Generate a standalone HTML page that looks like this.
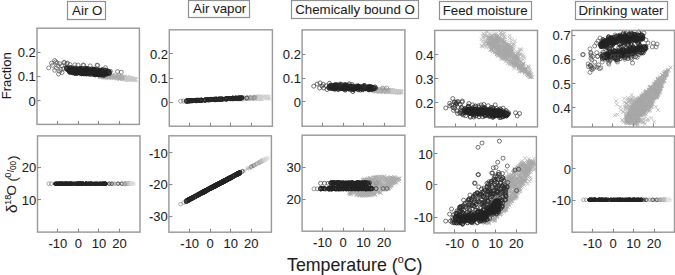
<!DOCTYPE html>
<html><head><meta charset="utf-8"><style>
html,body{margin:0;padding:0;background:#fff;width:675px;height:275px;overflow:hidden}
svg{display:block;font-family:"Liberation Sans",sans-serif} text{stroke:#222;stroke-width:0.08px}
</style></head><body>
<svg width="675" height="275" viewBox="0 0 675 275">
<defs><clipPath id="p1t"><rect x="37.5" y="28.7" width="101.4" height="95.2"/></clipPath><clipPath id="p2t"><rect x="169.8" y="30.3" width="102.09999999999997" height="95.4"/></clipPath><clipPath id="p3t"><rect x="302.6" y="30.4" width="101.79999999999995" height="95.30000000000001"/></clipPath><clipPath id="p4t"><rect x="435.2" y="30.9" width="101.80000000000001" height="95.5"/></clipPath><clipPath id="p5t"><rect x="572.4" y="30.9" width="101.60000000000002" height="95.6"/></clipPath><clipPath id="p1b"><rect x="38.0" y="136.4" width="101.5" height="95.19999999999999"/></clipPath><clipPath id="p2b"><rect x="169.4" y="136.3" width="101.49999999999997" height="95.39999999999998"/></clipPath><clipPath id="p3b"><rect x="302.6" y="135.7" width="101.79999999999995" height="95.0"/></clipPath><clipPath id="p4b"><rect x="434.4" y="137.1" width="101.5" height="95.30000000000001"/></clipPath><clipPath id="p5b"><rect x="572.6" y="136.5" width="101.39999999999998" height="95.19999999999999"/></clipPath></defs>
<path d="M109.9 73.6l3.6 3.6m0 -3.6l-3.6 3.6M117.5 74.8l3.6 3.6m0 -3.6l-3.6 3.6M100.3 75.6l3.6 3.6m0 -3.6l-3.6 3.6M99.5 75.2l3.6 3.6m0 -3.6l-3.6 3.6M100.7 73.2l3.6 3.6m0 -3.6l-3.6 3.6M102.7 74l3.6 3.6m0 -3.6l-3.6 3.6M119 75l3.6 3.6m0 -3.6l-3.6 3.6M103.4 73.4l3.6 3.6m0 -3.6l-3.6 3.6M104.7 76l3.6 3.6m0 -3.6l-3.6 3.6M121.2 74.8l3.6 3.6m0 -3.6l-3.6 3.6M100.3 73.9l3.6 3.6m0 -3.6l-3.6 3.6M122.7 75.1l3.6 3.6m0 -3.6l-3.6 3.6M109.5 76l3.6 3.6m0 -3.6l-3.6 3.6M114.5 74.4l3.6 3.6m0 -3.6l-3.6 3.6M126.8 76.7l3.6 3.6m0 -3.6l-3.6 3.6M107 76l3.6 3.6m0 -3.6l-3.6 3.6M103.7 75.5l3.6 3.6m0 -3.6l-3.6 3.6M125.7 76l3.6 3.6m0 -3.6l-3.6 3.6M123.2 76.1l3.6 3.6m0 -3.6l-3.6 3.6M119.1 75.3l3.6 3.6m0 -3.6l-3.6 3.6M115.3 76.5l3.6 3.6m0 -3.6l-3.6 3.6M112.1 76.5l3.6 3.6m0 -3.6l-3.6 3.6M99 75.3l3.6 3.6m0 -3.6l-3.6 3.6M104.2 73.4l3.6 3.6m0 -3.6l-3.6 3.6M102.9 74.1l3.6 3.6m0 -3.6l-3.6 3.6M101.1 75.3l3.6 3.6m0 -3.6l-3.6 3.6M127.7 77.6l3.6 3.6m0 -3.6l-3.6 3.6M108.2 75.1l3.6 3.6m0 -3.6l-3.6 3.6M104.5 74l3.6 3.6m0 -3.6l-3.6 3.6M106.6 75.5l3.6 3.6m0 -3.6l-3.6 3.6M119.4 74.2l3.6 3.6m0 -3.6l-3.6 3.6M98.3 75.1l3.6 3.6m0 -3.6l-3.6 3.6M111.5 75.9l3.6 3.6m0 -3.6l-3.6 3.6M116.8 76.2l3.6 3.6m0 -3.6l-3.6 3.6M130.6 77.1l3.6 3.6m0 -3.6l-3.6 3.6M129.7 77.2l3.6 3.6m0 -3.6l-3.6 3.6M112.3 75l3.6 3.6m0 -3.6l-3.6 3.6M100.4 73.1l3.6 3.6m0 -3.6l-3.6 3.6M105.7 73.6l3.6 3.6m0 -3.6l-3.6 3.6M110.4 73l3.6 3.6m0 -3.6l-3.6 3.6M98.2 73.6l3.6 3.6m0 -3.6l-3.6 3.6M101.9 74.8l3.6 3.6m0 -3.6l-3.6 3.6M107.3 74.7l3.6 3.6m0 -3.6l-3.6 3.6M111.3 73.4l3.6 3.6m0 -3.6l-3.6 3.6M115 75.5l3.6 3.6m0 -3.6l-3.6 3.6M101.3 73.3l3.6 3.6m0 -3.6l-3.6 3.6M110.5 74.2l3.6 3.6m0 -3.6l-3.6 3.6M129.3 76.7l3.6 3.6m0 -3.6l-3.6 3.6M107.6 74.8l3.6 3.6m0 -3.6l-3.6 3.6M117.4 77.1l3.6 3.6m0 -3.6l-3.6 3.6M110.1 74l3.6 3.6m0 -3.6l-3.6 3.6M128.9 77.3l3.6 3.6m0 -3.6l-3.6 3.6M127.7 76.9l3.6 3.6m0 -3.6l-3.6 3.6M106.4 75.7l3.6 3.6m0 -3.6l-3.6 3.6M111 72.9l3.6 3.6m0 -3.6l-3.6 3.6M99.2 74.3l3.6 3.6m0 -3.6l-3.6 3.6M106.1 74l3.6 3.6m0 -3.6l-3.6 3.6M105.3 73.9l3.6 3.6m0 -3.6l-3.6 3.6M121.7 77.3l3.6 3.6m0 -3.6l-3.6 3.6M131 77.2l3.6 3.6m0 -3.6l-3.6 3.6M125.2 75.4l3.6 3.6m0 -3.6l-3.6 3.6M102.8 73.6l3.6 3.6m0 -3.6l-3.6 3.6M130.8 77.3l3.6 3.6m0 -3.6l-3.6 3.6M110.8 75.8l3.6 3.6m0 -3.6l-3.6 3.6M102.9 72.8l3.6 3.6m0 -3.6l-3.6 3.6M107.3 74.4l3.6 3.6m0 -3.6l-3.6 3.6M106.9 76l3.6 3.6m0 -3.6l-3.6 3.6M107.5 75.1l3.6 3.6m0 -3.6l-3.6 3.6M110.9 75.3l3.6 3.6m0 -3.6l-3.6 3.6M116.3 75.7l3.6 3.6m0 -3.6l-3.6 3.6M114 73.7l3.6 3.6m0 -3.6l-3.6 3.6M104.4 75.4l3.6 3.6m0 -3.6l-3.6 3.6M124.3 75.9l3.6 3.6m0 -3.6l-3.6 3.6M109.9 75.7l3.6 3.6m0 -3.6l-3.6 3.6M118.2 77.2l3.6 3.6m0 -3.6l-3.6 3.6M102 75.9l3.6 3.6m0 -3.6l-3.6 3.6M107.1 74.3l3.6 3.6m0 -3.6l-3.6 3.6M126 75.6l3.6 3.6m0 -3.6l-3.6 3.6M118.4 77l3.6 3.6m0 -3.6l-3.6 3.6M120.3 75.6l3.6 3.6m0 -3.6l-3.6 3.6M116.6 76.6l3.6 3.6m0 -3.6l-3.6 3.6M114.5 75.7l3.6 3.6m0 -3.6l-3.6 3.6M123.4 77.7l3.6 3.6m0 -3.6l-3.6 3.6M102.6 75.2l3.6 3.6m0 -3.6l-3.6 3.6M100.8 74.1l3.6 3.6m0 -3.6l-3.6 3.6M126.4 77.8l3.6 3.6m0 -3.6l-3.6 3.6M112.5 75.5l3.6 3.6m0 -3.6l-3.6 3.6M133.8 77.4l3.6 3.6m0 -3.6l-3.6 3.6M104 75.2l3.6 3.6m0 -3.6l-3.6 3.6M116.8 74.6l3.6 3.6m0 -3.6l-3.6 3.6M105.2 74.5l3.6 3.6m0 -3.6l-3.6 3.6M118.1 75.2l3.6 3.6m0 -3.6l-3.6 3.6M98.9 74.6l3.6 3.6m0 -3.6l-3.6 3.6M120.7 75.6l3.6 3.6m0 -3.6l-3.6 3.6M102 74.2l3.6 3.6m0 -3.6l-3.6 3.6M107.9 73.4l3.6 3.6m0 -3.6l-3.6 3.6M118.7 76.7l3.6 3.6m0 -3.6l-3.6 3.6M101.4 73l3.6 3.6m0 -3.6l-3.6 3.6M123 75.1l3.6 3.6m0 -3.6l-3.6 3.6M121 77.3l3.6 3.6m0 -3.6l-3.6 3.6M114.5 74.6l3.6 3.6m0 -3.6l-3.6 3.6M107.8 73.4l3.6 3.6m0 -3.6l-3.6 3.6M117.2 74.1l3.6 3.6m0 -3.6l-3.6 3.6M102.1 73.6l3.6 3.6m0 -3.6l-3.6 3.6M100 73.9l3.6 3.6m0 -3.6l-3.6 3.6M109.4 74.4l3.6 3.6m0 -3.6l-3.6 3.6M116.2 73.7l3.6 3.6m0 -3.6l-3.6 3.6M110.7 72.8l3.6 3.6m0 -3.6l-3.6 3.6M107.2 72.8l3.6 3.6m0 -3.6l-3.6 3.6M124.6 75.8l3.6 3.6m0 -3.6l-3.6 3.6M105 75.4l3.6 3.6m0 -3.6l-3.6 3.6M112.4 75.6l3.6 3.6m0 -3.6l-3.6 3.6M123.6 76.3l3.6 3.6m0 -3.6l-3.6 3.6M112.8 74.7l3.6 3.6m0 -3.6l-3.6 3.6M100.2 73.4l3.6 3.6m0 -3.6l-3.6 3.6M107.4 73.6l3.6 3.6m0 -3.6l-3.6 3.6M129.5 76.5l3.6 3.6m0 -3.6l-3.6 3.6M108.3 74.1l3.6 3.6m0 -3.6l-3.6 3.6M108.8 75.3l3.6 3.6m0 -3.6l-3.6 3.6M103.9 75.2l3.6 3.6m0 -3.6l-3.6 3.6M109.3 74.7l3.6 3.6m0 -3.6l-3.6 3.6M98.2 74.9l3.6 3.6m0 -3.6l-3.6 3.6M115.3 75.6l3.6 3.6m0 -3.6l-3.6 3.6M105.4 75.6l3.6 3.6m0 -3.6l-3.6 3.6M98.4 74.2l3.6 3.6m0 -3.6l-3.6 3.6M101.4 75l3.6 3.6m0 -3.6l-3.6 3.6M99.7 72.8l3.6 3.6m0 -3.6l-3.6 3.6M109.2 74l3.6 3.6m0 -3.6l-3.6 3.6M119.3 75.7l3.6 3.6m0 -3.6l-3.6 3.6M125.2 76.4l3.6 3.6m0 -3.6l-3.6 3.6M124 77.7l3.6 3.6m0 -3.6l-3.6 3.6M112.2 74.6l3.6 3.6m0 -3.6l-3.6 3.6M124.3 76.4l3.6 3.6m0 -3.6l-3.6 3.6M124.6 77.3l3.6 3.6m0 -3.6l-3.6 3.6M103.2 75.7l3.6 3.6m0 -3.6l-3.6 3.6M127.2 77.4l3.6 3.6m0 -3.6l-3.6 3.6M122.8 76.7l3.6 3.6m0 -3.6l-3.6 3.6M106.5 72.9l3.6 3.6m0 -3.6l-3.6 3.6M103 74.8l3.6 3.6m0 -3.6l-3.6 3.6M118.3 76.3l3.6 3.6m0 -3.6l-3.6 3.6M120.7 76.6l3.6 3.6m0 -3.6l-3.6 3.6M126.9 77l3.6 3.6m0 -3.6l-3.6 3.6M116.3 75.8l3.6 3.6m0 -3.6l-3.6 3.6M100.9 74.2l3.6 3.6m0 -3.6l-3.6 3.6M116 74.9l3.6 3.6m0 -3.6l-3.6 3.6M115.4 76.6l3.6 3.6m0 -3.6l-3.6 3.6M125.8 76.2l3.6 3.6m0 -3.6l-3.6 3.6M103.5 74.1l3.6 3.6m0 -3.6l-3.6 3.6M100.4 74.2l3.6 3.6m0 -3.6l-3.6 3.6M122.4 76.6l3.6 3.6m0 -3.6l-3.6 3.6" fill="none" stroke="#acacac" stroke-width="0.75" clip-path="url(#p1t)"/>
<path d="M129.4 76.7l3.6 3.6m0 -3.6l-3.6 3.6M134 78.3l3.6 3.6m0 -3.6l-3.6 3.6M124.4 76.7l3.6 3.6m0 -3.6l-3.6 3.6M132.4 78.4l3.6 3.6m0 -3.6l-3.6 3.6M126.3 77.1l3.6 3.6m0 -3.6l-3.6 3.6M125.6 76.9l3.6 3.6m0 -3.6l-3.6 3.6M132.4 76.9l3.6 3.6m0 -3.6l-3.6 3.6M133.1 77.5l3.6 3.6m0 -3.6l-3.6 3.6M124.2 76.8l3.6 3.6m0 -3.6l-3.6 3.6M128.7 76.2l3.6 3.6m0 -3.6l-3.6 3.6M125.6 76.3l3.6 3.6m0 -3.6l-3.6 3.6M127.4 78l3.6 3.6m0 -3.6l-3.6 3.6M124.2 77.7l3.6 3.6m0 -3.6l-3.6 3.6M133.5 77.6l3.6 3.6m0 -3.6l-3.6 3.6M127.9 76.5l3.6 3.6m0 -3.6l-3.6 3.6M127.8 76.6l3.6 3.6m0 -3.6l-3.6 3.6M125.2 78l3.6 3.6m0 -3.6l-3.6 3.6M126.7 76.1l3.6 3.6m0 -3.6l-3.6 3.6M133 77.9l3.6 3.6m0 -3.6l-3.6 3.6M130.5 78.2l3.6 3.6m0 -3.6l-3.6 3.6M131.5 76.7l3.6 3.6m0 -3.6l-3.6 3.6M131.7 77.3l3.6 3.6m0 -3.6l-3.6 3.6M128.9 76.3l3.6 3.6m0 -3.6l-3.6 3.6M127.2 77.6l3.6 3.6m0 -3.6l-3.6 3.6M129.8 76.5l3.6 3.6m0 -3.6l-3.6 3.6M125.9 75.7l3.6 3.6m0 -3.6l-3.6 3.6M126.6 76.1l3.6 3.6m0 -3.6l-3.6 3.6M129.9 78.1l3.6 3.6m0 -3.6l-3.6 3.6M128.3 76.9l3.6 3.6m0 -3.6l-3.6 3.6M128 76.3l3.6 3.6m0 -3.6l-3.6 3.6M124.8 76.1l3.6 3.6m0 -3.6l-3.6 3.6M129.2 77.3l3.6 3.6m0 -3.6l-3.6 3.6M126.9 76l3.6 3.6m0 -3.6l-3.6 3.6M128.2 76.7l3.6 3.6m0 -3.6l-3.6 3.6M133.7 78l3.6 3.6m0 -3.6l-3.6 3.6M124.5 77.5l3.6 3.6m0 -3.6l-3.6 3.6M132.5 78l3.6 3.6m0 -3.6l-3.6 3.6M125.3 75.7l3.6 3.6m0 -3.6l-3.6 3.6M129.4 77.5l3.6 3.6m0 -3.6l-3.6 3.6M133.6 77.6l3.6 3.6m0 -3.6l-3.6 3.6" fill="none" stroke="#c8c8c8" stroke-width="0.75" clip-path="url(#p1t)"/>
<path d="M92.1 73.4a2 2 0 1 0 4 0a2 2 0 1 0 -4 0M83.6 71.7a2 2 0 1 0 4 0a2 2 0 1 0 -4 0M92 69.7a2 2 0 1 0 4 0a2 2 0 1 0 -4 0M68.8 69.2a2 2 0 1 0 4 0a2 2 0 1 0 -4 0M91.6 72.9a2 2 0 1 0 4 0a2 2 0 1 0 -4 0M68 67.8a2 2 0 1 0 4 0a2 2 0 1 0 -4 0M86.6 71.9a2 2 0 1 0 4 0a2 2 0 1 0 -4 0M80.5 69a2 2 0 1 0 4 0a2 2 0 1 0 -4 0M76.6 70.9a2 2 0 1 0 4 0a2 2 0 1 0 -4 0M106.2 72.4a2 2 0 1 0 4 0a2 2 0 1 0 -4 0M102.8 71a2 2 0 1 0 4 0a2 2 0 1 0 -4 0M73.6 69.2a2 2 0 1 0 4 0a2 2 0 1 0 -4 0M106.2 72.9a2 2 0 1 0 4 0a2 2 0 1 0 -4 0M85.4 72.7a2 2 0 1 0 4 0a2 2 0 1 0 -4 0M81.9 69.3a2 2 0 1 0 4 0a2 2 0 1 0 -4 0M93 74.7a2 2 0 1 0 4 0a2 2 0 1 0 -4 0M78.2 70.6a2 2 0 1 0 4 0a2 2 0 1 0 -4 0M98.9 73.2a2 2 0 1 0 4 0a2 2 0 1 0 -4 0M85.7 68.9a2 2 0 1 0 4 0a2 2 0 1 0 -4 0M73 73.4a2 2 0 1 0 4 0a2 2 0 1 0 -4 0M85.3 68.7a2 2 0 1 0 4 0a2 2 0 1 0 -4 0M73 70.6a2 2 0 1 0 4 0a2 2 0 1 0 -4 0M69.6 70.4a2 2 0 1 0 4 0a2 2 0 1 0 -4 0M69.4 67.6a2 2 0 1 0 4 0a2 2 0 1 0 -4 0M103.4 74.4a2 2 0 1 0 4 0a2 2 0 1 0 -4 0M92.9 70.3a2 2 0 1 0 4 0a2 2 0 1 0 -4 0M79.8 69.9a2 2 0 1 0 4 0a2 2 0 1 0 -4 0M75.6 70a2 2 0 1 0 4 0a2 2 0 1 0 -4 0M100 70.7a2 2 0 1 0 4 0a2 2 0 1 0 -4 0M71.7 70.2a2 2 0 1 0 4 0a2 2 0 1 0 -4 0M81.5 73.8a2 2 0 1 0 4 0a2 2 0 1 0 -4 0M64.6 67.7a2 2 0 1 0 4 0a2 2 0 1 0 -4 0M96.6 74.5a2 2 0 1 0 4 0a2 2 0 1 0 -4 0M78.3 69.4a2 2 0 1 0 4 0a2 2 0 1 0 -4 0M106.1 72.2a2 2 0 1 0 4 0a2 2 0 1 0 -4 0M74.8 73a2 2 0 1 0 4 0a2 2 0 1 0 -4 0M77.2 69.4a2 2 0 1 0 4 0a2 2 0 1 0 -4 0M104.2 72.3a2 2 0 1 0 4 0a2 2 0 1 0 -4 0M73.5 71a2 2 0 1 0 4 0a2 2 0 1 0 -4 0M80.4 69.2a2 2 0 1 0 4 0a2 2 0 1 0 -4 0M82.3 71.2a2 2 0 1 0 4 0a2 2 0 1 0 -4 0M99.1 73.2a2 2 0 1 0 4 0a2 2 0 1 0 -4 0M100 73.5a2 2 0 1 0 4 0a2 2 0 1 0 -4 0M90.3 69.9a2 2 0 1 0 4 0a2 2 0 1 0 -4 0M77.4 70.1a2 2 0 1 0 4 0a2 2 0 1 0 -4 0M67.3 71.2a2 2 0 1 0 4 0a2 2 0 1 0 -4 0M94.9 70.8a2 2 0 1 0 4 0a2 2 0 1 0 -4 0M73.5 70.6a2 2 0 1 0 4 0a2 2 0 1 0 -4 0M90.9 72.7a2 2 0 1 0 4 0a2 2 0 1 0 -4 0M96.7 74.1a2 2 0 1 0 4 0a2 2 0 1 0 -4 0M88.5 70.2a2 2 0 1 0 4 0a2 2 0 1 0 -4 0M74.1 69.2a2 2 0 1 0 4 0a2 2 0 1 0 -4 0M89 69.8a2 2 0 1 0 4 0a2 2 0 1 0 -4 0M85.8 69.1a2 2 0 1 0 4 0a2 2 0 1 0 -4 0M99.4 72.5a2 2 0 1 0 4 0a2 2 0 1 0 -4 0M84.4 73.8a2 2 0 1 0 4 0a2 2 0 1 0 -4 0M100.8 74.6a2 2 0 1 0 4 0a2 2 0 1 0 -4 0M68.4 68.7a2 2 0 1 0 4 0a2 2 0 1 0 -4 0M106.8 71.9a2 2 0 1 0 4 0a2 2 0 1 0 -4 0M102 70.8a2 2 0 1 0 4 0a2 2 0 1 0 -4 0M74.7 73.5a2 2 0 1 0 4 0a2 2 0 1 0 -4 0M89.8 72.2a2 2 0 1 0 4 0a2 2 0 1 0 -4 0M72.8 70.2a2 2 0 1 0 4 0a2 2 0 1 0 -4 0M69.4 68.9a2 2 0 1 0 4 0a2 2 0 1 0 -4 0M74.5 72.1a2 2 0 1 0 4 0a2 2 0 1 0 -4 0M77 68.8a2 2 0 1 0 4 0a2 2 0 1 0 -4 0M98.8 71.6a2 2 0 1 0 4 0a2 2 0 1 0 -4 0M65.8 68a2 2 0 1 0 4 0a2 2 0 1 0 -4 0M80.8 71.7a2 2 0 1 0 4 0a2 2 0 1 0 -4 0M70.4 72.8a2 2 0 1 0 4 0a2 2 0 1 0 -4 0M81.4 69.5a2 2 0 1 0 4 0a2 2 0 1 0 -4 0M77.1 71.8a2 2 0 1 0 4 0a2 2 0 1 0 -4 0M79.1 70.6a2 2 0 1 0 4 0a2 2 0 1 0 -4 0M101.9 75.3a2 2 0 1 0 4 0a2 2 0 1 0 -4 0M79.4 68.8a2 2 0 1 0 4 0a2 2 0 1 0 -4 0M82.1 73.8a2 2 0 1 0 4 0a2 2 0 1 0 -4 0M83.7 68.5a2 2 0 1 0 4 0a2 2 0 1 0 -4 0M91.8 74.6a2 2 0 1 0 4 0a2 2 0 1 0 -4 0M79.7 71.3a2 2 0 1 0 4 0a2 2 0 1 0 -4 0M69.6 69.5a2 2 0 1 0 4 0a2 2 0 1 0 -4 0M67.9 71.2a2 2 0 1 0 4 0a2 2 0 1 0 -4 0M99.2 75a2 2 0 1 0 4 0a2 2 0 1 0 -4 0M71.9 68.2a2 2 0 1 0 4 0a2 2 0 1 0 -4 0M104.7 70.3a2 2 0 1 0 4 0a2 2 0 1 0 -4 0M103.7 72.2a2 2 0 1 0 4 0a2 2 0 1 0 -4 0M72.8 70.4a2 2 0 1 0 4 0a2 2 0 1 0 -4 0M86.3 70.3a2 2 0 1 0 4 0a2 2 0 1 0 -4 0M68.5 69.2a2 2 0 1 0 4 0a2 2 0 1 0 -4 0M95.6 74.5a2 2 0 1 0 4 0a2 2 0 1 0 -4 0M90 71.7a2 2 0 1 0 4 0a2 2 0 1 0 -4 0M91.2 69.7a2 2 0 1 0 4 0a2 2 0 1 0 -4 0M81.9 71.9a2 2 0 1 0 4 0a2 2 0 1 0 -4 0M82.2 72.5a2 2 0 1 0 4 0a2 2 0 1 0 -4 0M83.1 70.8a2 2 0 1 0 4 0a2 2 0 1 0 -4 0M85 69.1a2 2 0 1 0 4 0a2 2 0 1 0 -4 0M97.4 73.5a2 2 0 1 0 4 0a2 2 0 1 0 -4 0M83.6 68.7a2 2 0 1 0 4 0a2 2 0 1 0 -4 0M68.8 70.7a2 2 0 1 0 4 0a2 2 0 1 0 -4 0M67.1 70.8a2 2 0 1 0 4 0a2 2 0 1 0 -4 0M96 73.5a2 2 0 1 0 4 0a2 2 0 1 0 -4 0M85.7 70.3a2 2 0 1 0 4 0a2 2 0 1 0 -4 0M101.6 75.3a2 2 0 1 0 4 0a2 2 0 1 0 -4 0M95.9 73.8a2 2 0 1 0 4 0a2 2 0 1 0 -4 0M98.5 74.7a2 2 0 1 0 4 0a2 2 0 1 0 -4 0M65.9 70a2 2 0 1 0 4 0a2 2 0 1 0 -4 0M72.4 69.3a2 2 0 1 0 4 0a2 2 0 1 0 -4 0M85.8 69.8a2 2 0 1 0 4 0a2 2 0 1 0 -4 0M64.7 68.7a2 2 0 1 0 4 0a2 2 0 1 0 -4 0M93.6 74.5a2 2 0 1 0 4 0a2 2 0 1 0 -4 0M68.2 71.5a2 2 0 1 0 4 0a2 2 0 1 0 -4 0M91.6 70.1a2 2 0 1 0 4 0a2 2 0 1 0 -4 0M102.3 71.7a2 2 0 1 0 4 0a2 2 0 1 0 -4 0M89.1 74.3a2 2 0 1 0 4 0a2 2 0 1 0 -4 0M91.3 70.4a2 2 0 1 0 4 0a2 2 0 1 0 -4 0M107.6 71.9a2 2 0 1 0 4 0a2 2 0 1 0 -4 0M79.2 73.4a2 2 0 1 0 4 0a2 2 0 1 0 -4 0M82.9 68.6a2 2 0 1 0 4 0a2 2 0 1 0 -4 0M89.4 72.6a2 2 0 1 0 4 0a2 2 0 1 0 -4 0M64.5 68.4a2 2 0 1 0 4 0a2 2 0 1 0 -4 0M90.7 70.7a2 2 0 1 0 4 0a2 2 0 1 0 -4 0M68.9 69a2 2 0 1 0 4 0a2 2 0 1 0 -4 0M67.8 70.1a2 2 0 1 0 4 0a2 2 0 1 0 -4 0M73.1 71.9a2 2 0 1 0 4 0a2 2 0 1 0 -4 0M89.5 68.9a2 2 0 1 0 4 0a2 2 0 1 0 -4 0M91.1 71a2 2 0 1 0 4 0a2 2 0 1 0 -4 0M74 68.4a2 2 0 1 0 4 0a2 2 0 1 0 -4 0M102.2 73.5a2 2 0 1 0 4 0a2 2 0 1 0 -4 0M81.1 69.3a2 2 0 1 0 4 0a2 2 0 1 0 -4 0M88.3 70a2 2 0 1 0 4 0a2 2 0 1 0 -4 0M92.1 70.8a2 2 0 1 0 4 0a2 2 0 1 0 -4 0M105.2 73.1a2 2 0 1 0 4 0a2 2 0 1 0 -4 0M81.3 69.1a2 2 0 1 0 4 0a2 2 0 1 0 -4 0M72 72.1a2 2 0 1 0 4 0a2 2 0 1 0 -4 0M85.8 72.4a2 2 0 1 0 4 0a2 2 0 1 0 -4 0M76.9 69.6a2 2 0 1 0 4 0a2 2 0 1 0 -4 0M98.2 73a2 2 0 1 0 4 0a2 2 0 1 0 -4 0M96.5 71a2 2 0 1 0 4 0a2 2 0 1 0 -4 0M96.4 70.9a2 2 0 1 0 4 0a2 2 0 1 0 -4 0M73.2 68.1a2 2 0 1 0 4 0a2 2 0 1 0 -4 0M78.1 73.3a2 2 0 1 0 4 0a2 2 0 1 0 -4 0M94.3 74a2 2 0 1 0 4 0a2 2 0 1 0 -4 0M95 69.4a2 2 0 1 0 4 0a2 2 0 1 0 -4 0M87.9 70.7a2 2 0 1 0 4 0a2 2 0 1 0 -4 0M98.5 71.4a2 2 0 1 0 4 0a2 2 0 1 0 -4 0M74.9 72.4a2 2 0 1 0 4 0a2 2 0 1 0 -4 0M74.7 69.1a2 2 0 1 0 4 0a2 2 0 1 0 -4 0M96.5 74.9a2 2 0 1 0 4 0a2 2 0 1 0 -4 0M96.6 69.8a2 2 0 1 0 4 0a2 2 0 1 0 -4 0M102.6 69.9a2 2 0 1 0 4 0a2 2 0 1 0 -4 0M91.4 72.8a2 2 0 1 0 4 0a2 2 0 1 0 -4 0M84.1 74a2 2 0 1 0 4 0a2 2 0 1 0 -4 0M94.4 74.1a2 2 0 1 0 4 0a2 2 0 1 0 -4 0M82.7 73.1a2 2 0 1 0 4 0a2 2 0 1 0 -4 0M88.7 69.7a2 2 0 1 0 4 0a2 2 0 1 0 -4 0M72.5 72.2a2 2 0 1 0 4 0a2 2 0 1 0 -4 0M78.5 68.3a2 2 0 1 0 4 0a2 2 0 1 0 -4 0M64.3 67.5a2 2 0 1 0 4 0a2 2 0 1 0 -4 0M94.2 72.3a2 2 0 1 0 4 0a2 2 0 1 0 -4 0M94.4 73.2a2 2 0 1 0 4 0a2 2 0 1 0 -4 0M79.4 73.8a2 2 0 1 0 4 0a2 2 0 1 0 -4 0M99.9 74.4a2 2 0 1 0 4 0a2 2 0 1 0 -4 0M67.8 68.9a2 2 0 1 0 4 0a2 2 0 1 0 -4 0M101.1 73.8a2 2 0 1 0 4 0a2 2 0 1 0 -4 0M91.5 73.9a2 2 0 1 0 4 0a2 2 0 1 0 -4 0M91.4 69.5a2 2 0 1 0 4 0a2 2 0 1 0 -4 0M67.5 68a2 2 0 1 0 4 0a2 2 0 1 0 -4 0M77.4 70.6a2 2 0 1 0 4 0a2 2 0 1 0 -4 0M75.7 73a2 2 0 1 0 4 0a2 2 0 1 0 -4 0M79.6 69.8a2 2 0 1 0 4 0a2 2 0 1 0 -4 0M106.4 71.3a2 2 0 1 0 4 0a2 2 0 1 0 -4 0M101.3 72.2a2 2 0 1 0 4 0a2 2 0 1 0 -4 0M82.6 73.5a2 2 0 1 0 4 0a2 2 0 1 0 -4 0M78.6 72.9a2 2 0 1 0 4 0a2 2 0 1 0 -4 0M87.2 69a2 2 0 1 0 4 0a2 2 0 1 0 -4 0M85.1 73.7a2 2 0 1 0 4 0a2 2 0 1 0 -4 0M71.3 71.2a2 2 0 1 0 4 0a2 2 0 1 0 -4 0M75.8 68.9a2 2 0 1 0 4 0a2 2 0 1 0 -4 0M94.5 71.2a2 2 0 1 0 4 0a2 2 0 1 0 -4 0M67.9 72.4a2 2 0 1 0 4 0a2 2 0 1 0 -4 0M94.4 73.6a2 2 0 1 0 4 0a2 2 0 1 0 -4 0M91.3 70.1a2 2 0 1 0 4 0a2 2 0 1 0 -4 0M81.1 70.4a2 2 0 1 0 4 0a2 2 0 1 0 -4 0M72.3 69.3a2 2 0 1 0 4 0a2 2 0 1 0 -4 0M103.6 71.3a2 2 0 1 0 4 0a2 2 0 1 0 -4 0M73.5 70.9a2 2 0 1 0 4 0a2 2 0 1 0 -4 0M86.9 73.3a2 2 0 1 0 4 0a2 2 0 1 0 -4 0M96.9 72.4a2 2 0 1 0 4 0a2 2 0 1 0 -4 0M78.7 69.8a2 2 0 1 0 4 0a2 2 0 1 0 -4 0M92.8 73.2a2 2 0 1 0 4 0a2 2 0 1 0 -4 0M70.6 70.8a2 2 0 1 0 4 0a2 2 0 1 0 -4 0M97.8 71.9a2 2 0 1 0 4 0a2 2 0 1 0 -4 0M68.7 70.9a2 2 0 1 0 4 0a2 2 0 1 0 -4 0M71.6 69.6a2 2 0 1 0 4 0a2 2 0 1 0 -4 0M94.6 74a2 2 0 1 0 4 0a2 2 0 1 0 -4 0M70 68.5a2 2 0 1 0 4 0a2 2 0 1 0 -4 0M74.1 69.8a2 2 0 1 0 4 0a2 2 0 1 0 -4 0M77.8 68.7a2 2 0 1 0 4 0a2 2 0 1 0 -4 0M106.9 73.1a2 2 0 1 0 4 0a2 2 0 1 0 -4 0M67.6 70.3a2 2 0 1 0 4 0a2 2 0 1 0 -4 0M107.3 73.6a2 2 0 1 0 4 0a2 2 0 1 0 -4 0M96 70.7a2 2 0 1 0 4 0a2 2 0 1 0 -4 0M71.8 72.4a2 2 0 1 0 4 0a2 2 0 1 0 -4 0M67.8 68.9a2 2 0 1 0 4 0a2 2 0 1 0 -4 0M81 73.6a2 2 0 1 0 4 0a2 2 0 1 0 -4 0M94.2 71.3a2 2 0 1 0 4 0a2 2 0 1 0 -4 0M91.5 71a2 2 0 1 0 4 0a2 2 0 1 0 -4 0M69.4 72.1a2 2 0 1 0 4 0a2 2 0 1 0 -4 0M81.2 73.2a2 2 0 1 0 4 0a2 2 0 1 0 -4 0M103.9 70.7a2 2 0 1 0 4 0a2 2 0 1 0 -4 0M88.8 73.3a2 2 0 1 0 4 0a2 2 0 1 0 -4 0M82 69.1a2 2 0 1 0 4 0a2 2 0 1 0 -4 0M95.5 74.3a2 2 0 1 0 4 0a2 2 0 1 0 -4 0M97.8 72.9a2 2 0 1 0 4 0a2 2 0 1 0 -4 0M101.4 72.7a2 2 0 1 0 4 0a2 2 0 1 0 -4 0M91.9 70.9a2 2 0 1 0 4 0a2 2 0 1 0 -4 0M77.1 72.3a2 2 0 1 0 4 0a2 2 0 1 0 -4 0M67.4 70.6a2 2 0 1 0 4 0a2 2 0 1 0 -4 0M98.2 73a2 2 0 1 0 4 0a2 2 0 1 0 -4 0M91.3 69.2a2 2 0 1 0 4 0a2 2 0 1 0 -4 0M82.1 70.9a2 2 0 1 0 4 0a2 2 0 1 0 -4 0M91 70.5a2 2 0 1 0 4 0a2 2 0 1 0 -4 0M93.4 74.7a2 2 0 1 0 4 0a2 2 0 1 0 -4 0M71.2 72.5a2 2 0 1 0 4 0a2 2 0 1 0 -4 0M98 70.3a2 2 0 1 0 4 0a2 2 0 1 0 -4 0M105.3 71.4a2 2 0 1 0 4 0a2 2 0 1 0 -4 0M67.5 71.9a2 2 0 1 0 4 0a2 2 0 1 0 -4 0M87.3 73a2 2 0 1 0 4 0a2 2 0 1 0 -4 0M86 72.4a2 2 0 1 0 4 0a2 2 0 1 0 -4 0M100.3 71.4a2 2 0 1 0 4 0a2 2 0 1 0 -4 0M72.5 72.7a2 2 0 1 0 4 0a2 2 0 1 0 -4 0M80.7 73.4a2 2 0 1 0 4 0a2 2 0 1 0 -4 0M75.3 70.4a2 2 0 1 0 4 0a2 2 0 1 0 -4 0M81.9 72.9a2 2 0 1 0 4 0a2 2 0 1 0 -4 0M78.8 69.3a2 2 0 1 0 4 0a2 2 0 1 0 -4 0M73.1 73.2a2 2 0 1 0 4 0a2 2 0 1 0 -4 0M105.3 71.5a2 2 0 1 0 4 0a2 2 0 1 0 -4 0M80.6 68.9a2 2 0 1 0 4 0a2 2 0 1 0 -4 0M99.4 72.3a2 2 0 1 0 4 0a2 2 0 1 0 -4 0M84.1 71.8a2 2 0 1 0 4 0a2 2 0 1 0 -4 0M78.9 72.4a2 2 0 1 0 4 0a2 2 0 1 0 -4 0M99.8 73.8a2 2 0 1 0 4 0a2 2 0 1 0 -4 0M84.1 69.6a2 2 0 1 0 4 0a2 2 0 1 0 -4 0M100.5 70.1a2 2 0 1 0 4 0a2 2 0 1 0 -4 0M79.9 69.3a2 2 0 1 0 4 0a2 2 0 1 0 -4 0M82.2 68.7a2 2 0 1 0 4 0a2 2 0 1 0 -4 0M75.7 69.2a2 2 0 1 0 4 0a2 2 0 1 0 -4 0M76.6 71.1a2 2 0 1 0 4 0a2 2 0 1 0 -4 0M82.3 72.4a2 2 0 1 0 4 0a2 2 0 1 0 -4 0M92.7 70.1a2 2 0 1 0 4 0a2 2 0 1 0 -4 0M104.8 74.1a2 2 0 1 0 4 0a2 2 0 1 0 -4 0M103.8 73.6a2 2 0 1 0 4 0a2 2 0 1 0 -4 0M92.5 69.2a2 2 0 1 0 4 0a2 2 0 1 0 -4 0M67.6 68.4a2 2 0 1 0 4 0a2 2 0 1 0 -4 0M78.6 68.4a2 2 0 1 0 4 0a2 2 0 1 0 -4 0M103.7 73.6a2 2 0 1 0 4 0a2 2 0 1 0 -4 0M90.4 73.5a2 2 0 1 0 4 0a2 2 0 1 0 -4 0M93.1 74.4a2 2 0 1 0 4 0a2 2 0 1 0 -4 0M98.5 74a2 2 0 1 0 4 0a2 2 0 1 0 -4 0M71.9 72.8a2 2 0 1 0 4 0a2 2 0 1 0 -4 0M86.9 73.2a2 2 0 1 0 4 0a2 2 0 1 0 -4 0M88 69.3a2 2 0 1 0 4 0a2 2 0 1 0 -4 0M73.5 68.3a2 2 0 1 0 4 0a2 2 0 1 0 -4 0M85.1 71.2a2 2 0 1 0 4 0a2 2 0 1 0 -4 0M87.3 74.2a2 2 0 1 0 4 0a2 2 0 1 0 -4 0M84.1 71.8a2 2 0 1 0 4 0a2 2 0 1 0 -4 0M92.9 74a2 2 0 1 0 4 0a2 2 0 1 0 -4 0M79.9 70.6a2 2 0 1 0 4 0a2 2 0 1 0 -4 0M91.7 72.4a2 2 0 1 0 4 0a2 2 0 1 0 -4 0M93.7 74.7a2 2 0 1 0 4 0a2 2 0 1 0 -4 0M86 71.1a2 2 0 1 0 4 0a2 2 0 1 0 -4 0M95.3 72.3a2 2 0 1 0 4 0a2 2 0 1 0 -4 0M79.5 71a2 2 0 1 0 4 0a2 2 0 1 0 -4 0M86.6 73.4a2 2 0 1 0 4 0a2 2 0 1 0 -4 0M72.5 70.7a2 2 0 1 0 4 0a2 2 0 1 0 -4 0M82 71.7a2 2 0 1 0 4 0a2 2 0 1 0 -4 0M100.2 69.6a2 2 0 1 0 4 0a2 2 0 1 0 -4 0M100.2 70.5a2 2 0 1 0 4 0a2 2 0 1 0 -4 0M85.7 69.4a2 2 0 1 0 4 0a2 2 0 1 0 -4 0M92.5 73.6a2 2 0 1 0 4 0a2 2 0 1 0 -4 0M77.9 69.8a2 2 0 1 0 4 0a2 2 0 1 0 -4 0M76.5 72a2 2 0 1 0 4 0a2 2 0 1 0 -4 0M91.6 73.6a2 2 0 1 0 4 0a2 2 0 1 0 -4 0M102.9 71.6a2 2 0 1 0 4 0a2 2 0 1 0 -4 0M65.2 69.6a2 2 0 1 0 4 0a2 2 0 1 0 -4 0M104.5 72.1a2 2 0 1 0 4 0a2 2 0 1 0 -4 0M92.6 73.6a2 2 0 1 0 4 0a2 2 0 1 0 -4 0M103.9 72.2a2 2 0 1 0 4 0a2 2 0 1 0 -4 0M90.8 72.3a2 2 0 1 0 4 0a2 2 0 1 0 -4 0M94.3 72a2 2 0 1 0 4 0a2 2 0 1 0 -4 0M93 70.9a2 2 0 1 0 4 0a2 2 0 1 0 -4 0" fill="none" stroke="#222" stroke-width="0.8"/>
<path d="M46.7 67.9a2 2 0 1 0 4 0a2 2 0 1 0 -4 0M49.5 63.2a2 2 0 1 0 4 0a2 2 0 1 0 -4 0M52.7 60.5a2 2 0 1 0 4 0a2 2 0 1 0 -4 0M53.8 61.8a2 2 0 1 0 4 0a2 2 0 1 0 -4 0M50.6 65.4a2 2 0 1 0 4 0a2 2 0 1 0 -4 0M52.7 70.3a2 2 0 1 0 4 0a2 2 0 1 0 -4 0M54.4 68.1a2 2 0 1 0 4 0a2 2 0 1 0 -4 0M56 65.9a2 2 0 1 0 4 0a2 2 0 1 0 -4 0M57.7 63.7a2 2 0 1 0 4 0a2 2 0 1 0 -4 0M59.8 65.9a2 2 0 1 0 4 0a2 2 0 1 0 -4 0M62.6 62.6a2 2 0 1 0 4 0a2 2 0 1 0 -4 0M64.7 63.7a2 2 0 1 0 4 0a2 2 0 1 0 -4 0M61.5 68.6a2 2 0 1 0 4 0a2 2 0 1 0 -4 0M57.7 71.4a2 2 0 1 0 4 0a2 2 0 1 0 -4 0M72.9 64.8a2 2 0 1 0 4 0a2 2 0 1 0 -4 0M81.7 65.4a2 2 0 1 0 4 0a2 2 0 1 0 -4 0M88.2 65.9a2 2 0 1 0 4 0a2 2 0 1 0 -4 0M95.1 65.2a2 2 0 1 0 4 0a2 2 0 1 0 -4 0M103.4 67.7a2 2 0 1 0 4 0a2 2 0 1 0 -4 0M108.5 71.3a2 2 0 1 0 4 0a2 2 0 1 0 -4 0M115.5 71.6a2 2 0 1 0 4 0a2 2 0 1 0 -4 0M119.3 72.2a2 2 0 1 0 4 0a2 2 0 1 0 -4 0M61.9 62.4a2 2 0 1 0 4 0a2 2 0 1 0 -4 0M65.4 63.2a2 2 0 1 0 4 0a2 2 0 1 0 -4 0M81.1 65a2 2 0 1 0 4 0a2 2 0 1 0 -4 0M95.6 65.4a2 2 0 1 0 4 0a2 2 0 1 0 -4 0M55 63a2 2 0 1 0 4 0a2 2 0 1 0 -4 0M59 69.5a2 2 0 1 0 4 0a2 2 0 1 0 -4 0M60 72.5a2 2 0 1 0 4 0a2 2 0 1 0 -4 0M56.5 74a2 2 0 1 0 4 0a2 2 0 1 0 -4 0M68 64.5a2 2 0 1 0 4 0a2 2 0 1 0 -4 0M76 65a2 2 0 1 0 4 0a2 2 0 1 0 -4 0" fill="none" stroke="#4a4a4a" stroke-width="0.65"/>
<path d="M254.5 94.8l3.6 3.6m0 -3.6l-3.6 3.6M251.9 95.7l3.6 3.6m0 -3.6l-3.6 3.6M255.9 97.1l3.6 3.6m0 -3.6l-3.6 3.6M249.7 95.4l3.6 3.6m0 -3.6l-3.6 3.6M243.4 95.9l3.6 3.6m0 -3.6l-3.6 3.6M243.8 95.9l3.6 3.6m0 -3.6l-3.6 3.6M237.5 96.4l3.6 3.6m0 -3.6l-3.6 3.6M255.6 96.4l3.6 3.6m0 -3.6l-3.6 3.6M258.2 96l3.6 3.6m0 -3.6l-3.6 3.6M236.5 95.8l3.6 3.6m0 -3.6l-3.6 3.6M259.7 96.1l3.6 3.6m0 -3.6l-3.6 3.6M246.1 94.8l3.6 3.6m0 -3.6l-3.6 3.6M251.7 95.2l3.6 3.6m0 -3.6l-3.6 3.6M236.3 96.8l3.6 3.6m0 -3.6l-3.6 3.6M239.1 97.7l3.6 3.6m0 -3.6l-3.6 3.6M238.3 97.4l3.6 3.6m0 -3.6l-3.6 3.6M253.5 95.3l3.6 3.6m0 -3.6l-3.6 3.6M253.8 95.1l3.6 3.6m0 -3.6l-3.6 3.6M237.4 97.1l3.6 3.6m0 -3.6l-3.6 3.6M253.3 97.3l3.6 3.6m0 -3.6l-3.6 3.6M253.7 94.8l3.6 3.6m0 -3.6l-3.6 3.6M251.3 96.8l3.6 3.6m0 -3.6l-3.6 3.6M236.6 96.6l3.6 3.6m0 -3.6l-3.6 3.6M255.8 94.8l3.6 3.6m0 -3.6l-3.6 3.6M243.7 96.9l3.6 3.6m0 -3.6l-3.6 3.6M240.2 97.3l3.6 3.6m0 -3.6l-3.6 3.6M245 96.4l3.6 3.6m0 -3.6l-3.6 3.6M246.7 96.7l3.6 3.6m0 -3.6l-3.6 3.6M239.7 97.1l3.6 3.6m0 -3.6l-3.6 3.6M244.9 96.6l3.6 3.6m0 -3.6l-3.6 3.6M251.3 95.9l3.6 3.6m0 -3.6l-3.6 3.6M245.5 97.1l3.6 3.6m0 -3.6l-3.6 3.6M258.9 97.1l3.6 3.6m0 -3.6l-3.6 3.6M249.8 95.5l3.6 3.6m0 -3.6l-3.6 3.6M237.7 97.7l3.6 3.6m0 -3.6l-3.6 3.6M253.1 97.2l3.6 3.6m0 -3.6l-3.6 3.6M244.2 96.5l3.6 3.6m0 -3.6l-3.6 3.6M250.6 95.5l3.6 3.6m0 -3.6l-3.6 3.6M246.5 97.4l3.6 3.6m0 -3.6l-3.6 3.6M245.2 96.8l3.6 3.6m0 -3.6l-3.6 3.6M255.6 95.4l3.6 3.6m0 -3.6l-3.6 3.6M236.2 95.4l3.6 3.6m0 -3.6l-3.6 3.6M246.3 96.4l3.6 3.6m0 -3.6l-3.6 3.6M237.2 97.2l3.6 3.6m0 -3.6l-3.6 3.6M249.9 95.4l3.6 3.6m0 -3.6l-3.6 3.6M256.6 97.2l3.6 3.6m0 -3.6l-3.6 3.6M249.5 97.1l3.6 3.6m0 -3.6l-3.6 3.6M241 97l3.6 3.6m0 -3.6l-3.6 3.6M258.6 95.3l3.6 3.6m0 -3.6l-3.6 3.6M250.8 96.7l3.6 3.6m0 -3.6l-3.6 3.6M247.4 95.2l3.6 3.6m0 -3.6l-3.6 3.6M242.3 97l3.6 3.6m0 -3.6l-3.6 3.6M255.2 96l3.6 3.6m0 -3.6l-3.6 3.6M238.3 97.2l3.6 3.6m0 -3.6l-3.6 3.6M254.7 95.3l3.6 3.6m0 -3.6l-3.6 3.6M257.4 96.2l3.6 3.6m0 -3.6l-3.6 3.6M247.6 96.4l3.6 3.6m0 -3.6l-3.6 3.6M240.7 95.1l3.6 3.6m0 -3.6l-3.6 3.6M240.5 96.8l3.6 3.6m0 -3.6l-3.6 3.6M244.9 96.4l3.6 3.6m0 -3.6l-3.6 3.6M245.9 96.2l3.6 3.6m0 -3.6l-3.6 3.6M260.1 95.7l3.6 3.6m0 -3.6l-3.6 3.6M238.7 96.6l3.6 3.6m0 -3.6l-3.6 3.6M255.1 95l3.6 3.6m0 -3.6l-3.6 3.6M250.5 95.6l3.6 3.6m0 -3.6l-3.6 3.6M237 97.8l3.6 3.6m0 -3.6l-3.6 3.6M257 96.1l3.6 3.6m0 -3.6l-3.6 3.6M249.8 95.4l3.6 3.6m0 -3.6l-3.6 3.6M254.9 95.9l3.6 3.6m0 -3.6l-3.6 3.6M258.9 97l3.6 3.6m0 -3.6l-3.6 3.6M241 95.1l3.6 3.6m0 -3.6l-3.6 3.6M249.6 97.4l3.6 3.6m0 -3.6l-3.6 3.6M258 94.7l3.6 3.6m0 -3.6l-3.6 3.6M250.6 95.8l3.6 3.6m0 -3.6l-3.6 3.6M239.1 97.7l3.6 3.6m0 -3.6l-3.6 3.6M242.4 96.4l3.6 3.6m0 -3.6l-3.6 3.6M252.3 95.8l3.6 3.6m0 -3.6l-3.6 3.6M247 95l3.6 3.6m0 -3.6l-3.6 3.6M242.3 95.7l3.6 3.6m0 -3.6l-3.6 3.6M256.3 94.7l3.6 3.6m0 -3.6l-3.6 3.6" fill="none" stroke="#b0b0b0" stroke-width="0.75" clip-path="url(#p2t)"/>
<path d="M265.6 96.3l3.6 3.6m0 -3.6l-3.6 3.6M256.9 94.6l3.6 3.6m0 -3.6l-3.6 3.6M265.3 97l3.6 3.6m0 -3.6l-3.6 3.6M264.3 95.1l3.6 3.6m0 -3.6l-3.6 3.6M263.3 96.5l3.6 3.6m0 -3.6l-3.6 3.6M257.5 95.2l3.6 3.6m0 -3.6l-3.6 3.6M259.3 94.6l3.6 3.6m0 -3.6l-3.6 3.6M262 94.7l3.6 3.6m0 -3.6l-3.6 3.6M259.1 94.6l3.6 3.6m0 -3.6l-3.6 3.6M264.8 94.8l3.6 3.6m0 -3.6l-3.6 3.6M256.6 97l3.6 3.6m0 -3.6l-3.6 3.6M258.8 97l3.6 3.6m0 -3.6l-3.6 3.6M266.6 96.9l3.6 3.6m0 -3.6l-3.6 3.6M257.9 95.5l3.6 3.6m0 -3.6l-3.6 3.6M257.4 97l3.6 3.6m0 -3.6l-3.6 3.6M266.3 96.1l3.6 3.6m0 -3.6l-3.6 3.6M261.6 95.2l3.6 3.6m0 -3.6l-3.6 3.6M266.1 95.6l3.6 3.6m0 -3.6l-3.6 3.6M263.7 94.6l3.6 3.6m0 -3.6l-3.6 3.6M264.8 95.9l3.6 3.6m0 -3.6l-3.6 3.6M257.9 96.8l3.6 3.6m0 -3.6l-3.6 3.6M259.4 95.4l3.6 3.6m0 -3.6l-3.6 3.6M258.1 95l3.6 3.6m0 -3.6l-3.6 3.6M266.3 95.2l3.6 3.6m0 -3.6l-3.6 3.6M258.2 95.7l3.6 3.6m0 -3.6l-3.6 3.6M260 96.9l3.6 3.6m0 -3.6l-3.6 3.6M257.6 97.1l3.6 3.6m0 -3.6l-3.6 3.6M256.9 96.9l3.6 3.6m0 -3.6l-3.6 3.6M264.2 94.8l3.6 3.6m0 -3.6l-3.6 3.6M261.9 95.1l3.6 3.6m0 -3.6l-3.6 3.6M259.3 94.8l3.6 3.6m0 -3.6l-3.6 3.6M268.2 97l3.6 3.6m0 -3.6l-3.6 3.6M257.4 95.1l3.6 3.6m0 -3.6l-3.6 3.6M267 94.4l3.6 3.6m0 -3.6l-3.6 3.6M264.9 95.1l3.6 3.6m0 -3.6l-3.6 3.6" fill="none" stroke="#d0d0d0" stroke-width="0.75" clip-path="url(#p2t)"/>
<path d="M239.8 97.9a2 2 0 1 0 4 0a2 2 0 1 0 -4 0M184.9 100.9a2 2 0 1 0 4 0a2 2 0 1 0 -4 0M230 98.7a2 2 0 1 0 4 0a2 2 0 1 0 -4 0M203.4 99.8a2 2 0 1 0 4 0a2 2 0 1 0 -4 0M192 100.4a2 2 0 1 0 4 0a2 2 0 1 0 -4 0M184.1 101.1a2 2 0 1 0 4 0a2 2 0 1 0 -4 0M231.4 98.2a2 2 0 1 0 4 0a2 2 0 1 0 -4 0M214 99.4a2 2 0 1 0 4 0a2 2 0 1 0 -4 0M194.6 100.7a2 2 0 1 0 4 0a2 2 0 1 0 -4 0M208.8 99.6a2 2 0 1 0 4 0a2 2 0 1 0 -4 0M236 98a2 2 0 1 0 4 0a2 2 0 1 0 -4 0M196.4 100.3a2 2 0 1 0 4 0a2 2 0 1 0 -4 0M216.6 99.2a2 2 0 1 0 4 0a2 2 0 1 0 -4 0M191.9 100.4a2 2 0 1 0 4 0a2 2 0 1 0 -4 0M194.3 100.2a2 2 0 1 0 4 0a2 2 0 1 0 -4 0M227.9 98.4a2 2 0 1 0 4 0a2 2 0 1 0 -4 0M224.6 98.6a2 2 0 1 0 4 0a2 2 0 1 0 -4 0M195.2 100.3a2 2 0 1 0 4 0a2 2 0 1 0 -4 0M188.5 100.6a2 2 0 1 0 4 0a2 2 0 1 0 -4 0M189 100.6a2 2 0 1 0 4 0a2 2 0 1 0 -4 0M218.7 98.8a2 2 0 1 0 4 0a2 2 0 1 0 -4 0M212.2 99.5a2 2 0 1 0 4 0a2 2 0 1 0 -4 0M199.6 100.3a2 2 0 1 0 4 0a2 2 0 1 0 -4 0M195.7 100.4a2 2 0 1 0 4 0a2 2 0 1 0 -4 0M218.9 99.1a2 2 0 1 0 4 0a2 2 0 1 0 -4 0M224.3 98.9a2 2 0 1 0 4 0a2 2 0 1 0 -4 0M230.3 98.3a2 2 0 1 0 4 0a2 2 0 1 0 -4 0M217.2 99.3a2 2 0 1 0 4 0a2 2 0 1 0 -4 0M195.5 100.3a2 2 0 1 0 4 0a2 2 0 1 0 -4 0M187.7 100.8a2 2 0 1 0 4 0a2 2 0 1 0 -4 0M225.8 98.8a2 2 0 1 0 4 0a2 2 0 1 0 -4 0M207.3 99.7a2 2 0 1 0 4 0a2 2 0 1 0 -4 0M225.1 98.6a2 2 0 1 0 4 0a2 2 0 1 0 -4 0M187.2 100.7a2 2 0 1 0 4 0a2 2 0 1 0 -4 0M230.2 98.3a2 2 0 1 0 4 0a2 2 0 1 0 -4 0M203.1 100a2 2 0 1 0 4 0a2 2 0 1 0 -4 0M232 98.3a2 2 0 1 0 4 0a2 2 0 1 0 -4 0M233.3 98.3a2 2 0 1 0 4 0a2 2 0 1 0 -4 0M212.1 99.2a2 2 0 1 0 4 0a2 2 0 1 0 -4 0M184.9 100.9a2 2 0 1 0 4 0a2 2 0 1 0 -4 0M235.9 98.4a2 2 0 1 0 4 0a2 2 0 1 0 -4 0M211.2 99.3a2 2 0 1 0 4 0a2 2 0 1 0 -4 0M233.7 98.3a2 2 0 1 0 4 0a2 2 0 1 0 -4 0M199.2 100.2a2 2 0 1 0 4 0a2 2 0 1 0 -4 0M194.6 100.3a2 2 0 1 0 4 0a2 2 0 1 0 -4 0M231.4 98.7a2 2 0 1 0 4 0a2 2 0 1 0 -4 0M204.9 99.7a2 2 0 1 0 4 0a2 2 0 1 0 -4 0M193.3 100.7a2 2 0 1 0 4 0a2 2 0 1 0 -4 0M205.2 99.6a2 2 0 1 0 4 0a2 2 0 1 0 -4 0M217.9 98.9a2 2 0 1 0 4 0a2 2 0 1 0 -4 0M184.3 101.2a2 2 0 1 0 4 0a2 2 0 1 0 -4 0M213.6 99.3a2 2 0 1 0 4 0a2 2 0 1 0 -4 0M209.4 99.3a2 2 0 1 0 4 0a2 2 0 1 0 -4 0M213.4 99.3a2 2 0 1 0 4 0a2 2 0 1 0 -4 0M190.9 100.6a2 2 0 1 0 4 0a2 2 0 1 0 -4 0M224.7 98.9a2 2 0 1 0 4 0a2 2 0 1 0 -4 0M230.5 98.2a2 2 0 1 0 4 0a2 2 0 1 0 -4 0M233.3 98.1a2 2 0 1 0 4 0a2 2 0 1 0 -4 0M202.3 100.3a2 2 0 1 0 4 0a2 2 0 1 0 -4 0M224.5 98.9a2 2 0 1 0 4 0a2 2 0 1 0 -4 0M205.7 99.6a2 2 0 1 0 4 0a2 2 0 1 0 -4 0M226.8 98.5a2 2 0 1 0 4 0a2 2 0 1 0 -4 0M187.5 100.7a2 2 0 1 0 4 0a2 2 0 1 0 -4 0M233.7 98.4a2 2 0 1 0 4 0a2 2 0 1 0 -4 0M238.4 98.1a2 2 0 1 0 4 0a2 2 0 1 0 -4 0M212.2 99.7a2 2 0 1 0 4 0a2 2 0 1 0 -4 0M213.3 99.6a2 2 0 1 0 4 0a2 2 0 1 0 -4 0M214.2 99.3a2 2 0 1 0 4 0a2 2 0 1 0 -4 0M214.6 99.5a2 2 0 1 0 4 0a2 2 0 1 0 -4 0M185.2 101.1a2 2 0 1 0 4 0a2 2 0 1 0 -4 0M239.1 98.1a2 2 0 1 0 4 0a2 2 0 1 0 -4 0M196.8 100.3a2 2 0 1 0 4 0a2 2 0 1 0 -4 0M194.4 100.6a2 2 0 1 0 4 0a2 2 0 1 0 -4 0M189.9 100.8a2 2 0 1 0 4 0a2 2 0 1 0 -4 0M198.3 100.5a2 2 0 1 0 4 0a2 2 0 1 0 -4 0M230.6 98.2a2 2 0 1 0 4 0a2 2 0 1 0 -4 0M185.7 101.1a2 2 0 1 0 4 0a2 2 0 1 0 -4 0M189.5 100.4a2 2 0 1 0 4 0a2 2 0 1 0 -4 0M223.8 99a2 2 0 1 0 4 0a2 2 0 1 0 -4 0M195.1 100.4a2 2 0 1 0 4 0a2 2 0 1 0 -4 0M185 100.9a2 2 0 1 0 4 0a2 2 0 1 0 -4 0M218.2 99.4a2 2 0 1 0 4 0a2 2 0 1 0 -4 0M216.9 99.2a2 2 0 1 0 4 0a2 2 0 1 0 -4 0M213.8 99.3a2 2 0 1 0 4 0a2 2 0 1 0 -4 0M224.1 99a2 2 0 1 0 4 0a2 2 0 1 0 -4 0M189.9 100.9a2 2 0 1 0 4 0a2 2 0 1 0 -4 0M233.6 98.3a2 2 0 1 0 4 0a2 2 0 1 0 -4 0M224.9 98.7a2 2 0 1 0 4 0a2 2 0 1 0 -4 0M186.6 100.8a2 2 0 1 0 4 0a2 2 0 1 0 -4 0M191 100.6a2 2 0 1 0 4 0a2 2 0 1 0 -4 0M212.1 99.6a2 2 0 1 0 4 0a2 2 0 1 0 -4 0M212.5 99.3a2 2 0 1 0 4 0a2 2 0 1 0 -4 0M199.9 100.1a2 2 0 1 0 4 0a2 2 0 1 0 -4 0M191 100.7a2 2 0 1 0 4 0a2 2 0 1 0 -4 0M207.1 99.7a2 2 0 1 0 4 0a2 2 0 1 0 -4 0M191.8 100.5a2 2 0 1 0 4 0a2 2 0 1 0 -4 0M217.7 99.3a2 2 0 1 0 4 0a2 2 0 1 0 -4 0M233.1 98.5a2 2 0 1 0 4 0a2 2 0 1 0 -4 0M192.4 100.5a2 2 0 1 0 4 0a2 2 0 1 0 -4 0M216.7 99.2a2 2 0 1 0 4 0a2 2 0 1 0 -4 0M226.6 98.5a2 2 0 1 0 4 0a2 2 0 1 0 -4 0M193.4 100.4a2 2 0 1 0 4 0a2 2 0 1 0 -4 0M231.1 98.2a2 2 0 1 0 4 0a2 2 0 1 0 -4 0M237.4 98.1a2 2 0 1 0 4 0a2 2 0 1 0 -4 0M206.2 99.8a2 2 0 1 0 4 0a2 2 0 1 0 -4 0M208 99.4a2 2 0 1 0 4 0a2 2 0 1 0 -4 0M231.9 98.6a2 2 0 1 0 4 0a2 2 0 1 0 -4 0M214 99.2a2 2 0 1 0 4 0a2 2 0 1 0 -4 0M206.6 100a2 2 0 1 0 4 0a2 2 0 1 0 -4 0M237.7 98.3a2 2 0 1 0 4 0a2 2 0 1 0 -4 0M228.3 98.8a2 2 0 1 0 4 0a2 2 0 1 0 -4 0M203.3 99.8a2 2 0 1 0 4 0a2 2 0 1 0 -4 0M197.7 100.2a2 2 0 1 0 4 0a2 2 0 1 0 -4 0M203.1 100.2a2 2 0 1 0 4 0a2 2 0 1 0 -4 0M208.8 99.3a2 2 0 1 0 4 0a2 2 0 1 0 -4 0M239.9 97.7a2 2 0 1 0 4 0a2 2 0 1 0 -4 0M229.8 98.5a2 2 0 1 0 4 0a2 2 0 1 0 -4 0M236 98.1a2 2 0 1 0 4 0a2 2 0 1 0 -4 0M230.5 98.7a2 2 0 1 0 4 0a2 2 0 1 0 -4 0M232.3 98.5a2 2 0 1 0 4 0a2 2 0 1 0 -4 0M187.1 100.9a2 2 0 1 0 4 0a2 2 0 1 0 -4 0M213.5 99.7a2 2 0 1 0 4 0a2 2 0 1 0 -4 0M238.6 98a2 2 0 1 0 4 0a2 2 0 1 0 -4 0M237.3 98.1a2 2 0 1 0 4 0a2 2 0 1 0 -4 0M198.2 100.3a2 2 0 1 0 4 0a2 2 0 1 0 -4 0M208.1 99.6a2 2 0 1 0 4 0a2 2 0 1 0 -4 0M220.1 98.9a2 2 0 1 0 4 0a2 2 0 1 0 -4 0M204.8 99.9a2 2 0 1 0 4 0a2 2 0 1 0 -4 0M214.3 99.2a2 2 0 1 0 4 0a2 2 0 1 0 -4 0M187.9 101.1a2 2 0 1 0 4 0a2 2 0 1 0 -4 0M208.7 99.7a2 2 0 1 0 4 0a2 2 0 1 0 -4 0M212.8 99.4a2 2 0 1 0 4 0a2 2 0 1 0 -4 0M185.2 100.7a2 2 0 1 0 4 0a2 2 0 1 0 -4 0M191.9 100.5a2 2 0 1 0 4 0a2 2 0 1 0 -4 0M239.3 97.9a2 2 0 1 0 4 0a2 2 0 1 0 -4 0M228.3 98.6a2 2 0 1 0 4 0a2 2 0 1 0 -4 0M237.4 98.1a2 2 0 1 0 4 0a2 2 0 1 0 -4 0M220.1 99.2a2 2 0 1 0 4 0a2 2 0 1 0 -4 0M230.1 98.7a2 2 0 1 0 4 0a2 2 0 1 0 -4 0M234.4 98.2a2 2 0 1 0 4 0a2 2 0 1 0 -4 0M234.4 98.2a2 2 0 1 0 4 0a2 2 0 1 0 -4 0M186 101a2 2 0 1 0 4 0a2 2 0 1 0 -4 0M220.6 99.3a2 2 0 1 0 4 0a2 2 0 1 0 -4 0M199.1 100.1a2 2 0 1 0 4 0a2 2 0 1 0 -4 0M222.7 98.9a2 2 0 1 0 4 0a2 2 0 1 0 -4 0M199.6 100.3a2 2 0 1 0 4 0a2 2 0 1 0 -4 0M214.9 99.1a2 2 0 1 0 4 0a2 2 0 1 0 -4 0M236.7 98a2 2 0 1 0 4 0a2 2 0 1 0 -4 0M219.4 99.3a2 2 0 1 0 4 0a2 2 0 1 0 -4 0M198.3 100.4a2 2 0 1 0 4 0a2 2 0 1 0 -4 0" fill="none" stroke="#262626" stroke-width="0.8"/>
<path d="M178.6 101.2a2 2 0 1 0 4 0a2 2 0 1 0 -4 0M181.5 101.1a2 2 0 1 0 4 0a2 2 0 1 0 -4 0" fill="none" stroke="#777" stroke-width="0.7"/>
<path d="M244.8 98.1a2 2 0 1 0 4 0a2 2 0 1 0 -4 0" fill="none" stroke="#333" stroke-width="0.8"/>
<path d="M249.2 97.9a2 2 0 1 0 4 0a2 2 0 1 0 -4 0M252.2 97.9a2 2 0 1 0 4 0a2 2 0 1 0 -4 0" fill="none" stroke="#888" stroke-width="0.8"/>
<path d="M396.8 89.9l3.6 3.6m0 -3.6l-3.6 3.6M373.2 88.2l3.6 3.6m0 -3.6l-3.6 3.6M384.6 89.1l3.6 3.6m0 -3.6l-3.6 3.6M374.2 87.8l3.6 3.6m0 -3.6l-3.6 3.6M388.4 89.5l3.6 3.6m0 -3.6l-3.6 3.6M381.4 90.3l3.6 3.6m0 -3.6l-3.6 3.6M378 89.9l3.6 3.6m0 -3.6l-3.6 3.6M368.3 88.3l3.6 3.6m0 -3.6l-3.6 3.6M395.1 89.5l3.6 3.6m0 -3.6l-3.6 3.6M384.1 89.3l3.6 3.6m0 -3.6l-3.6 3.6M376.7 89.7l3.6 3.6m0 -3.6l-3.6 3.6M386.6 88.7l3.6 3.6m0 -3.6l-3.6 3.6M372.1 87.7l3.6 3.6m0 -3.6l-3.6 3.6M371.4 87.7l3.6 3.6m0 -3.6l-3.6 3.6M384.9 90.5l3.6 3.6m0 -3.6l-3.6 3.6M387.8 90.4l3.6 3.6m0 -3.6l-3.6 3.6M391.1 88.5l3.6 3.6m0 -3.6l-3.6 3.6M373.6 88.1l3.6 3.6m0 -3.6l-3.6 3.6M386.8 88.5l3.6 3.6m0 -3.6l-3.6 3.6M382.6 88.6l3.6 3.6m0 -3.6l-3.6 3.6M382.3 89.6l3.6 3.6m0 -3.6l-3.6 3.6M398 90.6l3.6 3.6m0 -3.6l-3.6 3.6M376 88.6l3.6 3.6m0 -3.6l-3.6 3.6M383.7 90.3l3.6 3.6m0 -3.6l-3.6 3.6M376 87.7l3.6 3.6m0 -3.6l-3.6 3.6M379.7 87.8l3.6 3.6m0 -3.6l-3.6 3.6M385.3 88.6l3.6 3.6m0 -3.6l-3.6 3.6M379.4 88l3.6 3.6m0 -3.6l-3.6 3.6M374.3 88.2l3.6 3.6m0 -3.6l-3.6 3.6M389.5 88.4l3.6 3.6m0 -3.6l-3.6 3.6M371.2 88.1l3.6 3.6m0 -3.6l-3.6 3.6M379.5 90l3.6 3.6m0 -3.6l-3.6 3.6M384.4 88l3.6 3.6m0 -3.6l-3.6 3.6M382.7 87.5l3.6 3.6m0 -3.6l-3.6 3.6M397 89.5l3.6 3.6m0 -3.6l-3.6 3.6M380 88l3.6 3.6m0 -3.6l-3.6 3.6M387.7 87.9l3.6 3.6m0 -3.6l-3.6 3.6M384.6 89.3l3.6 3.6m0 -3.6l-3.6 3.6M380.5 89.8l3.6 3.6m0 -3.6l-3.6 3.6M386.4 88.3l3.6 3.6m0 -3.6l-3.6 3.6M380.7 87.4l3.6 3.6m0 -3.6l-3.6 3.6M378.5 89.8l3.6 3.6m0 -3.6l-3.6 3.6M371.7 89.4l3.6 3.6m0 -3.6l-3.6 3.6M379.8 89.1l3.6 3.6m0 -3.6l-3.6 3.6M377.7 87.3l3.6 3.6m0 -3.6l-3.6 3.6M378.2 88l3.6 3.6m0 -3.6l-3.6 3.6M377.2 88.7l3.6 3.6m0 -3.6l-3.6 3.6M397.3 90.3l3.6 3.6m0 -3.6l-3.6 3.6M396.4 90.6l3.6 3.6m0 -3.6l-3.6 3.6M372.4 88.2l3.6 3.6m0 -3.6l-3.6 3.6M389.4 88.5l3.6 3.6m0 -3.6l-3.6 3.6M381.4 89.8l3.6 3.6m0 -3.6l-3.6 3.6M391.7 90l3.6 3.6m0 -3.6l-3.6 3.6M369.5 87.2l3.6 3.6m0 -3.6l-3.6 3.6M373.4 87.8l3.6 3.6m0 -3.6l-3.6 3.6M377.9 88.6l3.6 3.6m0 -3.6l-3.6 3.6M369.5 88.3l3.6 3.6m0 -3.6l-3.6 3.6M395.1 89.4l3.6 3.6m0 -3.6l-3.6 3.6M382.1 89.9l3.6 3.6m0 -3.6l-3.6 3.6M394.9 90.3l3.6 3.6m0 -3.6l-3.6 3.6M395.5 89.6l3.6 3.6m0 -3.6l-3.6 3.6M369.7 88l3.6 3.6m0 -3.6l-3.6 3.6M390.4 88.7l3.6 3.6m0 -3.6l-3.6 3.6M392.1 90.5l3.6 3.6m0 -3.6l-3.6 3.6M377.2 87.4l3.6 3.6m0 -3.6l-3.6 3.6M398 89.9l3.6 3.6m0 -3.6l-3.6 3.6M391.8 90.5l3.6 3.6m0 -3.6l-3.6 3.6M388.3 88.9l3.6 3.6m0 -3.6l-3.6 3.6M381.9 89.1l3.6 3.6m0 -3.6l-3.6 3.6M390.7 90.4l3.6 3.6m0 -3.6l-3.6 3.6M376.6 89.3l3.6 3.6m0 -3.6l-3.6 3.6M385.6 88l3.6 3.6m0 -3.6l-3.6 3.6M370.1 88.5l3.6 3.6m0 -3.6l-3.6 3.6M381.4 87.8l3.6 3.6m0 -3.6l-3.6 3.6M378.1 87.6l3.6 3.6m0 -3.6l-3.6 3.6M390.8 89.8l3.6 3.6m0 -3.6l-3.6 3.6M375.8 88l3.6 3.6m0 -3.6l-3.6 3.6M384.7 88.9l3.6 3.6m0 -3.6l-3.6 3.6M372.7 89.4l3.6 3.6m0 -3.6l-3.6 3.6M385.7 90.2l3.6 3.6m0 -3.6l-3.6 3.6M373.6 89.8l3.6 3.6m0 -3.6l-3.6 3.6M387.4 88.9l3.6 3.6m0 -3.6l-3.6 3.6M392.7 90.5l3.6 3.6m0 -3.6l-3.6 3.6M371.9 88.2l3.6 3.6m0 -3.6l-3.6 3.6M379.7 87.9l3.6 3.6m0 -3.6l-3.6 3.6M370.1 88.2l3.6 3.6m0 -3.6l-3.6 3.6M374.5 89.9l3.6 3.6m0 -3.6l-3.6 3.6M382.5 87.5l3.6 3.6m0 -3.6l-3.6 3.6M378.6 89l3.6 3.6m0 -3.6l-3.6 3.6M379.8 87.7l3.6 3.6m0 -3.6l-3.6 3.6M399.9 90.2l3.6 3.6m0 -3.6l-3.6 3.6M371.7 89.1l3.6 3.6m0 -3.6l-3.6 3.6M382.1 87.8l3.6 3.6m0 -3.6l-3.6 3.6M397.6 89.7l3.6 3.6m0 -3.6l-3.6 3.6M389.1 88.1l3.6 3.6m0 -3.6l-3.6 3.6M376.1 87.6l3.6 3.6m0 -3.6l-3.6 3.6M374.1 89.7l3.6 3.6m0 -3.6l-3.6 3.6M395.3 90.9l3.6 3.6m0 -3.6l-3.6 3.6M394.8 90.1l3.6 3.6m0 -3.6l-3.6 3.6M378.7 87.8l3.6 3.6m0 -3.6l-3.6 3.6M380 89.3l3.6 3.6m0 -3.6l-3.6 3.6M386.3 89.6l3.6 3.6m0 -3.6l-3.6 3.6M394.4 90l3.6 3.6m0 -3.6l-3.6 3.6M397.2 91l3.6 3.6m0 -3.6l-3.6 3.6M384 89.1l3.6 3.6m0 -3.6l-3.6 3.6M373.2 88.3l3.6 3.6m0 -3.6l-3.6 3.6M371.1 87.2l3.6 3.6m0 -3.6l-3.6 3.6M382.3 87.8l3.6 3.6m0 -3.6l-3.6 3.6M395.1 90.6l3.6 3.6m0 -3.6l-3.6 3.6M393.4 88.8l3.6 3.6m0 -3.6l-3.6 3.6M377.3 89.8l3.6 3.6m0 -3.6l-3.6 3.6M384.7 88.8l3.6 3.6m0 -3.6l-3.6 3.6M379 88.8l3.6 3.6m0 -3.6l-3.6 3.6M389.5 90.5l3.6 3.6m0 -3.6l-3.6 3.6M377.7 88.9l3.6 3.6m0 -3.6l-3.6 3.6M386.2 88.5l3.6 3.6m0 -3.6l-3.6 3.6M374.5 87.4l3.6 3.6m0 -3.6l-3.6 3.6M378.6 88.9l3.6 3.6m0 -3.6l-3.6 3.6M399.3 90.8l3.6 3.6m0 -3.6l-3.6 3.6M389.8 89.6l3.6 3.6m0 -3.6l-3.6 3.6" fill="none" stroke="#b0b0b0" stroke-width="0.75" clip-path="url(#p3t)"/>
<path d="M392.9 89.6l3.6 3.6m0 -3.6l-3.6 3.6M398.8 89.3l3.6 3.6m0 -3.6l-3.6 3.6M393.3 90.5l3.6 3.6m0 -3.6l-3.6 3.6M390.5 88.5l3.6 3.6m0 -3.6l-3.6 3.6M396.3 89.3l3.6 3.6m0 -3.6l-3.6 3.6M391 89.8l3.6 3.6m0 -3.6l-3.6 3.6M393.5 89.6l3.6 3.6m0 -3.6l-3.6 3.6M393.9 89.5l3.6 3.6m0 -3.6l-3.6 3.6M395.3 89.1l3.6 3.6m0 -3.6l-3.6 3.6M391.2 88.5l3.6 3.6m0 -3.6l-3.6 3.6M398.2 89.5l3.6 3.6m0 -3.6l-3.6 3.6M391.2 90.4l3.6 3.6m0 -3.6l-3.6 3.6M394.6 89.6l3.6 3.6m0 -3.6l-3.6 3.6M392.2 89.6l3.6 3.6m0 -3.6l-3.6 3.6M391.2 89.4l3.6 3.6m0 -3.6l-3.6 3.6M394.2 90.4l3.6 3.6m0 -3.6l-3.6 3.6M395.2 90l3.6 3.6m0 -3.6l-3.6 3.6M399.1 90l3.6 3.6m0 -3.6l-3.6 3.6M391.1 90.3l3.6 3.6m0 -3.6l-3.6 3.6M398.8 89.6l3.6 3.6m0 -3.6l-3.6 3.6M392.3 89l3.6 3.6m0 -3.6l-3.6 3.6M390.3 89.7l3.6 3.6m0 -3.6l-3.6 3.6M392.1 88.8l3.6 3.6m0 -3.6l-3.6 3.6M396.6 89.2l3.6 3.6m0 -3.6l-3.6 3.6M398.2 89.7l3.6 3.6m0 -3.6l-3.6 3.6M398 89.6l3.6 3.6m0 -3.6l-3.6 3.6M398.5 90.4l3.6 3.6m0 -3.6l-3.6 3.6M391.7 90.1l3.6 3.6m0 -3.6l-3.6 3.6M393.3 90.1l3.6 3.6m0 -3.6l-3.6 3.6M396.3 90.3l3.6 3.6m0 -3.6l-3.6 3.6" fill="none" stroke="#c8c8c8" stroke-width="0.75" clip-path="url(#p3t)"/>
<path d="M331.8 85.8a2 2 0 1 0 4 0a2 2 0 1 0 -4 0M370.6 89.1a2 2 0 1 0 4 0a2 2 0 1 0 -4 0M328 87.8a2 2 0 1 0 4 0a2 2 0 1 0 -4 0M363.7 88.8a2 2 0 1 0 4 0a2 2 0 1 0 -4 0M331.3 88.4a2 2 0 1 0 4 0a2 2 0 1 0 -4 0M338 86.4a2 2 0 1 0 4 0a2 2 0 1 0 -4 0M335.1 85a2 2 0 1 0 4 0a2 2 0 1 0 -4 0M353.3 88.5a2 2 0 1 0 4 0a2 2 0 1 0 -4 0M331.3 87.5a2 2 0 1 0 4 0a2 2 0 1 0 -4 0M363.6 88a2 2 0 1 0 4 0a2 2 0 1 0 -4 0M334.7 86.2a2 2 0 1 0 4 0a2 2 0 1 0 -4 0M358.3 87.4a2 2 0 1 0 4 0a2 2 0 1 0 -4 0M343.9 89a2 2 0 1 0 4 0a2 2 0 1 0 -4 0M351.3 89.7a2 2 0 1 0 4 0a2 2 0 1 0 -4 0M358.4 88.9a2 2 0 1 0 4 0a2 2 0 1 0 -4 0M333.1 84.5a2 2 0 1 0 4 0a2 2 0 1 0 -4 0M349.6 89.2a2 2 0 1 0 4 0a2 2 0 1 0 -4 0M327.7 85.9a2 2 0 1 0 4 0a2 2 0 1 0 -4 0M364.5 87.5a2 2 0 1 0 4 0a2 2 0 1 0 -4 0M348.4 86.3a2 2 0 1 0 4 0a2 2 0 1 0 -4 0M333.4 87.7a2 2 0 1 0 4 0a2 2 0 1 0 -4 0M367 87.1a2 2 0 1 0 4 0a2 2 0 1 0 -4 0M354.7 88.7a2 2 0 1 0 4 0a2 2 0 1 0 -4 0M336.2 87.6a2 2 0 1 0 4 0a2 2 0 1 0 -4 0M368 87.8a2 2 0 1 0 4 0a2 2 0 1 0 -4 0M334 86.9a2 2 0 1 0 4 0a2 2 0 1 0 -4 0M343 85.7a2 2 0 1 0 4 0a2 2 0 1 0 -4 0M344.2 87.7a2 2 0 1 0 4 0a2 2 0 1 0 -4 0M342.6 89a2 2 0 1 0 4 0a2 2 0 1 0 -4 0M341.7 87.4a2 2 0 1 0 4 0a2 2 0 1 0 -4 0M372.4 88.7a2 2 0 1 0 4 0a2 2 0 1 0 -4 0M338.8 88.7a2 2 0 1 0 4 0a2 2 0 1 0 -4 0M338.8 86.3a2 2 0 1 0 4 0a2 2 0 1 0 -4 0M352.7 87.6a2 2 0 1 0 4 0a2 2 0 1 0 -4 0M350.8 91.5a2 2 0 1 0 4 0a2 2 0 1 0 -4 0M362.2 86.9a2 2 0 1 0 4 0a2 2 0 1 0 -4 0M367 88.2a2 2 0 1 0 4 0a2 2 0 1 0 -4 0M355.8 85.9a2 2 0 1 0 4 0a2 2 0 1 0 -4 0M343.1 86.9a2 2 0 1 0 4 0a2 2 0 1 0 -4 0M367 89.9a2 2 0 1 0 4 0a2 2 0 1 0 -4 0M370.1 87.6a2 2 0 1 0 4 0a2 2 0 1 0 -4 0M360.8 89.8a2 2 0 1 0 4 0a2 2 0 1 0 -4 0M349.9 86.8a2 2 0 1 0 4 0a2 2 0 1 0 -4 0M351.9 86.7a2 2 0 1 0 4 0a2 2 0 1 0 -4 0M345.1 88.5a2 2 0 1 0 4 0a2 2 0 1 0 -4 0M341.2 87.7a2 2 0 1 0 4 0a2 2 0 1 0 -4 0M343.3 87.4a2 2 0 1 0 4 0a2 2 0 1 0 -4 0M342.4 88.3a2 2 0 1 0 4 0a2 2 0 1 0 -4 0M332.4 89.2a2 2 0 1 0 4 0a2 2 0 1 0 -4 0M347.3 87.6a2 2 0 1 0 4 0a2 2 0 1 0 -4 0M346.9 86.5a2 2 0 1 0 4 0a2 2 0 1 0 -4 0M333.9 86.7a2 2 0 1 0 4 0a2 2 0 1 0 -4 0M329.1 86.7a2 2 0 1 0 4 0a2 2 0 1 0 -4 0M360.2 88.8a2 2 0 1 0 4 0a2 2 0 1 0 -4 0M351.9 88.7a2 2 0 1 0 4 0a2 2 0 1 0 -4 0M369.3 87.7a2 2 0 1 0 4 0a2 2 0 1 0 -4 0M353.4 88.4a2 2 0 1 0 4 0a2 2 0 1 0 -4 0M353.3 88a2 2 0 1 0 4 0a2 2 0 1 0 -4 0M362.4 85.7a2 2 0 1 0 4 0a2 2 0 1 0 -4 0M329.2 87.7a2 2 0 1 0 4 0a2 2 0 1 0 -4 0M348.8 88.4a2 2 0 1 0 4 0a2 2 0 1 0 -4 0M338.1 86.6a2 2 0 1 0 4 0a2 2 0 1 0 -4 0M327.1 86.8a2 2 0 1 0 4 0a2 2 0 1 0 -4 0M336.3 89a2 2 0 1 0 4 0a2 2 0 1 0 -4 0M344.8 87.9a2 2 0 1 0 4 0a2 2 0 1 0 -4 0M366.6 89.4a2 2 0 1 0 4 0a2 2 0 1 0 -4 0M356.5 88.4a2 2 0 1 0 4 0a2 2 0 1 0 -4 0M329.7 88.4a2 2 0 1 0 4 0a2 2 0 1 0 -4 0M364 88.7a2 2 0 1 0 4 0a2 2 0 1 0 -4 0M332.4 86.3a2 2 0 1 0 4 0a2 2 0 1 0 -4 0M334.8 84.8a2 2 0 1 0 4 0a2 2 0 1 0 -4 0M356.1 87.1a2 2 0 1 0 4 0a2 2 0 1 0 -4 0M369.4 88.3a2 2 0 1 0 4 0a2 2 0 1 0 -4 0M361.2 88.9a2 2 0 1 0 4 0a2 2 0 1 0 -4 0M356.5 86.1a2 2 0 1 0 4 0a2 2 0 1 0 -4 0M341.9 88.4a2 2 0 1 0 4 0a2 2 0 1 0 -4 0M328.7 88.1a2 2 0 1 0 4 0a2 2 0 1 0 -4 0M341.7 87.8a2 2 0 1 0 4 0a2 2 0 1 0 -4 0M349.2 86.7a2 2 0 1 0 4 0a2 2 0 1 0 -4 0M347.8 86.9a2 2 0 1 0 4 0a2 2 0 1 0 -4 0M352.5 88.1a2 2 0 1 0 4 0a2 2 0 1 0 -4 0M354.9 87.7a2 2 0 1 0 4 0a2 2 0 1 0 -4 0M360 87.6a2 2 0 1 0 4 0a2 2 0 1 0 -4 0M333.3 87.5a2 2 0 1 0 4 0a2 2 0 1 0 -4 0M332.7 87.1a2 2 0 1 0 4 0a2 2 0 1 0 -4 0M364.3 87.4a2 2 0 1 0 4 0a2 2 0 1 0 -4 0M345.9 85.8a2 2 0 1 0 4 0a2 2 0 1 0 -4 0M352.1 87.2a2 2 0 1 0 4 0a2 2 0 1 0 -4 0M356.9 86.8a2 2 0 1 0 4 0a2 2 0 1 0 -4 0M360.8 87.2a2 2 0 1 0 4 0a2 2 0 1 0 -4 0M338.1 86.7a2 2 0 1 0 4 0a2 2 0 1 0 -4 0M362.5 85.9a2 2 0 1 0 4 0a2 2 0 1 0 -4 0M340.5 87.8a2 2 0 1 0 4 0a2 2 0 1 0 -4 0M347.3 83.9a2 2 0 1 0 4 0a2 2 0 1 0 -4 0M339.1 84.3a2 2 0 1 0 4 0a2 2 0 1 0 -4 0M332.2 86.6a2 2 0 1 0 4 0a2 2 0 1 0 -4 0M356.8 87.9a2 2 0 1 0 4 0a2 2 0 1 0 -4 0M361.6 86.7a2 2 0 1 0 4 0a2 2 0 1 0 -4 0M330.2 87.5a2 2 0 1 0 4 0a2 2 0 1 0 -4 0M328.8 87a2 2 0 1 0 4 0a2 2 0 1 0 -4 0M352.1 88.9a2 2 0 1 0 4 0a2 2 0 1 0 -4 0M343.2 90.1a2 2 0 1 0 4 0a2 2 0 1 0 -4 0M333 87.8a2 2 0 1 0 4 0a2 2 0 1 0 -4 0M369.3 89.5a2 2 0 1 0 4 0a2 2 0 1 0 -4 0M333.6 88.9a2 2 0 1 0 4 0a2 2 0 1 0 -4 0M337.4 87.5a2 2 0 1 0 4 0a2 2 0 1 0 -4 0M355.9 86.4a2 2 0 1 0 4 0a2 2 0 1 0 -4 0M347.6 89.4a2 2 0 1 0 4 0a2 2 0 1 0 -4 0M341.2 87.8a2 2 0 1 0 4 0a2 2 0 1 0 -4 0M360.5 87.5a2 2 0 1 0 4 0a2 2 0 1 0 -4 0M329.1 86.3a2 2 0 1 0 4 0a2 2 0 1 0 -4 0M366.6 87.1a2 2 0 1 0 4 0a2 2 0 1 0 -4 0M328.8 85.2a2 2 0 1 0 4 0a2 2 0 1 0 -4 0M370.4 89.2a2 2 0 1 0 4 0a2 2 0 1 0 -4 0M336.5 87.1a2 2 0 1 0 4 0a2 2 0 1 0 -4 0M346.4 88.5a2 2 0 1 0 4 0a2 2 0 1 0 -4 0M336.9 87.7a2 2 0 1 0 4 0a2 2 0 1 0 -4 0M356.2 89.8a2 2 0 1 0 4 0a2 2 0 1 0 -4 0M340 88.1a2 2 0 1 0 4 0a2 2 0 1 0 -4 0M352.8 87.6a2 2 0 1 0 4 0a2 2 0 1 0 -4 0M333.4 88.5a2 2 0 1 0 4 0a2 2 0 1 0 -4 0M338.6 85.3a2 2 0 1 0 4 0a2 2 0 1 0 -4 0M361.3 88.3a2 2 0 1 0 4 0a2 2 0 1 0 -4 0M341.6 86.4a2 2 0 1 0 4 0a2 2 0 1 0 -4 0M348.8 88.1a2 2 0 1 0 4 0a2 2 0 1 0 -4 0M358.1 87.3a2 2 0 1 0 4 0a2 2 0 1 0 -4 0M354.1 86a2 2 0 1 0 4 0a2 2 0 1 0 -4 0M367.5 88.4a2 2 0 1 0 4 0a2 2 0 1 0 -4 0M335.9 87.9a2 2 0 1 0 4 0a2 2 0 1 0 -4 0M362.7 87.2a2 2 0 1 0 4 0a2 2 0 1 0 -4 0M366.6 88.9a2 2 0 1 0 4 0a2 2 0 1 0 -4 0M327.1 88.2a2 2 0 1 0 4 0a2 2 0 1 0 -4 0M371.8 88.4a2 2 0 1 0 4 0a2 2 0 1 0 -4 0M360.6 87.5a2 2 0 1 0 4 0a2 2 0 1 0 -4 0M330.6 87.7a2 2 0 1 0 4 0a2 2 0 1 0 -4 0M330.2 88.2a2 2 0 1 0 4 0a2 2 0 1 0 -4 0M342 89.1a2 2 0 1 0 4 0a2 2 0 1 0 -4 0M367.5 87.2a2 2 0 1 0 4 0a2 2 0 1 0 -4 0M372 88.2a2 2 0 1 0 4 0a2 2 0 1 0 -4 0M358.4 90a2 2 0 1 0 4 0a2 2 0 1 0 -4 0M327.8 87a2 2 0 1 0 4 0a2 2 0 1 0 -4 0M330.9 88a2 2 0 1 0 4 0a2 2 0 1 0 -4 0M340.9 87.7a2 2 0 1 0 4 0a2 2 0 1 0 -4 0M348.9 87.1a2 2 0 1 0 4 0a2 2 0 1 0 -4 0M332.4 86.4a2 2 0 1 0 4 0a2 2 0 1 0 -4 0M358.2 88.1a2 2 0 1 0 4 0a2 2 0 1 0 -4 0M333 86.9a2 2 0 1 0 4 0a2 2 0 1 0 -4 0M331.3 85.8a2 2 0 1 0 4 0a2 2 0 1 0 -4 0M342.6 84.5a2 2 0 1 0 4 0a2 2 0 1 0 -4 0M342.4 87.4a2 2 0 1 0 4 0a2 2 0 1 0 -4 0M336.1 89.5a2 2 0 1 0 4 0a2 2 0 1 0 -4 0M360.4 87.3a2 2 0 1 0 4 0a2 2 0 1 0 -4 0M338.8 87.6a2 2 0 1 0 4 0a2 2 0 1 0 -4 0M329.2 87.6a2 2 0 1 0 4 0a2 2 0 1 0 -4 0M328 86a2 2 0 1 0 4 0a2 2 0 1 0 -4 0M343 88.2a2 2 0 1 0 4 0a2 2 0 1 0 -4 0M356.7 86.2a2 2 0 1 0 4 0a2 2 0 1 0 -4 0M358.4 87.4a2 2 0 1 0 4 0a2 2 0 1 0 -4 0M359.7 87a2 2 0 1 0 4 0a2 2 0 1 0 -4 0M345.7 88.1a2 2 0 1 0 4 0a2 2 0 1 0 -4 0M371.7 87.6a2 2 0 1 0 4 0a2 2 0 1 0 -4 0M332.7 87.8a2 2 0 1 0 4 0a2 2 0 1 0 -4 0M372.9 86.9a2 2 0 1 0 4 0a2 2 0 1 0 -4 0M338 85.4a2 2 0 1 0 4 0a2 2 0 1 0 -4 0M354.7 87a2 2 0 1 0 4 0a2 2 0 1 0 -4 0M335.3 87.7a2 2 0 1 0 4 0a2 2 0 1 0 -4 0M331.5 88a2 2 0 1 0 4 0a2 2 0 1 0 -4 0M368.7 86.6a2 2 0 1 0 4 0a2 2 0 1 0 -4 0M328.3 86.3a2 2 0 1 0 4 0a2 2 0 1 0 -4 0M351.8 89.3a2 2 0 1 0 4 0a2 2 0 1 0 -4 0M340.8 87.3a2 2 0 1 0 4 0a2 2 0 1 0 -4 0M361.1 87.8a2 2 0 1 0 4 0a2 2 0 1 0 -4 0M366.1 86.5a2 2 0 1 0 4 0a2 2 0 1 0 -4 0M355.6 87.6a2 2 0 1 0 4 0a2 2 0 1 0 -4 0M360.9 86.5a2 2 0 1 0 4 0a2 2 0 1 0 -4 0M344.5 88.8a2 2 0 1 0 4 0a2 2 0 1 0 -4 0M350.7 86.1a2 2 0 1 0 4 0a2 2 0 1 0 -4 0M341.1 86.1a2 2 0 1 0 4 0a2 2 0 1 0 -4 0M355.6 86.8a2 2 0 1 0 4 0a2 2 0 1 0 -4 0M354.8 87.4a2 2 0 1 0 4 0a2 2 0 1 0 -4 0M338.5 88.4a2 2 0 1 0 4 0a2 2 0 1 0 -4 0M359.9 87.1a2 2 0 1 0 4 0a2 2 0 1 0 -4 0M350.5 86.7a2 2 0 1 0 4 0a2 2 0 1 0 -4 0M332.7 87.1a2 2 0 1 0 4 0a2 2 0 1 0 -4 0M369.6 87a2 2 0 1 0 4 0a2 2 0 1 0 -4 0M350.8 87.3a2 2 0 1 0 4 0a2 2 0 1 0 -4 0M364.2 88a2 2 0 1 0 4 0a2 2 0 1 0 -4 0M364.6 88.7a2 2 0 1 0 4 0a2 2 0 1 0 -4 0M347.6 85.9a2 2 0 1 0 4 0a2 2 0 1 0 -4 0M368 86.6a2 2 0 1 0 4 0a2 2 0 1 0 -4 0M366.8 89a2 2 0 1 0 4 0a2 2 0 1 0 -4 0M365.1 88.3a2 2 0 1 0 4 0a2 2 0 1 0 -4 0M364.4 88.4a2 2 0 1 0 4 0a2 2 0 1 0 -4 0M337.8 87.7a2 2 0 1 0 4 0a2 2 0 1 0 -4 0M330.8 85.8a2 2 0 1 0 4 0a2 2 0 1 0 -4 0M350.5 89.4a2 2 0 1 0 4 0a2 2 0 1 0 -4 0M347.3 88.6a2 2 0 1 0 4 0a2 2 0 1 0 -4 0M347.1 88.2a2 2 0 1 0 4 0a2 2 0 1 0 -4 0M348.5 88.2a2 2 0 1 0 4 0a2 2 0 1 0 -4 0M333 85.3a2 2 0 1 0 4 0a2 2 0 1 0 -4 0M358 86.8a2 2 0 1 0 4 0a2 2 0 1 0 -4 0M337.2 88.2a2 2 0 1 0 4 0a2 2 0 1 0 -4 0M343.4 86.7a2 2 0 1 0 4 0a2 2 0 1 0 -4 0M326.8 87.5a2 2 0 1 0 4 0a2 2 0 1 0 -4 0M352.8 88.4a2 2 0 1 0 4 0a2 2 0 1 0 -4 0M359.8 88.1a2 2 0 1 0 4 0a2 2 0 1 0 -4 0M338.9 86.8a2 2 0 1 0 4 0a2 2 0 1 0 -4 0M365.2 88.7a2 2 0 1 0 4 0a2 2 0 1 0 -4 0M330.3 85.7a2 2 0 1 0 4 0a2 2 0 1 0 -4 0M335.5 85.4a2 2 0 1 0 4 0a2 2 0 1 0 -4 0M345.9 87.9a2 2 0 1 0 4 0a2 2 0 1 0 -4 0M343.5 85.6a2 2 0 1 0 4 0a2 2 0 1 0 -4 0M328.1 86a2 2 0 1 0 4 0a2 2 0 1 0 -4 0M339.9 88.7a2 2 0 1 0 4 0a2 2 0 1 0 -4 0M345.2 86a2 2 0 1 0 4 0a2 2 0 1 0 -4 0M342.6 85.5a2 2 0 1 0 4 0a2 2 0 1 0 -4 0M344.1 84.8a2 2 0 1 0 4 0a2 2 0 1 0 -4 0M335 85.8a2 2 0 1 0 4 0a2 2 0 1 0 -4 0M343.5 86.8a2 2 0 1 0 4 0a2 2 0 1 0 -4 0M329.3 86.2a2 2 0 1 0 4 0a2 2 0 1 0 -4 0" fill="none" stroke="#222" stroke-width="0.8"/>
<path d="M311.7 86.2a2 2 0 1 0 4 0a2 2 0 1 0 -4 0M315.1 84a2 2 0 1 0 4 0a2 2 0 1 0 -4 0M318 82.9a2 2 0 1 0 4 0a2 2 0 1 0 -4 0M317.6 88a2 2 0 1 0 4 0a2 2 0 1 0 -4 0M321.3 84.4a2 2 0 1 0 4 0a2 2 0 1 0 -4 0M321.6 88a2 2 0 1 0 4 0a2 2 0 1 0 -4 0M324.2 85.8a2 2 0 1 0 4 0a2 2 0 1 0 -4 0M327.5 83.3a2 2 0 1 0 4 0a2 2 0 1 0 -4 0M320 86a2 2 0 1 0 4 0a2 2 0 1 0 -4 0M325 89.5a2 2 0 1 0 4 0a2 2 0 1 0 -4 0M338 84a2 2 0 1 0 4 0a2 2 0 1 0 -4 0M350 84.5a2 2 0 1 0 4 0a2 2 0 1 0 -4 0M362 85.5a2 2 0 1 0 4 0a2 2 0 1 0 -4 0" fill="none" stroke="#3a3a3a" stroke-width="0.7"/>
<path d="M373.7 88.1a2 2 0 1 0 4 0a2 2 0 1 0 -4 0" fill="none" stroke="#333" stroke-width="0.8"/>
<path d="M380.6 88.1a2 2 0 1 0 4 0a2 2 0 1 0 -4 0M384.7 88.1a2 2 0 1 0 4 0a2 2 0 1 0 -4 0" fill="none" stroke="#888" stroke-width="0.8"/>
<path d="M518.8 47.4l3.6 3.6m0 -3.6l-3.6 3.6M506.1 53l3.6 3.6m0 -3.6l-3.6 3.6M526.8 65.5l3.6 3.6m0 -3.6l-3.6 3.6M502.6 51.4l3.6 3.6m0 -3.6l-3.6 3.6M501.4 52.8l3.6 3.6m0 -3.6l-3.6 3.6M514.1 64.7l3.6 3.6m0 -3.6l-3.6 3.6M499.3 31.1l3.6 3.6m0 -3.6l-3.6 3.6M514.6 55.8l3.6 3.6m0 -3.6l-3.6 3.6M519.5 66.2l3.6 3.6m0 -3.6l-3.6 3.6M483.7 39.8l3.6 3.6m0 -3.6l-3.6 3.6M482.8 33.4l3.6 3.6m0 -3.6l-3.6 3.6M518.6 56.3l3.6 3.6m0 -3.6l-3.6 3.6M516.3 52.4l3.6 3.6m0 -3.6l-3.6 3.6M500.2 57.2l3.6 3.6m0 -3.6l-3.6 3.6M495.6 54.1l3.6 3.6m0 -3.6l-3.6 3.6M492.3 41.8l3.6 3.6m0 -3.6l-3.6 3.6M494.4 41.4l3.6 3.6m0 -3.6l-3.6 3.6M505.3 49.4l3.6 3.6m0 -3.6l-3.6 3.6M480 43.8l3.6 3.6m0 -3.6l-3.6 3.6M524.9 67.7l3.6 3.6m0 -3.6l-3.6 3.6M488.3 31.7l3.6 3.6m0 -3.6l-3.6 3.6M506.7 47.1l3.6 3.6m0 -3.6l-3.6 3.6M502.7 52.7l3.6 3.6m0 -3.6l-3.6 3.6M509.3 46.8l3.6 3.6m0 -3.6l-3.6 3.6M480 44.3l3.6 3.6m0 -3.6l-3.6 3.6M506.5 48.8l3.6 3.6m0 -3.6l-3.6 3.6M508.3 44.7l3.6 3.6m0 -3.6l-3.6 3.6M521.3 57.6l3.6 3.6m0 -3.6l-3.6 3.6M510 37.8l3.6 3.6m0 -3.6l-3.6 3.6M521.2 53.1l3.6 3.6m0 -3.6l-3.6 3.6M514.3 61.6l3.6 3.6m0 -3.6l-3.6 3.6M493.4 39.3l3.6 3.6m0 -3.6l-3.6 3.6M482.7 33.8l3.6 3.6m0 -3.6l-3.6 3.6M493.3 40.4l3.6 3.6m0 -3.6l-3.6 3.6M509.2 44.5l3.6 3.6m0 -3.6l-3.6 3.6M508 36.6l3.6 3.6m0 -3.6l-3.6 3.6M498.7 30.8l3.6 3.6m0 -3.6l-3.6 3.6M517.3 49.8l3.6 3.6m0 -3.6l-3.6 3.6M493.2 45.9l3.6 3.6m0 -3.6l-3.6 3.6M518.5 53l3.6 3.6m0 -3.6l-3.6 3.6M510.1 55.2l3.6 3.6m0 -3.6l-3.6 3.6M482.1 35.9l3.6 3.6m0 -3.6l-3.6 3.6M495.5 50.8l3.6 3.6m0 -3.6l-3.6 3.6M493.6 32.5l3.6 3.6m0 -3.6l-3.6 3.6M508 33.8l3.6 3.6m0 -3.6l-3.6 3.6M510 51.3l3.6 3.6m0 -3.6l-3.6 3.6M496.6 47.2l3.6 3.6m0 -3.6l-3.6 3.6M485.4 33.7l3.6 3.6m0 -3.6l-3.6 3.6M504.5 54.9l3.6 3.6m0 -3.6l-3.6 3.6M505.1 46.8l3.6 3.6m0 -3.6l-3.6 3.6M488.1 48.6l3.6 3.6m0 -3.6l-3.6 3.6M488.4 35.3l3.6 3.6m0 -3.6l-3.6 3.6M508.6 62.3l3.6 3.6m0 -3.6l-3.6 3.6M485.7 41.9l3.6 3.6m0 -3.6l-3.6 3.6M505.7 43.2l3.6 3.6m0 -3.6l-3.6 3.6M509 40.4l3.6 3.6m0 -3.6l-3.6 3.6M511.2 62.4l3.6 3.6m0 -3.6l-3.6 3.6M499.6 33.4l3.6 3.6m0 -3.6l-3.6 3.6M496.1 35.9l3.6 3.6m0 -3.6l-3.6 3.6M488.1 39.7l3.6 3.6m0 -3.6l-3.6 3.6M503.6 53.1l3.6 3.6m0 -3.6l-3.6 3.6M518.5 59.7l3.6 3.6m0 -3.6l-3.6 3.6M523.7 67l3.6 3.6m0 -3.6l-3.6 3.6M496.4 37l3.6 3.6m0 -3.6l-3.6 3.6M527 65l3.6 3.6m0 -3.6l-3.6 3.6M523 67.7l3.6 3.6m0 -3.6l-3.6 3.6M509.7 50.1l3.6 3.6m0 -3.6l-3.6 3.6M522.6 66.9l3.6 3.6m0 -3.6l-3.6 3.6M490 38.7l3.6 3.6m0 -3.6l-3.6 3.6M502.4 40.6l3.6 3.6m0 -3.6l-3.6 3.6M514.9 63.3l3.6 3.6m0 -3.6l-3.6 3.6M520.9 62l3.6 3.6m0 -3.6l-3.6 3.6M529 68.8l3.6 3.6m0 -3.6l-3.6 3.6M499.5 33.4l3.6 3.6m0 -3.6l-3.6 3.6M523.2 67.3l3.6 3.6m0 -3.6l-3.6 3.6M510.5 51.2l3.6 3.6m0 -3.6l-3.6 3.6M495.6 39.5l3.6 3.6m0 -3.6l-3.6 3.6M511.3 43.2l3.6 3.6m0 -3.6l-3.6 3.6M482 42.2l3.6 3.6m0 -3.6l-3.6 3.6M515.8 50.4l3.6 3.6m0 -3.6l-3.6 3.6M487.3 42.2l3.6 3.6m0 -3.6l-3.6 3.6M498.9 53.2l3.6 3.6m0 -3.6l-3.6 3.6M491 46.1l3.6 3.6m0 -3.6l-3.6 3.6M512 47.2l3.6 3.6m0 -3.6l-3.6 3.6M505.9 61.7l3.6 3.6m0 -3.6l-3.6 3.6M514.8 56l3.6 3.6m0 -3.6l-3.6 3.6M526.2 64.2l3.6 3.6m0 -3.6l-3.6 3.6M495.1 35.8l3.6 3.6m0 -3.6l-3.6 3.6M529.6 72l3.6 3.6m0 -3.6l-3.6 3.6M512.5 42.7l3.6 3.6m0 -3.6l-3.6 3.6M507.1 49.4l3.6 3.6m0 -3.6l-3.6 3.6M521.5 61.7l3.6 3.6m0 -3.6l-3.6 3.6M516.2 62.4l3.6 3.6m0 -3.6l-3.6 3.6M492.5 37l3.6 3.6m0 -3.6l-3.6 3.6M494.4 31.8l3.6 3.6m0 -3.6l-3.6 3.6M493.6 47.6l3.6 3.6m0 -3.6l-3.6 3.6M530.4 75.4l3.6 3.6m0 -3.6l-3.6 3.6M487.5 44.1l3.6 3.6m0 -3.6l-3.6 3.6M494.8 50.2l3.6 3.6m0 -3.6l-3.6 3.6M483.2 41.7l3.6 3.6m0 -3.6l-3.6 3.6M498.9 47.7l3.6 3.6m0 -3.6l-3.6 3.6M512.2 66.6l3.6 3.6m0 -3.6l-3.6 3.6M494.5 36.5l3.6 3.6m0 -3.6l-3.6 3.6M518.8 51.8l3.6 3.6m0 -3.6l-3.6 3.6M507.9 61.4l3.6 3.6m0 -3.6l-3.6 3.6M506.3 43l3.6 3.6m0 -3.6l-3.6 3.6M511.9 41.7l3.6 3.6m0 -3.6l-3.6 3.6M522.7 56.4l3.6 3.6m0 -3.6l-3.6 3.6M491.8 40.9l3.6 3.6m0 -3.6l-3.6 3.6M518.7 61.7l3.6 3.6m0 -3.6l-3.6 3.6M483.3 43.9l3.6 3.6m0 -3.6l-3.6 3.6M512.1 62.4l3.6 3.6m0 -3.6l-3.6 3.6M519.8 48.1l3.6 3.6m0 -3.6l-3.6 3.6M496 48l3.6 3.6m0 -3.6l-3.6 3.6M506.4 54.2l3.6 3.6m0 -3.6l-3.6 3.6M484.5 45.5l3.6 3.6m0 -3.6l-3.6 3.6M513.9 56.9l3.6 3.6m0 -3.6l-3.6 3.6M499.4 56.7l3.6 3.6m0 -3.6l-3.6 3.6M520.6 69.4l3.6 3.6m0 -3.6l-3.6 3.6M518.7 53.2l3.6 3.6m0 -3.6l-3.6 3.6M526.6 72.3l3.6 3.6m0 -3.6l-3.6 3.6M518.1 68.6l3.6 3.6m0 -3.6l-3.6 3.6M515.9 58.6l3.6 3.6m0 -3.6l-3.6 3.6M492.3 32.4l3.6 3.6m0 -3.6l-3.6 3.6M492.2 39.4l3.6 3.6m0 -3.6l-3.6 3.6M489.5 33.7l3.6 3.6m0 -3.6l-3.6 3.6M484.8 42.4l3.6 3.6m0 -3.6l-3.6 3.6M483.3 40l3.6 3.6m0 -3.6l-3.6 3.6M511.8 45.5l3.6 3.6m0 -3.6l-3.6 3.6M521.7 55l3.6 3.6m0 -3.6l-3.6 3.6M500.5 32.2l3.6 3.6m0 -3.6l-3.6 3.6M511.9 64l3.6 3.6m0 -3.6l-3.6 3.6M509.4 48.4l3.6 3.6m0 -3.6l-3.6 3.6M505.4 57.5l3.6 3.6m0 -3.6l-3.6 3.6M503.5 35.6l3.6 3.6m0 -3.6l-3.6 3.6M516.2 51l3.6 3.6m0 -3.6l-3.6 3.6M496 38.3l3.6 3.6m0 -3.6l-3.6 3.6M499.4 42.8l3.6 3.6m0 -3.6l-3.6 3.6M505.6 50.3l3.6 3.6m0 -3.6l-3.6 3.6M488 41.9l3.6 3.6m0 -3.6l-3.6 3.6M508 62.9l3.6 3.6m0 -3.6l-3.6 3.6M529.4 73.4l3.6 3.6m0 -3.6l-3.6 3.6M516.9 63.7l3.6 3.6m0 -3.6l-3.6 3.6M480.7 39.1l3.6 3.6m0 -3.6l-3.6 3.6M516.9 59.4l3.6 3.6m0 -3.6l-3.6 3.6M491.7 46.3l3.6 3.6m0 -3.6l-3.6 3.6M479.6 37.6l3.6 3.6m0 -3.6l-3.6 3.6M482.8 34.3l3.6 3.6m0 -3.6l-3.6 3.6M527.3 67.3l3.6 3.6m0 -3.6l-3.6 3.6M484.3 34.4l3.6 3.6m0 -3.6l-3.6 3.6M508.2 53.6l3.6 3.6m0 -3.6l-3.6 3.6M488.7 41.3l3.6 3.6m0 -3.6l-3.6 3.6M517.5 47.6l3.6 3.6m0 -3.6l-3.6 3.6M521.9 69.6l3.6 3.6m0 -3.6l-3.6 3.6M484.6 29.8l3.6 3.6m0 -3.6l-3.6 3.6M522.9 66.9l3.6 3.6m0 -3.6l-3.6 3.6M502.7 31.3l3.6 3.6m0 -3.6l-3.6 3.6M481.1 44.7l3.6 3.6m0 -3.6l-3.6 3.6M503.8 59.9l3.6 3.6m0 -3.6l-3.6 3.6M488.5 40.9l3.6 3.6m0 -3.6l-3.6 3.6M484.1 38.8l3.6 3.6m0 -3.6l-3.6 3.6M502.3 57.3l3.6 3.6m0 -3.6l-3.6 3.6M512.2 63.1l3.6 3.6m0 -3.6l-3.6 3.6M501.4 32.4l3.6 3.6m0 -3.6l-3.6 3.6M503.1 48.4l3.6 3.6m0 -3.6l-3.6 3.6M514.2 63.5l3.6 3.6m0 -3.6l-3.6 3.6M515.3 51.8l3.6 3.6m0 -3.6l-3.6 3.6M489.8 48l3.6 3.6m0 -3.6l-3.6 3.6M520.5 68.7l3.6 3.6m0 -3.6l-3.6 3.6M512.1 64.8l3.6 3.6m0 -3.6l-3.6 3.6M485.6 30.1l3.6 3.6m0 -3.6l-3.6 3.6M526.1 73.2l3.6 3.6m0 -3.6l-3.6 3.6M504.8 59l3.6 3.6m0 -3.6l-3.6 3.6M481.5 31.8l3.6 3.6m0 -3.6l-3.6 3.6M507.2 43.2l3.6 3.6m0 -3.6l-3.6 3.6M522.8 68.2l3.6 3.6m0 -3.6l-3.6 3.6M502.4 35.1l3.6 3.6m0 -3.6l-3.6 3.6M513 39.1l3.6 3.6m0 -3.6l-3.6 3.6M500.8 34.5l3.6 3.6m0 -3.6l-3.6 3.6M496.6 33.7l3.6 3.6m0 -3.6l-3.6 3.6M517.4 70l3.6 3.6m0 -3.6l-3.6 3.6M497.4 43.7l3.6 3.6m0 -3.6l-3.6 3.6M481.3 34.7l3.6 3.6m0 -3.6l-3.6 3.6M515.3 57.9l3.6 3.6m0 -3.6l-3.6 3.6M505.8 51.1l3.6 3.6m0 -3.6l-3.6 3.6M517.5 67.4l3.6 3.6m0 -3.6l-3.6 3.6M527.4 69.4l3.6 3.6m0 -3.6l-3.6 3.6M491.1 43.6l3.6 3.6m0 -3.6l-3.6 3.6M496.4 44.8l3.6 3.6m0 -3.6l-3.6 3.6M490.9 49l3.6 3.6m0 -3.6l-3.6 3.6" fill="none" stroke="#b8b8b8" stroke-width="0.75" clip-path="url(#p4t)"/>
<path d="M525.1 72.3l3.6 3.6m0 -3.6l-3.6 3.6M501.7 56l3.6 3.6m0 -3.6l-3.6 3.6M509.1 60.8l3.6 3.6m0 -3.6l-3.6 3.6M489.2 42.2l3.6 3.6m0 -3.6l-3.6 3.6M516.1 62.6l3.6 3.6m0 -3.6l-3.6 3.6M518.8 65.2l3.6 3.6m0 -3.6l-3.6 3.6M496.4 44.1l3.6 3.6m0 -3.6l-3.6 3.6M494.6 44.2l3.6 3.6m0 -3.6l-3.6 3.6M511.8 61.1l3.6 3.6m0 -3.6l-3.6 3.6M512.1 62.7l3.6 3.6m0 -3.6l-3.6 3.6M501.5 39.2l3.6 3.6m0 -3.6l-3.6 3.6M493.2 37.5l3.6 3.6m0 -3.6l-3.6 3.6M498.8 50.6l3.6 3.6m0 -3.6l-3.6 3.6M523.7 67.3l3.6 3.6m0 -3.6l-3.6 3.6M514.9 58.1l3.6 3.6m0 -3.6l-3.6 3.6M491.7 37.3l3.6 3.6m0 -3.6l-3.6 3.6M514.6 57.4l3.6 3.6m0 -3.6l-3.6 3.6M495.2 36l3.6 3.6m0 -3.6l-3.6 3.6M496.5 48.8l3.6 3.6m0 -3.6l-3.6 3.6M498 49.4l3.6 3.6m0 -3.6l-3.6 3.6M493.9 42.5l3.6 3.6m0 -3.6l-3.6 3.6M502.5 48.7l3.6 3.6m0 -3.6l-3.6 3.6M514.1 53.3l3.6 3.6m0 -3.6l-3.6 3.6M495.8 34.4l3.6 3.6m0 -3.6l-3.6 3.6M489.4 38.2l3.6 3.6m0 -3.6l-3.6 3.6M495.6 51.9l3.6 3.6m0 -3.6l-3.6 3.6M490.5 36.1l3.6 3.6m0 -3.6l-3.6 3.6M501.5 53.1l3.6 3.6m0 -3.6l-3.6 3.6M488.4 42.7l3.6 3.6m0 -3.6l-3.6 3.6M496 40.5l3.6 3.6m0 -3.6l-3.6 3.6M488.9 44.5l3.6 3.6m0 -3.6l-3.6 3.6M505.6 46.7l3.6 3.6m0 -3.6l-3.6 3.6M501.5 38.3l3.6 3.6m0 -3.6l-3.6 3.6M493.3 33.7l3.6 3.6m0 -3.6l-3.6 3.6M514.6 55.1l3.6 3.6m0 -3.6l-3.6 3.6M512.4 60.9l3.6 3.6m0 -3.6l-3.6 3.6M495 34.7l3.6 3.6m0 -3.6l-3.6 3.6M499.7 50.5l3.6 3.6m0 -3.6l-3.6 3.6M496.8 52.5l3.6 3.6m0 -3.6l-3.6 3.6M491.4 43.4l3.6 3.6m0 -3.6l-3.6 3.6M491.9 39l3.6 3.6m0 -3.6l-3.6 3.6M508.7 57.9l3.6 3.6m0 -3.6l-3.6 3.6M495.7 40.3l3.6 3.6m0 -3.6l-3.6 3.6M511.6 52.4l3.6 3.6m0 -3.6l-3.6 3.6M489.9 33.9l3.6 3.6m0 -3.6l-3.6 3.6M498.2 45.5l3.6 3.6m0 -3.6l-3.6 3.6M504.1 55.7l3.6 3.6m0 -3.6l-3.6 3.6M523.4 67.5l3.6 3.6m0 -3.6l-3.6 3.6M514.6 55l3.6 3.6m0 -3.6l-3.6 3.6M490.4 43.6l3.6 3.6m0 -3.6l-3.6 3.6M514.8 58.1l3.6 3.6m0 -3.6l-3.6 3.6M495.8 48.8l3.6 3.6m0 -3.6l-3.6 3.6M513.3 53.2l3.6 3.6m0 -3.6l-3.6 3.6M515.7 63.3l3.6 3.6m0 -3.6l-3.6 3.6M495.7 51.5l3.6 3.6m0 -3.6l-3.6 3.6M490.9 42.7l3.6 3.6m0 -3.6l-3.6 3.6M494.9 44.5l3.6 3.6m0 -3.6l-3.6 3.6M486.8 39l3.6 3.6m0 -3.6l-3.6 3.6M503.5 51.1l3.6 3.6m0 -3.6l-3.6 3.6M519.7 68.7l3.6 3.6m0 -3.6l-3.6 3.6M514.1 60.2l3.6 3.6m0 -3.6l-3.6 3.6M498.7 44.1l3.6 3.6m0 -3.6l-3.6 3.6M523.4 70.4l3.6 3.6m0 -3.6l-3.6 3.6M500.3 55.4l3.6 3.6m0 -3.6l-3.6 3.6M499.6 50.9l3.6 3.6m0 -3.6l-3.6 3.6M506.7 44.2l3.6 3.6m0 -3.6l-3.6 3.6M487.7 36.8l3.6 3.6m0 -3.6l-3.6 3.6M492.5 37.1l3.6 3.6m0 -3.6l-3.6 3.6M513.3 62.8l3.6 3.6m0 -3.6l-3.6 3.6M487.5 39.7l3.6 3.6m0 -3.6l-3.6 3.6M521.1 67.3l3.6 3.6m0 -3.6l-3.6 3.6M521.4 66.8l3.6 3.6m0 -3.6l-3.6 3.6M495.6 37.2l3.6 3.6m0 -3.6l-3.6 3.6M515.1 57.2l3.6 3.6m0 -3.6l-3.6 3.6M491.4 41.4l3.6 3.6m0 -3.6l-3.6 3.6M496.8 51.2l3.6 3.6m0 -3.6l-3.6 3.6M495.1 45.6l3.6 3.6m0 -3.6l-3.6 3.6M514 62.6l3.6 3.6m0 -3.6l-3.6 3.6M494.4 46.4l3.6 3.6m0 -3.6l-3.6 3.6M492.3 42.8l3.6 3.6m0 -3.6l-3.6 3.6M519.9 68.3l3.6 3.6m0 -3.6l-3.6 3.6M489.2 35.3l3.6 3.6m0 -3.6l-3.6 3.6M527.1 70.5l3.6 3.6m0 -3.6l-3.6 3.6M508.7 48.6l3.6 3.6m0 -3.6l-3.6 3.6M507 43.9l3.6 3.6m0 -3.6l-3.6 3.6M499.5 53.5l3.6 3.6m0 -3.6l-3.6 3.6M517.3 65.9l3.6 3.6m0 -3.6l-3.6 3.6M501.9 52.2l3.6 3.6m0 -3.6l-3.6 3.6M526.9 72.9l3.6 3.6m0 -3.6l-3.6 3.6M490 36.2l3.6 3.6m0 -3.6l-3.6 3.6M504.4 47.6l3.6 3.6m0 -3.6l-3.6 3.6M490.7 43.5l3.6 3.6m0 -3.6l-3.6 3.6M525.3 71.6l3.6 3.6m0 -3.6l-3.6 3.6M500.4 43.7l3.6 3.6m0 -3.6l-3.6 3.6M496.7 53.1l3.6 3.6m0 -3.6l-3.6 3.6M500.6 41.2l3.6 3.6m0 -3.6l-3.6 3.6M523.4 68l3.6 3.6m0 -3.6l-3.6 3.6M497.2 48.7l3.6 3.6m0 -3.6l-3.6 3.6M502.1 48.2l3.6 3.6m0 -3.6l-3.6 3.6M518 65.3l3.6 3.6m0 -3.6l-3.6 3.6M509.5 47.5l3.6 3.6m0 -3.6l-3.6 3.6M523.2 69.2l3.6 3.6m0 -3.6l-3.6 3.6M515.7 60.9l3.6 3.6m0 -3.6l-3.6 3.6M509.8 52.6l3.6 3.6m0 -3.6l-3.6 3.6M494.8 47.7l3.6 3.6m0 -3.6l-3.6 3.6M496.4 37.5l3.6 3.6m0 -3.6l-3.6 3.6M488.4 36.1l3.6 3.6m0 -3.6l-3.6 3.6M506 50.3l3.6 3.6m0 -3.6l-3.6 3.6M508.5 53.8l3.6 3.6m0 -3.6l-3.6 3.6M501.5 48.6l3.6 3.6m0 -3.6l-3.6 3.6M504.7 49.4l3.6 3.6m0 -3.6l-3.6 3.6M494.3 46l3.6 3.6m0 -3.6l-3.6 3.6M494.5 34.2l3.6 3.6m0 -3.6l-3.6 3.6M496.9 44.9l3.6 3.6m0 -3.6l-3.6 3.6M504.1 55l3.6 3.6m0 -3.6l-3.6 3.6M517.5 65l3.6 3.6m0 -3.6l-3.6 3.6M495.9 44.1l3.6 3.6m0 -3.6l-3.6 3.6M517.6 65l3.6 3.6m0 -3.6l-3.6 3.6M517.2 63.4l3.6 3.6m0 -3.6l-3.6 3.6M489.1 36.2l3.6 3.6m0 -3.6l-3.6 3.6M521.1 62l3.6 3.6m0 -3.6l-3.6 3.6M496.2 41.7l3.6 3.6m0 -3.6l-3.6 3.6M492.5 50.6l3.6 3.6m0 -3.6l-3.6 3.6M492.5 42.5l3.6 3.6m0 -3.6l-3.6 3.6M489 41.4l3.6 3.6m0 -3.6l-3.6 3.6M499.4 54.6l3.6 3.6m0 -3.6l-3.6 3.6M492.8 36.3l3.6 3.6m0 -3.6l-3.6 3.6M503.4 48.2l3.6 3.6m0 -3.6l-3.6 3.6M504.3 48.2l3.6 3.6m0 -3.6l-3.6 3.6M504.7 45.9l3.6 3.6m0 -3.6l-3.6 3.6M510.1 61.4l3.6 3.6m0 -3.6l-3.6 3.6M491.7 48.7l3.6 3.6m0 -3.6l-3.6 3.6M523.5 66.8l3.6 3.6m0 -3.6l-3.6 3.6M511.8 62l3.6 3.6m0 -3.6l-3.6 3.6M509.9 50.3l3.6 3.6m0 -3.6l-3.6 3.6M493.4 38.1l3.6 3.6m0 -3.6l-3.6 3.6M506.8 54.3l3.6 3.6m0 -3.6l-3.6 3.6M500.9 55.8l3.6 3.6m0 -3.6l-3.6 3.6M506.7 47.3l3.6 3.6m0 -3.6l-3.6 3.6M501.9 49.7l3.6 3.6m0 -3.6l-3.6 3.6M486.2 41.4l3.6 3.6m0 -3.6l-3.6 3.6M491.8 42.9l3.6 3.6m0 -3.6l-3.6 3.6M487.8 44.4l3.6 3.6m0 -3.6l-3.6 3.6M518.2 63.8l3.6 3.6m0 -3.6l-3.6 3.6M526.2 73.4l3.6 3.6m0 -3.6l-3.6 3.6M504.7 41.4l3.6 3.6m0 -3.6l-3.6 3.6M486.9 35.6l3.6 3.6m0 -3.6l-3.6 3.6M490.8 34.1l3.6 3.6m0 -3.6l-3.6 3.6M517.1 60l3.6 3.6m0 -3.6l-3.6 3.6M490.3 40.1l3.6 3.6m0 -3.6l-3.6 3.6M504.8 49.8l3.6 3.6m0 -3.6l-3.6 3.6M496.6 43.1l3.6 3.6m0 -3.6l-3.6 3.6M529.1 75.5l3.6 3.6m0 -3.6l-3.6 3.6M493.3 39.7l3.6 3.6m0 -3.6l-3.6 3.6M511.1 52.4l3.6 3.6m0 -3.6l-3.6 3.6M500.4 50l3.6 3.6m0 -3.6l-3.6 3.6M491.6 40.6l3.6 3.6m0 -3.6l-3.6 3.6M528.2 72.7l3.6 3.6m0 -3.6l-3.6 3.6M502.1 44.6l3.6 3.6m0 -3.6l-3.6 3.6M520.7 68.1l3.6 3.6m0 -3.6l-3.6 3.6M507.2 44.9l3.6 3.6m0 -3.6l-3.6 3.6M511.6 51.4l3.6 3.6m0 -3.6l-3.6 3.6M497.6 38l3.6 3.6m0 -3.6l-3.6 3.6M518.1 60.8l3.6 3.6m0 -3.6l-3.6 3.6M504.4 57.5l3.6 3.6m0 -3.6l-3.6 3.6M521.6 65.4l3.6 3.6m0 -3.6l-3.6 3.6M506.1 53.1l3.6 3.6m0 -3.6l-3.6 3.6M517.5 64.2l3.6 3.6m0 -3.6l-3.6 3.6M493.5 39l3.6 3.6m0 -3.6l-3.6 3.6M500.3 40.2l3.6 3.6m0 -3.6l-3.6 3.6M513.6 55.9l3.6 3.6m0 -3.6l-3.6 3.6M521.5 62.2l3.6 3.6m0 -3.6l-3.6 3.6M528.5 72.4l3.6 3.6m0 -3.6l-3.6 3.6M510.1 50.4l3.6 3.6m0 -3.6l-3.6 3.6M492.7 39l3.6 3.6m0 -3.6l-3.6 3.6M506.4 54.2l3.6 3.6m0 -3.6l-3.6 3.6M497.3 48.8l3.6 3.6m0 -3.6l-3.6 3.6M528.4 74.9l3.6 3.6m0 -3.6l-3.6 3.6M509.8 46.5l3.6 3.6m0 -3.6l-3.6 3.6M486.5 41.9l3.6 3.6m0 -3.6l-3.6 3.6M490.8 45.3l3.6 3.6m0 -3.6l-3.6 3.6M513.5 57.1l3.6 3.6m0 -3.6l-3.6 3.6M513.7 56.3l3.6 3.6m0 -3.6l-3.6 3.6M508.4 46.9l3.6 3.6m0 -3.6l-3.6 3.6M497.4 39.5l3.6 3.6m0 -3.6l-3.6 3.6M528.1 75.4l3.6 3.6m0 -3.6l-3.6 3.6M496.7 39.2l3.6 3.6m0 -3.6l-3.6 3.6M492.3 39.5l3.6 3.6m0 -3.6l-3.6 3.6M511 57l3.6 3.6m0 -3.6l-3.6 3.6M503.8 56.3l3.6 3.6m0 -3.6l-3.6 3.6M485.9 35.7l3.6 3.6m0 -3.6l-3.6 3.6M504.2 43.3l3.6 3.6m0 -3.6l-3.6 3.6M502.6 47.5l3.6 3.6m0 -3.6l-3.6 3.6M505.6 54.6l3.6 3.6m0 -3.6l-3.6 3.6M493.3 36.2l3.6 3.6m0 -3.6l-3.6 3.6M504.3 46.3l3.6 3.6m0 -3.6l-3.6 3.6M496.2 39.8l3.6 3.6m0 -3.6l-3.6 3.6M498.9 47l3.6 3.6m0 -3.6l-3.6 3.6M487.2 38.4l3.6 3.6m0 -3.6l-3.6 3.6M500.3 37.6l3.6 3.6m0 -3.6l-3.6 3.6M518.6 63.7l3.6 3.6m0 -3.6l-3.6 3.6M495.2 50.1l3.6 3.6m0 -3.6l-3.6 3.6M494.1 36.9l3.6 3.6m0 -3.6l-3.6 3.6M500.3 44.5l3.6 3.6m0 -3.6l-3.6 3.6M515.3 54.3l3.6 3.6m0 -3.6l-3.6 3.6M516.1 62.8l3.6 3.6m0 -3.6l-3.6 3.6M506.9 47.5l3.6 3.6m0 -3.6l-3.6 3.6M502 54.9l3.6 3.6m0 -3.6l-3.6 3.6M507.9 51l3.6 3.6m0 -3.6l-3.6 3.6M519.9 63.1l3.6 3.6m0 -3.6l-3.6 3.6M508.2 49.1l3.6 3.6m0 -3.6l-3.6 3.6M498.3 50.3l3.6 3.6m0 -3.6l-3.6 3.6M494.8 52.4l3.6 3.6m0 -3.6l-3.6 3.6M501.3 46.2l3.6 3.6m0 -3.6l-3.6 3.6M514.7 61.9l3.6 3.6m0 -3.6l-3.6 3.6M513.8 62.7l3.6 3.6m0 -3.6l-3.6 3.6M497.5 35.8l3.6 3.6m0 -3.6l-3.6 3.6M500.4 37.8l3.6 3.6m0 -3.6l-3.6 3.6M521 64.5l3.6 3.6m0 -3.6l-3.6 3.6M507.1 48.9l3.6 3.6m0 -3.6l-3.6 3.6M497.3 53.9l3.6 3.6m0 -3.6l-3.6 3.6M523.4 70.1l3.6 3.6m0 -3.6l-3.6 3.6M505 51.1l3.6 3.6m0 -3.6l-3.6 3.6M493.5 39.9l3.6 3.6m0 -3.6l-3.6 3.6M523.5 71.1l3.6 3.6m0 -3.6l-3.6 3.6M504.4 41.4l3.6 3.6m0 -3.6l-3.6 3.6M505 50.1l3.6 3.6m0 -3.6l-3.6 3.6M511.6 57.6l3.6 3.6m0 -3.6l-3.6 3.6M512.3 54.9l3.6 3.6m0 -3.6l-3.6 3.6M490.7 42.2l3.6 3.6m0 -3.6l-3.6 3.6M499.2 50.9l3.6 3.6m0 -3.6l-3.6 3.6M521 67.6l3.6 3.6m0 -3.6l-3.6 3.6M520.2 69l3.6 3.6m0 -3.6l-3.6 3.6M509.9 49.7l3.6 3.6m0 -3.6l-3.6 3.6M489.4 37.1l3.6 3.6m0 -3.6l-3.6 3.6M501.8 51.6l3.6 3.6m0 -3.6l-3.6 3.6M508.1 45.5l3.6 3.6m0 -3.6l-3.6 3.6M508.2 54.2l3.6 3.6m0 -3.6l-3.6 3.6M501.3 47.5l3.6 3.6m0 -3.6l-3.6 3.6M512.9 57.1l3.6 3.6m0 -3.6l-3.6 3.6M498 36.8l3.6 3.6m0 -3.6l-3.6 3.6M509.1 47.1l3.6 3.6m0 -3.6l-3.6 3.6M500.4 50.9l3.6 3.6m0 -3.6l-3.6 3.6M503.3 40.1l3.6 3.6m0 -3.6l-3.6 3.6M515 61.5l3.6 3.6m0 -3.6l-3.6 3.6M505.3 50.5l3.6 3.6m0 -3.6l-3.6 3.6M486.5 42.5l3.6 3.6m0 -3.6l-3.6 3.6M515.6 54.3l3.6 3.6m0 -3.6l-3.6 3.6M508.1 46.5l3.6 3.6m0 -3.6l-3.6 3.6M507 59.4l3.6 3.6m0 -3.6l-3.6 3.6M491.3 46.3l3.6 3.6m0 -3.6l-3.6 3.6M515.7 56.4l3.6 3.6m0 -3.6l-3.6 3.6M501.6 52.3l3.6 3.6m0 -3.6l-3.6 3.6M527.2 74.5l3.6 3.6m0 -3.6l-3.6 3.6M516.2 55.8l3.6 3.6m0 -3.6l-3.6 3.6M488.2 36.3l3.6 3.6m0 -3.6l-3.6 3.6M492.4 45.6l3.6 3.6m0 -3.6l-3.6 3.6M525.9 70.2l3.6 3.6m0 -3.6l-3.6 3.6M510 59.2l3.6 3.6m0 -3.6l-3.6 3.6M495.3 42.4l3.6 3.6m0 -3.6l-3.6 3.6M508.1 54.5l3.6 3.6m0 -3.6l-3.6 3.6M501.3 42.1l3.6 3.6m0 -3.6l-3.6 3.6M489.4 44.9l3.6 3.6m0 -3.6l-3.6 3.6M513.8 53.7l3.6 3.6m0 -3.6l-3.6 3.6M495 51.8l3.6 3.6m0 -3.6l-3.6 3.6M510 58.8l3.6 3.6m0 -3.6l-3.6 3.6M524 66.6l3.6 3.6m0 -3.6l-3.6 3.6M502.7 39.5l3.6 3.6m0 -3.6l-3.6 3.6M509.4 51.9l3.6 3.6m0 -3.6l-3.6 3.6M494.2 34.8l3.6 3.6m0 -3.6l-3.6 3.6M511 60.7l3.6 3.6m0 -3.6l-3.6 3.6M501.9 53.6l3.6 3.6m0 -3.6l-3.6 3.6M496.4 36.8l3.6 3.6m0 -3.6l-3.6 3.6M496.6 36.9l3.6 3.6m0 -3.6l-3.6 3.6M507.2 43.8l3.6 3.6m0 -3.6l-3.6 3.6M498.7 52.8l3.6 3.6m0 -3.6l-3.6 3.6M500 37.8l3.6 3.6m0 -3.6l-3.6 3.6M516.6 66.4l3.6 3.6m0 -3.6l-3.6 3.6M502.9 46.5l3.6 3.6m0 -3.6l-3.6 3.6M508.2 51.9l3.6 3.6m0 -3.6l-3.6 3.6M493.2 50.5l3.6 3.6m0 -3.6l-3.6 3.6M514.9 57l3.6 3.6m0 -3.6l-3.6 3.6M506 57.6l3.6 3.6m0 -3.6l-3.6 3.6M513.4 60.1l3.6 3.6m0 -3.6l-3.6 3.6M491.1 46l3.6 3.6m0 -3.6l-3.6 3.6M517.3 64.2l3.6 3.6m0 -3.6l-3.6 3.6M514.8 61.2l3.6 3.6m0 -3.6l-3.6 3.6M500.4 38.6l3.6 3.6m0 -3.6l-3.6 3.6M501.8 40.8l3.6 3.6m0 -3.6l-3.6 3.6M503 54.5l3.6 3.6m0 -3.6l-3.6 3.6M508.7 46l3.6 3.6m0 -3.6l-3.6 3.6M504.8 42.9l3.6 3.6m0 -3.6l-3.6 3.6M497.7 37.9l3.6 3.6m0 -3.6l-3.6 3.6M497.6 39.7l3.6 3.6m0 -3.6l-3.6 3.6M508.6 51.3l3.6 3.6m0 -3.6l-3.6 3.6M527.4 71.3l3.6 3.6m0 -3.6l-3.6 3.6M485.9 39.6l3.6 3.6m0 -3.6l-3.6 3.6M495.2 36.7l3.6 3.6m0 -3.6l-3.6 3.6M489.3 41.5l3.6 3.6m0 -3.6l-3.6 3.6M496.5 43.4l3.6 3.6m0 -3.6l-3.6 3.6M489.7 35.9l3.6 3.6m0 -3.6l-3.6 3.6M516.4 58.2l3.6 3.6m0 -3.6l-3.6 3.6M504.9 45.2l3.6 3.6m0 -3.6l-3.6 3.6M502 50.7l3.6 3.6m0 -3.6l-3.6 3.6M493.1 44.2l3.6 3.6m0 -3.6l-3.6 3.6M514.4 62.4l3.6 3.6m0 -3.6l-3.6 3.6M487.1 41.3l3.6 3.6m0 -3.6l-3.6 3.6M504.3 49.1l3.6 3.6m0 -3.6l-3.6 3.6M516.5 64.7l3.6 3.6m0 -3.6l-3.6 3.6M510.8 55.1l3.6 3.6m0 -3.6l-3.6 3.6M518.6 63.6l3.6 3.6m0 -3.6l-3.6 3.6M499.3 48.9l3.6 3.6m0 -3.6l-3.6 3.6M521.1 69l3.6 3.6m0 -3.6l-3.6 3.6M492.9 39.8l3.6 3.6m0 -3.6l-3.6 3.6M500.3 37.6l3.6 3.6m0 -3.6l-3.6 3.6M498.8 44.6l3.6 3.6m0 -3.6l-3.6 3.6M504.8 49.3l3.6 3.6m0 -3.6l-3.6 3.6M511.4 54.6l3.6 3.6m0 -3.6l-3.6 3.6M496.3 45.4l3.6 3.6m0 -3.6l-3.6 3.6M521.6 62.8l3.6 3.6m0 -3.6l-3.6 3.6M497.2 50.2l3.6 3.6m0 -3.6l-3.6 3.6M513.5 58.7l3.6 3.6m0 -3.6l-3.6 3.6M489.8 47.4l3.6 3.6m0 -3.6l-3.6 3.6M514.3 61.4l3.6 3.6m0 -3.6l-3.6 3.6M505.2 52.8l3.6 3.6m0 -3.6l-3.6 3.6M490.9 39l3.6 3.6m0 -3.6l-3.6 3.6M507.4 47.4l3.6 3.6m0 -3.6l-3.6 3.6M495.9 46.2l3.6 3.6m0 -3.6l-3.6 3.6M507.3 50l3.6 3.6m0 -3.6l-3.6 3.6M514.3 54.7l3.6 3.6m0 -3.6l-3.6 3.6M489.4 35.6l3.6 3.6m0 -3.6l-3.6 3.6M502.5 44.3l3.6 3.6m0 -3.6l-3.6 3.6M509.6 49.2l3.6 3.6m0 -3.6l-3.6 3.6M507.3 50.4l3.6 3.6m0 -3.6l-3.6 3.6M502.2 45.8l3.6 3.6m0 -3.6l-3.6 3.6M519.5 59.4l3.6 3.6m0 -3.6l-3.6 3.6M505.9 56.7l3.6 3.6m0 -3.6l-3.6 3.6M513.2 53.5l3.6 3.6m0 -3.6l-3.6 3.6M513.7 55.9l3.6 3.6m0 -3.6l-3.6 3.6M495.9 49.4l3.6 3.6m0 -3.6l-3.6 3.6M509 58.9l3.6 3.6m0 -3.6l-3.6 3.6M508.4 49.6l3.6 3.6m0 -3.6l-3.6 3.6M503.1 56.5l3.6 3.6m0 -3.6l-3.6 3.6M500 39.8l3.6 3.6m0 -3.6l-3.6 3.6M491.2 46.1l3.6 3.6m0 -3.6l-3.6 3.6M516.7 57.9l3.6 3.6m0 -3.6l-3.6 3.6M522.1 68.1l3.6 3.6m0 -3.6l-3.6 3.6M519.7 66.1l3.6 3.6m0 -3.6l-3.6 3.6M516.6 61.8l3.6 3.6m0 -3.6l-3.6 3.6M489.6 45.2l3.6 3.6m0 -3.6l-3.6 3.6M490 48l3.6 3.6m0 -3.6l-3.6 3.6M489 43.7l3.6 3.6m0 -3.6l-3.6 3.6M503.6 52.3l3.6 3.6m0 -3.6l-3.6 3.6M517.3 66.5l3.6 3.6m0 -3.6l-3.6 3.6M490.9 49.6l3.6 3.6m0 -3.6l-3.6 3.6M498.4 45.2l3.6 3.6m0 -3.6l-3.6 3.6M499.8 45.2l3.6 3.6m0 -3.6l-3.6 3.6M506.8 49.3l3.6 3.6m0 -3.6l-3.6 3.6M526.7 73.1l3.6 3.6m0 -3.6l-3.6 3.6M505.4 57.3l3.6 3.6m0 -3.6l-3.6 3.6M496.8 37.6l3.6 3.6m0 -3.6l-3.6 3.6M508.4 45.4l3.6 3.6m0 -3.6l-3.6 3.6M505.3 53.1l3.6 3.6m0 -3.6l-3.6 3.6M526.2 71.7l3.6 3.6m0 -3.6l-3.6 3.6M523.4 68l3.6 3.6m0 -3.6l-3.6 3.6M506.3 50.7l3.6 3.6m0 -3.6l-3.6 3.6M502.1 50.8l3.6 3.6m0 -3.6l-3.6 3.6M511.4 52.2l3.6 3.6m0 -3.6l-3.6 3.6M501 51l3.6 3.6m0 -3.6l-3.6 3.6M511.8 56.3l3.6 3.6m0 -3.6l-3.6 3.6M504.4 43.8l3.6 3.6m0 -3.6l-3.6 3.6M499.4 54.2l3.6 3.6m0 -3.6l-3.6 3.6M487.6 40l3.6 3.6m0 -3.6l-3.6 3.6M509.4 55.8l3.6 3.6m0 -3.6l-3.6 3.6M487.1 36l3.6 3.6m0 -3.6l-3.6 3.6M515.2 62.5l3.6 3.6m0 -3.6l-3.6 3.6M505.3 43.1l3.6 3.6m0 -3.6l-3.6 3.6M493.6 40.9l3.6 3.6m0 -3.6l-3.6 3.6M509.2 60.3l3.6 3.6m0 -3.6l-3.6 3.6M489.7 47.4l3.6 3.6m0 -3.6l-3.6 3.6" fill="none" stroke="#a8a8a8" stroke-width="0.75" clip-path="url(#p4t)"/>
<path d="M461.3 115a2 2 0 1 0 4 0a2 2 0 1 0 -4 0M500.9 113.9a2 2 0 1 0 4 0a2 2 0 1 0 -4 0M461.4 112.5a2 2 0 1 0 4 0a2 2 0 1 0 -4 0M465.5 112.9a2 2 0 1 0 4 0a2 2 0 1 0 -4 0M468.7 113.5a2 2 0 1 0 4 0a2 2 0 1 0 -4 0M482.5 114.5a2 2 0 1 0 4 0a2 2 0 1 0 -4 0M480.8 106.9a2 2 0 1 0 4 0a2 2 0 1 0 -4 0M459.9 114a2 2 0 1 0 4 0a2 2 0 1 0 -4 0M481.1 113.5a2 2 0 1 0 4 0a2 2 0 1 0 -4 0M463.1 111.8a2 2 0 1 0 4 0a2 2 0 1 0 -4 0M494.4 111.3a2 2 0 1 0 4 0a2 2 0 1 0 -4 0M474.5 113a2 2 0 1 0 4 0a2 2 0 1 0 -4 0M480.2 110.6a2 2 0 1 0 4 0a2 2 0 1 0 -4 0M466.3 106.1a2 2 0 1 0 4 0a2 2 0 1 0 -4 0M452.9 106.2a2 2 0 1 0 4 0a2 2 0 1 0 -4 0M492.2 110.3a2 2 0 1 0 4 0a2 2 0 1 0 -4 0M457.7 113a2 2 0 1 0 4 0a2 2 0 1 0 -4 0M456.2 101.7a2 2 0 1 0 4 0a2 2 0 1 0 -4 0M462.6 109.2a2 2 0 1 0 4 0a2 2 0 1 0 -4 0M463.7 115.7a2 2 0 1 0 4 0a2 2 0 1 0 -4 0M493.5 112.4a2 2 0 1 0 4 0a2 2 0 1 0 -4 0M481.8 104.5a2 2 0 1 0 4 0a2 2 0 1 0 -4 0M447.8 105.9a2 2 0 1 0 4 0a2 2 0 1 0 -4 0M466.9 103.5a2 2 0 1 0 4 0a2 2 0 1 0 -4 0M473.7 116a2 2 0 1 0 4 0a2 2 0 1 0 -4 0M460.2 102.1a2 2 0 1 0 4 0a2 2 0 1 0 -4 0M458.1 104.5a2 2 0 1 0 4 0a2 2 0 1 0 -4 0M482.9 107.9a2 2 0 1 0 4 0a2 2 0 1 0 -4 0M465.9 109.4a2 2 0 1 0 4 0a2 2 0 1 0 -4 0M495 112.9a2 2 0 1 0 4 0a2 2 0 1 0 -4 0M468.3 116.3a2 2 0 1 0 4 0a2 2 0 1 0 -4 0M496.1 110a2 2 0 1 0 4 0a2 2 0 1 0 -4 0M476.5 105.9a2 2 0 1 0 4 0a2 2 0 1 0 -4 0M504.4 115.8a2 2 0 1 0 4 0a2 2 0 1 0 -4 0M461.8 109.5a2 2 0 1 0 4 0a2 2 0 1 0 -4 0M477.9 111.8a2 2 0 1 0 4 0a2 2 0 1 0 -4 0M458.9 111.2a2 2 0 1 0 4 0a2 2 0 1 0 -4 0M458.6 112.7a2 2 0 1 0 4 0a2 2 0 1 0 -4 0M449.6 104.9a2 2 0 1 0 4 0a2 2 0 1 0 -4 0M454.3 102.7a2 2 0 1 0 4 0a2 2 0 1 0 -4 0M485.6 115.3a2 2 0 1 0 4 0a2 2 0 1 0 -4 0M454.8 103.9a2 2 0 1 0 4 0a2 2 0 1 0 -4 0M494.4 108.4a2 2 0 1 0 4 0a2 2 0 1 0 -4 0M471.7 117a2 2 0 1 0 4 0a2 2 0 1 0 -4 0M468.3 117.2a2 2 0 1 0 4 0a2 2 0 1 0 -4 0M480.8 116.8a2 2 0 1 0 4 0a2 2 0 1 0 -4 0M495 113.3a2 2 0 1 0 4 0a2 2 0 1 0 -4 0M495.6 112.9a2 2 0 1 0 4 0a2 2 0 1 0 -4 0M466.7 112.2a2 2 0 1 0 4 0a2 2 0 1 0 -4 0M472.5 113.4a2 2 0 1 0 4 0a2 2 0 1 0 -4 0M470.8 114.3a2 2 0 1 0 4 0a2 2 0 1 0 -4 0M476.2 114.5a2 2 0 1 0 4 0a2 2 0 1 0 -4 0M465.7 109.7a2 2 0 1 0 4 0a2 2 0 1 0 -4 0M489 107.6a2 2 0 1 0 4 0a2 2 0 1 0 -4 0M490.7 113a2 2 0 1 0 4 0a2 2 0 1 0 -4 0" fill="none" stroke="#333" stroke-width="0.75"/>
<path d="M461.7 112.2a2 2 0 1 0 4 0a2 2 0 1 0 -4 0M452.8 102.2a2 2 0 1 0 4 0a2 2 0 1 0 -4 0M467.3 111a2 2 0 1 0 4 0a2 2 0 1 0 -4 0M459.3 107.4a2 2 0 1 0 4 0a2 2 0 1 0 -4 0M451.3 107.7a2 2 0 1 0 4 0a2 2 0 1 0 -4 0M454.1 103.6a2 2 0 1 0 4 0a2 2 0 1 0 -4 0M458.6 109.7a2 2 0 1 0 4 0a2 2 0 1 0 -4 0M461.1 113.4a2 2 0 1 0 4 0a2 2 0 1 0 -4 0M459.8 107.7a2 2 0 1 0 4 0a2 2 0 1 0 -4 0M455.2 101.9a2 2 0 1 0 4 0a2 2 0 1 0 -4 0M468.2 110.5a2 2 0 1 0 4 0a2 2 0 1 0 -4 0M464.8 111.4a2 2 0 1 0 4 0a2 2 0 1 0 -4 0M454.9 110.9a2 2 0 1 0 4 0a2 2 0 1 0 -4 0M452.7 108.3a2 2 0 1 0 4 0a2 2 0 1 0 -4 0" fill="none" stroke="#333" stroke-width="0.75"/>
<path d="M488.4 112.7a2 2 0 1 0 4 0a2 2 0 1 0 -4 0M476.8 110.5a2 2 0 1 0 4 0a2 2 0 1 0 -4 0M498.9 115.2a2 2 0 1 0 4 0a2 2 0 1 0 -4 0M466.4 107a2 2 0 1 0 4 0a2 2 0 1 0 -4 0M470.7 113.5a2 2 0 1 0 4 0a2 2 0 1 0 -4 0M495.3 115.1a2 2 0 1 0 4 0a2 2 0 1 0 -4 0M490.8 113.2a2 2 0 1 0 4 0a2 2 0 1 0 -4 0M486.9 109.9a2 2 0 1 0 4 0a2 2 0 1 0 -4 0M503.4 113a2 2 0 1 0 4 0a2 2 0 1 0 -4 0M483.7 109.9a2 2 0 1 0 4 0a2 2 0 1 0 -4 0M495.8 112.4a2 2 0 1 0 4 0a2 2 0 1 0 -4 0M480.6 111.5a2 2 0 1 0 4 0a2 2 0 1 0 -4 0M480.4 109.5a2 2 0 1 0 4 0a2 2 0 1 0 -4 0M477.6 112.8a2 2 0 1 0 4 0a2 2 0 1 0 -4 0M479 110.1a2 2 0 1 0 4 0a2 2 0 1 0 -4 0M505.7 114.3a2 2 0 1 0 4 0a2 2 0 1 0 -4 0M479.2 109.2a2 2 0 1 0 4 0a2 2 0 1 0 -4 0M477.9 112.6a2 2 0 1 0 4 0a2 2 0 1 0 -4 0M472 115.1a2 2 0 1 0 4 0a2 2 0 1 0 -4 0M504.2 114.2a2 2 0 1 0 4 0a2 2 0 1 0 -4 0M482.4 111.8a2 2 0 1 0 4 0a2 2 0 1 0 -4 0M502.1 114.4a2 2 0 1 0 4 0a2 2 0 1 0 -4 0M499.5 113.7a2 2 0 1 0 4 0a2 2 0 1 0 -4 0M493.1 114.5a2 2 0 1 0 4 0a2 2 0 1 0 -4 0M497.6 111.7a2 2 0 1 0 4 0a2 2 0 1 0 -4 0M471.7 111.6a2 2 0 1 0 4 0a2 2 0 1 0 -4 0M497.7 115.8a2 2 0 1 0 4 0a2 2 0 1 0 -4 0M466.3 108.7a2 2 0 1 0 4 0a2 2 0 1 0 -4 0M488.3 115.8a2 2 0 1 0 4 0a2 2 0 1 0 -4 0M482.1 111.8a2 2 0 1 0 4 0a2 2 0 1 0 -4 0M467.7 113.4a2 2 0 1 0 4 0a2 2 0 1 0 -4 0M491.6 114.1a2 2 0 1 0 4 0a2 2 0 1 0 -4 0M482.8 115.9a2 2 0 1 0 4 0a2 2 0 1 0 -4 0M489.4 109.6a2 2 0 1 0 4 0a2 2 0 1 0 -4 0M465.6 109.6a2 2 0 1 0 4 0a2 2 0 1 0 -4 0M472.5 110.3a2 2 0 1 0 4 0a2 2 0 1 0 -4 0M503.7 114.6a2 2 0 1 0 4 0a2 2 0 1 0 -4 0M476.8 112.7a2 2 0 1 0 4 0a2 2 0 1 0 -4 0M487.4 111.4a2 2 0 1 0 4 0a2 2 0 1 0 -4 0M498.4 115.2a2 2 0 1 0 4 0a2 2 0 1 0 -4 0M469.4 110.8a2 2 0 1 0 4 0a2 2 0 1 0 -4 0M476.1 109.9a2 2 0 1 0 4 0a2 2 0 1 0 -4 0M488.9 114.2a2 2 0 1 0 4 0a2 2 0 1 0 -4 0M489.7 114a2 2 0 1 0 4 0a2 2 0 1 0 -4 0M490.4 112.4a2 2 0 1 0 4 0a2 2 0 1 0 -4 0M466.7 111.3a2 2 0 1 0 4 0a2 2 0 1 0 -4 0M486.8 113.3a2 2 0 1 0 4 0a2 2 0 1 0 -4 0M489.4 114.2a2 2 0 1 0 4 0a2 2 0 1 0 -4 0M502.4 112.9a2 2 0 1 0 4 0a2 2 0 1 0 -4 0M488 112.3a2 2 0 1 0 4 0a2 2 0 1 0 -4 0M473.7 111.7a2 2 0 1 0 4 0a2 2 0 1 0 -4 0M473.1 110.3a2 2 0 1 0 4 0a2 2 0 1 0 -4 0M481.2 113a2 2 0 1 0 4 0a2 2 0 1 0 -4 0M469.8 110.6a2 2 0 1 0 4 0a2 2 0 1 0 -4 0M467.1 111.3a2 2 0 1 0 4 0a2 2 0 1 0 -4 0M479.2 113.7a2 2 0 1 0 4 0a2 2 0 1 0 -4 0M495.9 111.5a2 2 0 1 0 4 0a2 2 0 1 0 -4 0M479.2 113.2a2 2 0 1 0 4 0a2 2 0 1 0 -4 0M496.6 115a2 2 0 1 0 4 0a2 2 0 1 0 -4 0M503.4 113.2a2 2 0 1 0 4 0a2 2 0 1 0 -4 0M492.4 111.8a2 2 0 1 0 4 0a2 2 0 1 0 -4 0M467.2 111.8a2 2 0 1 0 4 0a2 2 0 1 0 -4 0M501.7 112.4a2 2 0 1 0 4 0a2 2 0 1 0 -4 0M482.2 114.6a2 2 0 1 0 4 0a2 2 0 1 0 -4 0M485.2 112.6a2 2 0 1 0 4 0a2 2 0 1 0 -4 0M476.5 112.9a2 2 0 1 0 4 0a2 2 0 1 0 -4 0M492.3 112.8a2 2 0 1 0 4 0a2 2 0 1 0 -4 0M493.7 113a2 2 0 1 0 4 0a2 2 0 1 0 -4 0M480.9 113.4a2 2 0 1 0 4 0a2 2 0 1 0 -4 0M470.7 111.8a2 2 0 1 0 4 0a2 2 0 1 0 -4 0M498.9 112.1a2 2 0 1 0 4 0a2 2 0 1 0 -4 0M472.4 110.8a2 2 0 1 0 4 0a2 2 0 1 0 -4 0M474.4 111.2a2 2 0 1 0 4 0a2 2 0 1 0 -4 0M497.4 115.1a2 2 0 1 0 4 0a2 2 0 1 0 -4 0M497.3 112.2a2 2 0 1 0 4 0a2 2 0 1 0 -4 0M491.1 108.8a2 2 0 1 0 4 0a2 2 0 1 0 -4 0M466.2 111.7a2 2 0 1 0 4 0a2 2 0 1 0 -4 0M472.9 111.7a2 2 0 1 0 4 0a2 2 0 1 0 -4 0M485.3 113.5a2 2 0 1 0 4 0a2 2 0 1 0 -4 0M480.8 109.5a2 2 0 1 0 4 0a2 2 0 1 0 -4 0M472.1 114.4a2 2 0 1 0 4 0a2 2 0 1 0 -4 0M476.7 111.3a2 2 0 1 0 4 0a2 2 0 1 0 -4 0M472.8 111.9a2 2 0 1 0 4 0a2 2 0 1 0 -4 0M491 112a2 2 0 1 0 4 0a2 2 0 1 0 -4 0M477.4 113a2 2 0 1 0 4 0a2 2 0 1 0 -4 0M465.6 110.1a2 2 0 1 0 4 0a2 2 0 1 0 -4 0M470.1 112.9a2 2 0 1 0 4 0a2 2 0 1 0 -4 0M490.6 107.5a2 2 0 1 0 4 0a2 2 0 1 0 -4 0M492.4 112.6a2 2 0 1 0 4 0a2 2 0 1 0 -4 0M465 111.9a2 2 0 1 0 4 0a2 2 0 1 0 -4 0M477.1 112.5a2 2 0 1 0 4 0a2 2 0 1 0 -4 0M503.8 115.2a2 2 0 1 0 4 0a2 2 0 1 0 -4 0M468.6 109.4a2 2 0 1 0 4 0a2 2 0 1 0 -4 0M484.5 110a2 2 0 1 0 4 0a2 2 0 1 0 -4 0M469.3 111.7a2 2 0 1 0 4 0a2 2 0 1 0 -4 0M469 110.5a2 2 0 1 0 4 0a2 2 0 1 0 -4 0M472.1 109.2a2 2 0 1 0 4 0a2 2 0 1 0 -4 0M486.5 112.2a2 2 0 1 0 4 0a2 2 0 1 0 -4 0M494.4 114.8a2 2 0 1 0 4 0a2 2 0 1 0 -4 0M467.6 109.9a2 2 0 1 0 4 0a2 2 0 1 0 -4 0M488.7 112.8a2 2 0 1 0 4 0a2 2 0 1 0 -4 0M474.5 110.5a2 2 0 1 0 4 0a2 2 0 1 0 -4 0M500.1 113.4a2 2 0 1 0 4 0a2 2 0 1 0 -4 0M492.6 112.1a2 2 0 1 0 4 0a2 2 0 1 0 -4 0M497.5 112.6a2 2 0 1 0 4 0a2 2 0 1 0 -4 0M491.3 113.5a2 2 0 1 0 4 0a2 2 0 1 0 -4 0M475.7 112.4a2 2 0 1 0 4 0a2 2 0 1 0 -4 0M479.5 112.8a2 2 0 1 0 4 0a2 2 0 1 0 -4 0M466.8 109.5a2 2 0 1 0 4 0a2 2 0 1 0 -4 0M486.4 114.1a2 2 0 1 0 4 0a2 2 0 1 0 -4 0M479.6 112.2a2 2 0 1 0 4 0a2 2 0 1 0 -4 0M476.2 110.8a2 2 0 1 0 4 0a2 2 0 1 0 -4 0M503.4 111.8a2 2 0 1 0 4 0a2 2 0 1 0 -4 0M487.3 111.6a2 2 0 1 0 4 0a2 2 0 1 0 -4 0M466.4 110.9a2 2 0 1 0 4 0a2 2 0 1 0 -4 0M501.3 114.5a2 2 0 1 0 4 0a2 2 0 1 0 -4 0M475.8 109.5a2 2 0 1 0 4 0a2 2 0 1 0 -4 0M465.6 111.8a2 2 0 1 0 4 0a2 2 0 1 0 -4 0M493.5 114a2 2 0 1 0 4 0a2 2 0 1 0 -4 0M501.5 111.3a2 2 0 1 0 4 0a2 2 0 1 0 -4 0M475.6 113.6a2 2 0 1 0 4 0a2 2 0 1 0 -4 0M492.9 115.6a2 2 0 1 0 4 0a2 2 0 1 0 -4 0M478.1 111.1a2 2 0 1 0 4 0a2 2 0 1 0 -4 0M499.3 114.4a2 2 0 1 0 4 0a2 2 0 1 0 -4 0M482.2 112.8a2 2 0 1 0 4 0a2 2 0 1 0 -4 0M475.8 109.9a2 2 0 1 0 4 0a2 2 0 1 0 -4 0M484.6 112.1a2 2 0 1 0 4 0a2 2 0 1 0 -4 0M477.2 107.5a2 2 0 1 0 4 0a2 2 0 1 0 -4 0M492.9 109.8a2 2 0 1 0 4 0a2 2 0 1 0 -4 0M496 115.4a2 2 0 1 0 4 0a2 2 0 1 0 -4 0M486.5 111.3a2 2 0 1 0 4 0a2 2 0 1 0 -4 0M501.7 114.8a2 2 0 1 0 4 0a2 2 0 1 0 -4 0M497.8 113.2a2 2 0 1 0 4 0a2 2 0 1 0 -4 0M470 111.9a2 2 0 1 0 4 0a2 2 0 1 0 -4 0M505.4 114.4a2 2 0 1 0 4 0a2 2 0 1 0 -4 0M486.5 110a2 2 0 1 0 4 0a2 2 0 1 0 -4 0M485.8 110.1a2 2 0 1 0 4 0a2 2 0 1 0 -4 0M465.1 111.7a2 2 0 1 0 4 0a2 2 0 1 0 -4 0M503.3 115.3a2 2 0 1 0 4 0a2 2 0 1 0 -4 0M490.5 115.1a2 2 0 1 0 4 0a2 2 0 1 0 -4 0M498.1 112.1a2 2 0 1 0 4 0a2 2 0 1 0 -4 0M463.4 108.5a2 2 0 1 0 4 0a2 2 0 1 0 -4 0M471.9 111.5a2 2 0 1 0 4 0a2 2 0 1 0 -4 0M485.4 111.1a2 2 0 1 0 4 0a2 2 0 1 0 -4 0M496.4 114.6a2 2 0 1 0 4 0a2 2 0 1 0 -4 0M502.4 115.4a2 2 0 1 0 4 0a2 2 0 1 0 -4 0M495.4 111.5a2 2 0 1 0 4 0a2 2 0 1 0 -4 0M473.8 112.8a2 2 0 1 0 4 0a2 2 0 1 0 -4 0M492.3 111.8a2 2 0 1 0 4 0a2 2 0 1 0 -4 0M483.4 115.4a2 2 0 1 0 4 0a2 2 0 1 0 -4 0M497.7 111.1a2 2 0 1 0 4 0a2 2 0 1 0 -4 0M492.5 116.1a2 2 0 1 0 4 0a2 2 0 1 0 -4 0M481.7 108.5a2 2 0 1 0 4 0a2 2 0 1 0 -4 0M485.3 110.8a2 2 0 1 0 4 0a2 2 0 1 0 -4 0M505.2 115a2 2 0 1 0 4 0a2 2 0 1 0 -4 0M483.5 110.2a2 2 0 1 0 4 0a2 2 0 1 0 -4 0M500.1 114.6a2 2 0 1 0 4 0a2 2 0 1 0 -4 0M493.8 114.5a2 2 0 1 0 4 0a2 2 0 1 0 -4 0M498.9 109.7a2 2 0 1 0 4 0a2 2 0 1 0 -4 0M490.8 117.4a2 2 0 1 0 4 0a2 2 0 1 0 -4 0M463.1 111.9a2 2 0 1 0 4 0a2 2 0 1 0 -4 0M475.8 112.8a2 2 0 1 0 4 0a2 2 0 1 0 -4 0M473 110.7a2 2 0 1 0 4 0a2 2 0 1 0 -4 0M502.8 114.2a2 2 0 1 0 4 0a2 2 0 1 0 -4 0M499.6 112a2 2 0 1 0 4 0a2 2 0 1 0 -4 0M475.2 110.8a2 2 0 1 0 4 0a2 2 0 1 0 -4 0M488.7 109.4a2 2 0 1 0 4 0a2 2 0 1 0 -4 0M499 117.4a2 2 0 1 0 4 0a2 2 0 1 0 -4 0M464.5 110.4a2 2 0 1 0 4 0a2 2 0 1 0 -4 0M480.4 112.8a2 2 0 1 0 4 0a2 2 0 1 0 -4 0M505.1 114a2 2 0 1 0 4 0a2 2 0 1 0 -4 0M473.6 111.8a2 2 0 1 0 4 0a2 2 0 1 0 -4 0M463.6 110.3a2 2 0 1 0 4 0a2 2 0 1 0 -4 0M486.8 115.4a2 2 0 1 0 4 0a2 2 0 1 0 -4 0M488.5 111.5a2 2 0 1 0 4 0a2 2 0 1 0 -4 0M492.7 116a2 2 0 1 0 4 0a2 2 0 1 0 -4 0M493.9 110.9a2 2 0 1 0 4 0a2 2 0 1 0 -4 0M474.2 111.9a2 2 0 1 0 4 0a2 2 0 1 0 -4 0M489.3 114.2a2 2 0 1 0 4 0a2 2 0 1 0 -4 0M501.4 116.6a2 2 0 1 0 4 0a2 2 0 1 0 -4 0M500.3 114.5a2 2 0 1 0 4 0a2 2 0 1 0 -4 0M469.1 109.3a2 2 0 1 0 4 0a2 2 0 1 0 -4 0M473.5 111a2 2 0 1 0 4 0a2 2 0 1 0 -4 0M466.1 106.6a2 2 0 1 0 4 0a2 2 0 1 0 -4 0M477.1 110.9a2 2 0 1 0 4 0a2 2 0 1 0 -4 0M499.8 113.2a2 2 0 1 0 4 0a2 2 0 1 0 -4 0M476.6 113.2a2 2 0 1 0 4 0a2 2 0 1 0 -4 0M475 110.6a2 2 0 1 0 4 0a2 2 0 1 0 -4 0M469.1 113.3a2 2 0 1 0 4 0a2 2 0 1 0 -4 0M499 113.1a2 2 0 1 0 4 0a2 2 0 1 0 -4 0M463.9 110.4a2 2 0 1 0 4 0a2 2 0 1 0 -4 0M504.1 110.6a2 2 0 1 0 4 0a2 2 0 1 0 -4 0M478.2 114.3a2 2 0 1 0 4 0a2 2 0 1 0 -4 0M505 114a2 2 0 1 0 4 0a2 2 0 1 0 -4 0M473.1 109.7a2 2 0 1 0 4 0a2 2 0 1 0 -4 0M487.6 111.7a2 2 0 1 0 4 0a2 2 0 1 0 -4 0M501.3 113.7a2 2 0 1 0 4 0a2 2 0 1 0 -4 0M504.4 116a2 2 0 1 0 4 0a2 2 0 1 0 -4 0M477.9 110.4a2 2 0 1 0 4 0a2 2 0 1 0 -4 0M493.6 112.4a2 2 0 1 0 4 0a2 2 0 1 0 -4 0M491 116.6a2 2 0 1 0 4 0a2 2 0 1 0 -4 0M464.3 112.4a2 2 0 1 0 4 0a2 2 0 1 0 -4 0M477 112.2a2 2 0 1 0 4 0a2 2 0 1 0 -4 0M482.1 112.7a2 2 0 1 0 4 0a2 2 0 1 0 -4 0M497.6 117.5a2 2 0 1 0 4 0a2 2 0 1 0 -4 0M485.5 111.4a2 2 0 1 0 4 0a2 2 0 1 0 -4 0M473.6 106a2 2 0 1 0 4 0a2 2 0 1 0 -4 0M494.6 112.5a2 2 0 1 0 4 0a2 2 0 1 0 -4 0M491.8 114a2 2 0 1 0 4 0a2 2 0 1 0 -4 0M486.7 110.6a2 2 0 1 0 4 0a2 2 0 1 0 -4 0M500 114.7a2 2 0 1 0 4 0a2 2 0 1 0 -4 0M487.4 116.4a2 2 0 1 0 4 0a2 2 0 1 0 -4 0M467.7 112.5a2 2 0 1 0 4 0a2 2 0 1 0 -4 0M469.5 110.3a2 2 0 1 0 4 0a2 2 0 1 0 -4 0M479.9 110.1a2 2 0 1 0 4 0a2 2 0 1 0 -4 0M493.8 112a2 2 0 1 0 4 0a2 2 0 1 0 -4 0M467.1 110.9a2 2 0 1 0 4 0a2 2 0 1 0 -4 0M500.6 116.7a2 2 0 1 0 4 0a2 2 0 1 0 -4 0M501.6 113.9a2 2 0 1 0 4 0a2 2 0 1 0 -4 0M495.7 113.4a2 2 0 1 0 4 0a2 2 0 1 0 -4 0M488.5 112.3a2 2 0 1 0 4 0a2 2 0 1 0 -4 0M480.8 112.3a2 2 0 1 0 4 0a2 2 0 1 0 -4 0M471.9 106.9a2 2 0 1 0 4 0a2 2 0 1 0 -4 0M470.6 108.6a2 2 0 1 0 4 0a2 2 0 1 0 -4 0M464.5 111.5a2 2 0 1 0 4 0a2 2 0 1 0 -4 0M481.2 112.9a2 2 0 1 0 4 0a2 2 0 1 0 -4 0M475.5 110.4a2 2 0 1 0 4 0a2 2 0 1 0 -4 0M479.5 112.1a2 2 0 1 0 4 0a2 2 0 1 0 -4 0M493.2 111.4a2 2 0 1 0 4 0a2 2 0 1 0 -4 0M469.5 113.9a2 2 0 1 0 4 0a2 2 0 1 0 -4 0M465.7 109.8a2 2 0 1 0 4 0a2 2 0 1 0 -4 0M503.2 113a2 2 0 1 0 4 0a2 2 0 1 0 -4 0M495.3 112.4a2 2 0 1 0 4 0a2 2 0 1 0 -4 0M466.9 109.6a2 2 0 1 0 4 0a2 2 0 1 0 -4 0M489.1 112.7a2 2 0 1 0 4 0a2 2 0 1 0 -4 0M482.7 109.7a2 2 0 1 0 4 0a2 2 0 1 0 -4 0M492.5 111.3a2 2 0 1 0 4 0a2 2 0 1 0 -4 0M469.6 110a2 2 0 1 0 4 0a2 2 0 1 0 -4 0M482.3 107.8a2 2 0 1 0 4 0a2 2 0 1 0 -4 0M476.1 110.3a2 2 0 1 0 4 0a2 2 0 1 0 -4 0M471.2 109.2a2 2 0 1 0 4 0a2 2 0 1 0 -4 0M472.4 109.1a2 2 0 1 0 4 0a2 2 0 1 0 -4 0M492.8 115a2 2 0 1 0 4 0a2 2 0 1 0 -4 0M504.2 114a2 2 0 1 0 4 0a2 2 0 1 0 -4 0M491 113.7a2 2 0 1 0 4 0a2 2 0 1 0 -4 0M476.9 110.7a2 2 0 1 0 4 0a2 2 0 1 0 -4 0M506.3 113.7a2 2 0 1 0 4 0a2 2 0 1 0 -4 0M495.3 115.3a2 2 0 1 0 4 0a2 2 0 1 0 -4 0M490 115.5a2 2 0 1 0 4 0a2 2 0 1 0 -4 0M490.1 111.4a2 2 0 1 0 4 0a2 2 0 1 0 -4 0M470.3 112.3a2 2 0 1 0 4 0a2 2 0 1 0 -4 0M505.2 113.4a2 2 0 1 0 4 0a2 2 0 1 0 -4 0M489.5 111.1a2 2 0 1 0 4 0a2 2 0 1 0 -4 0M496.9 113a2 2 0 1 0 4 0a2 2 0 1 0 -4 0M475.8 113.3a2 2 0 1 0 4 0a2 2 0 1 0 -4 0M462.7 110.2a2 2 0 1 0 4 0a2 2 0 1 0 -4 0M489 113a2 2 0 1 0 4 0a2 2 0 1 0 -4 0M496.8 112.6a2 2 0 1 0 4 0a2 2 0 1 0 -4 0M479 109.7a2 2 0 1 0 4 0a2 2 0 1 0 -4 0M481.2 111.7a2 2 0 1 0 4 0a2 2 0 1 0 -4 0M503.2 113.8a2 2 0 1 0 4 0a2 2 0 1 0 -4 0M492 111.8a2 2 0 1 0 4 0a2 2 0 1 0 -4 0M490 112.1a2 2 0 1 0 4 0a2 2 0 1 0 -4 0M503.4 114.9a2 2 0 1 0 4 0a2 2 0 1 0 -4 0M477 116.8a2 2 0 1 0 4 0a2 2 0 1 0 -4 0M502.5 115.6a2 2 0 1 0 4 0a2 2 0 1 0 -4 0M498.5 115.4a2 2 0 1 0 4 0a2 2 0 1 0 -4 0M466.1 110.9a2 2 0 1 0 4 0a2 2 0 1 0 -4 0M494.4 114.4a2 2 0 1 0 4 0a2 2 0 1 0 -4 0M497.4 110.5a2 2 0 1 0 4 0a2 2 0 1 0 -4 0M466.6 111.6a2 2 0 1 0 4 0a2 2 0 1 0 -4 0M499.7 113.7a2 2 0 1 0 4 0a2 2 0 1 0 -4 0M499.1 112.4a2 2 0 1 0 4 0a2 2 0 1 0 -4 0M500.4 113.6a2 2 0 1 0 4 0a2 2 0 1 0 -4 0M466.5 110.9a2 2 0 1 0 4 0a2 2 0 1 0 -4 0M496.5 113.4a2 2 0 1 0 4 0a2 2 0 1 0 -4 0M497.9 108.9a2 2 0 1 0 4 0a2 2 0 1 0 -4 0M496.6 110.7a2 2 0 1 0 4 0a2 2 0 1 0 -4 0M464.8 111a2 2 0 1 0 4 0a2 2 0 1 0 -4 0M476.7 113.4a2 2 0 1 0 4 0a2 2 0 1 0 -4 0" fill="none" stroke="#222" stroke-width="0.8"/>
<path d="M443.8 108a2 2 0 1 0 4 0a2 2 0 1 0 -4 0M447.7 103.3a2 2 0 1 0 4 0a2 2 0 1 0 -4 0M450.8 98.6a2 2 0 1 0 4 0a2 2 0 1 0 -4 0M452.4 101.8a2 2 0 1 0 4 0a2 2 0 1 0 -4 0M460.3 101a2 2 0 1 0 4 0a2 2 0 1 0 -4 0M451.6 110.4a2 2 0 1 0 4 0a2 2 0 1 0 -4 0M479.1 104.9a2 2 0 1 0 4 0a2 2 0 1 0 -4 0M486.2 105.7a2 2 0 1 0 4 0a2 2 0 1 0 -4 0M493.2 104.9a2 2 0 1 0 4 0a2 2 0 1 0 -4 0M501.1 108.1a2 2 0 1 0 4 0a2 2 0 1 0 -4 0M506.6 112.8a2 2 0 1 0 4 0a2 2 0 1 0 -4 0M513.6 112.8a2 2 0 1 0 4 0a2 2 0 1 0 -4 0M517.6 113.5a2 2 0 1 0 4 0a2 2 0 1 0 -4 0M515.2 115.9a2 2 0 1 0 4 0a2 2 0 1 0 -4 0M470.5 104.9a2 2 0 1 0 4 0a2 2 0 1 0 -4 0M455.5 113.5a2 2 0 1 0 4 0a2 2 0 1 0 -4 0" fill="none" stroke="#3a3a3a" stroke-width="0.7"/>
<path d="M634.3 98.7l3.6 3.6m0 -3.6l-3.6 3.6M644.7 108.9l3.6 3.6m0 -3.6l-3.6 3.6M641.2 109.3l3.6 3.6m0 -3.6l-3.6 3.6M640.4 118.2l3.6 3.6m0 -3.6l-3.6 3.6M646.1 117.2l3.6 3.6m0 -3.6l-3.6 3.6M629.8 117.9l3.6 3.6m0 -3.6l-3.6 3.6M635.4 108.5l3.6 3.6m0 -3.6l-3.6 3.6M633.7 107.5l3.6 3.6m0 -3.6l-3.6 3.6M627.1 99l3.6 3.6m0 -3.6l-3.6 3.6M629 97.7l3.6 3.6m0 -3.6l-3.6 3.6M644.5 113l3.6 3.6m0 -3.6l-3.6 3.6M629.5 111.7l3.6 3.6m0 -3.6l-3.6 3.6M634.9 117l3.6 3.6m0 -3.6l-3.6 3.6M624.6 109.5l3.6 3.6m0 -3.6l-3.6 3.6M622.5 100.5l3.6 3.6m0 -3.6l-3.6 3.6M622.1 120.5l3.6 3.6m0 -3.6l-3.6 3.6M624.3 116.9l3.6 3.6m0 -3.6l-3.6 3.6M624.4 101.1l3.6 3.6m0 -3.6l-3.6 3.6M631.2 95.7l3.6 3.6m0 -3.6l-3.6 3.6M621.5 110.4l3.6 3.6m0 -3.6l-3.6 3.6M641.2 120.1l3.6 3.6m0 -3.6l-3.6 3.6M634.3 115.5l3.6 3.6m0 -3.6l-3.6 3.6M640.1 113.9l3.6 3.6m0 -3.6l-3.6 3.6M622.4 96.7l3.6 3.6m0 -3.6l-3.6 3.6M627.7 116l3.6 3.6m0 -3.6l-3.6 3.6M625.1 105.2l3.6 3.6m0 -3.6l-3.6 3.6M629.6 98.9l3.6 3.6m0 -3.6l-3.6 3.6M628 107.9l3.6 3.6m0 -3.6l-3.6 3.6M637.7 99.3l3.6 3.6m0 -3.6l-3.6 3.6M645.2 107.8l3.6 3.6m0 -3.6l-3.6 3.6M629.3 103l3.6 3.6m0 -3.6l-3.6 3.6M656.3 108.3l3.6 3.6m0 -3.6l-3.6 3.6M625.4 115.3l3.6 3.6m0 -3.6l-3.6 3.6M627.4 111.7l3.6 3.6m0 -3.6l-3.6 3.6M628.1 105.8l3.6 3.6m0 -3.6l-3.6 3.6M640.2 109.7l3.6 3.6m0 -3.6l-3.6 3.6M636.3 111.4l3.6 3.6m0 -3.6l-3.6 3.6M632.9 98.9l3.6 3.6m0 -3.6l-3.6 3.6M652.4 120.3l3.6 3.6m0 -3.6l-3.6 3.6M613 113.5l3.6 3.6m0 -3.6l-3.6 3.6M615.1 102.7l3.6 3.6m0 -3.6l-3.6 3.6M620.9 119l3.6 3.6m0 -3.6l-3.6 3.6M642.3 120.4l3.6 3.6m0 -3.6l-3.6 3.6M638 119.4l3.6 3.6m0 -3.6l-3.6 3.6M634.1 110.7l3.6 3.6m0 -3.6l-3.6 3.6M642.2 104.8l3.6 3.6m0 -3.6l-3.6 3.6M625.9 97.7l3.6 3.6m0 -3.6l-3.6 3.6M651.3 98.3l3.6 3.6m0 -3.6l-3.6 3.6M626.9 103l3.6 3.6m0 -3.6l-3.6 3.6M636.6 109.2l3.6 3.6m0 -3.6l-3.6 3.6M632.1 115.8l3.6 3.6m0 -3.6l-3.6 3.6M647.6 101.5l3.6 3.6m0 -3.6l-3.6 3.6M639.9 96.9l3.6 3.6m0 -3.6l-3.6 3.6M631.2 99.5l3.6 3.6m0 -3.6l-3.6 3.6M629.9 102.9l3.6 3.6m0 -3.6l-3.6 3.6M649.7 116.3l3.6 3.6m0 -3.6l-3.6 3.6M634.3 98.8l3.6 3.6m0 -3.6l-3.6 3.6M631.5 105.9l3.6 3.6m0 -3.6l-3.6 3.6M628.1 99.2l3.6 3.6m0 -3.6l-3.6 3.6M638.8 109.3l3.6 3.6m0 -3.6l-3.6 3.6M631.1 120l3.6 3.6m0 -3.6l-3.6 3.6M628.3 110.8l3.6 3.6m0 -3.6l-3.6 3.6M642.4 105.6l3.6 3.6m0 -3.6l-3.6 3.6M654.1 104.9l3.6 3.6m0 -3.6l-3.6 3.6M635 109l3.6 3.6m0 -3.6l-3.6 3.6M640.9 121.1l3.6 3.6m0 -3.6l-3.6 3.6M640.7 111l3.6 3.6m0 -3.6l-3.6 3.6M639.2 112.6l3.6 3.6m0 -3.6l-3.6 3.6M637.6 98l3.6 3.6m0 -3.6l-3.6 3.6M644.7 104.7l3.6 3.6m0 -3.6l-3.6 3.6M638.1 118.6l3.6 3.6m0 -3.6l-3.6 3.6M615.5 112.8l3.6 3.6m0 -3.6l-3.6 3.6M632.7 106.8l3.6 3.6m0 -3.6l-3.6 3.6M639.6 113.3l3.6 3.6m0 -3.6l-3.6 3.6M649.8 102l3.6 3.6m0 -3.6l-3.6 3.6M644.8 106.9l3.6 3.6m0 -3.6l-3.6 3.6M642.9 110.5l3.6 3.6m0 -3.6l-3.6 3.6M630 93.2l3.6 3.6m0 -3.6l-3.6 3.6M633.5 112.2l3.6 3.6m0 -3.6l-3.6 3.6M629.3 96.3l3.6 3.6m0 -3.6l-3.6 3.6M638.2 99.5l3.6 3.6m0 -3.6l-3.6 3.6M625.5 106.4l3.6 3.6m0 -3.6l-3.6 3.6M629.3 115.3l3.6 3.6m0 -3.6l-3.6 3.6M635 110l3.6 3.6m0 -3.6l-3.6 3.6M635.9 122.4l3.6 3.6m0 -3.6l-3.6 3.6M618.5 105.1l3.6 3.6m0 -3.6l-3.6 3.6M630.8 114.5l3.6 3.6m0 -3.6l-3.6 3.6M632.8 113.4l3.6 3.6m0 -3.6l-3.6 3.6M614.3 99.2l3.6 3.6m0 -3.6l-3.6 3.6M624.1 104.9l3.6 3.6m0 -3.6l-3.6 3.6M631.6 104.4l3.6 3.6m0 -3.6l-3.6 3.6M643.4 111.6l3.6 3.6m0 -3.6l-3.6 3.6M631.2 120l3.6 3.6m0 -3.6l-3.6 3.6M637.3 108.4l3.6 3.6m0 -3.6l-3.6 3.6M638.5 106.3l3.6 3.6m0 -3.6l-3.6 3.6M641.2 111.2l3.6 3.6m0 -3.6l-3.6 3.6M641.6 117.3l3.6 3.6m0 -3.6l-3.6 3.6M638.6 110.6l3.6 3.6m0 -3.6l-3.6 3.6M635.5 124.1l3.6 3.6m0 -3.6l-3.6 3.6M629.7 107.1l3.6 3.6m0 -3.6l-3.6 3.6M641.1 98.4l3.6 3.6m0 -3.6l-3.6 3.6M629 106.4l3.6 3.6m0 -3.6l-3.6 3.6M631.1 114l3.6 3.6m0 -3.6l-3.6 3.6M624.6 101.6l3.6 3.6m0 -3.6l-3.6 3.6M642.4 117l3.6 3.6m0 -3.6l-3.6 3.6M643.9 105.6l3.6 3.6m0 -3.6l-3.6 3.6M649.3 105.3l3.6 3.6m0 -3.6l-3.6 3.6M638.5 108.3l3.6 3.6m0 -3.6l-3.6 3.6M630.4 98.6l3.6 3.6m0 -3.6l-3.6 3.6M629.9 99.5l3.6 3.6m0 -3.6l-3.6 3.6M620.2 118.2l3.6 3.6m0 -3.6l-3.6 3.6M636.9 120.3l3.6 3.6m0 -3.6l-3.6 3.6M623.7 106.2l3.6 3.6m0 -3.6l-3.6 3.6M645.3 96l3.6 3.6m0 -3.6l-3.6 3.6M633.4 119.7l3.6 3.6m0 -3.6l-3.6 3.6M638.4 108.8l3.6 3.6m0 -3.6l-3.6 3.6M636.7 119.2l3.6 3.6m0 -3.6l-3.6 3.6M633.2 111.2l3.6 3.6m0 -3.6l-3.6 3.6M626.9 99.3l3.6 3.6m0 -3.6l-3.6 3.6M623.7 114.7l3.6 3.6m0 -3.6l-3.6 3.6M647.4 109.2l3.6 3.6m0 -3.6l-3.6 3.6M635.7 98.3l3.6 3.6m0 -3.6l-3.6 3.6M648.4 108.6l3.6 3.6m0 -3.6l-3.6 3.6M625.8 119.4l3.6 3.6m0 -3.6l-3.6 3.6M627.1 105.4l3.6 3.6m0 -3.6l-3.6 3.6M636.8 111.4l3.6 3.6m0 -3.6l-3.6 3.6M635 121.6l3.6 3.6m0 -3.6l-3.6 3.6M646.7 103.8l3.6 3.6m0 -3.6l-3.6 3.6M623.7 106.7l3.6 3.6m0 -3.6l-3.6 3.6M646.1 118.9l3.6 3.6m0 -3.6l-3.6 3.6M623 104.9l3.6 3.6m0 -3.6l-3.6 3.6M641.7 97.5l3.6 3.6m0 -3.6l-3.6 3.6M640.4 106l3.6 3.6m0 -3.6l-3.6 3.6M637.9 99.7l3.6 3.6m0 -3.6l-3.6 3.6M650.1 104.9l3.6 3.6m0 -3.6l-3.6 3.6M633.5 96.6l3.6 3.6m0 -3.6l-3.6 3.6M627.5 99.8l3.6 3.6m0 -3.6l-3.6 3.6M646 101.7l3.6 3.6m0 -3.6l-3.6 3.6M640.1 105.7l3.6 3.6m0 -3.6l-3.6 3.6M619.1 108.2l3.6 3.6m0 -3.6l-3.6 3.6M636 106.1l3.6 3.6m0 -3.6l-3.6 3.6M638.8 118.3l3.6 3.6m0 -3.6l-3.6 3.6M626.2 96l3.6 3.6m0 -3.6l-3.6 3.6M625.5 102.3l3.6 3.6m0 -3.6l-3.6 3.6M643.3 122.2l3.6 3.6m0 -3.6l-3.6 3.6M637.3 119.4l3.6 3.6m0 -3.6l-3.6 3.6M638.6 109.9l3.6 3.6m0 -3.6l-3.6 3.6M629.4 98.6l3.6 3.6m0 -3.6l-3.6 3.6M621.5 109.7l3.6 3.6m0 -3.6l-3.6 3.6M625.1 119.9l3.6 3.6m0 -3.6l-3.6 3.6" fill="none" stroke="#b4b4b4" stroke-width="0.75" clip-path="url(#p5t)"/>
<path d="M625.9 118.5l3.6 3.6m0 -3.6l-3.6 3.6M629.5 115.6l3.6 3.6m0 -3.6l-3.6 3.6M642.6 108.3l3.6 3.6m0 -3.6l-3.6 3.6M641.7 94.9l3.6 3.6m0 -3.6l-3.6 3.6M636.1 119.5l3.6 3.6m0 -3.6l-3.6 3.6M648.4 85.2l3.6 3.6m0 -3.6l-3.6 3.6M654.3 86l3.6 3.6m0 -3.6l-3.6 3.6M654 88.7l3.6 3.6m0 -3.6l-3.6 3.6M655.8 81.8l3.6 3.6m0 -3.6l-3.6 3.6M644.2 97l3.6 3.6m0 -3.6l-3.6 3.6M653.7 84.6l3.6 3.6m0 -3.6l-3.6 3.6M642.9 99.8l3.6 3.6m0 -3.6l-3.6 3.6M653.4 90.3l3.6 3.6m0 -3.6l-3.6 3.6M654.8 94.2l3.6 3.6m0 -3.6l-3.6 3.6M629.2 120.8l3.6 3.6m0 -3.6l-3.6 3.6M651.7 90.1l3.6 3.6m0 -3.6l-3.6 3.6M628.8 114.8l3.6 3.6m0 -3.6l-3.6 3.6M636.7 98.1l3.6 3.6m0 -3.6l-3.6 3.6M635.9 112.6l3.6 3.6m0 -3.6l-3.6 3.6M632.8 102.1l3.6 3.6m0 -3.6l-3.6 3.6M637.3 110.9l3.6 3.6m0 -3.6l-3.6 3.6M633.9 101.3l3.6 3.6m0 -3.6l-3.6 3.6M655.8 93.5l3.6 3.6m0 -3.6l-3.6 3.6M648.8 89.2l3.6 3.6m0 -3.6l-3.6 3.6M631.8 118.4l3.6 3.6m0 -3.6l-3.6 3.6M650.9 96.7l3.6 3.6m0 -3.6l-3.6 3.6M633.3 105.2l3.6 3.6m0 -3.6l-3.6 3.6M631.2 104.5l3.6 3.6m0 -3.6l-3.6 3.6M654.6 87.8l3.6 3.6m0 -3.6l-3.6 3.6M635.2 116.9l3.6 3.6m0 -3.6l-3.6 3.6M638.8 112.1l3.6 3.6m0 -3.6l-3.6 3.6M641.4 110.5l3.6 3.6m0 -3.6l-3.6 3.6M653.3 96l3.6 3.6m0 -3.6l-3.6 3.6M627.7 113.2l3.6 3.6m0 -3.6l-3.6 3.6M627.3 115.5l3.6 3.6m0 -3.6l-3.6 3.6M642.1 99.2l3.6 3.6m0 -3.6l-3.6 3.6M646.5 96l3.6 3.6m0 -3.6l-3.6 3.6M631.6 107.9l3.6 3.6m0 -3.6l-3.6 3.6M662.7 75.8l3.6 3.6m0 -3.6l-3.6 3.6M656.6 90.8l3.6 3.6m0 -3.6l-3.6 3.6M637.1 114.6l3.6 3.6m0 -3.6l-3.6 3.6M655.7 85.8l3.6 3.6m0 -3.6l-3.6 3.6M653.7 93.3l3.6 3.6m0 -3.6l-3.6 3.6M630.2 113.7l3.6 3.6m0 -3.6l-3.6 3.6M636 100.5l3.6 3.6m0 -3.6l-3.6 3.6M647.6 103.2l3.6 3.6m0 -3.6l-3.6 3.6M630.9 113l3.6 3.6m0 -3.6l-3.6 3.6M624.9 119.7l3.6 3.6m0 -3.6l-3.6 3.6M639.1 107.3l3.6 3.6m0 -3.6l-3.6 3.6M662 75l3.6 3.6m0 -3.6l-3.6 3.6M649.2 95.2l3.6 3.6m0 -3.6l-3.6 3.6M651.4 83.7l3.6 3.6m0 -3.6l-3.6 3.6M655.2 88.3l3.6 3.6m0 -3.6l-3.6 3.6M652.3 96.3l3.6 3.6m0 -3.6l-3.6 3.6M656.1 84l3.6 3.6m0 -3.6l-3.6 3.6M645.1 92.4l3.6 3.6m0 -3.6l-3.6 3.6M647.1 93.4l3.6 3.6m0 -3.6l-3.6 3.6M654.1 81.7l3.6 3.6m0 -3.6l-3.6 3.6M626.5 111.9l3.6 3.6m0 -3.6l-3.6 3.6M661.7 79.4l3.6 3.6m0 -3.6l-3.6 3.6M641.6 93.6l3.6 3.6m0 -3.6l-3.6 3.6M635.2 113.3l3.6 3.6m0 -3.6l-3.6 3.6M654.9 94.3l3.6 3.6m0 -3.6l-3.6 3.6M649.6 103.2l3.6 3.6m0 -3.6l-3.6 3.6M634.9 112.2l3.6 3.6m0 -3.6l-3.6 3.6M635 118.3l3.6 3.6m0 -3.6l-3.6 3.6M628.1 112.2l3.6 3.6m0 -3.6l-3.6 3.6M634.7 119.8l3.6 3.6m0 -3.6l-3.6 3.6M655.9 83.3l3.6 3.6m0 -3.6l-3.6 3.6M638.2 107.4l3.6 3.6m0 -3.6l-3.6 3.6M664.1 72.5l3.6 3.6m0 -3.6l-3.6 3.6M637.7 96.1l3.6 3.6m0 -3.6l-3.6 3.6M635.1 119.7l3.6 3.6m0 -3.6l-3.6 3.6M637.7 102.4l3.6 3.6m0 -3.6l-3.6 3.6M631.6 121.6l3.6 3.6m0 -3.6l-3.6 3.6M662.3 71.3l3.6 3.6m0 -3.6l-3.6 3.6M635.6 99.9l3.6 3.6m0 -3.6l-3.6 3.6M647.9 98.7l3.6 3.6m0 -3.6l-3.6 3.6M628.4 113.6l3.6 3.6m0 -3.6l-3.6 3.6M665.5 72.4l3.6 3.6m0 -3.6l-3.6 3.6M627.9 110.8l3.6 3.6m0 -3.6l-3.6 3.6M653.1 82.3l3.6 3.6m0 -3.6l-3.6 3.6M625.3 119.6l3.6 3.6m0 -3.6l-3.6 3.6M633.4 117.4l3.6 3.6m0 -3.6l-3.6 3.6M626 115.7l3.6 3.6m0 -3.6l-3.6 3.6M650.4 93.3l3.6 3.6m0 -3.6l-3.6 3.6M656.3 77.1l3.6 3.6m0 -3.6l-3.6 3.6M646.6 98.5l3.6 3.6m0 -3.6l-3.6 3.6M649.9 91.4l3.6 3.6m0 -3.6l-3.6 3.6M646.6 104.4l3.6 3.6m0 -3.6l-3.6 3.6M640.3 105.1l3.6 3.6m0 -3.6l-3.6 3.6M660.2 83.4l3.6 3.6m0 -3.6l-3.6 3.6M629.8 111.2l3.6 3.6m0 -3.6l-3.6 3.6M644.5 106.7l3.6 3.6m0 -3.6l-3.6 3.6M658.5 75.2l3.6 3.6m0 -3.6l-3.6 3.6M654.8 83.9l3.6 3.6m0 -3.6l-3.6 3.6M631.2 117.6l3.6 3.6m0 -3.6l-3.6 3.6M659.5 81.5l3.6 3.6m0 -3.6l-3.6 3.6M659.9 84.4l3.6 3.6m0 -3.6l-3.6 3.6M658.3 76.5l3.6 3.6m0 -3.6l-3.6 3.6M630.3 106.6l3.6 3.6m0 -3.6l-3.6 3.6M635 108.8l3.6 3.6m0 -3.6l-3.6 3.6M647.1 102.3l3.6 3.6m0 -3.6l-3.6 3.6M648.4 88.8l3.6 3.6m0 -3.6l-3.6 3.6M653.2 84.9l3.6 3.6m0 -3.6l-3.6 3.6M629.4 122l3.6 3.6m0 -3.6l-3.6 3.6M649.9 99.3l3.6 3.6m0 -3.6l-3.6 3.6M653.9 79.7l3.6 3.6m0 -3.6l-3.6 3.6M627.3 109.4l3.6 3.6m0 -3.6l-3.6 3.6M642.5 103.3l3.6 3.6m0 -3.6l-3.6 3.6M628.6 116.1l3.6 3.6m0 -3.6l-3.6 3.6M642.8 102.7l3.6 3.6m0 -3.6l-3.6 3.6M648 85.6l3.6 3.6m0 -3.6l-3.6 3.6M643.3 95.2l3.6 3.6m0 -3.6l-3.6 3.6M640.6 97.4l3.6 3.6m0 -3.6l-3.6 3.6M640.7 105.8l3.6 3.6m0 -3.6l-3.6 3.6M663.5 70.4l3.6 3.6m0 -3.6l-3.6 3.6M654.1 90.3l3.6 3.6m0 -3.6l-3.6 3.6M642.4 91.9l3.6 3.6m0 -3.6l-3.6 3.6M655.9 90.8l3.6 3.6m0 -3.6l-3.6 3.6M637.5 112.4l3.6 3.6m0 -3.6l-3.6 3.6M647.4 97.3l3.6 3.6m0 -3.6l-3.6 3.6M632.3 110.2l3.6 3.6m0 -3.6l-3.6 3.6M645.5 108.6l3.6 3.6m0 -3.6l-3.6 3.6M650 93l3.6 3.6m0 -3.6l-3.6 3.6M639.4 95l3.6 3.6m0 -3.6l-3.6 3.6M638.8 113.4l3.6 3.6m0 -3.6l-3.6 3.6M645.8 93.7l3.6 3.6m0 -3.6l-3.6 3.6M662 71.9l3.6 3.6m0 -3.6l-3.6 3.6M645.8 91l3.6 3.6m0 -3.6l-3.6 3.6M641.9 93.5l3.6 3.6m0 -3.6l-3.6 3.6M628 108.1l3.6 3.6m0 -3.6l-3.6 3.6M635.5 110.3l3.6 3.6m0 -3.6l-3.6 3.6M637.5 113.5l3.6 3.6m0 -3.6l-3.6 3.6M626.2 118l3.6 3.6m0 -3.6l-3.6 3.6M650.6 94.7l3.6 3.6m0 -3.6l-3.6 3.6M637.7 103.3l3.6 3.6m0 -3.6l-3.6 3.6M666.9 68l3.6 3.6m0 -3.6l-3.6 3.6M657.6 89.8l3.6 3.6m0 -3.6l-3.6 3.6M660.1 84.5l3.6 3.6m0 -3.6l-3.6 3.6M628 117.7l3.6 3.6m0 -3.6l-3.6 3.6M626.1 117.8l3.6 3.6m0 -3.6l-3.6 3.6M657.4 90.9l3.6 3.6m0 -3.6l-3.6 3.6M643.3 90.9l3.6 3.6m0 -3.6l-3.6 3.6M636.9 105.7l3.6 3.6m0 -3.6l-3.6 3.6M656.3 83.5l3.6 3.6m0 -3.6l-3.6 3.6M629.7 117.2l3.6 3.6m0 -3.6l-3.6 3.6M640.6 95.3l3.6 3.6m0 -3.6l-3.6 3.6M624.9 120.1l3.6 3.6m0 -3.6l-3.6 3.6M653.4 94.2l3.6 3.6m0 -3.6l-3.6 3.6M628.6 112.1l3.6 3.6m0 -3.6l-3.6 3.6M657.9 87.5l3.6 3.6m0 -3.6l-3.6 3.6M638.9 99.8l3.6 3.6m0 -3.6l-3.6 3.6M657.1 87l3.6 3.6m0 -3.6l-3.6 3.6M640.2 95.2l3.6 3.6m0 -3.6l-3.6 3.6M641.3 102.4l3.6 3.6m0 -3.6l-3.6 3.6M630.3 121l3.6 3.6m0 -3.6l-3.6 3.6M646.3 106.8l3.6 3.6m0 -3.6l-3.6 3.6M640.9 97.8l3.6 3.6m0 -3.6l-3.6 3.6M627.4 121.1l3.6 3.6m0 -3.6l-3.6 3.6M650.2 91.4l3.6 3.6m0 -3.6l-3.6 3.6M638.7 102.2l3.6 3.6m0 -3.6l-3.6 3.6M654.9 94.7l3.6 3.6m0 -3.6l-3.6 3.6M645.5 108.5l3.6 3.6m0 -3.6l-3.6 3.6M662.3 78.3l3.6 3.6m0 -3.6l-3.6 3.6M644.1 93.6l3.6 3.6m0 -3.6l-3.6 3.6M636.7 98.2l3.6 3.6m0 -3.6l-3.6 3.6M639.9 106.7l3.6 3.6m0 -3.6l-3.6 3.6M642.5 101.9l3.6 3.6m0 -3.6l-3.6 3.6M651.7 86.1l3.6 3.6m0 -3.6l-3.6 3.6M638.3 111.5l3.6 3.6m0 -3.6l-3.6 3.6M633.4 122l3.6 3.6m0 -3.6l-3.6 3.6M637.5 106.5l3.6 3.6m0 -3.6l-3.6 3.6M642.6 110.9l3.6 3.6m0 -3.6l-3.6 3.6M647.7 87.3l3.6 3.6m0 -3.6l-3.6 3.6M639.8 109.9l3.6 3.6m0 -3.6l-3.6 3.6M645.2 97.2l3.6 3.6m0 -3.6l-3.6 3.6M645.1 92.8l3.6 3.6m0 -3.6l-3.6 3.6M638.6 109.5l3.6 3.6m0 -3.6l-3.6 3.6M640.5 103.6l3.6 3.6m0 -3.6l-3.6 3.6M643.1 99.7l3.6 3.6m0 -3.6l-3.6 3.6M665.9 68.9l3.6 3.6m0 -3.6l-3.6 3.6M656.4 77.6l3.6 3.6m0 -3.6l-3.6 3.6M646.2 94.5l3.6 3.6m0 -3.6l-3.6 3.6M658.7 86.9l3.6 3.6m0 -3.6l-3.6 3.6M650.7 97.3l3.6 3.6m0 -3.6l-3.6 3.6M657.2 82.3l3.6 3.6m0 -3.6l-3.6 3.6M654.4 86.3l3.6 3.6m0 -3.6l-3.6 3.6M626 121.6l3.6 3.6m0 -3.6l-3.6 3.6M652.7 82.3l3.6 3.6m0 -3.6l-3.6 3.6M640.8 93.7l3.6 3.6m0 -3.6l-3.6 3.6M643.8 101.7l3.6 3.6m0 -3.6l-3.6 3.6M639.6 98l3.6 3.6m0 -3.6l-3.6 3.6M657.2 85.8l3.6 3.6m0 -3.6l-3.6 3.6M651.6 88.4l3.6 3.6m0 -3.6l-3.6 3.6M651.9 88.7l3.6 3.6m0 -3.6l-3.6 3.6M629.3 113.3l3.6 3.6m0 -3.6l-3.6 3.6M652.6 85.4l3.6 3.6m0 -3.6l-3.6 3.6M626.2 118l3.6 3.6m0 -3.6l-3.6 3.6M650.1 94.3l3.6 3.6m0 -3.6l-3.6 3.6M653.4 93.5l3.6 3.6m0 -3.6l-3.6 3.6M641.5 112.9l3.6 3.6m0 -3.6l-3.6 3.6M639.5 110.2l3.6 3.6m0 -3.6l-3.6 3.6M636.3 98.2l3.6 3.6m0 -3.6l-3.6 3.6M632.2 113.4l3.6 3.6m0 -3.6l-3.6 3.6M647.9 98.7l3.6 3.6m0 -3.6l-3.6 3.6M648.2 98.5l3.6 3.6m0 -3.6l-3.6 3.6M648.1 91.2l3.6 3.6m0 -3.6l-3.6 3.6M630.7 107.1l3.6 3.6m0 -3.6l-3.6 3.6M626.5 120.2l3.6 3.6m0 -3.6l-3.6 3.6M664.2 73.6l3.6 3.6m0 -3.6l-3.6 3.6M643.3 94.4l3.6 3.6m0 -3.6l-3.6 3.6M655 89.9l3.6 3.6m0 -3.6l-3.6 3.6M664.6 69.5l3.6 3.6m0 -3.6l-3.6 3.6M636.3 112.7l3.6 3.6m0 -3.6l-3.6 3.6M628.1 113.5l3.6 3.6m0 -3.6l-3.6 3.6M657 89.6l3.6 3.6m0 -3.6l-3.6 3.6M629 119.1l3.6 3.6m0 -3.6l-3.6 3.6M637.2 116.1l3.6 3.6m0 -3.6l-3.6 3.6M652.8 85l3.6 3.6m0 -3.6l-3.6 3.6M641 112.1l3.6 3.6m0 -3.6l-3.6 3.6M643.7 95.8l3.6 3.6m0 -3.6l-3.6 3.6M632.2 108.1l3.6 3.6m0 -3.6l-3.6 3.6M640.3 105.3l3.6 3.6m0 -3.6l-3.6 3.6M656.6 77.3l3.6 3.6m0 -3.6l-3.6 3.6M648.5 100.3l3.6 3.6m0 -3.6l-3.6 3.6M645.2 94.5l3.6 3.6m0 -3.6l-3.6 3.6M628.1 113.2l3.6 3.6m0 -3.6l-3.6 3.6M626.9 112.4l3.6 3.6m0 -3.6l-3.6 3.6M658.1 76.4l3.6 3.6m0 -3.6l-3.6 3.6M629.2 116.5l3.6 3.6m0 -3.6l-3.6 3.6M648.7 99.2l3.6 3.6m0 -3.6l-3.6 3.6M640.2 107.3l3.6 3.6m0 -3.6l-3.6 3.6M639.2 100.3l3.6 3.6m0 -3.6l-3.6 3.6M655 91.5l3.6 3.6m0 -3.6l-3.6 3.6M637.8 108.3l3.6 3.6m0 -3.6l-3.6 3.6M656.1 88.9l3.6 3.6m0 -3.6l-3.6 3.6M630.2 108.8l3.6 3.6m0 -3.6l-3.6 3.6M634.4 104.5l3.6 3.6m0 -3.6l-3.6 3.6M660.3 80.4l3.6 3.6m0 -3.6l-3.6 3.6M659.2 86.3l3.6 3.6m0 -3.6l-3.6 3.6M644.3 98.7l3.6 3.6m0 -3.6l-3.6 3.6M651.7 87.8l3.6 3.6m0 -3.6l-3.6 3.6M630.6 113.6l3.6 3.6m0 -3.6l-3.6 3.6M640.6 103.5l3.6 3.6m0 -3.6l-3.6 3.6M658.3 81l3.6 3.6m0 -3.6l-3.6 3.6M650.5 88.4l3.6 3.6m0 -3.6l-3.6 3.6M656.1 90.4l3.6 3.6m0 -3.6l-3.6 3.6M642.9 99.4l3.6 3.6m0 -3.6l-3.6 3.6M636.4 115.4l3.6 3.6m0 -3.6l-3.6 3.6M657.7 79.8l3.6 3.6m0 -3.6l-3.6 3.6M655.8 81.4l3.6 3.6m0 -3.6l-3.6 3.6M639.5 93.9l3.6 3.6m0 -3.6l-3.6 3.6M641 97.1l3.6 3.6m0 -3.6l-3.6 3.6M664.9 70.6l3.6 3.6m0 -3.6l-3.6 3.6M648.7 96.3l3.6 3.6m0 -3.6l-3.6 3.6M642 100.9l3.6 3.6m0 -3.6l-3.6 3.6M657.9 87.4l3.6 3.6m0 -3.6l-3.6 3.6M638.1 104.5l3.6 3.6m0 -3.6l-3.6 3.6M638.3 104.7l3.6 3.6m0 -3.6l-3.6 3.6M635.6 106.4l3.6 3.6m0 -3.6l-3.6 3.6M660.4 79.8l3.6 3.6m0 -3.6l-3.6 3.6M656.2 93.1l3.6 3.6m0 -3.6l-3.6 3.6M633.6 107.8l3.6 3.6m0 -3.6l-3.6 3.6M641.6 95.6l3.6 3.6m0 -3.6l-3.6 3.6M625.7 114.9l3.6 3.6m0 -3.6l-3.6 3.6M631.1 103.2l3.6 3.6m0 -3.6l-3.6 3.6M664.7 71l3.6 3.6m0 -3.6l-3.6 3.6M649.6 100.8l3.6 3.6m0 -3.6l-3.6 3.6M641.2 101.6l3.6 3.6m0 -3.6l-3.6 3.6M639.1 96.7l3.6 3.6m0 -3.6l-3.6 3.6M638.9 96.6l3.6 3.6m0 -3.6l-3.6 3.6M653 82.5l3.6 3.6m0 -3.6l-3.6 3.6M643.2 93.7l3.6 3.6m0 -3.6l-3.6 3.6M625.3 115.9l3.6 3.6m0 -3.6l-3.6 3.6M634.7 99.9l3.6 3.6m0 -3.6l-3.6 3.6M639.5 99.8l3.6 3.6m0 -3.6l-3.6 3.6M635.9 107.7l3.6 3.6m0 -3.6l-3.6 3.6M651 89.5l3.6 3.6m0 -3.6l-3.6 3.6M641.8 108.9l3.6 3.6m0 -3.6l-3.6 3.6M654.6 95.6l3.6 3.6m0 -3.6l-3.6 3.6M650.9 95.1l3.6 3.6m0 -3.6l-3.6 3.6M663.3 75.7l3.6 3.6m0 -3.6l-3.6 3.6M656.3 86.8l3.6 3.6m0 -3.6l-3.6 3.6M643.4 91.8l3.6 3.6m0 -3.6l-3.6 3.6M664 73.5l3.6 3.6m0 -3.6l-3.6 3.6M632.4 106.5l3.6 3.6m0 -3.6l-3.6 3.6M646.7 91.1l3.6 3.6m0 -3.6l-3.6 3.6M629.6 119.4l3.6 3.6m0 -3.6l-3.6 3.6M659.4 79.5l3.6 3.6m0 -3.6l-3.6 3.6M636.3 112.5l3.6 3.6m0 -3.6l-3.6 3.6M634 106.5l3.6 3.6m0 -3.6l-3.6 3.6M654.6 80.1l3.6 3.6m0 -3.6l-3.6 3.6M641.3 108l3.6 3.6m0 -3.6l-3.6 3.6M648 102.2l3.6 3.6m0 -3.6l-3.6 3.6M638.6 101.1l3.6 3.6m0 -3.6l-3.6 3.6M647.3 92.6l3.6 3.6m0 -3.6l-3.6 3.6M629 106.1l3.6 3.6m0 -3.6l-3.6 3.6M625.1 114.7l3.6 3.6m0 -3.6l-3.6 3.6M649.9 89.2l3.6 3.6m0 -3.6l-3.6 3.6M649.3 97l3.6 3.6m0 -3.6l-3.6 3.6M658.8 79.7l3.6 3.6m0 -3.6l-3.6 3.6M656 81.3l3.6 3.6m0 -3.6l-3.6 3.6M624.7 113.1l3.6 3.6m0 -3.6l-3.6 3.6M637.3 96.8l3.6 3.6m0 -3.6l-3.6 3.6M652.4 88.2l3.6 3.6m0 -3.6l-3.6 3.6M640.1 98.8l3.6 3.6m0 -3.6l-3.6 3.6M633.1 106.9l3.6 3.6m0 -3.6l-3.6 3.6M651.5 86.8l3.6 3.6m0 -3.6l-3.6 3.6M634.1 106.9l3.6 3.6m0 -3.6l-3.6 3.6M642 105.7l3.6 3.6m0 -3.6l-3.6 3.6M636.8 118.5l3.6 3.6m0 -3.6l-3.6 3.6M640.2 96l3.6 3.6m0 -3.6l-3.6 3.6M648.3 86.2l3.6 3.6m0 -3.6l-3.6 3.6M656 77.7l3.6 3.6m0 -3.6l-3.6 3.6M651.2 89l3.6 3.6m0 -3.6l-3.6 3.6M629.6 109.4l3.6 3.6m0 -3.6l-3.6 3.6M631.7 110.8l3.6 3.6m0 -3.6l-3.6 3.6M658.2 90.1l3.6 3.6m0 -3.6l-3.6 3.6M629.6 104.9l3.6 3.6m0 -3.6l-3.6 3.6M640.3 97.3l3.6 3.6m0 -3.6l-3.6 3.6M630.7 108.7l3.6 3.6m0 -3.6l-3.6 3.6M663.4 74l3.6 3.6m0 -3.6l-3.6 3.6M624.6 117.9l3.6 3.6m0 -3.6l-3.6 3.6M635.1 101.3l3.6 3.6m0 -3.6l-3.6 3.6M631.1 110l3.6 3.6m0 -3.6l-3.6 3.6M639.4 98.6l3.6 3.6m0 -3.6l-3.6 3.6M651 96.1l3.6 3.6m0 -3.6l-3.6 3.6M648.3 99l3.6 3.6m0 -3.6l-3.6 3.6M628.5 115l3.6 3.6m0 -3.6l-3.6 3.6M645.3 105.9l3.6 3.6m0 -3.6l-3.6 3.6M642.8 96l3.6 3.6m0 -3.6l-3.6 3.6M658.8 78.5l3.6 3.6m0 -3.6l-3.6 3.6M632 113.8l3.6 3.6m0 -3.6l-3.6 3.6M633.5 119.7l3.6 3.6m0 -3.6l-3.6 3.6M636.3 117.2l3.6 3.6m0 -3.6l-3.6 3.6M632.1 105.2l3.6 3.6m0 -3.6l-3.6 3.6M655.1 86l3.6 3.6m0 -3.6l-3.6 3.6M638.7 96.6l3.6 3.6m0 -3.6l-3.6 3.6M625.3 111.9l3.6 3.6m0 -3.6l-3.6 3.6M663.1 70.2l3.6 3.6m0 -3.6l-3.6 3.6M635.8 115.1l3.6 3.6m0 -3.6l-3.6 3.6M635.2 116.3l3.6 3.6m0 -3.6l-3.6 3.6M628.6 112.4l3.6 3.6m0 -3.6l-3.6 3.6M636.1 118.6l3.6 3.6m0 -3.6l-3.6 3.6M654.4 81.5l3.6 3.6m0 -3.6l-3.6 3.6M633.1 115.2l3.6 3.6m0 -3.6l-3.6 3.6M651.7 96l3.6 3.6m0 -3.6l-3.6 3.6M633.1 113l3.6 3.6m0 -3.6l-3.6 3.6M640.1 96.2l3.6 3.6m0 -3.6l-3.6 3.6M642.2 110l3.6 3.6m0 -3.6l-3.6 3.6M643.9 96.2l3.6 3.6m0 -3.6l-3.6 3.6M663.5 70.7l3.6 3.6m0 -3.6l-3.6 3.6M647.1 99.4l3.6 3.6m0 -3.6l-3.6 3.6M638.8 102.3l3.6 3.6m0 -3.6l-3.6 3.6M654.3 87.1l3.6 3.6m0 -3.6l-3.6 3.6M656.1 85.2l3.6 3.6m0 -3.6l-3.6 3.6M648.5 88l3.6 3.6m0 -3.6l-3.6 3.6M647.2 94.4l3.6 3.6m0 -3.6l-3.6 3.6M642.3 97.9l3.6 3.6m0 -3.6l-3.6 3.6M628.5 108.3l3.6 3.6m0 -3.6l-3.6 3.6M644 100.8l3.6 3.6m0 -3.6l-3.6 3.6M643 110.5l3.6 3.6m0 -3.6l-3.6 3.6M657.5 86.3l3.6 3.6m0 -3.6l-3.6 3.6M634.8 118.3l3.6 3.6m0 -3.6l-3.6 3.6M643.1 104l3.6 3.6m0 -3.6l-3.6 3.6M635.6 100.6l3.6 3.6m0 -3.6l-3.6 3.6M664.3 70.9l3.6 3.6m0 -3.6l-3.6 3.6M635.5 115.9l3.6 3.6m0 -3.6l-3.6 3.6M650.2 88l3.6 3.6m0 -3.6l-3.6 3.6M633.2 100.3l3.6 3.6m0 -3.6l-3.6 3.6M654.4 89.9l3.6 3.6m0 -3.6l-3.6 3.6M638.8 100.9l3.6 3.6m0 -3.6l-3.6 3.6M647.5 98.6l3.6 3.6m0 -3.6l-3.6 3.6M653.8 92.7l3.6 3.6m0 -3.6l-3.6 3.6M645.8 103l3.6 3.6m0 -3.6l-3.6 3.6M654.3 88.7l3.6 3.6m0 -3.6l-3.6 3.6M650.3 99.7l3.6 3.6m0 -3.6l-3.6 3.6M655.7 90.6l3.6 3.6m0 -3.6l-3.6 3.6M635.9 105.5l3.6 3.6m0 -3.6l-3.6 3.6M658.7 88l3.6 3.6m0 -3.6l-3.6 3.6M641.4 92.6l3.6 3.6m0 -3.6l-3.6 3.6M624.4 117.7l3.6 3.6m0 -3.6l-3.6 3.6M637.5 98.4l3.6 3.6m0 -3.6l-3.6 3.6M626.3 114.5l3.6 3.6m0 -3.6l-3.6 3.6M653.9 82.2l3.6 3.6m0 -3.6l-3.6 3.6M633.9 116.8l3.6 3.6m0 -3.6l-3.6 3.6M640.8 94.1l3.6 3.6m0 -3.6l-3.6 3.6M645.7 102.8l3.6 3.6m0 -3.6l-3.6 3.6M628.1 117l3.6 3.6m0 -3.6l-3.6 3.6M646.4 107.7l3.6 3.6m0 -3.6l-3.6 3.6M654.8 90.4l3.6 3.6m0 -3.6l-3.6 3.6M639.6 102.8l3.6 3.6m0 -3.6l-3.6 3.6M634.4 107.5l3.6 3.6m0 -3.6l-3.6 3.6M653.9 90.7l3.6 3.6m0 -3.6l-3.6 3.6M649.5 95.3l3.6 3.6m0 -3.6l-3.6 3.6M643.2 109.1l3.6 3.6m0 -3.6l-3.6 3.6M625 118.9l3.6 3.6m0 -3.6l-3.6 3.6M644 109.5l3.6 3.6m0 -3.6l-3.6 3.6M656.9 84.5l3.6 3.6m0 -3.6l-3.6 3.6M636.9 107.4l3.6 3.6m0 -3.6l-3.6 3.6M631.7 110.9l3.6 3.6m0 -3.6l-3.6 3.6M655.2 91.6l3.6 3.6m0 -3.6l-3.6 3.6M650.4 97.5l3.6 3.6m0 -3.6l-3.6 3.6M646.4 87.7l3.6 3.6m0 -3.6l-3.6 3.6M634.7 103.6l3.6 3.6m0 -3.6l-3.6 3.6M638.9 102.2l3.6 3.6m0 -3.6l-3.6 3.6M660.1 77.4l3.6 3.6m0 -3.6l-3.6 3.6M655 83l3.6 3.6m0 -3.6l-3.6 3.6M644.9 101.7l3.6 3.6m0 -3.6l-3.6 3.6M639 103.2l3.6 3.6m0 -3.6l-3.6 3.6M632.9 100.6l3.6 3.6m0 -3.6l-3.6 3.6M660.3 73.1l3.6 3.6m0 -3.6l-3.6 3.6M640 95.9l3.6 3.6m0 -3.6l-3.6 3.6M654.1 84l3.6 3.6m0 -3.6l-3.6 3.6M640.1 106.3l3.6 3.6m0 -3.6l-3.6 3.6M645.5 90.1l3.6 3.6m0 -3.6l-3.6 3.6M655.5 95.2l3.6 3.6m0 -3.6l-3.6 3.6M646.2 103.4l3.6 3.6m0 -3.6l-3.6 3.6M649.4 104.8l3.6 3.6m0 -3.6l-3.6 3.6M636 97.4l3.6 3.6m0 -3.6l-3.6 3.6M628.2 111.4l3.6 3.6m0 -3.6l-3.6 3.6M631.3 105.4l3.6 3.6m0 -3.6l-3.6 3.6M659.3 78.1l3.6 3.6m0 -3.6l-3.6 3.6M655.7 87.2l3.6 3.6m0 -3.6l-3.6 3.6M640.9 103.2l3.6 3.6m0 -3.6l-3.6 3.6M640.3 101.3l3.6 3.6m0 -3.6l-3.6 3.6M662.5 75.8l3.6 3.6m0 -3.6l-3.6 3.6M649.8 102.6l3.6 3.6m0 -3.6l-3.6 3.6M638.5 98.3l3.6 3.6m0 -3.6l-3.6 3.6M635.4 101.7l3.6 3.6m0 -3.6l-3.6 3.6M648.5 85.2l3.6 3.6m0 -3.6l-3.6 3.6M657.6 83.6l3.6 3.6m0 -3.6l-3.6 3.6M656.3 93.5l3.6 3.6m0 -3.6l-3.6 3.6M665 69.9l3.6 3.6m0 -3.6l-3.6 3.6M641.5 103.4l3.6 3.6m0 -3.6l-3.6 3.6M624.9 118.3l3.6 3.6m0 -3.6l-3.6 3.6M632.7 120.1l3.6 3.6m0 -3.6l-3.6 3.6M643.1 98.6l3.6 3.6m0 -3.6l-3.6 3.6M642 94.2l3.6 3.6m0 -3.6l-3.6 3.6M656.4 78.1l3.6 3.6m0 -3.6l-3.6 3.6M636.6 110.9l3.6 3.6m0 -3.6l-3.6 3.6M654.8 88.8l3.6 3.6m0 -3.6l-3.6 3.6M629.7 113.7l3.6 3.6m0 -3.6l-3.6 3.6M656.2 79.1l3.6 3.6m0 -3.6l-3.6 3.6M642.8 104.1l3.6 3.6m0 -3.6l-3.6 3.6M668.9 65.7l3.6 3.6m0 -3.6l-3.6 3.6M626.6 116.6l3.6 3.6m0 -3.6l-3.6 3.6M629.3 116.5l3.6 3.6m0 -3.6l-3.6 3.6M646.8 94.6l3.6 3.6m0 -3.6l-3.6 3.6M664.8 72.8l3.6 3.6m0 -3.6l-3.6 3.6M658.3 88.9l3.6 3.6m0 -3.6l-3.6 3.6M629.5 113.1l3.6 3.6m0 -3.6l-3.6 3.6M635.9 100.5l3.6 3.6m0 -3.6l-3.6 3.6M626.3 114.6l3.6 3.6m0 -3.6l-3.6 3.6M664.4 73.5l3.6 3.6m0 -3.6l-3.6 3.6M643.9 98.4l3.6 3.6m0 -3.6l-3.6 3.6M638.5 111.9l3.6 3.6m0 -3.6l-3.6 3.6M645.5 102.5l3.6 3.6m0 -3.6l-3.6 3.6M656.9 83.7l3.6 3.6m0 -3.6l-3.6 3.6M660.3 73.3l3.6 3.6m0 -3.6l-3.6 3.6M635.4 105.7l3.6 3.6m0 -3.6l-3.6 3.6M658.8 84.1l3.6 3.6m0 -3.6l-3.6 3.6M631.1 102.7l3.6 3.6m0 -3.6l-3.6 3.6M657.5 79.5l3.6 3.6m0 -3.6l-3.6 3.6M629.6 115.3l3.6 3.6m0 -3.6l-3.6 3.6M633.4 121.6l3.6 3.6m0 -3.6l-3.6 3.6M649.3 94.4l3.6 3.6m0 -3.6l-3.6 3.6M634.4 113.5l3.6 3.6m0 -3.6l-3.6 3.6M637 103l3.6 3.6m0 -3.6l-3.6 3.6M652.4 96.7l3.6 3.6m0 -3.6l-3.6 3.6M634.2 113.2l3.6 3.6m0 -3.6l-3.6 3.6M631.6 108.8l3.6 3.6m0 -3.6l-3.6 3.6M654.3 79.9l3.6 3.6m0 -3.6l-3.6 3.6M631.1 107.8l3.6 3.6m0 -3.6l-3.6 3.6M636 110.8l3.6 3.6m0 -3.6l-3.6 3.6M659.1 82.7l3.6 3.6m0 -3.6l-3.6 3.6M624.6 116.5l3.6 3.6m0 -3.6l-3.6 3.6M632.9 119.6l3.6 3.6m0 -3.6l-3.6 3.6M631.7 116l3.6 3.6m0 -3.6l-3.6 3.6M650.7 101.5l3.6 3.6m0 -3.6l-3.6 3.6M640 110.5l3.6 3.6m0 -3.6l-3.6 3.6M638.7 100.9l3.6 3.6m0 -3.6l-3.6 3.6M635 106.4l3.6 3.6m0 -3.6l-3.6 3.6M633 108.9l3.6 3.6m0 -3.6l-3.6 3.6M660.4 78.5l3.6 3.6m0 -3.6l-3.6 3.6M639.4 99.5l3.6 3.6m0 -3.6l-3.6 3.6M635.2 110.5l3.6 3.6m0 -3.6l-3.6 3.6M653.7 88l3.6 3.6m0 -3.6l-3.6 3.6M636.6 97.3l3.6 3.6m0 -3.6l-3.6 3.6M661.3 80.5l3.6 3.6m0 -3.6l-3.6 3.6M624.3 114.1l3.6 3.6m0 -3.6l-3.6 3.6M655.4 95.4l3.6 3.6m0 -3.6l-3.6 3.6M660.5 73.1l3.6 3.6m0 -3.6l-3.6 3.6M649.4 85l3.6 3.6m0 -3.6l-3.6 3.6M645.5 90.9l3.6 3.6m0 -3.6l-3.6 3.6M648.5 94.5l3.6 3.6m0 -3.6l-3.6 3.6M641.9 107.5l3.6 3.6m0 -3.6l-3.6 3.6M645.3 89.4l3.6 3.6m0 -3.6l-3.6 3.6M658.7 85.1l3.6 3.6m0 -3.6l-3.6 3.6M652 82.5l3.6 3.6m0 -3.6l-3.6 3.6M628.5 109.7l3.6 3.6m0 -3.6l-3.6 3.6M625.7 113.4l3.6 3.6m0 -3.6l-3.6 3.6M641.6 105.1l3.6 3.6m0 -3.6l-3.6 3.6M658.6 76.9l3.6 3.6m0 -3.6l-3.6 3.6M646.9 88l3.6 3.6m0 -3.6l-3.6 3.6M641.9 111l3.6 3.6m0 -3.6l-3.6 3.6M652.8 88.4l3.6 3.6m0 -3.6l-3.6 3.6M662.8 74l3.6 3.6m0 -3.6l-3.6 3.6M635 116.2l3.6 3.6m0 -3.6l-3.6 3.6M647.2 105.7l3.6 3.6m0 -3.6l-3.6 3.6M636.9 115.5l3.6 3.6m0 -3.6l-3.6 3.6M648.7 97.9l3.6 3.6m0 -3.6l-3.6 3.6M626.7 112.6l3.6 3.6m0 -3.6l-3.6 3.6M639 111.2l3.6 3.6m0 -3.6l-3.6 3.6M630 110.4l3.6 3.6m0 -3.6l-3.6 3.6M653.7 82.1l3.6 3.6m0 -3.6l-3.6 3.6M634.1 103l3.6 3.6m0 -3.6l-3.6 3.6M646.7 104.7l3.6 3.6m0 -3.6l-3.6 3.6M646.1 107.4l3.6 3.6m0 -3.6l-3.6 3.6M655.1 86.2l3.6 3.6m0 -3.6l-3.6 3.6M631.5 116l3.6 3.6m0 -3.6l-3.6 3.6M662 79.3l3.6 3.6m0 -3.6l-3.6 3.6M633.6 115.7l3.6 3.6m0 -3.6l-3.6 3.6M655.7 78l3.6 3.6m0 -3.6l-3.6 3.6M634.1 120.5l3.6 3.6m0 -3.6l-3.6 3.6M643.6 104.5l3.6 3.6m0 -3.6l-3.6 3.6M655 90.3l3.6 3.6m0 -3.6l-3.6 3.6M640.1 103.7l3.6 3.6m0 -3.6l-3.6 3.6M635 111l3.6 3.6m0 -3.6l-3.6 3.6M650.1 100.2l3.6 3.6m0 -3.6l-3.6 3.6M636.1 98l3.6 3.6m0 -3.6l-3.6 3.6M635.9 116.3l3.6 3.6m0 -3.6l-3.6 3.6M652.2 99.5l3.6 3.6m0 -3.6l-3.6 3.6M636.4 104.1l3.6 3.6m0 -3.6l-3.6 3.6M641.4 104.3l3.6 3.6m0 -3.6l-3.6 3.6M637.4 118l3.6 3.6m0 -3.6l-3.6 3.6M639.4 112.1l3.6 3.6m0 -3.6l-3.6 3.6M634.3 114.2l3.6 3.6m0 -3.6l-3.6 3.6M661.6 74l3.6 3.6m0 -3.6l-3.6 3.6M659.7 75.4l3.6 3.6m0 -3.6l-3.6 3.6M626.8 121.1l3.6 3.6m0 -3.6l-3.6 3.6M631.8 102.7l3.6 3.6m0 -3.6l-3.6 3.6M645.5 96.1l3.6 3.6m0 -3.6l-3.6 3.6M627.3 113l3.6 3.6m0 -3.6l-3.6 3.6M644.8 97l3.6 3.6m0 -3.6l-3.6 3.6M631.4 117.4l3.6 3.6m0 -3.6l-3.6 3.6M629.9 110.2l3.6 3.6m0 -3.6l-3.6 3.6M642.3 102.7l3.6 3.6m0 -3.6l-3.6 3.6M649.8 88.6l3.6 3.6m0 -3.6l-3.6 3.6M654.8 90.3l3.6 3.6m0 -3.6l-3.6 3.6M650.2 88.2l3.6 3.6m0 -3.6l-3.6 3.6M647.8 93.3l3.6 3.6m0 -3.6l-3.6 3.6M644.4 91.4l3.6 3.6m0 -3.6l-3.6 3.6M646.2 92.2l3.6 3.6m0 -3.6l-3.6 3.6M646.1 101.5l3.6 3.6m0 -3.6l-3.6 3.6M633.5 111.6l3.6 3.6m0 -3.6l-3.6 3.6M649.6 98.5l3.6 3.6m0 -3.6l-3.6 3.6M662.2 79.2l3.6 3.6m0 -3.6l-3.6 3.6M649.5 102.1l3.6 3.6m0 -3.6l-3.6 3.6M652.5 82.3l3.6 3.6m0 -3.6l-3.6 3.6M628.5 107.8l3.6 3.6m0 -3.6l-3.6 3.6M652.4 96.2l3.6 3.6m0 -3.6l-3.6 3.6M629 118.5l3.6 3.6m0 -3.6l-3.6 3.6M649.6 100.4l3.6 3.6m0 -3.6l-3.6 3.6M641.2 108.5l3.6 3.6m0 -3.6l-3.6 3.6M647.3 104.4l3.6 3.6m0 -3.6l-3.6 3.6M640.6 110.6l3.6 3.6m0 -3.6l-3.6 3.6M657.5 77l3.6 3.6m0 -3.6l-3.6 3.6M625 120.6l3.6 3.6m0 -3.6l-3.6 3.6M632.9 110l3.6 3.6m0 -3.6l-3.6 3.6M641.6 113.1l3.6 3.6m0 -3.6l-3.6 3.6M642 107.4l3.6 3.6m0 -3.6l-3.6 3.6M651.5 85.2l3.6 3.6m0 -3.6l-3.6 3.6M647.4 99.7l3.6 3.6m0 -3.6l-3.6 3.6M639 106.1l3.6 3.6m0 -3.6l-3.6 3.6M641.5 95.4l3.6 3.6m0 -3.6l-3.6 3.6M633.7 101l3.6 3.6m0 -3.6l-3.6 3.6M655.5 91.8l3.6 3.6m0 -3.6l-3.6 3.6M635.4 105.3l3.6 3.6m0 -3.6l-3.6 3.6M639.1 102.2l3.6 3.6m0 -3.6l-3.6 3.6M645.9 95.3l3.6 3.6m0 -3.6l-3.6 3.6M637.7 103.5l3.6 3.6m0 -3.6l-3.6 3.6M654.4 79.9l3.6 3.6m0 -3.6l-3.6 3.6M627.4 116.5l3.6 3.6m0 -3.6l-3.6 3.6M648.1 95.1l3.6 3.6m0 -3.6l-3.6 3.6M638.2 111.3l3.6 3.6m0 -3.6l-3.6 3.6M648.9 101.6l3.6 3.6m0 -3.6l-3.6 3.6M661.4 77.1l3.6 3.6m0 -3.6l-3.6 3.6M662.5 78.8l3.6 3.6m0 -3.6l-3.6 3.6M650.1 99l3.6 3.6m0 -3.6l-3.6 3.6M642.8 97.7l3.6 3.6m0 -3.6l-3.6 3.6M644.1 105.5l3.6 3.6m0 -3.6l-3.6 3.6M640.3 96.8l3.6 3.6m0 -3.6l-3.6 3.6M650.9 87.1l3.6 3.6m0 -3.6l-3.6 3.6M639.3 102.6l3.6 3.6m0 -3.6l-3.6 3.6M643.7 90.3l3.6 3.6m0 -3.6l-3.6 3.6M632.2 102.2l3.6 3.6m0 -3.6l-3.6 3.6M647.6 101.5l3.6 3.6m0 -3.6l-3.6 3.6M653.7 88l3.6 3.6m0 -3.6l-3.6 3.6M647.2 101.1l3.6 3.6m0 -3.6l-3.6 3.6M653.2 85.2l3.6 3.6m0 -3.6l-3.6 3.6M644.1 104.6l3.6 3.6m0 -3.6l-3.6 3.6M633.7 122.1l3.6 3.6m0 -3.6l-3.6 3.6M627.6 114.7l3.6 3.6m0 -3.6l-3.6 3.6M643.5 90l3.6 3.6m0 -3.6l-3.6 3.6M634.2 115.4l3.6 3.6m0 -3.6l-3.6 3.6M633.5 115.5l3.6 3.6m0 -3.6l-3.6 3.6M638.5 111.2l3.6 3.6m0 -3.6l-3.6 3.6M649.7 85.7l3.6 3.6m0 -3.6l-3.6 3.6M637.8 112.1l3.6 3.6m0 -3.6l-3.6 3.6M627.2 114.8l3.6 3.6m0 -3.6l-3.6 3.6M631.6 107.6l3.6 3.6m0 -3.6l-3.6 3.6M655.9 91.5l3.6 3.6m0 -3.6l-3.6 3.6M641 107.1l3.6 3.6m0 -3.6l-3.6 3.6M624.7 120.1l3.6 3.6m0 -3.6l-3.6 3.6M652.9 84.2l3.6 3.6m0 -3.6l-3.6 3.6M644.8 96.4l3.6 3.6m0 -3.6l-3.6 3.6M631.3 116.4l3.6 3.6m0 -3.6l-3.6 3.6M648.6 92.9l3.6 3.6m0 -3.6l-3.6 3.6M635.5 118.9l3.6 3.6m0 -3.6l-3.6 3.6M646.1 93.7l3.6 3.6m0 -3.6l-3.6 3.6M625.4 120.6l3.6 3.6m0 -3.6l-3.6 3.6M632.5 104.8l3.6 3.6m0 -3.6l-3.6 3.6M644.4 89.3l3.6 3.6m0 -3.6l-3.6 3.6M641.6 94.5l3.6 3.6m0 -3.6l-3.6 3.6M629.8 107.3l3.6 3.6m0 -3.6l-3.6 3.6M661.6 76.1l3.6 3.6m0 -3.6l-3.6 3.6M647.5 105.8l3.6 3.6m0 -3.6l-3.6 3.6M630.2 106l3.6 3.6m0 -3.6l-3.6 3.6M662.4 71.4l3.6 3.6m0 -3.6l-3.6 3.6M654.9 81.9l3.6 3.6m0 -3.6l-3.6 3.6M662.3 74.2l3.6 3.6m0 -3.6l-3.6 3.6M665.9 68.2l3.6 3.6m0 -3.6l-3.6 3.6M653.5 95.6l3.6 3.6m0 -3.6l-3.6 3.6M633.6 121.8l3.6 3.6m0 -3.6l-3.6 3.6M656.3 92.1l3.6 3.6m0 -3.6l-3.6 3.6M633.2 115.3l3.6 3.6m0 -3.6l-3.6 3.6M655.2 86.2l3.6 3.6m0 -3.6l-3.6 3.6M635.2 107.2l3.6 3.6m0 -3.6l-3.6 3.6M638.1 98.3l3.6 3.6m0 -3.6l-3.6 3.6M637.7 96.5l3.6 3.6m0 -3.6l-3.6 3.6M634 107.9l3.6 3.6m0 -3.6l-3.6 3.6M659.2 83.6l3.6 3.6m0 -3.6l-3.6 3.6M658 82l3.6 3.6m0 -3.6l-3.6 3.6M633 105.7l3.6 3.6m0 -3.6l-3.6 3.6M647.6 95.7l3.6 3.6m0 -3.6l-3.6 3.6M647.9 89.3l3.6 3.6m0 -3.6l-3.6 3.6M654.2 91.9l3.6 3.6m0 -3.6l-3.6 3.6M630.5 118.3l3.6 3.6m0 -3.6l-3.6 3.6" fill="none" stroke="#a8a8a8" stroke-width="0.75" clip-path="url(#p5t)"/>
<path d="M635.5 36.8a2 2 0 1 0 4 0a2 2 0 1 0 -4 0M627.1 38.2a2 2 0 1 0 4 0a2 2 0 1 0 -4 0M615.2 37.9a2 2 0 1 0 4 0a2 2 0 1 0 -4 0M609.8 42.5a2 2 0 1 0 4 0a2 2 0 1 0 -4 0M604 41.5a2 2 0 1 0 4 0a2 2 0 1 0 -4 0M616.5 37.1a2 2 0 1 0 4 0a2 2 0 1 0 -4 0M630.3 36.4a2 2 0 1 0 4 0a2 2 0 1 0 -4 0M609.5 41.1a2 2 0 1 0 4 0a2 2 0 1 0 -4 0M622 36.8a2 2 0 1 0 4 0a2 2 0 1 0 -4 0M630.1 34.9a2 2 0 1 0 4 0a2 2 0 1 0 -4 0M613.4 40.7a2 2 0 1 0 4 0a2 2 0 1 0 -4 0M608.9 38.1a2 2 0 1 0 4 0a2 2 0 1 0 -4 0M603.4 40.4a2 2 0 1 0 4 0a2 2 0 1 0 -4 0M638.9 34.9a2 2 0 1 0 4 0a2 2 0 1 0 -4 0M633.1 39a2 2 0 1 0 4 0a2 2 0 1 0 -4 0M608.6 38.6a2 2 0 1 0 4 0a2 2 0 1 0 -4 0M610.7 42.2a2 2 0 1 0 4 0a2 2 0 1 0 -4 0M618.8 37.7a2 2 0 1 0 4 0a2 2 0 1 0 -4 0M621.6 40.1a2 2 0 1 0 4 0a2 2 0 1 0 -4 0M606.6 42.3a2 2 0 1 0 4 0a2 2 0 1 0 -4 0M632.2 37.9a2 2 0 1 0 4 0a2 2 0 1 0 -4 0M605 41.8a2 2 0 1 0 4 0a2 2 0 1 0 -4 0M640.4 38.2a2 2 0 1 0 4 0a2 2 0 1 0 -4 0M623.2 42.6a2 2 0 1 0 4 0a2 2 0 1 0 -4 0M635.5 37.4a2 2 0 1 0 4 0a2 2 0 1 0 -4 0M631.1 36.7a2 2 0 1 0 4 0a2 2 0 1 0 -4 0M628.8 43.8a2 2 0 1 0 4 0a2 2 0 1 0 -4 0M610.6 42.5a2 2 0 1 0 4 0a2 2 0 1 0 -4 0M618 36.1a2 2 0 1 0 4 0a2 2 0 1 0 -4 0M622.5 38.1a2 2 0 1 0 4 0a2 2 0 1 0 -4 0M600.8 45.4a2 2 0 1 0 4 0a2 2 0 1 0 -4 0M602.2 41.7a2 2 0 1 0 4 0a2 2 0 1 0 -4 0M619.6 40.2a2 2 0 1 0 4 0a2 2 0 1 0 -4 0M628.9 40.5a2 2 0 1 0 4 0a2 2 0 1 0 -4 0M630.4 38.9a2 2 0 1 0 4 0a2 2 0 1 0 -4 0M639.6 38.2a2 2 0 1 0 4 0a2 2 0 1 0 -4 0M625 39.8a2 2 0 1 0 4 0a2 2 0 1 0 -4 0M608.7 44.5a2 2 0 1 0 4 0a2 2 0 1 0 -4 0M601.2 43.5a2 2 0 1 0 4 0a2 2 0 1 0 -4 0M604 42.1a2 2 0 1 0 4 0a2 2 0 1 0 -4 0M627.2 39.1a2 2 0 1 0 4 0a2 2 0 1 0 -4 0M630.2 37.7a2 2 0 1 0 4 0a2 2 0 1 0 -4 0M604.1 43.3a2 2 0 1 0 4 0a2 2 0 1 0 -4 0M598.9 44.8a2 2 0 1 0 4 0a2 2 0 1 0 -4 0M629.4 38.3a2 2 0 1 0 4 0a2 2 0 1 0 -4 0M604.5 42.7a2 2 0 1 0 4 0a2 2 0 1 0 -4 0M600 43.1a2 2 0 1 0 4 0a2 2 0 1 0 -4 0M606.3 43.4a2 2 0 1 0 4 0a2 2 0 1 0 -4 0M633.1 40.2a2 2 0 1 0 4 0a2 2 0 1 0 -4 0M604.2 44.8a2 2 0 1 0 4 0a2 2 0 1 0 -4 0M626.1 39.4a2 2 0 1 0 4 0a2 2 0 1 0 -4 0M640.5 37.7a2 2 0 1 0 4 0a2 2 0 1 0 -4 0M609.5 37.7a2 2 0 1 0 4 0a2 2 0 1 0 -4 0M641 37.5a2 2 0 1 0 4 0a2 2 0 1 0 -4 0M621.6 41.7a2 2 0 1 0 4 0a2 2 0 1 0 -4 0M627.4 40.7a2 2 0 1 0 4 0a2 2 0 1 0 -4 0M623.1 34.8a2 2 0 1 0 4 0a2 2 0 1 0 -4 0M600.7 46.2a2 2 0 1 0 4 0a2 2 0 1 0 -4 0M621.5 33a2 2 0 1 0 4 0a2 2 0 1 0 -4 0M631.5 36.3a2 2 0 1 0 4 0a2 2 0 1 0 -4 0M608.3 39.1a2 2 0 1 0 4 0a2 2 0 1 0 -4 0M614.3 42.6a2 2 0 1 0 4 0a2 2 0 1 0 -4 0M600.7 46a2 2 0 1 0 4 0a2 2 0 1 0 -4 0M604 42.9a2 2 0 1 0 4 0a2 2 0 1 0 -4 0M604.6 47.6a2 2 0 1 0 4 0a2 2 0 1 0 -4 0M604 43.4a2 2 0 1 0 4 0a2 2 0 1 0 -4 0M622.2 43a2 2 0 1 0 4 0a2 2 0 1 0 -4 0M623.4 36.9a2 2 0 1 0 4 0a2 2 0 1 0 -4 0M610.2 38.9a2 2 0 1 0 4 0a2 2 0 1 0 -4 0M606.9 38.3a2 2 0 1 0 4 0a2 2 0 1 0 -4 0M607.8 39a2 2 0 1 0 4 0a2 2 0 1 0 -4 0M636.3 38.8a2 2 0 1 0 4 0a2 2 0 1 0 -4 0M623.4 38a2 2 0 1 0 4 0a2 2 0 1 0 -4 0M604.5 46.3a2 2 0 1 0 4 0a2 2 0 1 0 -4 0M602.6 46.1a2 2 0 1 0 4 0a2 2 0 1 0 -4 0M622.9 38.7a2 2 0 1 0 4 0a2 2 0 1 0 -4 0M618 37.8a2 2 0 1 0 4 0a2 2 0 1 0 -4 0M607 41.5a2 2 0 1 0 4 0a2 2 0 1 0 -4 0M623.2 35.9a2 2 0 1 0 4 0a2 2 0 1 0 -4 0M637.3 38.6a2 2 0 1 0 4 0a2 2 0 1 0 -4 0M618.1 39.4a2 2 0 1 0 4 0a2 2 0 1 0 -4 0M619.1 38.3a2 2 0 1 0 4 0a2 2 0 1 0 -4 0M600.3 44.6a2 2 0 1 0 4 0a2 2 0 1 0 -4 0M614.5 41.8a2 2 0 1 0 4 0a2 2 0 1 0 -4 0M604.8 44.4a2 2 0 1 0 4 0a2 2 0 1 0 -4 0M611.1 39.9a2 2 0 1 0 4 0a2 2 0 1 0 -4 0M601.1 41.8a2 2 0 1 0 4 0a2 2 0 1 0 -4 0M621.5 42.2a2 2 0 1 0 4 0a2 2 0 1 0 -4 0M636.4 35.3a2 2 0 1 0 4 0a2 2 0 1 0 -4 0M616.4 37.2a2 2 0 1 0 4 0a2 2 0 1 0 -4 0M633.9 36.4a2 2 0 1 0 4 0a2 2 0 1 0 -4 0M607.6 42.2a2 2 0 1 0 4 0a2 2 0 1 0 -4 0M632.3 39.1a2 2 0 1 0 4 0a2 2 0 1 0 -4 0M625 38.9a2 2 0 1 0 4 0a2 2 0 1 0 -4 0M627.3 34.5a2 2 0 1 0 4 0a2 2 0 1 0 -4 0M616.1 40.7a2 2 0 1 0 4 0a2 2 0 1 0 -4 0M623.4 41.1a2 2 0 1 0 4 0a2 2 0 1 0 -4 0M639.9 37.5a2 2 0 1 0 4 0a2 2 0 1 0 -4 0M622.7 36.5a2 2 0 1 0 4 0a2 2 0 1 0 -4 0M640 38.8a2 2 0 1 0 4 0a2 2 0 1 0 -4 0M618 35.1a2 2 0 1 0 4 0a2 2 0 1 0 -4 0M634.6 39.5a2 2 0 1 0 4 0a2 2 0 1 0 -4 0M607.7 40.8a2 2 0 1 0 4 0a2 2 0 1 0 -4 0M613.2 38.5a2 2 0 1 0 4 0a2 2 0 1 0 -4 0M632.5 34.4a2 2 0 1 0 4 0a2 2 0 1 0 -4 0M618.9 43.8a2 2 0 1 0 4 0a2 2 0 1 0 -4 0M635.3 38.9a2 2 0 1 0 4 0a2 2 0 1 0 -4 0M599.5 45.6a2 2 0 1 0 4 0a2 2 0 1 0 -4 0M634.9 39.4a2 2 0 1 0 4 0a2 2 0 1 0 -4 0M618 37.5a2 2 0 1 0 4 0a2 2 0 1 0 -4 0M639.7 36.1a2 2 0 1 0 4 0a2 2 0 1 0 -4 0M603.9 44.2a2 2 0 1 0 4 0a2 2 0 1 0 -4 0M637.5 38a2 2 0 1 0 4 0a2 2 0 1 0 -4 0M629.4 35.1a2 2 0 1 0 4 0a2 2 0 1 0 -4 0M633.9 37.1a2 2 0 1 0 4 0a2 2 0 1 0 -4 0M625.9 37.2a2 2 0 1 0 4 0a2 2 0 1 0 -4 0M635.5 35.3a2 2 0 1 0 4 0a2 2 0 1 0 -4 0M625.7 38.7a2 2 0 1 0 4 0a2 2 0 1 0 -4 0M606.2 42.8a2 2 0 1 0 4 0a2 2 0 1 0 -4 0M640.7 38.9a2 2 0 1 0 4 0a2 2 0 1 0 -4 0M602.9 42.2a2 2 0 1 0 4 0a2 2 0 1 0 -4 0M599.6 42.9a2 2 0 1 0 4 0a2 2 0 1 0 -4 0M604.9 41.5a2 2 0 1 0 4 0a2 2 0 1 0 -4 0M603.7 46.1a2 2 0 1 0 4 0a2 2 0 1 0 -4 0M614.1 37a2 2 0 1 0 4 0a2 2 0 1 0 -4 0M640.8 35.6a2 2 0 1 0 4 0a2 2 0 1 0 -4 0M634 38.6a2 2 0 1 0 4 0a2 2 0 1 0 -4 0M624.1 41.6a2 2 0 1 0 4 0a2 2 0 1 0 -4 0M621.8 36.6a2 2 0 1 0 4 0a2 2 0 1 0 -4 0M608.2 40.2a2 2 0 1 0 4 0a2 2 0 1 0 -4 0M626.7 40.9a2 2 0 1 0 4 0a2 2 0 1 0 -4 0M626.3 35.4a2 2 0 1 0 4 0a2 2 0 1 0 -4 0M639.2 37.1a2 2 0 1 0 4 0a2 2 0 1 0 -4 0M633.6 40.5a2 2 0 1 0 4 0a2 2 0 1 0 -4 0M626.1 41.4a2 2 0 1 0 4 0a2 2 0 1 0 -4 0M633.1 37.7a2 2 0 1 0 4 0a2 2 0 1 0 -4 0M606.7 36.9a2 2 0 1 0 4 0a2 2 0 1 0 -4 0M617.5 44.3a2 2 0 1 0 4 0a2 2 0 1 0 -4 0M621.4 34.5a2 2 0 1 0 4 0a2 2 0 1 0 -4 0M617.6 36.5a2 2 0 1 0 4 0a2 2 0 1 0 -4 0M636.6 36.8a2 2 0 1 0 4 0a2 2 0 1 0 -4 0M624.4 35.8a2 2 0 1 0 4 0a2 2 0 1 0 -4 0M610.9 43.6a2 2 0 1 0 4 0a2 2 0 1 0 -4 0M600 44.9a2 2 0 1 0 4 0a2 2 0 1 0 -4 0M610.9 44.6a2 2 0 1 0 4 0a2 2 0 1 0 -4 0M606.5 37a2 2 0 1 0 4 0a2 2 0 1 0 -4 0M605.1 41.2a2 2 0 1 0 4 0a2 2 0 1 0 -4 0M604.1 44.8a2 2 0 1 0 4 0a2 2 0 1 0 -4 0M632.7 39.3a2 2 0 1 0 4 0a2 2 0 1 0 -4 0M609.7 43.7a2 2 0 1 0 4 0a2 2 0 1 0 -4 0M625.8 40.5a2 2 0 1 0 4 0a2 2 0 1 0 -4 0M634.5 39.2a2 2 0 1 0 4 0a2 2 0 1 0 -4 0M598.7 44.9a2 2 0 1 0 4 0a2 2 0 1 0 -4 0M633.9 38.4a2 2 0 1 0 4 0a2 2 0 1 0 -4 0M626.8 38.5a2 2 0 1 0 4 0a2 2 0 1 0 -4 0M605.4 47.3a2 2 0 1 0 4 0a2 2 0 1 0 -4 0M619 38.8a2 2 0 1 0 4 0a2 2 0 1 0 -4 0M600.8 41.7a2 2 0 1 0 4 0a2 2 0 1 0 -4 0M600 45.9a2 2 0 1 0 4 0a2 2 0 1 0 -4 0M636.7 41.7a2 2 0 1 0 4 0a2 2 0 1 0 -4 0M610.9 44.3a2 2 0 1 0 4 0a2 2 0 1 0 -4 0M606.5 43.1a2 2 0 1 0 4 0a2 2 0 1 0 -4 0M636.4 40.4a2 2 0 1 0 4 0a2 2 0 1 0 -4 0M631.4 35.8a2 2 0 1 0 4 0a2 2 0 1 0 -4 0M631.5 38.9a2 2 0 1 0 4 0a2 2 0 1 0 -4 0M629 35.9a2 2 0 1 0 4 0a2 2 0 1 0 -4 0M598.5 44.3a2 2 0 1 0 4 0a2 2 0 1 0 -4 0M640.3 35.7a2 2 0 1 0 4 0a2 2 0 1 0 -4 0M631.8 34.2a2 2 0 1 0 4 0a2 2 0 1 0 -4 0M623.2 39.7a2 2 0 1 0 4 0a2 2 0 1 0 -4 0M624.5 40.3a2 2 0 1 0 4 0a2 2 0 1 0 -4 0M609.1 41.4a2 2 0 1 0 4 0a2 2 0 1 0 -4 0M628.2 41.1a2 2 0 1 0 4 0a2 2 0 1 0 -4 0M630.6 36.2a2 2 0 1 0 4 0a2 2 0 1 0 -4 0M625.4 39.5a2 2 0 1 0 4 0a2 2 0 1 0 -4 0M623 40.1a2 2 0 1 0 4 0a2 2 0 1 0 -4 0M630.4 34.6a2 2 0 1 0 4 0a2 2 0 1 0 -4 0M612.4 42.5a2 2 0 1 0 4 0a2 2 0 1 0 -4 0M611.5 42a2 2 0 1 0 4 0a2 2 0 1 0 -4 0M622.9 40.9a2 2 0 1 0 4 0a2 2 0 1 0 -4 0M602.7 43.7a2 2 0 1 0 4 0a2 2 0 1 0 -4 0M629.4 37.8a2 2 0 1 0 4 0a2 2 0 1 0 -4 0M612.9 42.4a2 2 0 1 0 4 0a2 2 0 1 0 -4 0M599.1 44.2a2 2 0 1 0 4 0a2 2 0 1 0 -4 0M627.7 34.7a2 2 0 1 0 4 0a2 2 0 1 0 -4 0M626.7 41.5a2 2 0 1 0 4 0a2 2 0 1 0 -4 0M617 37.5a2 2 0 1 0 4 0a2 2 0 1 0 -4 0M612.1 37.3a2 2 0 1 0 4 0a2 2 0 1 0 -4 0M606.4 40.5a2 2 0 1 0 4 0a2 2 0 1 0 -4 0M600 42.6a2 2 0 1 0 4 0a2 2 0 1 0 -4 0M605 41.8a2 2 0 1 0 4 0a2 2 0 1 0 -4 0M620.6 39.5a2 2 0 1 0 4 0a2 2 0 1 0 -4 0M615 38.8a2 2 0 1 0 4 0a2 2 0 1 0 -4 0M629.7 41.9a2 2 0 1 0 4 0a2 2 0 1 0 -4 0M600.9 39.5a2 2 0 1 0 4 0a2 2 0 1 0 -4 0M624.1 33.7a2 2 0 1 0 4 0a2 2 0 1 0 -4 0M640.4 37.2a2 2 0 1 0 4 0a2 2 0 1 0 -4 0M612.1 42.4a2 2 0 1 0 4 0a2 2 0 1 0 -4 0M608.1 42.6a2 2 0 1 0 4 0a2 2 0 1 0 -4 0M619.5 40.9a2 2 0 1 0 4 0a2 2 0 1 0 -4 0M632.9 37.8a2 2 0 1 0 4 0a2 2 0 1 0 -4 0M631 37.2a2 2 0 1 0 4 0a2 2 0 1 0 -4 0M625.4 38.3a2 2 0 1 0 4 0a2 2 0 1 0 -4 0M635 37.8a2 2 0 1 0 4 0a2 2 0 1 0 -4 0M603.8 43a2 2 0 1 0 4 0a2 2 0 1 0 -4 0M632.2 39.7a2 2 0 1 0 4 0a2 2 0 1 0 -4 0M638.6 40a2 2 0 1 0 4 0a2 2 0 1 0 -4 0M634.4 35.4a2 2 0 1 0 4 0a2 2 0 1 0 -4 0M618.3 41.3a2 2 0 1 0 4 0a2 2 0 1 0 -4 0M604 43.5a2 2 0 1 0 4 0a2 2 0 1 0 -4 0M603 44.5a2 2 0 1 0 4 0a2 2 0 1 0 -4 0M600.2 45.4a2 2 0 1 0 4 0a2 2 0 1 0 -4 0M610.7 42a2 2 0 1 0 4 0a2 2 0 1 0 -4 0M619.9 37.5a2 2 0 1 0 4 0a2 2 0 1 0 -4 0M634.6 41a2 2 0 1 0 4 0a2 2 0 1 0 -4 0M621.4 39.2a2 2 0 1 0 4 0a2 2 0 1 0 -4 0M599.3 46.6a2 2 0 1 0 4 0a2 2 0 1 0 -4 0M602.4 41.3a2 2 0 1 0 4 0a2 2 0 1 0 -4 0M639.3 35.2a2 2 0 1 0 4 0a2 2 0 1 0 -4 0M607.1 40.4a2 2 0 1 0 4 0a2 2 0 1 0 -4 0M599.3 43.9a2 2 0 1 0 4 0a2 2 0 1 0 -4 0M605.8 39a2 2 0 1 0 4 0a2 2 0 1 0 -4 0M599.5 43.3a2 2 0 1 0 4 0a2 2 0 1 0 -4 0M612.8 39.4a2 2 0 1 0 4 0a2 2 0 1 0 -4 0M635.3 36.5a2 2 0 1 0 4 0a2 2 0 1 0 -4 0M628.1 37.6a2 2 0 1 0 4 0a2 2 0 1 0 -4 0M629 32.4a2 2 0 1 0 4 0a2 2 0 1 0 -4 0M618.5 36.6a2 2 0 1 0 4 0a2 2 0 1 0 -4 0M625.9 40.3a2 2 0 1 0 4 0a2 2 0 1 0 -4 0M610.9 41.6a2 2 0 1 0 4 0a2 2 0 1 0 -4 0M616.5 38.4a2 2 0 1 0 4 0a2 2 0 1 0 -4 0M627.7 38a2 2 0 1 0 4 0a2 2 0 1 0 -4 0M600.3 44.2a2 2 0 1 0 4 0a2 2 0 1 0 -4 0M599 46.6a2 2 0 1 0 4 0a2 2 0 1 0 -4 0M612.1 42.1a2 2 0 1 0 4 0a2 2 0 1 0 -4 0M614.1 36.2a2 2 0 1 0 4 0a2 2 0 1 0 -4 0M605.2 42.6a2 2 0 1 0 4 0a2 2 0 1 0 -4 0M601.5 40.1a2 2 0 1 0 4 0a2 2 0 1 0 -4 0M616 35.9a2 2 0 1 0 4 0a2 2 0 1 0 -4 0M606.7 41a2 2 0 1 0 4 0a2 2 0 1 0 -4 0M633.4 34.5a2 2 0 1 0 4 0a2 2 0 1 0 -4 0M638.8 35.3a2 2 0 1 0 4 0a2 2 0 1 0 -4 0M627.4 37.1a2 2 0 1 0 4 0a2 2 0 1 0 -4 0M609.7 39.2a2 2 0 1 0 4 0a2 2 0 1 0 -4 0M614.1 41.5a2 2 0 1 0 4 0a2 2 0 1 0 -4 0M610 37.9a2 2 0 1 0 4 0a2 2 0 1 0 -4 0M636.8 32a2 2 0 1 0 4 0a2 2 0 1 0 -4 0M626.1 37.5a2 2 0 1 0 4 0a2 2 0 1 0 -4 0M629.6 33.6a2 2 0 1 0 4 0a2 2 0 1 0 -4 0M618.6 46.3a2 2 0 1 0 4 0a2 2 0 1 0 -4 0" fill="none" stroke="#222" stroke-width="0.8"/>
<path d="M629.6 48.7a2 2 0 1 0 4 0a2 2 0 1 0 -4 0M607.8 56.8a2 2 0 1 0 4 0a2 2 0 1 0 -4 0M616.2 50.4a2 2 0 1 0 4 0a2 2 0 1 0 -4 0M607 57.2a2 2 0 1 0 4 0a2 2 0 1 0 -4 0M608.7 53.7a2 2 0 1 0 4 0a2 2 0 1 0 -4 0M638.8 47.1a2 2 0 1 0 4 0a2 2 0 1 0 -4 0M600.9 54a2 2 0 1 0 4 0a2 2 0 1 0 -4 0M633.2 51.7a2 2 0 1 0 4 0a2 2 0 1 0 -4 0M615.5 51.6a2 2 0 1 0 4 0a2 2 0 1 0 -4 0M600.2 56.3a2 2 0 1 0 4 0a2 2 0 1 0 -4 0M603.6 56.4a2 2 0 1 0 4 0a2 2 0 1 0 -4 0M608.4 59.5a2 2 0 1 0 4 0a2 2 0 1 0 -4 0M612.6 51.2a2 2 0 1 0 4 0a2 2 0 1 0 -4 0M628.5 50a2 2 0 1 0 4 0a2 2 0 1 0 -4 0M613.6 54.2a2 2 0 1 0 4 0a2 2 0 1 0 -4 0M635 50.1a2 2 0 1 0 4 0a2 2 0 1 0 -4 0M616.6 53.3a2 2 0 1 0 4 0a2 2 0 1 0 -4 0M621.7 54.4a2 2 0 1 0 4 0a2 2 0 1 0 -4 0M606.6 55.1a2 2 0 1 0 4 0a2 2 0 1 0 -4 0M608.4 56.1a2 2 0 1 0 4 0a2 2 0 1 0 -4 0M623.2 51.9a2 2 0 1 0 4 0a2 2 0 1 0 -4 0M638.4 49.7a2 2 0 1 0 4 0a2 2 0 1 0 -4 0M602.6 54.9a2 2 0 1 0 4 0a2 2 0 1 0 -4 0M602.5 56.8a2 2 0 1 0 4 0a2 2 0 1 0 -4 0M613 51.1a2 2 0 1 0 4 0a2 2 0 1 0 -4 0M611.4 56a2 2 0 1 0 4 0a2 2 0 1 0 -4 0M616.7 56.6a2 2 0 1 0 4 0a2 2 0 1 0 -4 0M619.6 51.1a2 2 0 1 0 4 0a2 2 0 1 0 -4 0M609.3 56.2a2 2 0 1 0 4 0a2 2 0 1 0 -4 0M610.6 49.8a2 2 0 1 0 4 0a2 2 0 1 0 -4 0M637.4 47.5a2 2 0 1 0 4 0a2 2 0 1 0 -4 0M601.1 57.4a2 2 0 1 0 4 0a2 2 0 1 0 -4 0M610.7 54.9a2 2 0 1 0 4 0a2 2 0 1 0 -4 0M636.3 50.8a2 2 0 1 0 4 0a2 2 0 1 0 -4 0M641.8 46.9a2 2 0 1 0 4 0a2 2 0 1 0 -4 0M613.3 58.3a2 2 0 1 0 4 0a2 2 0 1 0 -4 0M625.6 53.8a2 2 0 1 0 4 0a2 2 0 1 0 -4 0M622.7 57.7a2 2 0 1 0 4 0a2 2 0 1 0 -4 0M626 52.7a2 2 0 1 0 4 0a2 2 0 1 0 -4 0M621.6 49.9a2 2 0 1 0 4 0a2 2 0 1 0 -4 0M631.3 47.6a2 2 0 1 0 4 0a2 2 0 1 0 -4 0M613.2 55a2 2 0 1 0 4 0a2 2 0 1 0 -4 0M606.7 56.4a2 2 0 1 0 4 0a2 2 0 1 0 -4 0M626 58.4a2 2 0 1 0 4 0a2 2 0 1 0 -4 0M600.8 57a2 2 0 1 0 4 0a2 2 0 1 0 -4 0M622.5 55.7a2 2 0 1 0 4 0a2 2 0 1 0 -4 0M643.5 48a2 2 0 1 0 4 0a2 2 0 1 0 -4 0M635.5 49.2a2 2 0 1 0 4 0a2 2 0 1 0 -4 0M643.3 47.6a2 2 0 1 0 4 0a2 2 0 1 0 -4 0M616.8 47.7a2 2 0 1 0 4 0a2 2 0 1 0 -4 0M627.7 49.8a2 2 0 1 0 4 0a2 2 0 1 0 -4 0M631.5 46.8a2 2 0 1 0 4 0a2 2 0 1 0 -4 0M636.1 47.5a2 2 0 1 0 4 0a2 2 0 1 0 -4 0M626.3 55.6a2 2 0 1 0 4 0a2 2 0 1 0 -4 0M642.3 47a2 2 0 1 0 4 0a2 2 0 1 0 -4 0M637.9 51.5a2 2 0 1 0 4 0a2 2 0 1 0 -4 0M633.4 49.7a2 2 0 1 0 4 0a2 2 0 1 0 -4 0M606.8 54.4a2 2 0 1 0 4 0a2 2 0 1 0 -4 0M614 53.9a2 2 0 1 0 4 0a2 2 0 1 0 -4 0M629 50.7a2 2 0 1 0 4 0a2 2 0 1 0 -4 0M605.3 56.2a2 2 0 1 0 4 0a2 2 0 1 0 -4 0M624.1 54.2a2 2 0 1 0 4 0a2 2 0 1 0 -4 0M631.6 52.2a2 2 0 1 0 4 0a2 2 0 1 0 -4 0M603.8 55.5a2 2 0 1 0 4 0a2 2 0 1 0 -4 0M637.7 45.3a2 2 0 1 0 4 0a2 2 0 1 0 -4 0M631.5 47.8a2 2 0 1 0 4 0a2 2 0 1 0 -4 0M605.7 54.7a2 2 0 1 0 4 0a2 2 0 1 0 -4 0M619.8 54.5a2 2 0 1 0 4 0a2 2 0 1 0 -4 0M612.6 57.8a2 2 0 1 0 4 0a2 2 0 1 0 -4 0M608.3 51.8a2 2 0 1 0 4 0a2 2 0 1 0 -4 0M644 48.5a2 2 0 1 0 4 0a2 2 0 1 0 -4 0M638.5 48.4a2 2 0 1 0 4 0a2 2 0 1 0 -4 0M641.6 47.9a2 2 0 1 0 4 0a2 2 0 1 0 -4 0M627.7 49.3a2 2 0 1 0 4 0a2 2 0 1 0 -4 0M633.7 48.7a2 2 0 1 0 4 0a2 2 0 1 0 -4 0M603.9 57.6a2 2 0 1 0 4 0a2 2 0 1 0 -4 0M606.9 55.9a2 2 0 1 0 4 0a2 2 0 1 0 -4 0M630.9 48.8a2 2 0 1 0 4 0a2 2 0 1 0 -4 0M618.9 52.8a2 2 0 1 0 4 0a2 2 0 1 0 -4 0M603.8 54.5a2 2 0 1 0 4 0a2 2 0 1 0 -4 0M629.4 51.1a2 2 0 1 0 4 0a2 2 0 1 0 -4 0M620.4 54.7a2 2 0 1 0 4 0a2 2 0 1 0 -4 0M621.8 55.7a2 2 0 1 0 4 0a2 2 0 1 0 -4 0M619.2 50.8a2 2 0 1 0 4 0a2 2 0 1 0 -4 0M619.4 52.2a2 2 0 1 0 4 0a2 2 0 1 0 -4 0M613.1 53.7a2 2 0 1 0 4 0a2 2 0 1 0 -4 0M626.6 54.9a2 2 0 1 0 4 0a2 2 0 1 0 -4 0M609.2 54a2 2 0 1 0 4 0a2 2 0 1 0 -4 0M642.6 48.1a2 2 0 1 0 4 0a2 2 0 1 0 -4 0M616.2 52.2a2 2 0 1 0 4 0a2 2 0 1 0 -4 0M601.5 56.3a2 2 0 1 0 4 0a2 2 0 1 0 -4 0M636.4 48a2 2 0 1 0 4 0a2 2 0 1 0 -4 0M631.6 51.1a2 2 0 1 0 4 0a2 2 0 1 0 -4 0M610.7 52a2 2 0 1 0 4 0a2 2 0 1 0 -4 0M601.6 56.1a2 2 0 1 0 4 0a2 2 0 1 0 -4 0M622.8 52.3a2 2 0 1 0 4 0a2 2 0 1 0 -4 0M634.1 51.5a2 2 0 1 0 4 0a2 2 0 1 0 -4 0M623.8 54.4a2 2 0 1 0 4 0a2 2 0 1 0 -4 0M606.6 56.3a2 2 0 1 0 4 0a2 2 0 1 0 -4 0M607.6 58.1a2 2 0 1 0 4 0a2 2 0 1 0 -4 0M606.7 56.3a2 2 0 1 0 4 0a2 2 0 1 0 -4 0M639.5 52.9a2 2 0 1 0 4 0a2 2 0 1 0 -4 0M604.9 54a2 2 0 1 0 4 0a2 2 0 1 0 -4 0M601.4 55.6a2 2 0 1 0 4 0a2 2 0 1 0 -4 0M611.1 54.5a2 2 0 1 0 4 0a2 2 0 1 0 -4 0M642.2 47.7a2 2 0 1 0 4 0a2 2 0 1 0 -4 0M612.6 51.3a2 2 0 1 0 4 0a2 2 0 1 0 -4 0M606.1 59.5a2 2 0 1 0 4 0a2 2 0 1 0 -4 0M605.7 54a2 2 0 1 0 4 0a2 2 0 1 0 -4 0M614 54.6a2 2 0 1 0 4 0a2 2 0 1 0 -4 0M625.6 54.4a2 2 0 1 0 4 0a2 2 0 1 0 -4 0M601.9 55.7a2 2 0 1 0 4 0a2 2 0 1 0 -4 0M616.4 55.4a2 2 0 1 0 4 0a2 2 0 1 0 -4 0M602.7 54.7a2 2 0 1 0 4 0a2 2 0 1 0 -4 0M611 55.1a2 2 0 1 0 4 0a2 2 0 1 0 -4 0M614 56.5a2 2 0 1 0 4 0a2 2 0 1 0 -4 0M629.5 51a2 2 0 1 0 4 0a2 2 0 1 0 -4 0M606.4 54.9a2 2 0 1 0 4 0a2 2 0 1 0 -4 0M636.2 52.1a2 2 0 1 0 4 0a2 2 0 1 0 -4 0M607.8 52.7a2 2 0 1 0 4 0a2 2 0 1 0 -4 0M630.5 54a2 2 0 1 0 4 0a2 2 0 1 0 -4 0M609.7 56.5a2 2 0 1 0 4 0a2 2 0 1 0 -4 0M637 50.5a2 2 0 1 0 4 0a2 2 0 1 0 -4 0M631.9 48.4a2 2 0 1 0 4 0a2 2 0 1 0 -4 0M641.6 49.9a2 2 0 1 0 4 0a2 2 0 1 0 -4 0M627.1 49.5a2 2 0 1 0 4 0a2 2 0 1 0 -4 0M615.7 53.4a2 2 0 1 0 4 0a2 2 0 1 0 -4 0M620.2 51.8a2 2 0 1 0 4 0a2 2 0 1 0 -4 0M603.7 58.1a2 2 0 1 0 4 0a2 2 0 1 0 -4 0M618.8 55.4a2 2 0 1 0 4 0a2 2 0 1 0 -4 0M609.1 56.8a2 2 0 1 0 4 0a2 2 0 1 0 -4 0M623.7 51.7a2 2 0 1 0 4 0a2 2 0 1 0 -4 0M621.6 56a2 2 0 1 0 4 0a2 2 0 1 0 -4 0M633.4 56.7a2 2 0 1 0 4 0a2 2 0 1 0 -4 0M639.2 47.4a2 2 0 1 0 4 0a2 2 0 1 0 -4 0M640 52.2a2 2 0 1 0 4 0a2 2 0 1 0 -4 0M641.4 48.6a2 2 0 1 0 4 0a2 2 0 1 0 -4 0M603.7 56.8a2 2 0 1 0 4 0a2 2 0 1 0 -4 0M604 55.7a2 2 0 1 0 4 0a2 2 0 1 0 -4 0M620.4 52.2a2 2 0 1 0 4 0a2 2 0 1 0 -4 0M615.6 53.9a2 2 0 1 0 4 0a2 2 0 1 0 -4 0M631.7 49.9a2 2 0 1 0 4 0a2 2 0 1 0 -4 0M642.2 47.5a2 2 0 1 0 4 0a2 2 0 1 0 -4 0M632.6 52.6a2 2 0 1 0 4 0a2 2 0 1 0 -4 0M613.4 58.9a2 2 0 1 0 4 0a2 2 0 1 0 -4 0M609.8 48.9a2 2 0 1 0 4 0a2 2 0 1 0 -4 0M620.7 54.9a2 2 0 1 0 4 0a2 2 0 1 0 -4 0M617.3 56.1a2 2 0 1 0 4 0a2 2 0 1 0 -4 0M642.8 47.2a2 2 0 1 0 4 0a2 2 0 1 0 -4 0M635.7 43a2 2 0 1 0 4 0a2 2 0 1 0 -4 0M636.3 47.1a2 2 0 1 0 4 0a2 2 0 1 0 -4 0M605 57.6a2 2 0 1 0 4 0a2 2 0 1 0 -4 0M615.3 60a2 2 0 1 0 4 0a2 2 0 1 0 -4 0M607.6 52.6a2 2 0 1 0 4 0a2 2 0 1 0 -4 0M621.8 49.9a2 2 0 1 0 4 0a2 2 0 1 0 -4 0M626.1 53.8a2 2 0 1 0 4 0a2 2 0 1 0 -4 0M611.5 56.6a2 2 0 1 0 4 0a2 2 0 1 0 -4 0M634.1 48.3a2 2 0 1 0 4 0a2 2 0 1 0 -4 0M631.8 53.3a2 2 0 1 0 4 0a2 2 0 1 0 -4 0M625.9 51.5a2 2 0 1 0 4 0a2 2 0 1 0 -4 0M634 50.1a2 2 0 1 0 4 0a2 2 0 1 0 -4 0M635.8 50.2a2 2 0 1 0 4 0a2 2 0 1 0 -4 0M630.5 50.9a2 2 0 1 0 4 0a2 2 0 1 0 -4 0M608.8 51.3a2 2 0 1 0 4 0a2 2 0 1 0 -4 0M638.6 45.9a2 2 0 1 0 4 0a2 2 0 1 0 -4 0M624.5 47.6a2 2 0 1 0 4 0a2 2 0 1 0 -4 0M638.1 50.1a2 2 0 1 0 4 0a2 2 0 1 0 -4 0M624.3 52.8a2 2 0 1 0 4 0a2 2 0 1 0 -4 0M629.4 50.5a2 2 0 1 0 4 0a2 2 0 1 0 -4 0M639 49.2a2 2 0 1 0 4 0a2 2 0 1 0 -4 0M603.2 57a2 2 0 1 0 4 0a2 2 0 1 0 -4 0M631.1 49.6a2 2 0 1 0 4 0a2 2 0 1 0 -4 0M626.1 52.1a2 2 0 1 0 4 0a2 2 0 1 0 -4 0M610.6 56.9a2 2 0 1 0 4 0a2 2 0 1 0 -4 0M623.5 51.9a2 2 0 1 0 4 0a2 2 0 1 0 -4 0M612.4 57.5a2 2 0 1 0 4 0a2 2 0 1 0 -4 0M605.3 55.2a2 2 0 1 0 4 0a2 2 0 1 0 -4 0M641.7 46.9a2 2 0 1 0 4 0a2 2 0 1 0 -4 0M617.8 53.2a2 2 0 1 0 4 0a2 2 0 1 0 -4 0M639.7 51.5a2 2 0 1 0 4 0a2 2 0 1 0 -4 0M616.3 53.6a2 2 0 1 0 4 0a2 2 0 1 0 -4 0M643.7 46.5a2 2 0 1 0 4 0a2 2 0 1 0 -4 0M613.2 54.7a2 2 0 1 0 4 0a2 2 0 1 0 -4 0M623.9 52.4a2 2 0 1 0 4 0a2 2 0 1 0 -4 0M627.5 51a2 2 0 1 0 4 0a2 2 0 1 0 -4 0M618 56a2 2 0 1 0 4 0a2 2 0 1 0 -4 0M616 55a2 2 0 1 0 4 0a2 2 0 1 0 -4 0M629.3 54a2 2 0 1 0 4 0a2 2 0 1 0 -4 0M601.2 57.1a2 2 0 1 0 4 0a2 2 0 1 0 -4 0M620.9 51.6a2 2 0 1 0 4 0a2 2 0 1 0 -4 0M609.6 54a2 2 0 1 0 4 0a2 2 0 1 0 -4 0M625.6 49.7a2 2 0 1 0 4 0a2 2 0 1 0 -4 0M617.9 52.5a2 2 0 1 0 4 0a2 2 0 1 0 -4 0M643.2 47.7a2 2 0 1 0 4 0a2 2 0 1 0 -4 0M618.7 51a2 2 0 1 0 4 0a2 2 0 1 0 -4 0M613 58.5a2 2 0 1 0 4 0a2 2 0 1 0 -4 0M634.8 48.8a2 2 0 1 0 4 0a2 2 0 1 0 -4 0M625.3 52.6a2 2 0 1 0 4 0a2 2 0 1 0 -4 0M612.3 56.7a2 2 0 1 0 4 0a2 2 0 1 0 -4 0M641.2 52.9a2 2 0 1 0 4 0a2 2 0 1 0 -4 0M620.7 54.3a2 2 0 1 0 4 0a2 2 0 1 0 -4 0M613.3 51.1a2 2 0 1 0 4 0a2 2 0 1 0 -4 0M605.7 54.5a2 2 0 1 0 4 0a2 2 0 1 0 -4 0M633.2 49.5a2 2 0 1 0 4 0a2 2 0 1 0 -4 0M626.2 52.7a2 2 0 1 0 4 0a2 2 0 1 0 -4 0M642.6 50.3a2 2 0 1 0 4 0a2 2 0 1 0 -4 0M621.1 55.6a2 2 0 1 0 4 0a2 2 0 1 0 -4 0M600.8 56.1a2 2 0 1 0 4 0a2 2 0 1 0 -4 0M620.3 49.7a2 2 0 1 0 4 0a2 2 0 1 0 -4 0M623 57a2 2 0 1 0 4 0a2 2 0 1 0 -4 0M642.3 48.7a2 2 0 1 0 4 0a2 2 0 1 0 -4 0M600.6 57.5a2 2 0 1 0 4 0a2 2 0 1 0 -4 0M602.3 56.1a2 2 0 1 0 4 0a2 2 0 1 0 -4 0M609.8 54.4a2 2 0 1 0 4 0a2 2 0 1 0 -4 0M619.1 54.9a2 2 0 1 0 4 0a2 2 0 1 0 -4 0M600.2 56.1a2 2 0 1 0 4 0a2 2 0 1 0 -4 0M630.9 50.4a2 2 0 1 0 4 0a2 2 0 1 0 -4 0M640.8 47.4a2 2 0 1 0 4 0a2 2 0 1 0 -4 0M638.1 52.3a2 2 0 1 0 4 0a2 2 0 1 0 -4 0M624.1 50.5a2 2 0 1 0 4 0a2 2 0 1 0 -4 0M630.9 53.2a2 2 0 1 0 4 0a2 2 0 1 0 -4 0M615.6 56.4a2 2 0 1 0 4 0a2 2 0 1 0 -4 0M614.8 53.8a2 2 0 1 0 4 0a2 2 0 1 0 -4 0M635.7 50.4a2 2 0 1 0 4 0a2 2 0 1 0 -4 0M633.6 52.8a2 2 0 1 0 4 0a2 2 0 1 0 -4 0M601 56.4a2 2 0 1 0 4 0a2 2 0 1 0 -4 0M624 55.5a2 2 0 1 0 4 0a2 2 0 1 0 -4 0M614 59.6a2 2 0 1 0 4 0a2 2 0 1 0 -4 0M623 52.1a2 2 0 1 0 4 0a2 2 0 1 0 -4 0M600.4 59a2 2 0 1 0 4 0a2 2 0 1 0 -4 0M613.3 55a2 2 0 1 0 4 0a2 2 0 1 0 -4 0M616.4 57.8a2 2 0 1 0 4 0a2 2 0 1 0 -4 0M637.9 48.5a2 2 0 1 0 4 0a2 2 0 1 0 -4 0M620 54.2a2 2 0 1 0 4 0a2 2 0 1 0 -4 0M603.8 57.1a2 2 0 1 0 4 0a2 2 0 1 0 -4 0M625.3 54.5a2 2 0 1 0 4 0a2 2 0 1 0 -4 0M609.4 56.2a2 2 0 1 0 4 0a2 2 0 1 0 -4 0M619.6 55.9a2 2 0 1 0 4 0a2 2 0 1 0 -4 0M621.2 52.2a2 2 0 1 0 4 0a2 2 0 1 0 -4 0M600.5 55.8a2 2 0 1 0 4 0a2 2 0 1 0 -4 0M602.8 56.8a2 2 0 1 0 4 0a2 2 0 1 0 -4 0M606.7 52.4a2 2 0 1 0 4 0a2 2 0 1 0 -4 0M614.5 52.3a2 2 0 1 0 4 0a2 2 0 1 0 -4 0M618.1 58.7a2 2 0 1 0 4 0a2 2 0 1 0 -4 0M631.4 51.2a2 2 0 1 0 4 0a2 2 0 1 0 -4 0M609.9 55.3a2 2 0 1 0 4 0a2 2 0 1 0 -4 0M628.2 46.8a2 2 0 1 0 4 0a2 2 0 1 0 -4 0M636.2 50.8a2 2 0 1 0 4 0a2 2 0 1 0 -4 0M629.2 57.3a2 2 0 1 0 4 0a2 2 0 1 0 -4 0M638.9 48.7a2 2 0 1 0 4 0a2 2 0 1 0 -4 0" fill="none" stroke="#222" stroke-width="0.8"/>
<path d="M603.8 49.3a2 2 0 1 0 4 0a2 2 0 1 0 -4 0M625.7 45.7a2 2 0 1 0 4 0a2 2 0 1 0 -4 0M621.2 46.6a2 2 0 1 0 4 0a2 2 0 1 0 -4 0M619.5 46.9a2 2 0 1 0 4 0a2 2 0 1 0 -4 0M626.2 44.6a2 2 0 1 0 4 0a2 2 0 1 0 -4 0M626.6 45.7a2 2 0 1 0 4 0a2 2 0 1 0 -4 0M629.3 44.5a2 2 0 1 0 4 0a2 2 0 1 0 -4 0M607.2 48.2a2 2 0 1 0 4 0a2 2 0 1 0 -4 0M636.5 43.7a2 2 0 1 0 4 0a2 2 0 1 0 -4 0M608 49a2 2 0 1 0 4 0a2 2 0 1 0 -4 0" fill="none" stroke="#2a2a2a" stroke-width="0.75"/>
<path d="M589.9 59.9a2 2 0 1 0 4 0a2 2 0 1 0 -4 0M588.4 65.6a2 2 0 1 0 4 0a2 2 0 1 0 -4 0M599.9 56.4a2 2 0 1 0 4 0a2 2 0 1 0 -4 0M591.3 68.7a2 2 0 1 0 4 0a2 2 0 1 0 -4 0M589.8 67.8a2 2 0 1 0 4 0a2 2 0 1 0 -4 0M586.5 66.6a2 2 0 1 0 4 0a2 2 0 1 0 -4 0M598.8 54.4a2 2 0 1 0 4 0a2 2 0 1 0 -4 0M606.8 64.1a2 2 0 1 0 4 0a2 2 0 1 0 -4 0M630.9 55.6a2 2 0 1 0 4 0a2 2 0 1 0 -4 0M610.1 57.1a2 2 0 1 0 4 0a2 2 0 1 0 -4 0M606.5 62.4a2 2 0 1 0 4 0a2 2 0 1 0 -4 0M592.6 66.8a2 2 0 1 0 4 0a2 2 0 1 0 -4 0M595.6 56.4a2 2 0 1 0 4 0a2 2 0 1 0 -4 0M601 52.1a2 2 0 1 0 4 0a2 2 0 1 0 -4 0M600.7 56.7a2 2 0 1 0 4 0a2 2 0 1 0 -4 0M595.5 56.3a2 2 0 1 0 4 0a2 2 0 1 0 -4 0M611.2 56.2a2 2 0 1 0 4 0a2 2 0 1 0 -4 0M588.8 53.6a2 2 0 1 0 4 0a2 2 0 1 0 -4 0M595 67.1a2 2 0 1 0 4 0a2 2 0 1 0 -4 0M589.2 55.5a2 2 0 1 0 4 0a2 2 0 1 0 -4 0M624.9 56.4a2 2 0 1 0 4 0a2 2 0 1 0 -4 0M614.7 56.5a2 2 0 1 0 4 0a2 2 0 1 0 -4 0M635.5 54.2a2 2 0 1 0 4 0a2 2 0 1 0 -4 0M594.7 52.6a2 2 0 1 0 4 0a2 2 0 1 0 -4 0M598.8 67.9a2 2 0 1 0 4 0a2 2 0 1 0 -4 0" fill="none" stroke="#4a4a4a" stroke-width="0.65"/>
<path d="M581.3 54.5a2 2 0 1 0 4 0a2 2 0 1 0 -4 0M588 48.8a2 2 0 1 0 4 0a2 2 0 1 0 -4 0M588.9 52.6a2 2 0 1 0 4 0a2 2 0 1 0 -4 0M590.8 56.4a2 2 0 1 0 4 0a2 2 0 1 0 -4 0M586.1 63.9a2 2 0 1 0 4 0a2 2 0 1 0 -4 0M588.9 66.8a2 2 0 1 0 4 0a2 2 0 1 0 -4 0M592.7 62a2 2 0 1 0 4 0a2 2 0 1 0 -4 0M588 72.4a2 2 0 1 0 4 0a2 2 0 1 0 -4 0M589.8 69.6a2 2 0 1 0 4 0a2 2 0 1 0 -4 0M596.5 64.9a2 2 0 1 0 4 0a2 2 0 1 0 -4 0M597.4 68.6a2 2 0 1 0 4 0a2 2 0 1 0 -4 0M600.2 62a2 2 0 1 0 4 0a2 2 0 1 0 -4 0M607.8 61.1a2 2 0 1 0 4 0a2 2 0 1 0 -4 0M614.4 60.1a2 2 0 1 0 4 0a2 2 0 1 0 -4 0M615.4 62a2 2 0 1 0 4 0a2 2 0 1 0 -4 0M622.9 59.2a2 2 0 1 0 4 0a2 2 0 1 0 -4 0M629.5 59.2a2 2 0 1 0 4 0a2 2 0 1 0 -4 0M630.5 63a2 2 0 1 0 4 0a2 2 0 1 0 -4 0M637.1 54.5a2 2 0 1 0 4 0a2 2 0 1 0 -4 0M639.9 51.6a2 2 0 1 0 4 0a2 2 0 1 0 -4 0M651.3 43.1a2 2 0 1 0 4 0a2 2 0 1 0 -4 0M654.1 46.9a2 2 0 1 0 4 0a2 2 0 1 0 -4 0M650.3 46.9a2 2 0 1 0 4 0a2 2 0 1 0 -4 0M655.1 44.1a2 2 0 1 0 4 0a2 2 0 1 0 -4 0M643.7 46.5a2 2 0 1 0 4 0a2 2 0 1 0 -4 0M592.7 46a2 2 0 1 0 4 0a2 2 0 1 0 -4 0M594.6 43.1a2 2 0 1 0 4 0a2 2 0 1 0 -4 0M588.9 58.2a2 2 0 1 0 4 0a2 2 0 1 0 -4 0M603.1 59.2a2 2 0 1 0 4 0a2 2 0 1 0 -4 0M617.3 56.4a2 2 0 1 0 4 0a2 2 0 1 0 -4 0M626.7 56.4a2 2 0 1 0 4 0a2 2 0 1 0 -4 0M635.2 57.3a2 2 0 1 0 4 0a2 2 0 1 0 -4 0M588.3 65.3a2 2 0 1 0 4 0a2 2 0 1 0 -4 0M580.6 54.7a2 2 0 1 0 4 0a2 2 0 1 0 -4 0M644 40a2 2 0 1 0 4 0a2 2 0 1 0 -4 0M642 33a2 2 0 1 0 4 0a2 2 0 1 0 -4 0M598 38a2 2 0 1 0 4 0a2 2 0 1 0 -4 0M596 41a2 2 0 1 0 4 0a2 2 0 1 0 -4 0M638 33.5a2 2 0 1 0 4 0a2 2 0 1 0 -4 0M628 33a2 2 0 1 0 4 0a2 2 0 1 0 -4 0M613 35a2 2 0 1 0 4 0a2 2 0 1 0 -4 0M646 43a2 2 0 1 0 4 0a2 2 0 1 0 -4 0" fill="none" stroke="#4a4a4a" stroke-width="0.65"/>
<path d="M124.1 182.2l3 3m0 -3l-3 3M112.4 182.5l3 3m0 -3l-3 3M117 181.9l3 3m0 -3l-3 3M129.7 182l3 3m0 -3l-3 3M131.5 182.5l3 3m0 -3l-3 3M111.7 182.4l3 3m0 -3l-3 3M131 182l3 3m0 -3l-3 3M107.4 182.3l3 3m0 -3l-3 3M132.5 182.2l3 3m0 -3l-3 3M114.4 182.4l3 3m0 -3l-3 3M131.3 182.1l3 3m0 -3l-3 3M106.6 182.1l3 3m0 -3l-3 3M124.2 182.4l3 3m0 -3l-3 3M130.5 182.4l3 3m0 -3l-3 3M127.7 182.1l3 3m0 -3l-3 3M121.1 182.4l3 3m0 -3l-3 3M110 182l3 3m0 -3l-3 3M112.1 182.2l3 3m0 -3l-3 3M131 182l3 3m0 -3l-3 3M128.9 182.1l3 3m0 -3l-3 3M111.7 182.1l3 3m0 -3l-3 3M115 181.9l3 3m0 -3l-3 3M122.2 182l3 3m0 -3l-3 3M113.9 182.1l3 3m0 -3l-3 3M111.5 182.1l3 3m0 -3l-3 3M129 182.2l3 3m0 -3l-3 3M108.8 182.5l3 3m0 -3l-3 3M122.7 182.5l3 3m0 -3l-3 3M116.6 182l3 3m0 -3l-3 3M118.4 181.9l3 3m0 -3l-3 3M129.1 181.9l3 3m0 -3l-3 3M125.7 182.5l3 3m0 -3l-3 3M126.5 182.4l3 3m0 -3l-3 3M106.2 182.4l3 3m0 -3l-3 3M127.4 182.5l3 3m0 -3l-3 3M127 182.1l3 3m0 -3l-3 3M105.8 181.9l3 3m0 -3l-3 3M111.8 181.9l3 3m0 -3l-3 3M125.3 182.1l3 3m0 -3l-3 3M129 182.4l3 3m0 -3l-3 3" fill="none" stroke="#c4c4c4" stroke-width="0.7"/>
<path d="M46.9 183.7a1.8 1.8 0 1 0 3.6 0a1.8 1.8 0 1 0 -3.6 0M49.4 183.7a1.8 1.8 0 1 0 3.6 0a1.8 1.8 0 1 0 -3.6 0" fill="none" stroke="#888" stroke-width="0.7"/>
<path d="M57.8 183.7a1.6 1.6 0 1 0 3.2 0a1.6 1.6 0 1 0 -3.2 0M75.9 183.7a1.6 1.6 0 1 0 3.2 0a1.6 1.6 0 1 0 -3.2 0M57.6 183.7a1.6 1.6 0 1 0 3.2 0a1.6 1.6 0 1 0 -3.2 0M64.4 183.8a1.6 1.6 0 1 0 3.2 0a1.6 1.6 0 1 0 -3.2 0M81.9 183.6a1.6 1.6 0 1 0 3.2 0a1.6 1.6 0 1 0 -3.2 0M86.9 183.7a1.6 1.6 0 1 0 3.2 0a1.6 1.6 0 1 0 -3.2 0M101.9 183.6a1.6 1.6 0 1 0 3.2 0a1.6 1.6 0 1 0 -3.2 0M69.9 183.8a1.6 1.6 0 1 0 3.2 0a1.6 1.6 0 1 0 -3.2 0M65.4 183.8a1.6 1.6 0 1 0 3.2 0a1.6 1.6 0 1 0 -3.2 0M56.6 183.7a1.6 1.6 0 1 0 3.2 0a1.6 1.6 0 1 0 -3.2 0M63.1 183.8a1.6 1.6 0 1 0 3.2 0a1.6 1.6 0 1 0 -3.2 0M55.2 183.7a1.6 1.6 0 1 0 3.2 0a1.6 1.6 0 1 0 -3.2 0M53.5 183.8a1.6 1.6 0 1 0 3.2 0a1.6 1.6 0 1 0 -3.2 0M59.3 183.8a1.6 1.6 0 1 0 3.2 0a1.6 1.6 0 1 0 -3.2 0M81 183.7a1.6 1.6 0 1 0 3.2 0a1.6 1.6 0 1 0 -3.2 0M76.9 183.7a1.6 1.6 0 1 0 3.2 0a1.6 1.6 0 1 0 -3.2 0M100.1 183.7a1.6 1.6 0 1 0 3.2 0a1.6 1.6 0 1 0 -3.2 0M78.4 183.8a1.6 1.6 0 1 0 3.2 0a1.6 1.6 0 1 0 -3.2 0M57.9 183.7a1.6 1.6 0 1 0 3.2 0a1.6 1.6 0 1 0 -3.2 0M60.9 183.7a1.6 1.6 0 1 0 3.2 0a1.6 1.6 0 1 0 -3.2 0M89.5 183.6a1.6 1.6 0 1 0 3.2 0a1.6 1.6 0 1 0 -3.2 0M103.9 183.7a1.6 1.6 0 1 0 3.2 0a1.6 1.6 0 1 0 -3.2 0M92 183.8a1.6 1.6 0 1 0 3.2 0a1.6 1.6 0 1 0 -3.2 0M65.5 183.7a1.6 1.6 0 1 0 3.2 0a1.6 1.6 0 1 0 -3.2 0M71.2 183.8a1.6 1.6 0 1 0 3.2 0a1.6 1.6 0 1 0 -3.2 0M75.9 183.8a1.6 1.6 0 1 0 3.2 0a1.6 1.6 0 1 0 -3.2 0M75.7 183.8a1.6 1.6 0 1 0 3.2 0a1.6 1.6 0 1 0 -3.2 0M68 183.7a1.6 1.6 0 1 0 3.2 0a1.6 1.6 0 1 0 -3.2 0M61.4 183.7a1.6 1.6 0 1 0 3.2 0a1.6 1.6 0 1 0 -3.2 0M54.8 183.7a1.6 1.6 0 1 0 3.2 0a1.6 1.6 0 1 0 -3.2 0M98.7 183.8a1.6 1.6 0 1 0 3.2 0a1.6 1.6 0 1 0 -3.2 0M103.6 183.8a1.6 1.6 0 1 0 3.2 0a1.6 1.6 0 1 0 -3.2 0M103.8 183.7a1.6 1.6 0 1 0 3.2 0a1.6 1.6 0 1 0 -3.2 0M73 183.6a1.6 1.6 0 1 0 3.2 0a1.6 1.6 0 1 0 -3.2 0M88.8 183.7a1.6 1.6 0 1 0 3.2 0a1.6 1.6 0 1 0 -3.2 0M64 183.7a1.6 1.6 0 1 0 3.2 0a1.6 1.6 0 1 0 -3.2 0M59.2 183.6a1.6 1.6 0 1 0 3.2 0a1.6 1.6 0 1 0 -3.2 0M53.5 183.7a1.6 1.6 0 1 0 3.2 0a1.6 1.6 0 1 0 -3.2 0M70.6 183.7a1.6 1.6 0 1 0 3.2 0a1.6 1.6 0 1 0 -3.2 0M94.5 183.7a1.6 1.6 0 1 0 3.2 0a1.6 1.6 0 1 0 -3.2 0M80.6 183.6a1.6 1.6 0 1 0 3.2 0a1.6 1.6 0 1 0 -3.2 0M65.4 183.6a1.6 1.6 0 1 0 3.2 0a1.6 1.6 0 1 0 -3.2 0M78.2 183.7a1.6 1.6 0 1 0 3.2 0a1.6 1.6 0 1 0 -3.2 0M81.2 183.6a1.6 1.6 0 1 0 3.2 0a1.6 1.6 0 1 0 -3.2 0M63.5 183.8a1.6 1.6 0 1 0 3.2 0a1.6 1.6 0 1 0 -3.2 0M76.5 183.7a1.6 1.6 0 1 0 3.2 0a1.6 1.6 0 1 0 -3.2 0M101.2 183.7a1.6 1.6 0 1 0 3.2 0a1.6 1.6 0 1 0 -3.2 0M76.5 183.7a1.6 1.6 0 1 0 3.2 0a1.6 1.6 0 1 0 -3.2 0M104.4 183.7a1.6 1.6 0 1 0 3.2 0a1.6 1.6 0 1 0 -3.2 0M90.6 183.7a1.6 1.6 0 1 0 3.2 0a1.6 1.6 0 1 0 -3.2 0M60 183.7a1.6 1.6 0 1 0 3.2 0a1.6 1.6 0 1 0 -3.2 0M100.7 183.7a1.6 1.6 0 1 0 3.2 0a1.6 1.6 0 1 0 -3.2 0M89.1 183.7a1.6 1.6 0 1 0 3.2 0a1.6 1.6 0 1 0 -3.2 0M76.2 183.7a1.6 1.6 0 1 0 3.2 0a1.6 1.6 0 1 0 -3.2 0M63.1 183.8a1.6 1.6 0 1 0 3.2 0a1.6 1.6 0 1 0 -3.2 0M87.3 183.7a1.6 1.6 0 1 0 3.2 0a1.6 1.6 0 1 0 -3.2 0M63.2 183.8a1.6 1.6 0 1 0 3.2 0a1.6 1.6 0 1 0 -3.2 0M77.2 183.6a1.6 1.6 0 1 0 3.2 0a1.6 1.6 0 1 0 -3.2 0M61.2 183.7a1.6 1.6 0 1 0 3.2 0a1.6 1.6 0 1 0 -3.2 0M74.7 183.6a1.6 1.6 0 1 0 3.2 0a1.6 1.6 0 1 0 -3.2 0M103.2 183.8a1.6 1.6 0 1 0 3.2 0a1.6 1.6 0 1 0 -3.2 0M84.2 183.6a1.6 1.6 0 1 0 3.2 0a1.6 1.6 0 1 0 -3.2 0M79.8 183.8a1.6 1.6 0 1 0 3.2 0a1.6 1.6 0 1 0 -3.2 0M85.2 183.7a1.6 1.6 0 1 0 3.2 0a1.6 1.6 0 1 0 -3.2 0M87.1 183.6a1.6 1.6 0 1 0 3.2 0a1.6 1.6 0 1 0 -3.2 0M84.4 183.7a1.6 1.6 0 1 0 3.2 0a1.6 1.6 0 1 0 -3.2 0M68.1 183.6a1.6 1.6 0 1 0 3.2 0a1.6 1.6 0 1 0 -3.2 0M64.3 183.7a1.6 1.6 0 1 0 3.2 0a1.6 1.6 0 1 0 -3.2 0M84.6 183.7a1.6 1.6 0 1 0 3.2 0a1.6 1.6 0 1 0 -3.2 0M101.3 183.7a1.6 1.6 0 1 0 3.2 0a1.6 1.6 0 1 0 -3.2 0M98.3 183.7a1.6 1.6 0 1 0 3.2 0a1.6 1.6 0 1 0 -3.2 0M78.5 183.7a1.6 1.6 0 1 0 3.2 0a1.6 1.6 0 1 0 -3.2 0M68.6 183.8a1.6 1.6 0 1 0 3.2 0a1.6 1.6 0 1 0 -3.2 0M83.7 183.8a1.6 1.6 0 1 0 3.2 0a1.6 1.6 0 1 0 -3.2 0M55.8 183.7a1.6 1.6 0 1 0 3.2 0a1.6 1.6 0 1 0 -3.2 0M79 183.7a1.6 1.6 0 1 0 3.2 0a1.6 1.6 0 1 0 -3.2 0M93.7 183.7a1.6 1.6 0 1 0 3.2 0a1.6 1.6 0 1 0 -3.2 0M103.2 183.7a1.6 1.6 0 1 0 3.2 0a1.6 1.6 0 1 0 -3.2 0M58.1 183.8a1.6 1.6 0 1 0 3.2 0a1.6 1.6 0 1 0 -3.2 0M63.7 183.7a1.6 1.6 0 1 0 3.2 0a1.6 1.6 0 1 0 -3.2 0M78.1 183.7a1.6 1.6 0 1 0 3.2 0a1.6 1.6 0 1 0 -3.2 0M84.8 183.8a1.6 1.6 0 1 0 3.2 0a1.6 1.6 0 1 0 -3.2 0M103 183.7a1.6 1.6 0 1 0 3.2 0a1.6 1.6 0 1 0 -3.2 0M58.9 183.8a1.6 1.6 0 1 0 3.2 0a1.6 1.6 0 1 0 -3.2 0M60 183.7a1.6 1.6 0 1 0 3.2 0a1.6 1.6 0 1 0 -3.2 0M78.4 183.7a1.6 1.6 0 1 0 3.2 0a1.6 1.6 0 1 0 -3.2 0M94.3 183.8a1.6 1.6 0 1 0 3.2 0a1.6 1.6 0 1 0 -3.2 0M54.9 183.7a1.6 1.6 0 1 0 3.2 0a1.6 1.6 0 1 0 -3.2 0M73 183.8a1.6 1.6 0 1 0 3.2 0a1.6 1.6 0 1 0 -3.2 0M90 183.7a1.6 1.6 0 1 0 3.2 0a1.6 1.6 0 1 0 -3.2 0M75.1 183.6a1.6 1.6 0 1 0 3.2 0a1.6 1.6 0 1 0 -3.2 0M62.6 183.8a1.6 1.6 0 1 0 3.2 0a1.6 1.6 0 1 0 -3.2 0M57.1 183.7a1.6 1.6 0 1 0 3.2 0a1.6 1.6 0 1 0 -3.2 0M92.6 183.8a1.6 1.6 0 1 0 3.2 0a1.6 1.6 0 1 0 -3.2 0M79.7 183.7a1.6 1.6 0 1 0 3.2 0a1.6 1.6 0 1 0 -3.2 0M81.1 183.7a1.6 1.6 0 1 0 3.2 0a1.6 1.6 0 1 0 -3.2 0M88.6 183.6a1.6 1.6 0 1 0 3.2 0a1.6 1.6 0 1 0 -3.2 0M92.7 183.8a1.6 1.6 0 1 0 3.2 0a1.6 1.6 0 1 0 -3.2 0M74.1 183.7a1.6 1.6 0 1 0 3.2 0a1.6 1.6 0 1 0 -3.2 0M72.2 183.6a1.6 1.6 0 1 0 3.2 0a1.6 1.6 0 1 0 -3.2 0M100.7 183.7a1.6 1.6 0 1 0 3.2 0a1.6 1.6 0 1 0 -3.2 0M57.3 183.7a1.6 1.6 0 1 0 3.2 0a1.6 1.6 0 1 0 -3.2 0M93.4 183.7a1.6 1.6 0 1 0 3.2 0a1.6 1.6 0 1 0 -3.2 0M77.1 183.6a1.6 1.6 0 1 0 3.2 0a1.6 1.6 0 1 0 -3.2 0M80.8 183.8a1.6 1.6 0 1 0 3.2 0a1.6 1.6 0 1 0 -3.2 0M66.3 183.7a1.6 1.6 0 1 0 3.2 0a1.6 1.6 0 1 0 -3.2 0M102 183.7a1.6 1.6 0 1 0 3.2 0a1.6 1.6 0 1 0 -3.2 0M69.1 183.8a1.6 1.6 0 1 0 3.2 0a1.6 1.6 0 1 0 -3.2 0M69.9 183.7a1.6 1.6 0 1 0 3.2 0a1.6 1.6 0 1 0 -3.2 0M56.5 183.8a1.6 1.6 0 1 0 3.2 0a1.6 1.6 0 1 0 -3.2 0M99.3 183.6a1.6 1.6 0 1 0 3.2 0a1.6 1.6 0 1 0 -3.2 0M96.1 183.7a1.6 1.6 0 1 0 3.2 0a1.6 1.6 0 1 0 -3.2 0M56 183.8a1.6 1.6 0 1 0 3.2 0a1.6 1.6 0 1 0 -3.2 0M61 183.7a1.6 1.6 0 1 0 3.2 0a1.6 1.6 0 1 0 -3.2 0M68.2 183.7a1.6 1.6 0 1 0 3.2 0a1.6 1.6 0 1 0 -3.2 0M54.9 183.7a1.6 1.6 0 1 0 3.2 0a1.6 1.6 0 1 0 -3.2 0M79 183.6a1.6 1.6 0 1 0 3.2 0a1.6 1.6 0 1 0 -3.2 0M97.1 183.8a1.6 1.6 0 1 0 3.2 0a1.6 1.6 0 1 0 -3.2 0M90.5 183.6a1.6 1.6 0 1 0 3.2 0a1.6 1.6 0 1 0 -3.2 0M79.3 183.6a1.6 1.6 0 1 0 3.2 0a1.6 1.6 0 1 0 -3.2 0M103.8 183.7a1.6 1.6 0 1 0 3.2 0a1.6 1.6 0 1 0 -3.2 0M69.1 183.7a1.6 1.6 0 1 0 3.2 0a1.6 1.6 0 1 0 -3.2 0M69.8 183.6a1.6 1.6 0 1 0 3.2 0a1.6 1.6 0 1 0 -3.2 0M67.1 183.7a1.6 1.6 0 1 0 3.2 0a1.6 1.6 0 1 0 -3.2 0M84.4 183.6a1.6 1.6 0 1 0 3.2 0a1.6 1.6 0 1 0 -3.2 0M77.4 183.7a1.6 1.6 0 1 0 3.2 0a1.6 1.6 0 1 0 -3.2 0M59.8 183.7a1.6 1.6 0 1 0 3.2 0a1.6 1.6 0 1 0 -3.2 0M78.8 183.6a1.6 1.6 0 1 0 3.2 0a1.6 1.6 0 1 0 -3.2 0M103.2 183.8a1.6 1.6 0 1 0 3.2 0a1.6 1.6 0 1 0 -3.2 0M98.6 183.6a1.6 1.6 0 1 0 3.2 0a1.6 1.6 0 1 0 -3.2 0M85.5 183.6a1.6 1.6 0 1 0 3.2 0a1.6 1.6 0 1 0 -3.2 0M97.8 183.8a1.6 1.6 0 1 0 3.2 0a1.6 1.6 0 1 0 -3.2 0M78.4 183.7a1.6 1.6 0 1 0 3.2 0a1.6 1.6 0 1 0 -3.2 0M79 183.8a1.6 1.6 0 1 0 3.2 0a1.6 1.6 0 1 0 -3.2 0M89.2 183.7a1.6 1.6 0 1 0 3.2 0a1.6 1.6 0 1 0 -3.2 0M63.8 183.7a1.6 1.6 0 1 0 3.2 0a1.6 1.6 0 1 0 -3.2 0M84 183.7a1.6 1.6 0 1 0 3.2 0a1.6 1.6 0 1 0 -3.2 0M79.2 183.7a1.6 1.6 0 1 0 3.2 0a1.6 1.6 0 1 0 -3.2 0M68.7 183.8a1.6 1.6 0 1 0 3.2 0a1.6 1.6 0 1 0 -3.2 0M79 183.7a1.6 1.6 0 1 0 3.2 0a1.6 1.6 0 1 0 -3.2 0M62.6 183.8a1.6 1.6 0 1 0 3.2 0a1.6 1.6 0 1 0 -3.2 0M86.5 183.7a1.6 1.6 0 1 0 3.2 0a1.6 1.6 0 1 0 -3.2 0M59.3 183.7a1.6 1.6 0 1 0 3.2 0a1.6 1.6 0 1 0 -3.2 0M76.4 183.8a1.6 1.6 0 1 0 3.2 0a1.6 1.6 0 1 0 -3.2 0M56.3 183.8a1.6 1.6 0 1 0 3.2 0a1.6 1.6 0 1 0 -3.2 0M81.2 183.6a1.6 1.6 0 1 0 3.2 0a1.6 1.6 0 1 0 -3.2 0M58.4 183.7a1.6 1.6 0 1 0 3.2 0a1.6 1.6 0 1 0 -3.2 0M95.8 183.8a1.6 1.6 0 1 0 3.2 0a1.6 1.6 0 1 0 -3.2 0M54.3 183.7a1.6 1.6 0 1 0 3.2 0a1.6 1.6 0 1 0 -3.2 0M94.9 183.7a1.6 1.6 0 1 0 3.2 0a1.6 1.6 0 1 0 -3.2 0M68.8 183.7a1.6 1.6 0 1 0 3.2 0a1.6 1.6 0 1 0 -3.2 0M102.6 183.6a1.6 1.6 0 1 0 3.2 0a1.6 1.6 0 1 0 -3.2 0M70.3 183.7a1.6 1.6 0 1 0 3.2 0a1.6 1.6 0 1 0 -3.2 0M60.8 183.6a1.6 1.6 0 1 0 3.2 0a1.6 1.6 0 1 0 -3.2 0M87.9 183.8a1.6 1.6 0 1 0 3.2 0a1.6 1.6 0 1 0 -3.2 0M65.9 183.8a1.6 1.6 0 1 0 3.2 0a1.6 1.6 0 1 0 -3.2 0M95.3 183.7a1.6 1.6 0 1 0 3.2 0a1.6 1.6 0 1 0 -3.2 0M78 183.8a1.6 1.6 0 1 0 3.2 0a1.6 1.6 0 1 0 -3.2 0M67.2 183.7a1.6 1.6 0 1 0 3.2 0a1.6 1.6 0 1 0 -3.2 0M83.8 183.7a1.6 1.6 0 1 0 3.2 0a1.6 1.6 0 1 0 -3.2 0M64.9 183.6a1.6 1.6 0 1 0 3.2 0a1.6 1.6 0 1 0 -3.2 0M67 183.8a1.6 1.6 0 1 0 3.2 0a1.6 1.6 0 1 0 -3.2 0M57.6 183.7a1.6 1.6 0 1 0 3.2 0a1.6 1.6 0 1 0 -3.2 0M65.6 183.8a1.6 1.6 0 1 0 3.2 0a1.6 1.6 0 1 0 -3.2 0M64.7 183.7a1.6 1.6 0 1 0 3.2 0a1.6 1.6 0 1 0 -3.2 0M61.6 183.7a1.6 1.6 0 1 0 3.2 0a1.6 1.6 0 1 0 -3.2 0M74.8 183.8a1.6 1.6 0 1 0 3.2 0a1.6 1.6 0 1 0 -3.2 0M76.5 183.7a1.6 1.6 0 1 0 3.2 0a1.6 1.6 0 1 0 -3.2 0M84 183.8a1.6 1.6 0 1 0 3.2 0a1.6 1.6 0 1 0 -3.2 0M81.8 183.8a1.6 1.6 0 1 0 3.2 0a1.6 1.6 0 1 0 -3.2 0" fill="none" stroke="#222" stroke-width="0.8"/>
<path d="M107.5 183.7a1.8 1.8 0 1 0 3.6 0a1.8 1.8 0 1 0 -3.6 0M110 183.7a1.8 1.8 0 1 0 3.6 0a1.8 1.8 0 1 0 -3.6 0M116.3 183.7a1.8 1.8 0 1 0 3.6 0a1.8 1.8 0 1 0 -3.6 0M120.1 183.7a1.8 1.8 0 1 0 3.6 0a1.8 1.8 0 1 0 -3.6 0" fill="none" stroke="#333" stroke-width="0.8"/>
<path d="M112.7 183.7a1.8 1.8 0 1 0 3.6 0a1.8 1.8 0 1 0 -3.6 0" fill="none" stroke="#999" stroke-width="0.8"/>
<path d="M123.9 183.7a1.8 1.8 0 1 0 3.6 0a1.8 1.8 0 1 0 -3.6 0" fill="none" stroke="#a4a4a4" stroke-width="0.7"/>
<path d="M125.1 183.7a1.8 1.8 0 1 0 3.6 0a1.8 1.8 0 1 0 -3.6 0" fill="none" stroke="#b0b0b0" stroke-width="0.7"/>
<path d="M125.7 183.8a1.8 1.8 0 1 0 3.6 0a1.8 1.8 0 1 0 -3.6 0" fill="none" stroke="#b5b5b5" stroke-width="0.7"/>
<path d="M128.6 183.7a1.8 1.8 0 1 0 3.6 0a1.8 1.8 0 1 0 -3.6 0" fill="none" stroke="#cfcfcf" stroke-width="0.7"/>
<path d="M129 183.8a1.8 1.8 0 1 0 3.6 0a1.8 1.8 0 1 0 -3.6 0" fill="none" stroke="#d3d3d3" stroke-width="0.7"/>
<path d="M124.2 183.8a1.8 1.8 0 1 0 3.6 0a1.8 1.8 0 1 0 -3.6 0" fill="none" stroke="#a7a7a7" stroke-width="0.7"/>
<path d="M127.4 183.7a1.8 1.8 0 1 0 3.6 0a1.8 1.8 0 1 0 -3.6 0" fill="none" stroke="#c4c4c4" stroke-width="0.7"/>
<path d="M130.8 183.6a1.8 1.8 0 1 0 3.6 0a1.8 1.8 0 1 0 -3.6 0" fill="none" stroke="#e3e3e3" stroke-width="0.7"/>
<path d="M126.9 183.7a1.8 1.8 0 1 0 3.6 0a1.8 1.8 0 1 0 -3.6 0" fill="none" stroke="#c0c0c0" stroke-width="0.7"/>
<path d="M122.4 183.7a1.8 1.8 0 1 0 3.6 0a1.8 1.8 0 1 0 -3.6 0" fill="none" stroke="#979797" stroke-width="0.7"/>
<path d="M127.6 183.7a1.8 1.8 0 1 0 3.6 0a1.8 1.8 0 1 0 -3.6 0" fill="none" stroke="#c6c6c6" stroke-width="0.7"/>
<path d="M127.2 183.8a1.8 1.8 0 1 0 3.6 0a1.8 1.8 0 1 0 -3.6 0" fill="none" stroke="#c3c3c3" stroke-width="0.7"/>
<path d="M123.3 183.7a1.8 1.8 0 1 0 3.6 0a1.8 1.8 0 1 0 -3.6 0" fill="none" stroke="#a0a0a0" stroke-width="0.7"/>
<path d="M125 183.6a1.8 1.8 0 1 0 3.6 0a1.8 1.8 0 1 0 -3.6 0" fill="none" stroke="#afafaf" stroke-width="0.7"/>
<path d="M126.8 183.6a1.8 1.8 0 1 0 3.6 0a1.8 1.8 0 1 0 -3.6 0" fill="none" stroke="#bfbfbf" stroke-width="0.7"/>
<path d="M126.8 183.6a1.8 1.8 0 1 0 3.6 0a1.8 1.8 0 1 0 -3.6 0" fill="none" stroke="#bfbfbf" stroke-width="0.7"/>
<path d="M126.6 183.6a1.8 1.8 0 1 0 3.6 0a1.8 1.8 0 1 0 -3.6 0" fill="none" stroke="#bebebe" stroke-width="0.7"/>
<path d="M132.2 183.6a1.8 1.8 0 1 0 3.6 0a1.8 1.8 0 1 0 -3.6 0" fill="none" stroke="#efefef" stroke-width="0.7"/>
<path d="M126.6 183.7a1.8 1.8 0 1 0 3.6 0a1.8 1.8 0 1 0 -3.6 0" fill="none" stroke="#bdbdbd" stroke-width="0.7"/>
<path d="M128.9 183.6a1.8 1.8 0 1 0 3.6 0a1.8 1.8 0 1 0 -3.6 0" fill="none" stroke="#d2d2d2" stroke-width="0.7"/>
<path d="M130.7 183.7a1.8 1.8 0 1 0 3.6 0a1.8 1.8 0 1 0 -3.6 0" fill="none" stroke="#e2e2e2" stroke-width="0.7"/>
<path d="M123 183.7a1.8 1.8 0 1 0 3.6 0a1.8 1.8 0 1 0 -3.6 0" fill="none" stroke="#9d9d9d" stroke-width="0.7"/>
<path d="M128.4 183.7a1.8 1.8 0 1 0 3.6 0a1.8 1.8 0 1 0 -3.6 0" fill="none" stroke="#cecece" stroke-width="0.7"/>
<path d="M129.5 183.7a1.8 1.8 0 1 0 3.6 0a1.8 1.8 0 1 0 -3.6 0" fill="none" stroke="#d7d7d7" stroke-width="0.7"/>
<path d="M130.4 183.8a1.8 1.8 0 1 0 3.6 0a1.8 1.8 0 1 0 -3.6 0" fill="none" stroke="#dfdfdf" stroke-width="0.7"/>
<path d="M130.4 183.6a1.8 1.8 0 1 0 3.6 0a1.8 1.8 0 1 0 -3.6 0" fill="none" stroke="#dfdfdf" stroke-width="0.7"/>
<path d="M652 198.1l3 3m0 -3l-3 3M655.2 198.5l3 3m0 -3l-3 3M651 198l3 3m0 -3l-3 3M645.4 198l3 3m0 -3l-3 3M656.8 198.7l3 3m0 -3l-3 3M643.5 198.4l3 3m0 -3l-3 3M644.9 198l3 3m0 -3l-3 3M652 198.6l3 3m0 -3l-3 3M668.4 198.5l3 3m0 -3l-3 3M651 198.4l3 3m0 -3l-3 3M667.5 198.7l3 3m0 -3l-3 3M659.2 198.3l3 3m0 -3l-3 3M658.5 198l3 3m0 -3l-3 3M666.1 197.9l3 3m0 -3l-3 3M656.7 198l3 3m0 -3l-3 3M661.1 198.3l3 3m0 -3l-3 3M653.5 198.3l3 3m0 -3l-3 3M662.7 198.6l3 3m0 -3l-3 3M665 198l3 3m0 -3l-3 3M640.1 198l3 3m0 -3l-3 3M666.6 198l3 3m0 -3l-3 3M641 198.2l3 3m0 -3l-3 3M658.3 198.6l3 3m0 -3l-3 3M642.2 198.5l3 3m0 -3l-3 3M661.6 197.9l3 3m0 -3l-3 3M652.4 198.4l3 3m0 -3l-3 3M644 198l3 3m0 -3l-3 3M664 198.1l3 3m0 -3l-3 3M647.1 198.2l3 3m0 -3l-3 3M665.7 198.1l3 3m0 -3l-3 3M651 198.1l3 3m0 -3l-3 3M656 198.1l3 3m0 -3l-3 3M652.7 198.2l3 3m0 -3l-3 3M661.7 198.4l3 3m0 -3l-3 3M650.2 198.4l3 3m0 -3l-3 3M654.7 198.5l3 3m0 -3l-3 3M646.6 198.1l3 3m0 -3l-3 3M649.7 197.9l3 3m0 -3l-3 3M643.2 198.4l3 3m0 -3l-3 3M647.5 198.2l3 3m0 -3l-3 3" fill="none" stroke="#c4c4c4" stroke-width="0.7"/>
<path d="M581.6 199.8a1.8 1.8 0 1 0 3.6 0a1.8 1.8 0 1 0 -3.6 0M584.2 199.8a1.8 1.8 0 1 0 3.6 0a1.8 1.8 0 1 0 -3.6 0" fill="none" stroke="#888" stroke-width="0.7"/>
<path d="M598.3 199.9a1.6 1.6 0 1 0 3.2 0a1.6 1.6 0 1 0 -3.2 0M608.9 199.7a1.6 1.6 0 1 0 3.2 0a1.6 1.6 0 1 0 -3.2 0M637.4 199.8a1.6 1.6 0 1 0 3.2 0a1.6 1.6 0 1 0 -3.2 0M618.9 199.8a1.6 1.6 0 1 0 3.2 0a1.6 1.6 0 1 0 -3.2 0M625.2 199.7a1.6 1.6 0 1 0 3.2 0a1.6 1.6 0 1 0 -3.2 0M589.5 199.7a1.6 1.6 0 1 0 3.2 0a1.6 1.6 0 1 0 -3.2 0M616 199.9a1.6 1.6 0 1 0 3.2 0a1.6 1.6 0 1 0 -3.2 0M624.3 199.9a1.6 1.6 0 1 0 3.2 0a1.6 1.6 0 1 0 -3.2 0M633 199.8a1.6 1.6 0 1 0 3.2 0a1.6 1.6 0 1 0 -3.2 0M627.5 199.7a1.6 1.6 0 1 0 3.2 0a1.6 1.6 0 1 0 -3.2 0M589.9 199.7a1.6 1.6 0 1 0 3.2 0a1.6 1.6 0 1 0 -3.2 0M639.5 199.8a1.6 1.6 0 1 0 3.2 0a1.6 1.6 0 1 0 -3.2 0M588.1 199.8a1.6 1.6 0 1 0 3.2 0a1.6 1.6 0 1 0 -3.2 0M628 199.9a1.6 1.6 0 1 0 3.2 0a1.6 1.6 0 1 0 -3.2 0M612.2 199.8a1.6 1.6 0 1 0 3.2 0a1.6 1.6 0 1 0 -3.2 0M636.4 199.8a1.6 1.6 0 1 0 3.2 0a1.6 1.6 0 1 0 -3.2 0M637.4 199.8a1.6 1.6 0 1 0 3.2 0a1.6 1.6 0 1 0 -3.2 0M626.8 199.7a1.6 1.6 0 1 0 3.2 0a1.6 1.6 0 1 0 -3.2 0M591.6 199.8a1.6 1.6 0 1 0 3.2 0a1.6 1.6 0 1 0 -3.2 0M621.5 199.8a1.6 1.6 0 1 0 3.2 0a1.6 1.6 0 1 0 -3.2 0M593.4 199.7a1.6 1.6 0 1 0 3.2 0a1.6 1.6 0 1 0 -3.2 0M609.7 199.8a1.6 1.6 0 1 0 3.2 0a1.6 1.6 0 1 0 -3.2 0M594.1 199.8a1.6 1.6 0 1 0 3.2 0a1.6 1.6 0 1 0 -3.2 0M603.2 199.8a1.6 1.6 0 1 0 3.2 0a1.6 1.6 0 1 0 -3.2 0M590 199.8a1.6 1.6 0 1 0 3.2 0a1.6 1.6 0 1 0 -3.2 0M615.8 199.7a1.6 1.6 0 1 0 3.2 0a1.6 1.6 0 1 0 -3.2 0M592.1 199.8a1.6 1.6 0 1 0 3.2 0a1.6 1.6 0 1 0 -3.2 0M600.1 199.7a1.6 1.6 0 1 0 3.2 0a1.6 1.6 0 1 0 -3.2 0M628.4 199.7a1.6 1.6 0 1 0 3.2 0a1.6 1.6 0 1 0 -3.2 0M602.7 199.9a1.6 1.6 0 1 0 3.2 0a1.6 1.6 0 1 0 -3.2 0M617.9 199.8a1.6 1.6 0 1 0 3.2 0a1.6 1.6 0 1 0 -3.2 0M633 199.9a1.6 1.6 0 1 0 3.2 0a1.6 1.6 0 1 0 -3.2 0M620.9 199.8a1.6 1.6 0 1 0 3.2 0a1.6 1.6 0 1 0 -3.2 0M630.6 199.9a1.6 1.6 0 1 0 3.2 0a1.6 1.6 0 1 0 -3.2 0M636.6 199.9a1.6 1.6 0 1 0 3.2 0a1.6 1.6 0 1 0 -3.2 0M600.2 199.8a1.6 1.6 0 1 0 3.2 0a1.6 1.6 0 1 0 -3.2 0M597.1 199.7a1.6 1.6 0 1 0 3.2 0a1.6 1.6 0 1 0 -3.2 0M639.9 199.8a1.6 1.6 0 1 0 3.2 0a1.6 1.6 0 1 0 -3.2 0M635.8 199.8a1.6 1.6 0 1 0 3.2 0a1.6 1.6 0 1 0 -3.2 0M604.3 199.8a1.6 1.6 0 1 0 3.2 0a1.6 1.6 0 1 0 -3.2 0M636.3 199.8a1.6 1.6 0 1 0 3.2 0a1.6 1.6 0 1 0 -3.2 0M591.8 199.7a1.6 1.6 0 1 0 3.2 0a1.6 1.6 0 1 0 -3.2 0M599.2 199.7a1.6 1.6 0 1 0 3.2 0a1.6 1.6 0 1 0 -3.2 0M633 199.7a1.6 1.6 0 1 0 3.2 0a1.6 1.6 0 1 0 -3.2 0M592.7 199.8a1.6 1.6 0 1 0 3.2 0a1.6 1.6 0 1 0 -3.2 0M632.9 199.7a1.6 1.6 0 1 0 3.2 0a1.6 1.6 0 1 0 -3.2 0M599 199.7a1.6 1.6 0 1 0 3.2 0a1.6 1.6 0 1 0 -3.2 0M628 199.7a1.6 1.6 0 1 0 3.2 0a1.6 1.6 0 1 0 -3.2 0M593.9 199.9a1.6 1.6 0 1 0 3.2 0a1.6 1.6 0 1 0 -3.2 0M613.7 199.7a1.6 1.6 0 1 0 3.2 0a1.6 1.6 0 1 0 -3.2 0M617.7 199.8a1.6 1.6 0 1 0 3.2 0a1.6 1.6 0 1 0 -3.2 0M616.8 199.8a1.6 1.6 0 1 0 3.2 0a1.6 1.6 0 1 0 -3.2 0M632.9 199.7a1.6 1.6 0 1 0 3.2 0a1.6 1.6 0 1 0 -3.2 0M589.1 199.8a1.6 1.6 0 1 0 3.2 0a1.6 1.6 0 1 0 -3.2 0M624.7 199.9a1.6 1.6 0 1 0 3.2 0a1.6 1.6 0 1 0 -3.2 0M632.4 199.7a1.6 1.6 0 1 0 3.2 0a1.6 1.6 0 1 0 -3.2 0M614.9 199.8a1.6 1.6 0 1 0 3.2 0a1.6 1.6 0 1 0 -3.2 0M599.7 199.8a1.6 1.6 0 1 0 3.2 0a1.6 1.6 0 1 0 -3.2 0M629.5 199.8a1.6 1.6 0 1 0 3.2 0a1.6 1.6 0 1 0 -3.2 0M610 199.8a1.6 1.6 0 1 0 3.2 0a1.6 1.6 0 1 0 -3.2 0M601.1 199.8a1.6 1.6 0 1 0 3.2 0a1.6 1.6 0 1 0 -3.2 0M628.2 199.8a1.6 1.6 0 1 0 3.2 0a1.6 1.6 0 1 0 -3.2 0M627.7 199.8a1.6 1.6 0 1 0 3.2 0a1.6 1.6 0 1 0 -3.2 0M630.9 199.8a1.6 1.6 0 1 0 3.2 0a1.6 1.6 0 1 0 -3.2 0M613.4 199.8a1.6 1.6 0 1 0 3.2 0a1.6 1.6 0 1 0 -3.2 0M588 199.9a1.6 1.6 0 1 0 3.2 0a1.6 1.6 0 1 0 -3.2 0M588.5 199.8a1.6 1.6 0 1 0 3.2 0a1.6 1.6 0 1 0 -3.2 0M616.5 199.7a1.6 1.6 0 1 0 3.2 0a1.6 1.6 0 1 0 -3.2 0M589.1 199.7a1.6 1.6 0 1 0 3.2 0a1.6 1.6 0 1 0 -3.2 0M620.1 199.8a1.6 1.6 0 1 0 3.2 0a1.6 1.6 0 1 0 -3.2 0M594.3 199.8a1.6 1.6 0 1 0 3.2 0a1.6 1.6 0 1 0 -3.2 0M628.3 199.7a1.6 1.6 0 1 0 3.2 0a1.6 1.6 0 1 0 -3.2 0M588.3 199.8a1.6 1.6 0 1 0 3.2 0a1.6 1.6 0 1 0 -3.2 0M623.8 199.7a1.6 1.6 0 1 0 3.2 0a1.6 1.6 0 1 0 -3.2 0M599 199.8a1.6 1.6 0 1 0 3.2 0a1.6 1.6 0 1 0 -3.2 0M640.2 199.7a1.6 1.6 0 1 0 3.2 0a1.6 1.6 0 1 0 -3.2 0M612.3 199.9a1.6 1.6 0 1 0 3.2 0a1.6 1.6 0 1 0 -3.2 0M614.6 199.7a1.6 1.6 0 1 0 3.2 0a1.6 1.6 0 1 0 -3.2 0M632.2 199.8a1.6 1.6 0 1 0 3.2 0a1.6 1.6 0 1 0 -3.2 0M602.2 199.8a1.6 1.6 0 1 0 3.2 0a1.6 1.6 0 1 0 -3.2 0M638.7 199.9a1.6 1.6 0 1 0 3.2 0a1.6 1.6 0 1 0 -3.2 0M602.8 199.8a1.6 1.6 0 1 0 3.2 0a1.6 1.6 0 1 0 -3.2 0M589.2 199.9a1.6 1.6 0 1 0 3.2 0a1.6 1.6 0 1 0 -3.2 0M602 199.9a1.6 1.6 0 1 0 3.2 0a1.6 1.6 0 1 0 -3.2 0M606.7 199.8a1.6 1.6 0 1 0 3.2 0a1.6 1.6 0 1 0 -3.2 0M618.8 199.8a1.6 1.6 0 1 0 3.2 0a1.6 1.6 0 1 0 -3.2 0M590.7 199.7a1.6 1.6 0 1 0 3.2 0a1.6 1.6 0 1 0 -3.2 0M635.2 199.8a1.6 1.6 0 1 0 3.2 0a1.6 1.6 0 1 0 -3.2 0M628.4 199.7a1.6 1.6 0 1 0 3.2 0a1.6 1.6 0 1 0 -3.2 0M626.7 199.8a1.6 1.6 0 1 0 3.2 0a1.6 1.6 0 1 0 -3.2 0M639.6 199.7a1.6 1.6 0 1 0 3.2 0a1.6 1.6 0 1 0 -3.2 0M590 199.7a1.6 1.6 0 1 0 3.2 0a1.6 1.6 0 1 0 -3.2 0M623.6 199.8a1.6 1.6 0 1 0 3.2 0a1.6 1.6 0 1 0 -3.2 0M632.6 199.8a1.6 1.6 0 1 0 3.2 0a1.6 1.6 0 1 0 -3.2 0M596.7 199.7a1.6 1.6 0 1 0 3.2 0a1.6 1.6 0 1 0 -3.2 0M609 199.7a1.6 1.6 0 1 0 3.2 0a1.6 1.6 0 1 0 -3.2 0M597.8 199.9a1.6 1.6 0 1 0 3.2 0a1.6 1.6 0 1 0 -3.2 0M636.3 199.8a1.6 1.6 0 1 0 3.2 0a1.6 1.6 0 1 0 -3.2 0M612.2 199.9a1.6 1.6 0 1 0 3.2 0a1.6 1.6 0 1 0 -3.2 0M631.2 199.8a1.6 1.6 0 1 0 3.2 0a1.6 1.6 0 1 0 -3.2 0M600.6 199.7a1.6 1.6 0 1 0 3.2 0a1.6 1.6 0 1 0 -3.2 0M619.1 199.8a1.6 1.6 0 1 0 3.2 0a1.6 1.6 0 1 0 -3.2 0M626.7 199.8a1.6 1.6 0 1 0 3.2 0a1.6 1.6 0 1 0 -3.2 0M605.3 199.7a1.6 1.6 0 1 0 3.2 0a1.6 1.6 0 1 0 -3.2 0M601.4 199.7a1.6 1.6 0 1 0 3.2 0a1.6 1.6 0 1 0 -3.2 0M591.7 199.9a1.6 1.6 0 1 0 3.2 0a1.6 1.6 0 1 0 -3.2 0M620.5 199.8a1.6 1.6 0 1 0 3.2 0a1.6 1.6 0 1 0 -3.2 0M608.9 199.8a1.6 1.6 0 1 0 3.2 0a1.6 1.6 0 1 0 -3.2 0M597.8 199.8a1.6 1.6 0 1 0 3.2 0a1.6 1.6 0 1 0 -3.2 0M604.2 199.9a1.6 1.6 0 1 0 3.2 0a1.6 1.6 0 1 0 -3.2 0M604.1 199.7a1.6 1.6 0 1 0 3.2 0a1.6 1.6 0 1 0 -3.2 0M593.8 199.7a1.6 1.6 0 1 0 3.2 0a1.6 1.6 0 1 0 -3.2 0M618.6 199.8a1.6 1.6 0 1 0 3.2 0a1.6 1.6 0 1 0 -3.2 0M595.4 199.8a1.6 1.6 0 1 0 3.2 0a1.6 1.6 0 1 0 -3.2 0M598.7 199.9a1.6 1.6 0 1 0 3.2 0a1.6 1.6 0 1 0 -3.2 0M606.3 199.7a1.6 1.6 0 1 0 3.2 0a1.6 1.6 0 1 0 -3.2 0M639.6 199.7a1.6 1.6 0 1 0 3.2 0a1.6 1.6 0 1 0 -3.2 0M624.8 199.8a1.6 1.6 0 1 0 3.2 0a1.6 1.6 0 1 0 -3.2 0M598.5 199.8a1.6 1.6 0 1 0 3.2 0a1.6 1.6 0 1 0 -3.2 0M632 199.7a1.6 1.6 0 1 0 3.2 0a1.6 1.6 0 1 0 -3.2 0M637 199.7a1.6 1.6 0 1 0 3.2 0a1.6 1.6 0 1 0 -3.2 0M604.7 199.7a1.6 1.6 0 1 0 3.2 0a1.6 1.6 0 1 0 -3.2 0M629.5 199.8a1.6 1.6 0 1 0 3.2 0a1.6 1.6 0 1 0 -3.2 0M620.6 199.7a1.6 1.6 0 1 0 3.2 0a1.6 1.6 0 1 0 -3.2 0M616.6 199.7a1.6 1.6 0 1 0 3.2 0a1.6 1.6 0 1 0 -3.2 0M635.1 199.7a1.6 1.6 0 1 0 3.2 0a1.6 1.6 0 1 0 -3.2 0M622.8 199.8a1.6 1.6 0 1 0 3.2 0a1.6 1.6 0 1 0 -3.2 0M621.5 199.8a1.6 1.6 0 1 0 3.2 0a1.6 1.6 0 1 0 -3.2 0M636.9 199.8a1.6 1.6 0 1 0 3.2 0a1.6 1.6 0 1 0 -3.2 0M611.4 199.9a1.6 1.6 0 1 0 3.2 0a1.6 1.6 0 1 0 -3.2 0M592.7 199.7a1.6 1.6 0 1 0 3.2 0a1.6 1.6 0 1 0 -3.2 0M587.6 199.8a1.6 1.6 0 1 0 3.2 0a1.6 1.6 0 1 0 -3.2 0M625.5 199.9a1.6 1.6 0 1 0 3.2 0a1.6 1.6 0 1 0 -3.2 0M612.1 199.7a1.6 1.6 0 1 0 3.2 0a1.6 1.6 0 1 0 -3.2 0M633.6 199.7a1.6 1.6 0 1 0 3.2 0a1.6 1.6 0 1 0 -3.2 0M638.7 199.8a1.6 1.6 0 1 0 3.2 0a1.6 1.6 0 1 0 -3.2 0M600.7 199.8a1.6 1.6 0 1 0 3.2 0a1.6 1.6 0 1 0 -3.2 0M597.8 199.7a1.6 1.6 0 1 0 3.2 0a1.6 1.6 0 1 0 -3.2 0M617.6 199.9a1.6 1.6 0 1 0 3.2 0a1.6 1.6 0 1 0 -3.2 0M588.3 199.9a1.6 1.6 0 1 0 3.2 0a1.6 1.6 0 1 0 -3.2 0M592.5 199.8a1.6 1.6 0 1 0 3.2 0a1.6 1.6 0 1 0 -3.2 0M591.1 199.8a1.6 1.6 0 1 0 3.2 0a1.6 1.6 0 1 0 -3.2 0M603 199.8a1.6 1.6 0 1 0 3.2 0a1.6 1.6 0 1 0 -3.2 0M610.6 199.8a1.6 1.6 0 1 0 3.2 0a1.6 1.6 0 1 0 -3.2 0M597.6 199.8a1.6 1.6 0 1 0 3.2 0a1.6 1.6 0 1 0 -3.2 0M623.6 199.8a1.6 1.6 0 1 0 3.2 0a1.6 1.6 0 1 0 -3.2 0M627.4 199.9a1.6 1.6 0 1 0 3.2 0a1.6 1.6 0 1 0 -3.2 0M631.3 199.8a1.6 1.6 0 1 0 3.2 0a1.6 1.6 0 1 0 -3.2 0M616.2 199.7a1.6 1.6 0 1 0 3.2 0a1.6 1.6 0 1 0 -3.2 0M627.2 199.8a1.6 1.6 0 1 0 3.2 0a1.6 1.6 0 1 0 -3.2 0M629.4 199.9a1.6 1.6 0 1 0 3.2 0a1.6 1.6 0 1 0 -3.2 0M625.8 199.8a1.6 1.6 0 1 0 3.2 0a1.6 1.6 0 1 0 -3.2 0M604 199.8a1.6 1.6 0 1 0 3.2 0a1.6 1.6 0 1 0 -3.2 0M617.7 199.8a1.6 1.6 0 1 0 3.2 0a1.6 1.6 0 1 0 -3.2 0M630.9 199.8a1.6 1.6 0 1 0 3.2 0a1.6 1.6 0 1 0 -3.2 0M600.3 199.7a1.6 1.6 0 1 0 3.2 0a1.6 1.6 0 1 0 -3.2 0M606.2 199.9a1.6 1.6 0 1 0 3.2 0a1.6 1.6 0 1 0 -3.2 0M587.8 199.8a1.6 1.6 0 1 0 3.2 0a1.6 1.6 0 1 0 -3.2 0M619.1 199.8a1.6 1.6 0 1 0 3.2 0a1.6 1.6 0 1 0 -3.2 0M593.3 199.8a1.6 1.6 0 1 0 3.2 0a1.6 1.6 0 1 0 -3.2 0M610.8 199.9a1.6 1.6 0 1 0 3.2 0a1.6 1.6 0 1 0 -3.2 0M597.1 199.7a1.6 1.6 0 1 0 3.2 0a1.6 1.6 0 1 0 -3.2 0M593.3 199.7a1.6 1.6 0 1 0 3.2 0a1.6 1.6 0 1 0 -3.2 0M634.3 199.8a1.6 1.6 0 1 0 3.2 0a1.6 1.6 0 1 0 -3.2 0M604.6 199.7a1.6 1.6 0 1 0 3.2 0a1.6 1.6 0 1 0 -3.2 0M638 199.8a1.6 1.6 0 1 0 3.2 0a1.6 1.6 0 1 0 -3.2 0M626.3 199.7a1.6 1.6 0 1 0 3.2 0a1.6 1.6 0 1 0 -3.2 0M618.3 199.7a1.6 1.6 0 1 0 3.2 0a1.6 1.6 0 1 0 -3.2 0M612.9 199.8a1.6 1.6 0 1 0 3.2 0a1.6 1.6 0 1 0 -3.2 0M621.6 199.9a1.6 1.6 0 1 0 3.2 0a1.6 1.6 0 1 0 -3.2 0" fill="none" stroke="#222" stroke-width="0.8"/>
<path d="M641.8 199.8a1.8 1.8 0 1 0 3.6 0a1.8 1.8 0 1 0 -3.6 0M644.4 199.8a1.8 1.8 0 1 0 3.6 0a1.8 1.8 0 1 0 -3.6 0M651 199.8a1.8 1.8 0 1 0 3.6 0a1.8 1.8 0 1 0 -3.6 0M654.9 199.8a1.8 1.8 0 1 0 3.6 0a1.8 1.8 0 1 0 -3.6 0" fill="none" stroke="#333" stroke-width="0.8"/>
<path d="M647.7 199.8a1.8 1.8 0 1 0 3.6 0a1.8 1.8 0 1 0 -3.6 0" fill="none" stroke="#999" stroke-width="0.8"/>
<path d="M663.9 199.8a1.8 1.8 0 1 0 3.6 0a1.8 1.8 0 1 0 -3.6 0" fill="none" stroke="#cdcdcd" stroke-width="0.7"/>
<path d="M664.2 199.8a1.8 1.8 0 1 0 3.6 0a1.8 1.8 0 1 0 -3.6 0" fill="none" stroke="#cfcfcf" stroke-width="0.7"/>
<path d="M657.2 199.8a1.8 1.8 0 1 0 3.6 0a1.8 1.8 0 1 0 -3.6 0" fill="none" stroke="#969696" stroke-width="0.7"/>
<path d="M664.9 199.9a1.8 1.8 0 1 0 3.6 0a1.8 1.8 0 1 0 -3.6 0" fill="none" stroke="#d5d5d5" stroke-width="0.7"/>
<path d="M667.8 199.7a1.8 1.8 0 1 0 3.6 0a1.8 1.8 0 1 0 -3.6 0" fill="none" stroke="#ececec" stroke-width="0.7"/>
<path d="M662.9 199.8a1.8 1.8 0 1 0 3.6 0a1.8 1.8 0 1 0 -3.6 0" fill="none" stroke="#c4c4c4" stroke-width="0.7"/>
<path d="M662.1 199.9a1.8 1.8 0 1 0 3.6 0a1.8 1.8 0 1 0 -3.6 0" fill="none" stroke="#bebebe" stroke-width="0.7"/>
<path d="M662 199.8a1.8 1.8 0 1 0 3.6 0a1.8 1.8 0 1 0 -3.6 0" fill="none" stroke="#bdbdbd" stroke-width="0.7"/>
<path d="M665.5 199.9a1.8 1.8 0 1 0 3.6 0a1.8 1.8 0 1 0 -3.6 0" fill="none" stroke="#dadada" stroke-width="0.7"/>
<path d="M663.6 199.8a1.8 1.8 0 1 0 3.6 0a1.8 1.8 0 1 0 -3.6 0" fill="none" stroke="#cacaca" stroke-width="0.7"/>
<path d="M658.3 199.8a1.8 1.8 0 1 0 3.6 0a1.8 1.8 0 1 0 -3.6 0" fill="none" stroke="#9f9f9f" stroke-width="0.7"/>
<path d="M659.3 199.9a1.8 1.8 0 1 0 3.6 0a1.8 1.8 0 1 0 -3.6 0" fill="none" stroke="#a7a7a7" stroke-width="0.7"/>
<path d="M664.6 199.7a1.8 1.8 0 1 0 3.6 0a1.8 1.8 0 1 0 -3.6 0" fill="none" stroke="#d2d2d2" stroke-width="0.7"/>
<path d="M663.6 199.9a1.8 1.8 0 1 0 3.6 0a1.8 1.8 0 1 0 -3.6 0" fill="none" stroke="#cacaca" stroke-width="0.7"/>
<path d="M666.5 199.8a1.8 1.8 0 1 0 3.6 0a1.8 1.8 0 1 0 -3.6 0" fill="none" stroke="#e2e2e2" stroke-width="0.7"/>
<path d="M661.2 199.8a1.8 1.8 0 1 0 3.6 0a1.8 1.8 0 1 0 -3.6 0" fill="none" stroke="#b6b6b6" stroke-width="0.7"/>
<path d="M661.8 199.9a1.8 1.8 0 1 0 3.6 0a1.8 1.8 0 1 0 -3.6 0" fill="none" stroke="#bbbbbb" stroke-width="0.7"/>
<path d="M666.6 199.9a1.8 1.8 0 1 0 3.6 0a1.8 1.8 0 1 0 -3.6 0" fill="none" stroke="#e2e2e2" stroke-width="0.7"/>
<path d="M668.2 199.7a1.8 1.8 0 1 0 3.6 0a1.8 1.8 0 1 0 -3.6 0" fill="none" stroke="#efefef" stroke-width="0.7"/>
<path d="M667.6 199.8a1.8 1.8 0 1 0 3.6 0a1.8 1.8 0 1 0 -3.6 0" fill="none" stroke="#ebebeb" stroke-width="0.7"/>
<path d="M660.1 199.8a1.8 1.8 0 1 0 3.6 0a1.8 1.8 0 1 0 -3.6 0" fill="none" stroke="#adadad" stroke-width="0.7"/>
<path d="M661.6 199.7a1.8 1.8 0 1 0 3.6 0a1.8 1.8 0 1 0 -3.6 0" fill="none" stroke="#b9b9b9" stroke-width="0.7"/>
<path d="M667.9 199.7a1.8 1.8 0 1 0 3.6 0a1.8 1.8 0 1 0 -3.6 0" fill="none" stroke="#ededed" stroke-width="0.7"/>
<path d="M658.1 199.8a1.8 1.8 0 1 0 3.6 0a1.8 1.8 0 1 0 -3.6 0" fill="none" stroke="#9d9d9d" stroke-width="0.7"/>
<path d="M666.3 199.9a1.8 1.8 0 1 0 3.6 0a1.8 1.8 0 1 0 -3.6 0" fill="none" stroke="#e0e0e0" stroke-width="0.7"/>
<path d="M662.2 199.8a1.8 1.8 0 1 0 3.6 0a1.8 1.8 0 1 0 -3.6 0" fill="none" stroke="#bebebe" stroke-width="0.7"/>
<path d="M245.8 167.8l3 3m0 -3l-3 3M261.6 159.4l3 3m0 -3l-3 3M260.7 159.2l3 3m0 -3l-3 3M247.7 166.8l3 3m0 -3l-3 3M258.6 160l3 3m0 -3l-3 3M263.9 157.3l3 3m0 -3l-3 3M251.1 164.9l3 3m0 -3l-3 3M248.1 166.2l3 3m0 -3l-3 3M260.4 160.1l3 3m0 -3l-3 3M257.5 160.9l3 3m0 -3l-3 3M252 163.5l3 3m0 -3l-3 3M242.6 168.6l3 3m0 -3l-3 3M250.3 165.4l3 3m0 -3l-3 3M259.4 160.5l3 3m0 -3l-3 3M247 166.6l3 3m0 -3l-3 3M254.1 163.1l3 3m0 -3l-3 3M261 158.7l3 3m0 -3l-3 3M250.8 165.1l3 3m0 -3l-3 3M245.5 167.2l3 3m0 -3l-3 3M258.7 160.1l3 3m0 -3l-3 3M258.9 160.3l3 3m0 -3l-3 3M257.1 161.3l3 3m0 -3l-3 3M264.3 157.5l3 3m0 -3l-3 3M251.4 164.6l3 3m0 -3l-3 3M254.7 162.2l3 3m0 -3l-3 3M253.4 163.6l3 3m0 -3l-3 3M263 158l3 3m0 -3l-3 3M250.4 164.7l3 3m0 -3l-3 3M248.3 166.5l3 3m0 -3l-3 3M251.3 164.6l3 3m0 -3l-3 3M262.3 158.8l3 3m0 -3l-3 3M260.3 159.9l3 3m0 -3l-3 3M247 166.6l3 3m0 -3l-3 3M262.1 158.5l3 3m0 -3l-3 3M266.2 156.5l3 3m0 -3l-3 3M250.6 165.2l3 3m0 -3l-3 3M261.4 158.6l3 3m0 -3l-3 3M259.1 160.5l3 3m0 -3l-3 3M257.3 161.2l3 3m0 -3l-3 3M248.1 166.6l3 3m0 -3l-3 3M242.5 169.3l3 3m0 -3l-3 3M263.3 158.5l3 3m0 -3l-3 3M250.5 164.7l3 3m0 -3l-3 3M262.3 158.5l3 3m0 -3l-3 3M263 157.9l3 3m0 -3l-3 3M263.1 157.8l3 3m0 -3l-3 3M260.1 159.5l3 3m0 -3l-3 3M259.9 159.5l3 3m0 -3l-3 3M262.2 158.8l3 3m0 -3l-3 3M265.1 157.1l3 3m0 -3l-3 3" fill="none" stroke="#bcbcbc" stroke-width="0.75" clip-path="url(#p2b)"/>
<path d="M178.7 204.2a1.8 1.8 0 1 0 3.6 0a1.8 1.8 0 1 0 -3.6 0M181.9 202.5a1.8 1.8 0 1 0 3.6 0a1.8 1.8 0 1 0 -3.6 0" fill="none" stroke="#888" stroke-width="0.7"/>
<path d="M224.4 180a1.8 1.8 0 1 0 3.5 0a1.8 1.8 0 1 0 -3.5 0M225.2 179.5a1.8 1.8 0 1 0 3.5 0a1.8 1.8 0 1 0 -3.5 0M237.1 173.4a1.8 1.8 0 1 0 3.5 0a1.8 1.8 0 1 0 -3.5 0M213 186.1a1.8 1.8 0 1 0 3.5 0a1.8 1.8 0 1 0 -3.5 0M217.8 183.4a1.8 1.8 0 1 0 3.5 0a1.8 1.8 0 1 0 -3.5 0M213.1 186.2a1.8 1.8 0 1 0 3.5 0a1.8 1.8 0 1 0 -3.5 0M210.3 187.5a1.8 1.8 0 1 0 3.5 0a1.8 1.8 0 1 0 -3.5 0M202.8 191.6a1.8 1.8 0 1 0 3.5 0a1.8 1.8 0 1 0 -3.5 0M201.1 192.2a1.8 1.8 0 1 0 3.5 0a1.8 1.8 0 1 0 -3.5 0M202.4 191.6a1.8 1.8 0 1 0 3.5 0a1.8 1.8 0 1 0 -3.5 0M212 186.5a1.8 1.8 0 1 0 3.5 0a1.8 1.8 0 1 0 -3.5 0M208.5 188.3a1.8 1.8 0 1 0 3.5 0a1.8 1.8 0 1 0 -3.5 0M214.1 185.3a1.8 1.8 0 1 0 3.5 0a1.8 1.8 0 1 0 -3.5 0M220.7 181.8a1.8 1.8 0 1 0 3.5 0a1.8 1.8 0 1 0 -3.5 0M238.1 172.8a1.8 1.8 0 1 0 3.5 0a1.8 1.8 0 1 0 -3.5 0M216 184.4a1.8 1.8 0 1 0 3.5 0a1.8 1.8 0 1 0 -3.5 0M238.3 172.5a1.8 1.8 0 1 0 3.5 0a1.8 1.8 0 1 0 -3.5 0M201.5 192.3a1.8 1.8 0 1 0 3.5 0a1.8 1.8 0 1 0 -3.5 0M217.4 183.8a1.8 1.8 0 1 0 3.5 0a1.8 1.8 0 1 0 -3.5 0M216 184.5a1.8 1.8 0 1 0 3.5 0a1.8 1.8 0 1 0 -3.5 0M208.8 188.2a1.8 1.8 0 1 0 3.5 0a1.8 1.8 0 1 0 -3.5 0M209.3 188a1.8 1.8 0 1 0 3.5 0a1.8 1.8 0 1 0 -3.5 0M197.1 194.6a1.8 1.8 0 1 0 3.5 0a1.8 1.8 0 1 0 -3.5 0M237.8 172.9a1.8 1.8 0 1 0 3.5 0a1.8 1.8 0 1 0 -3.5 0M188.3 199.1a1.8 1.8 0 1 0 3.5 0a1.8 1.8 0 1 0 -3.5 0M228.2 178.2a1.8 1.8 0 1 0 3.5 0a1.8 1.8 0 1 0 -3.5 0M210.4 187.4a1.8 1.8 0 1 0 3.5 0a1.8 1.8 0 1 0 -3.5 0M203.1 191.4a1.8 1.8 0 1 0 3.5 0a1.8 1.8 0 1 0 -3.5 0M201 192.2a1.8 1.8 0 1 0 3.5 0a1.8 1.8 0 1 0 -3.5 0M235.8 174a1.8 1.8 0 1 0 3.5 0a1.8 1.8 0 1 0 -3.5 0M202.5 191.4a1.8 1.8 0 1 0 3.5 0a1.8 1.8 0 1 0 -3.5 0M215.8 184.5a1.8 1.8 0 1 0 3.5 0a1.8 1.8 0 1 0 -3.5 0M206.9 189.1a1.8 1.8 0 1 0 3.5 0a1.8 1.8 0 1 0 -3.5 0M220.3 182.3a1.8 1.8 0 1 0 3.5 0a1.8 1.8 0 1 0 -3.5 0M214.6 185.3a1.8 1.8 0 1 0 3.5 0a1.8 1.8 0 1 0 -3.5 0M213.2 186a1.8 1.8 0 1 0 3.5 0a1.8 1.8 0 1 0 -3.5 0M190 198.2a1.8 1.8 0 1 0 3.5 0a1.8 1.8 0 1 0 -3.5 0M185.7 200.4a1.8 1.8 0 1 0 3.5 0a1.8 1.8 0 1 0 -3.5 0M219.7 182.5a1.8 1.8 0 1 0 3.5 0a1.8 1.8 0 1 0 -3.5 0M184.4 201.4a1.8 1.8 0 1 0 3.5 0a1.8 1.8 0 1 0 -3.5 0M212.5 186.4a1.8 1.8 0 1 0 3.5 0a1.8 1.8 0 1 0 -3.5 0M199.5 193a1.8 1.8 0 1 0 3.5 0a1.8 1.8 0 1 0 -3.5 0M224.7 180.1a1.8 1.8 0 1 0 3.5 0a1.8 1.8 0 1 0 -3.5 0M202 192.1a1.8 1.8 0 1 0 3.5 0a1.8 1.8 0 1 0 -3.5 0M186.9 199.9a1.8 1.8 0 1 0 3.5 0a1.8 1.8 0 1 0 -3.5 0M192.9 196.5a1.8 1.8 0 1 0 3.5 0a1.8 1.8 0 1 0 -3.5 0M202.3 191.8a1.8 1.8 0 1 0 3.5 0a1.8 1.8 0 1 0 -3.5 0M219.4 182.7a1.8 1.8 0 1 0 3.5 0a1.8 1.8 0 1 0 -3.5 0M222.7 180.7a1.8 1.8 0 1 0 3.5 0a1.8 1.8 0 1 0 -3.5 0M229.6 177.2a1.8 1.8 0 1 0 3.5 0a1.8 1.8 0 1 0 -3.5 0M236.3 173.5a1.8 1.8 0 1 0 3.5 0a1.8 1.8 0 1 0 -3.5 0M214.6 185a1.8 1.8 0 1 0 3.5 0a1.8 1.8 0 1 0 -3.5 0M186.8 200a1.8 1.8 0 1 0 3.5 0a1.8 1.8 0 1 0 -3.5 0M220.5 182.2a1.8 1.8 0 1 0 3.5 0a1.8 1.8 0 1 0 -3.5 0M203.6 191a1.8 1.8 0 1 0 3.5 0a1.8 1.8 0 1 0 -3.5 0M217.3 183.6a1.8 1.8 0 1 0 3.5 0a1.8 1.8 0 1 0 -3.5 0M193.8 196.1a1.8 1.8 0 1 0 3.5 0a1.8 1.8 0 1 0 -3.5 0M205.9 189.7a1.8 1.8 0 1 0 3.5 0a1.8 1.8 0 1 0 -3.5 0M197.5 194.3a1.8 1.8 0 1 0 3.5 0a1.8 1.8 0 1 0 -3.5 0M221.2 181.6a1.8 1.8 0 1 0 3.5 0a1.8 1.8 0 1 0 -3.5 0M235.9 174.1a1.8 1.8 0 1 0 3.5 0a1.8 1.8 0 1 0 -3.5 0M204.3 190.5a1.8 1.8 0 1 0 3.5 0a1.8 1.8 0 1 0 -3.5 0M211.7 186.6a1.8 1.8 0 1 0 3.5 0a1.8 1.8 0 1 0 -3.5 0M218.9 183a1.8 1.8 0 1 0 3.5 0a1.8 1.8 0 1 0 -3.5 0M225.9 179.2a1.8 1.8 0 1 0 3.5 0a1.8 1.8 0 1 0 -3.5 0M203.8 190.8a1.8 1.8 0 1 0 3.5 0a1.8 1.8 0 1 0 -3.5 0M198.9 193.5a1.8 1.8 0 1 0 3.5 0a1.8 1.8 0 1 0 -3.5 0M219.9 182.3a1.8 1.8 0 1 0 3.5 0a1.8 1.8 0 1 0 -3.5 0M201.2 192.4a1.8 1.8 0 1 0 3.5 0a1.8 1.8 0 1 0 -3.5 0M211.3 186.8a1.8 1.8 0 1 0 3.5 0a1.8 1.8 0 1 0 -3.5 0M218.5 183.2a1.8 1.8 0 1 0 3.5 0a1.8 1.8 0 1 0 -3.5 0M214.5 185.3a1.8 1.8 0 1 0 3.5 0a1.8 1.8 0 1 0 -3.5 0M237.3 173.1a1.8 1.8 0 1 0 3.5 0a1.8 1.8 0 1 0 -3.5 0M203.2 191a1.8 1.8 0 1 0 3.5 0a1.8 1.8 0 1 0 -3.5 0M195.9 195.1a1.8 1.8 0 1 0 3.5 0a1.8 1.8 0 1 0 -3.5 0M206.4 189.4a1.8 1.8 0 1 0 3.5 0a1.8 1.8 0 1 0 -3.5 0M233.2 175.3a1.8 1.8 0 1 0 3.5 0a1.8 1.8 0 1 0 -3.5 0M230.9 176.7a1.8 1.8 0 1 0 3.5 0a1.8 1.8 0 1 0 -3.5 0M187.5 199.4a1.8 1.8 0 1 0 3.5 0a1.8 1.8 0 1 0 -3.5 0M193.7 196.5a1.8 1.8 0 1 0 3.5 0a1.8 1.8 0 1 0 -3.5 0M197.1 194.3a1.8 1.8 0 1 0 3.5 0a1.8 1.8 0 1 0 -3.5 0M226.7 178.6a1.8 1.8 0 1 0 3.5 0a1.8 1.8 0 1 0 -3.5 0M222 181.1a1.8 1.8 0 1 0 3.5 0a1.8 1.8 0 1 0 -3.5 0M193.3 196.6a1.8 1.8 0 1 0 3.5 0a1.8 1.8 0 1 0 -3.5 0M227.3 178.6a1.8 1.8 0 1 0 3.5 0a1.8 1.8 0 1 0 -3.5 0M231.4 176.2a1.8 1.8 0 1 0 3.5 0a1.8 1.8 0 1 0 -3.5 0M228.7 177.7a1.8 1.8 0 1 0 3.5 0a1.8 1.8 0 1 0 -3.5 0M203.2 191.2a1.8 1.8 0 1 0 3.5 0a1.8 1.8 0 1 0 -3.5 0M228.9 177.7a1.8 1.8 0 1 0 3.5 0a1.8 1.8 0 1 0 -3.5 0M198.4 193.7a1.8 1.8 0 1 0 3.5 0a1.8 1.8 0 1 0 -3.5 0M235 174.4a1.8 1.8 0 1 0 3.5 0a1.8 1.8 0 1 0 -3.5 0M191.9 197.3a1.8 1.8 0 1 0 3.5 0a1.8 1.8 0 1 0 -3.5 0M205.7 189.8a1.8 1.8 0 1 0 3.5 0a1.8 1.8 0 1 0 -3.5 0M200.8 192.3a1.8 1.8 0 1 0 3.5 0a1.8 1.8 0 1 0 -3.5 0M229 177.6a1.8 1.8 0 1 0 3.5 0a1.8 1.8 0 1 0 -3.5 0M225.9 179.3a1.8 1.8 0 1 0 3.5 0a1.8 1.8 0 1 0 -3.5 0M213.2 185.7a1.8 1.8 0 1 0 3.5 0a1.8 1.8 0 1 0 -3.5 0M213.5 185.7a1.8 1.8 0 1 0 3.5 0a1.8 1.8 0 1 0 -3.5 0M200.2 193a1.8 1.8 0 1 0 3.5 0a1.8 1.8 0 1 0 -3.5 0M216.2 184.4a1.8 1.8 0 1 0 3.5 0a1.8 1.8 0 1 0 -3.5 0M186.8 200a1.8 1.8 0 1 0 3.5 0a1.8 1.8 0 1 0 -3.5 0M223.6 180.6a1.8 1.8 0 1 0 3.5 0a1.8 1.8 0 1 0 -3.5 0M236.3 173.6a1.8 1.8 0 1 0 3.5 0a1.8 1.8 0 1 0 -3.5 0M209.1 188.1a1.8 1.8 0 1 0 3.5 0a1.8 1.8 0 1 0 -3.5 0M209.5 187.7a1.8 1.8 0 1 0 3.5 0a1.8 1.8 0 1 0 -3.5 0M216.1 184.5a1.8 1.8 0 1 0 3.5 0a1.8 1.8 0 1 0 -3.5 0M204.9 190.4a1.8 1.8 0 1 0 3.5 0a1.8 1.8 0 1 0 -3.5 0M234.8 174.6a1.8 1.8 0 1 0 3.5 0a1.8 1.8 0 1 0 -3.5 0M195.9 195.2a1.8 1.8 0 1 0 3.5 0a1.8 1.8 0 1 0 -3.5 0M210.8 187.1a1.8 1.8 0 1 0 3.5 0a1.8 1.8 0 1 0 -3.5 0M221.9 181.4a1.8 1.8 0 1 0 3.5 0a1.8 1.8 0 1 0 -3.5 0M224.9 179.6a1.8 1.8 0 1 0 3.5 0a1.8 1.8 0 1 0 -3.5 0M201 192.4a1.8 1.8 0 1 0 3.5 0a1.8 1.8 0 1 0 -3.5 0M190.9 197.8a1.8 1.8 0 1 0 3.5 0a1.8 1.8 0 1 0 -3.5 0M221.8 181.5a1.8 1.8 0 1 0 3.5 0a1.8 1.8 0 1 0 -3.5 0M191.1 197.6a1.8 1.8 0 1 0 3.5 0a1.8 1.8 0 1 0 -3.5 0M229.2 177.6a1.8 1.8 0 1 0 3.5 0a1.8 1.8 0 1 0 -3.5 0M185.3 200.7a1.8 1.8 0 1 0 3.5 0a1.8 1.8 0 1 0 -3.5 0M232.2 175.9a1.8 1.8 0 1 0 3.5 0a1.8 1.8 0 1 0 -3.5 0M228.7 177.6a1.8 1.8 0 1 0 3.5 0a1.8 1.8 0 1 0 -3.5 0M211.8 186.7a1.8 1.8 0 1 0 3.5 0a1.8 1.8 0 1 0 -3.5 0M232.8 175.4a1.8 1.8 0 1 0 3.5 0a1.8 1.8 0 1 0 -3.5 0M226.7 178.8a1.8 1.8 0 1 0 3.5 0a1.8 1.8 0 1 0 -3.5 0M220.9 182a1.8 1.8 0 1 0 3.5 0a1.8 1.8 0 1 0 -3.5 0M198.4 193.7a1.8 1.8 0 1 0 3.5 0a1.8 1.8 0 1 0 -3.5 0M189.1 198.7a1.8 1.8 0 1 0 3.5 0a1.8 1.8 0 1 0 -3.5 0M190.6 198a1.8 1.8 0 1 0 3.5 0a1.8 1.8 0 1 0 -3.5 0M189.5 198.5a1.8 1.8 0 1 0 3.5 0a1.8 1.8 0 1 0 -3.5 0M221 182a1.8 1.8 0 1 0 3.5 0a1.8 1.8 0 1 0 -3.5 0M222.5 181.2a1.8 1.8 0 1 0 3.5 0a1.8 1.8 0 1 0 -3.5 0M235.8 174a1.8 1.8 0 1 0 3.5 0a1.8 1.8 0 1 0 -3.5 0M205.1 190.2a1.8 1.8 0 1 0 3.5 0a1.8 1.8 0 1 0 -3.5 0M204.1 190.6a1.8 1.8 0 1 0 3.5 0a1.8 1.8 0 1 0 -3.5 0M231.2 176.5a1.8 1.8 0 1 0 3.5 0a1.8 1.8 0 1 0 -3.5 0M227.4 178.3a1.8 1.8 0 1 0 3.5 0a1.8 1.8 0 1 0 -3.5 0M237.6 173.1a1.8 1.8 0 1 0 3.5 0a1.8 1.8 0 1 0 -3.5 0M184.8 201.1a1.8 1.8 0 1 0 3.5 0a1.8 1.8 0 1 0 -3.5 0M236.3 173.9a1.8 1.8 0 1 0 3.5 0a1.8 1.8 0 1 0 -3.5 0M206.8 189.2a1.8 1.8 0 1 0 3.5 0a1.8 1.8 0 1 0 -3.5 0M227.7 178.2a1.8 1.8 0 1 0 3.5 0a1.8 1.8 0 1 0 -3.5 0M195.6 195.2a1.8 1.8 0 1 0 3.5 0a1.8 1.8 0 1 0 -3.5 0M213.8 185.6a1.8 1.8 0 1 0 3.5 0a1.8 1.8 0 1 0 -3.5 0M225.3 179.5a1.8 1.8 0 1 0 3.5 0a1.8 1.8 0 1 0 -3.5 0M223.5 180.6a1.8 1.8 0 1 0 3.5 0a1.8 1.8 0 1 0 -3.5 0M222.1 181.2a1.8 1.8 0 1 0 3.5 0a1.8 1.8 0 1 0 -3.5 0M189.1 198.7a1.8 1.8 0 1 0 3.5 0a1.8 1.8 0 1 0 -3.5 0M234.1 174.7a1.8 1.8 0 1 0 3.5 0a1.8 1.8 0 1 0 -3.5 0M187.2 199.7a1.8 1.8 0 1 0 3.5 0a1.8 1.8 0 1 0 -3.5 0M228.9 177.7a1.8 1.8 0 1 0 3.5 0a1.8 1.8 0 1 0 -3.5 0M215.1 184.8a1.8 1.8 0 1 0 3.5 0a1.8 1.8 0 1 0 -3.5 0" fill="none" stroke="#222" stroke-width="0.8"/>
<path d="M240.6 171.4a1.8 1.8 0 1 0 3.6 0a1.8 1.8 0 1 0 -3.6 0" fill="none" stroke="#333" stroke-width="0.8"/>
<path d="M249.4 166.7a1.8 1.8 0 1 0 3.6 0a1.8 1.8 0 1 0 -3.6 0M252 165.4a1.8 1.8 0 1 0 3.6 0a1.8 1.8 0 1 0 -3.6 0" fill="none" stroke="#777" stroke-width="0.8"/>
<path d="M258.3 162a1.8 1.8 0 1 0 3.6 0a1.8 1.8 0 1 0 -3.6 0" fill="none" stroke="#b4b4b4" stroke-width="0.7"/>
<path d="M257.4 162.5a1.8 1.8 0 1 0 3.6 0a1.8 1.8 0 1 0 -3.6 0" fill="none" stroke="#adadad" stroke-width="0.7"/>
<path d="M260.8 160.7a1.8 1.8 0 1 0 3.6 0a1.8 1.8 0 1 0 -3.6 0" fill="none" stroke="#c7c7c7" stroke-width="0.7"/>
<path d="M255.2 163.7a1.8 1.8 0 1 0 3.6 0a1.8 1.8 0 1 0 -3.6 0" fill="none" stroke="#9d9d9d" stroke-width="0.7"/>
<path d="M266 157.9a1.8 1.8 0 1 0 3.6 0a1.8 1.8 0 1 0 -3.6 0" fill="none" stroke="#eeeeee" stroke-width="0.7"/>
<path d="M258.9 161.7a1.8 1.8 0 1 0 3.6 0a1.8 1.8 0 1 0 -3.6 0" fill="none" stroke="#b9b9b9" stroke-width="0.7"/>
<path d="M265.3 158.3a1.8 1.8 0 1 0 3.6 0a1.8 1.8 0 1 0 -3.6 0" fill="none" stroke="#e9e9e9" stroke-width="0.7"/>
<path d="M254.6 164a1.8 1.8 0 1 0 3.6 0a1.8 1.8 0 1 0 -3.6 0" fill="none" stroke="#999999" stroke-width="0.7"/>
<path d="M263.2 159.4a1.8 1.8 0 1 0 3.6 0a1.8 1.8 0 1 0 -3.6 0" fill="none" stroke="#d9d9d9" stroke-width="0.7"/>
<path d="M265 158.5a1.8 1.8 0 1 0 3.6 0a1.8 1.8 0 1 0 -3.6 0" fill="none" stroke="#e6e6e6" stroke-width="0.7"/>
<path d="M259.5 161.4a1.8 1.8 0 1 0 3.6 0a1.8 1.8 0 1 0 -3.6 0" fill="none" stroke="#bdbdbd" stroke-width="0.7"/>
<path d="M258.7 161.8a1.8 1.8 0 1 0 3.6 0a1.8 1.8 0 1 0 -3.6 0" fill="none" stroke="#b7b7b7" stroke-width="0.7"/>
<path d="M261.7 160.2a1.8 1.8 0 1 0 3.6 0a1.8 1.8 0 1 0 -3.6 0" fill="none" stroke="#cecece" stroke-width="0.7"/>
<path d="M257.9 162.2a1.8 1.8 0 1 0 3.6 0a1.8 1.8 0 1 0 -3.6 0" fill="none" stroke="#b1b1b1" stroke-width="0.7"/>
<path d="M257.2 162.6a1.8 1.8 0 1 0 3.6 0a1.8 1.8 0 1 0 -3.6 0" fill="none" stroke="#acacac" stroke-width="0.7"/>
<path d="M265.2 158.4a1.8 1.8 0 1 0 3.6 0a1.8 1.8 0 1 0 -3.6 0" fill="none" stroke="#e8e8e8" stroke-width="0.7"/>
<path d="M261.9 160.1a1.8 1.8 0 1 0 3.6 0a1.8 1.8 0 1 0 -3.6 0" fill="none" stroke="#cfcfcf" stroke-width="0.7"/>
<path d="M260.2 161a1.8 1.8 0 1 0 3.6 0a1.8 1.8 0 1 0 -3.6 0" fill="none" stroke="#c2c2c2" stroke-width="0.7"/>
<path d="M259.7 161.3a1.8 1.8 0 1 0 3.6 0a1.8 1.8 0 1 0 -3.6 0" fill="none" stroke="#bfbfbf" stroke-width="0.7"/>
<path d="M263.7 159.1a1.8 1.8 0 1 0 3.6 0a1.8 1.8 0 1 0 -3.6 0" fill="none" stroke="#dddddd" stroke-width="0.7"/>
<path d="M263.1 159.5a1.8 1.8 0 1 0 3.6 0a1.8 1.8 0 1 0 -3.6 0" fill="none" stroke="#d8d8d8" stroke-width="0.7"/>
<path d="M257.6 162.4a1.8 1.8 0 1 0 3.6 0a1.8 1.8 0 1 0 -3.6 0" fill="none" stroke="#afafaf" stroke-width="0.7"/>
<path d="M362.4 182.6l3.6 3.6m0 -3.6l-3.6 3.6M352.2 187.9l3.6 3.6m0 -3.6l-3.6 3.6M363.5 180.9l3.6 3.6m0 -3.6l-3.6 3.6M358.1 192.4l3.6 3.6m0 -3.6l-3.6 3.6M369.9 185.4l3.6 3.6m0 -3.6l-3.6 3.6M362.8 193.7l3.6 3.6m0 -3.6l-3.6 3.6M377.3 177.7l3.6 3.6m0 -3.6l-3.6 3.6M357.3 183l3.6 3.6m0 -3.6l-3.6 3.6M387.1 186.1l3.6 3.6m0 -3.6l-3.6 3.6M356.4 187.6l3.6 3.6m0 -3.6l-3.6 3.6M376.3 177.3l3.6 3.6m0 -3.6l-3.6 3.6M393.9 180.9l3.6 3.6m0 -3.6l-3.6 3.6M379.4 176.3l3.6 3.6m0 -3.6l-3.6 3.6M361.8 188.9l3.6 3.6m0 -3.6l-3.6 3.6M384.7 183l3.6 3.6m0 -3.6l-3.6 3.6M392 175.2l3.6 3.6m0 -3.6l-3.6 3.6M358.1 187.7l3.6 3.6m0 -3.6l-3.6 3.6M372.8 185.8l3.6 3.6m0 -3.6l-3.6 3.6M367.9 185.8l3.6 3.6m0 -3.6l-3.6 3.6M375.3 180.7l3.6 3.6m0 -3.6l-3.6 3.6M365.3 177.5l3.6 3.6m0 -3.6l-3.6 3.6M379 191l3.6 3.6m0 -3.6l-3.6 3.6M358.1 186.3l3.6 3.6m0 -3.6l-3.6 3.6M366.5 177.9l3.6 3.6m0 -3.6l-3.6 3.6M384.9 176.9l3.6 3.6m0 -3.6l-3.6 3.6M360.9 184.7l3.6 3.6m0 -3.6l-3.6 3.6M356.5 186.1l3.6 3.6m0 -3.6l-3.6 3.6M370.8 178.8l3.6 3.6m0 -3.6l-3.6 3.6M381.5 187.3l3.6 3.6m0 -3.6l-3.6 3.6M386.6 187l3.6 3.6m0 -3.6l-3.6 3.6M375.9 174.9l3.6 3.6m0 -3.6l-3.6 3.6M362.2 183l3.6 3.6m0 -3.6l-3.6 3.6M389.1 176.5l3.6 3.6m0 -3.6l-3.6 3.6M375.3 179.1l3.6 3.6m0 -3.6l-3.6 3.6M373.6 182.2l3.6 3.6m0 -3.6l-3.6 3.6M360 183.6l3.6 3.6m0 -3.6l-3.6 3.6M360.7 193.6l3.6 3.6m0 -3.6l-3.6 3.6M370.1 176.8l3.6 3.6m0 -3.6l-3.6 3.6M384.8 177.6l3.6 3.6m0 -3.6l-3.6 3.6M366.1 181.8l3.6 3.6m0 -3.6l-3.6 3.6M365.8 193.1l3.6 3.6m0 -3.6l-3.6 3.6M363.8 179.8l3.6 3.6m0 -3.6l-3.6 3.6M361.3 188.3l3.6 3.6m0 -3.6l-3.6 3.6M370.3 178.8l3.6 3.6m0 -3.6l-3.6 3.6M353.8 190.8l3.6 3.6m0 -3.6l-3.6 3.6M373.8 175.3l3.6 3.6m0 -3.6l-3.6 3.6M367.2 178.4l3.6 3.6m0 -3.6l-3.6 3.6M371.9 183.8l3.6 3.6m0 -3.6l-3.6 3.6M347.2 191.5l3.6 3.6m0 -3.6l-3.6 3.6M375.6 190.3l3.6 3.6m0 -3.6l-3.6 3.6M391.8 179.5l3.6 3.6m0 -3.6l-3.6 3.6M368.7 176.4l3.6 3.6m0 -3.6l-3.6 3.6M382.9 183.6l3.6 3.6m0 -3.6l-3.6 3.6M362.6 178.5l3.6 3.6m0 -3.6l-3.6 3.6M368.6 180.1l3.6 3.6m0 -3.6l-3.6 3.6M371.6 185.9l3.6 3.6m0 -3.6l-3.6 3.6M367.3 186.4l3.6 3.6m0 -3.6l-3.6 3.6M367.7 184.4l3.6 3.6m0 -3.6l-3.6 3.6M371.5 191.5l3.6 3.6m0 -3.6l-3.6 3.6M385.6 180.4l3.6 3.6m0 -3.6l-3.6 3.6M353.4 189.9l3.6 3.6m0 -3.6l-3.6 3.6M386.3 186l3.6 3.6m0 -3.6l-3.6 3.6M374.1 187.3l3.6 3.6m0 -3.6l-3.6 3.6M370.9 193.3l3.6 3.6m0 -3.6l-3.6 3.6M389.5 176.7l3.6 3.6m0 -3.6l-3.6 3.6M381.4 174.7l3.6 3.6m0 -3.6l-3.6 3.6M372.8 176.8l3.6 3.6m0 -3.6l-3.6 3.6M380.5 182.6l3.6 3.6m0 -3.6l-3.6 3.6M388.3 180.8l3.6 3.6m0 -3.6l-3.6 3.6M397.7 176.6l3.6 3.6m0 -3.6l-3.6 3.6M372.3 191.5l3.6 3.6m0 -3.6l-3.6 3.6M359 183.1l3.6 3.6m0 -3.6l-3.6 3.6M358.5 182.1l3.6 3.6m0 -3.6l-3.6 3.6M386.1 185.6l3.6 3.6m0 -3.6l-3.6 3.6M363.8 191.9l3.6 3.6m0 -3.6l-3.6 3.6M368.8 193.3l3.6 3.6m0 -3.6l-3.6 3.6M384 179.7l3.6 3.6m0 -3.6l-3.6 3.6M389.5 178.8l3.6 3.6m0 -3.6l-3.6 3.6M386 181.7l3.6 3.6m0 -3.6l-3.6 3.6M355.3 190.7l3.6 3.6m0 -3.6l-3.6 3.6M376.9 182.1l3.6 3.6m0 -3.6l-3.6 3.6M373.1 192.8l3.6 3.6m0 -3.6l-3.6 3.6M371.2 185.8l3.6 3.6m0 -3.6l-3.6 3.6M385.7 176.3l3.6 3.6m0 -3.6l-3.6 3.6M375.7 179.4l3.6 3.6m0 -3.6l-3.6 3.6M381.8 187l3.6 3.6m0 -3.6l-3.6 3.6M397.6 176.6l3.6 3.6m0 -3.6l-3.6 3.6M358.1 184.1l3.6 3.6m0 -3.6l-3.6 3.6M357 184.9l3.6 3.6m0 -3.6l-3.6 3.6M388.2 183.5l3.6 3.6m0 -3.6l-3.6 3.6M390 176.3l3.6 3.6m0 -3.6l-3.6 3.6M390.2 183.4l3.6 3.6m0 -3.6l-3.6 3.6M377.7 175.2l3.6 3.6m0 -3.6l-3.6 3.6M369.1 182.2l3.6 3.6m0 -3.6l-3.6 3.6M382.8 179l3.6 3.6m0 -3.6l-3.6 3.6M372.9 183.8l3.6 3.6m0 -3.6l-3.6 3.6M348.2 192.9l3.6 3.6m0 -3.6l-3.6 3.6M364 180l3.6 3.6m0 -3.6l-3.6 3.6M363.2 191.4l3.6 3.6m0 -3.6l-3.6 3.6M388.7 181.8l3.6 3.6m0 -3.6l-3.6 3.6M388.6 176.2l3.6 3.6m0 -3.6l-3.6 3.6M383.7 188.4l3.6 3.6m0 -3.6l-3.6 3.6M375.6 186.8l3.6 3.6m0 -3.6l-3.6 3.6M370.3 183l3.6 3.6m0 -3.6l-3.6 3.6M370.9 186.7l3.6 3.6m0 -3.6l-3.6 3.6M390.2 181.1l3.6 3.6m0 -3.6l-3.6 3.6M375.2 182.2l3.6 3.6m0 -3.6l-3.6 3.6M355.1 188.6l3.6 3.6m0 -3.6l-3.6 3.6M385 183.1l3.6 3.6m0 -3.6l-3.6 3.6M361.8 184.2l3.6 3.6m0 -3.6l-3.6 3.6M365 193.6l3.6 3.6m0 -3.6l-3.6 3.6M387.6 182.3l3.6 3.6m0 -3.6l-3.6 3.6M381.6 178.5l3.6 3.6m0 -3.6l-3.6 3.6M360.1 193.5l3.6 3.6m0 -3.6l-3.6 3.6M374.9 188.8l3.6 3.6m0 -3.6l-3.6 3.6M365 182.3l3.6 3.6m0 -3.6l-3.6 3.6M395.1 177.3l3.6 3.6m0 -3.6l-3.6 3.6M367.7 193l3.6 3.6m0 -3.6l-3.6 3.6M392.3 179.6l3.6 3.6m0 -3.6l-3.6 3.6M383.3 176.4l3.6 3.6m0 -3.6l-3.6 3.6M368.7 178.2l3.6 3.6m0 -3.6l-3.6 3.6M367.5 187.9l3.6 3.6m0 -3.6l-3.6 3.6M394.8 180.5l3.6 3.6m0 -3.6l-3.6 3.6M363.6 182.8l3.6 3.6m0 -3.6l-3.6 3.6M359.4 191.5l3.6 3.6m0 -3.6l-3.6 3.6M379.9 180.2l3.6 3.6m0 -3.6l-3.6 3.6M360.6 189.8l3.6 3.6m0 -3.6l-3.6 3.6M354.3 193.5l3.6 3.6m0 -3.6l-3.6 3.6M372.7 176.8l3.6 3.6m0 -3.6l-3.6 3.6M374.6 178.9l3.6 3.6m0 -3.6l-3.6 3.6M379.9 187.1l3.6 3.6m0 -3.6l-3.6 3.6M389.7 184.4l3.6 3.6m0 -3.6l-3.6 3.6M378.1 185.4l3.6 3.6m0 -3.6l-3.6 3.6M368.2 184.4l3.6 3.6m0 -3.6l-3.6 3.6M357 182.8l3.6 3.6m0 -3.6l-3.6 3.6M377.1 189.6l3.6 3.6m0 -3.6l-3.6 3.6M382.9 176.3l3.6 3.6m0 -3.6l-3.6 3.6M357.1 184.1l3.6 3.6m0 -3.6l-3.6 3.6M386.4 179.9l3.6 3.6m0 -3.6l-3.6 3.6M384.6 178.9l3.6 3.6m0 -3.6l-3.6 3.6M362 191.6l3.6 3.6m0 -3.6l-3.6 3.6M356.4 191.4l3.6 3.6m0 -3.6l-3.6 3.6M370.6 185.3l3.6 3.6m0 -3.6l-3.6 3.6M371.4 183.9l3.6 3.6m0 -3.6l-3.6 3.6M392.8 180.2l3.6 3.6m0 -3.6l-3.6 3.6M385 177.4l3.6 3.6m0 -3.6l-3.6 3.6M376.6 189.5l3.6 3.6m0 -3.6l-3.6 3.6M389.2 175.3l3.6 3.6m0 -3.6l-3.6 3.6M384.9 177.4l3.6 3.6m0 -3.6l-3.6 3.6M390.6 177.6l3.6 3.6m0 -3.6l-3.6 3.6M357.7 193l3.6 3.6m0 -3.6l-3.6 3.6M368.5 178.9l3.6 3.6m0 -3.6l-3.6 3.6M361.3 185.1l3.6 3.6m0 -3.6l-3.6 3.6M381 186.5l3.6 3.6m0 -3.6l-3.6 3.6M361 182.8l3.6 3.6m0 -3.6l-3.6 3.6M361 178.1l3.6 3.6m0 -3.6l-3.6 3.6M357.8 184.3l3.6 3.6m0 -3.6l-3.6 3.6M392.1 178.6l3.6 3.6m0 -3.6l-3.6 3.6M356.3 187.1l3.6 3.6m0 -3.6l-3.6 3.6M365 177.6l3.6 3.6m0 -3.6l-3.6 3.6M360.5 187.5l3.6 3.6m0 -3.6l-3.6 3.6M397.4 177.3l3.6 3.6m0 -3.6l-3.6 3.6M376.2 183.2l3.6 3.6m0 -3.6l-3.6 3.6M384.1 186.3l3.6 3.6m0 -3.6l-3.6 3.6M384.3 176.4l3.6 3.6m0 -3.6l-3.6 3.6M366 193.2l3.6 3.6m0 -3.6l-3.6 3.6M379.1 184.7l3.6 3.6m0 -3.6l-3.6 3.6M365.9 183.1l3.6 3.6m0 -3.6l-3.6 3.6M364.1 191.6l3.6 3.6m0 -3.6l-3.6 3.6M359.3 191.3l3.6 3.6m0 -3.6l-3.6 3.6M373.1 181.4l3.6 3.6m0 -3.6l-3.6 3.6M367.9 177.1l3.6 3.6m0 -3.6l-3.6 3.6M362.9 187.5l3.6 3.6m0 -3.6l-3.6 3.6M379.8 183.3l3.6 3.6m0 -3.6l-3.6 3.6M373.7 183.6l3.6 3.6m0 -3.6l-3.6 3.6M367.5 186l3.6 3.6m0 -3.6l-3.6 3.6M366.8 180.3l3.6 3.6m0 -3.6l-3.6 3.6M367.8 190.2l3.6 3.6m0 -3.6l-3.6 3.6M358.3 193.2l3.6 3.6m0 -3.6l-3.6 3.6M358.5 189.3l3.6 3.6m0 -3.6l-3.6 3.6M372.3 176.1l3.6 3.6m0 -3.6l-3.6 3.6M361 182.6l3.6 3.6m0 -3.6l-3.6 3.6M374.8 187.9l3.6 3.6m0 -3.6l-3.6 3.6M378.5 190.9l3.6 3.6m0 -3.6l-3.6 3.6M365.5 187.5l3.6 3.6m0 -3.6l-3.6 3.6M360.1 182.5l3.6 3.6m0 -3.6l-3.6 3.6M361.6 186.5l3.6 3.6m0 -3.6l-3.6 3.6M377.7 190.5l3.6 3.6m0 -3.6l-3.6 3.6M387.2 183l3.6 3.6m0 -3.6l-3.6 3.6M378.6 174.7l3.6 3.6m0 -3.6l-3.6 3.6M387.4 176.4l3.6 3.6m0 -3.6l-3.6 3.6M367.7 180.3l3.6 3.6m0 -3.6l-3.6 3.6M375.4 183.2l3.6 3.6m0 -3.6l-3.6 3.6M362.7 177.3l3.6 3.6m0 -3.6l-3.6 3.6M382.9 174.8l3.6 3.6m0 -3.6l-3.6 3.6M379.8 187.1l3.6 3.6m0 -3.6l-3.6 3.6M364 193.7l3.6 3.6m0 -3.6l-3.6 3.6M380.1 175.2l3.6 3.6m0 -3.6l-3.6 3.6M387.9 179.5l3.6 3.6m0 -3.6l-3.6 3.6M373.7 175.3l3.6 3.6m0 -3.6l-3.6 3.6M369.4 191.1l3.6 3.6m0 -3.6l-3.6 3.6M364.7 181.4l3.6 3.6m0 -3.6l-3.6 3.6M363.5 180.8l3.6 3.6m0 -3.6l-3.6 3.6M371.8 186.7l3.6 3.6m0 -3.6l-3.6 3.6M363.1 192.7l3.6 3.6m0 -3.6l-3.6 3.6M386.5 185.6l3.6 3.6m0 -3.6l-3.6 3.6M366.1 191.7l3.6 3.6m0 -3.6l-3.6 3.6M368.9 182.8l3.6 3.6m0 -3.6l-3.6 3.6M375.7 175.4l3.6 3.6m0 -3.6l-3.6 3.6M372 175.9l3.6 3.6m0 -3.6l-3.6 3.6M380.8 185.3l3.6 3.6m0 -3.6l-3.6 3.6M367.3 182.6l3.6 3.6m0 -3.6l-3.6 3.6M357.9 182.6l3.6 3.6m0 -3.6l-3.6 3.6M364.6 186.3l3.6 3.6m0 -3.6l-3.6 3.6M388.8 185.7l3.6 3.6m0 -3.6l-3.6 3.6M385.8 187.1l3.6 3.6m0 -3.6l-3.6 3.6M353 188.3l3.6 3.6m0 -3.6l-3.6 3.6M365.1 183.1l3.6 3.6m0 -3.6l-3.6 3.6M365.5 180.7l3.6 3.6m0 -3.6l-3.6 3.6M356 188.5l3.6 3.6m0 -3.6l-3.6 3.6M395.5 176.7l3.6 3.6m0 -3.6l-3.6 3.6M374.6 189.9l3.6 3.6m0 -3.6l-3.6 3.6M350.2 190.4l3.6 3.6m0 -3.6l-3.6 3.6M379.6 181.4l3.6 3.6m0 -3.6l-3.6 3.6M375.6 184.5l3.6 3.6m0 -3.6l-3.6 3.6M359.8 185.2l3.6 3.6m0 -3.6l-3.6 3.6M396 177.6l3.6 3.6m0 -3.6l-3.6 3.6M368.9 186.4l3.6 3.6m0 -3.6l-3.6 3.6M363.3 189.6l3.6 3.6m0 -3.6l-3.6 3.6M364.9 190.2l3.6 3.6m0 -3.6l-3.6 3.6M372.6 186l3.6 3.6m0 -3.6l-3.6 3.6M392.7 177.8l3.6 3.6m0 -3.6l-3.6 3.6M372.1 181.3l3.6 3.6m0 -3.6l-3.6 3.6M349.4 190.2l3.6 3.6m0 -3.6l-3.6 3.6M353.3 190.2l3.6 3.6m0 -3.6l-3.6 3.6M382.8 180.9l3.6 3.6m0 -3.6l-3.6 3.6M371.6 181.5l3.6 3.6m0 -3.6l-3.6 3.6M361.1 193.8l3.6 3.6m0 -3.6l-3.6 3.6M362.8 188.6l3.6 3.6m0 -3.6l-3.6 3.6M378.4 183.7l3.6 3.6m0 -3.6l-3.6 3.6M378.5 188.5l3.6 3.6m0 -3.6l-3.6 3.6M376.1 190.3l3.6 3.6m0 -3.6l-3.6 3.6M361.8 178.9l3.6 3.6m0 -3.6l-3.6 3.6M370.1 190.4l3.6 3.6m0 -3.6l-3.6 3.6M370.3 192.5l3.6 3.6m0 -3.6l-3.6 3.6M354.9 185.9l3.6 3.6m0 -3.6l-3.6 3.6M361 185.3l3.6 3.6m0 -3.6l-3.6 3.6M385.9 180.9l3.6 3.6m0 -3.6l-3.6 3.6M362 178.7l3.6 3.6m0 -3.6l-3.6 3.6M370.8 190.3l3.6 3.6m0 -3.6l-3.6 3.6M375.4 186.2l3.6 3.6m0 -3.6l-3.6 3.6M357.8 185.1l3.6 3.6m0 -3.6l-3.6 3.6M385.1 181l3.6 3.6m0 -3.6l-3.6 3.6M378 181.2l3.6 3.6m0 -3.6l-3.6 3.6M355.4 193.3l3.6 3.6m0 -3.6l-3.6 3.6M385.8 186l3.6 3.6m0 -3.6l-3.6 3.6M368.2 176.1l3.6 3.6m0 -3.6l-3.6 3.6M370.8 183.8l3.6 3.6m0 -3.6l-3.6 3.6M356.8 185l3.6 3.6m0 -3.6l-3.6 3.6M388.9 180.4l3.6 3.6m0 -3.6l-3.6 3.6M358.3 184l3.6 3.6m0 -3.6l-3.6 3.6M394.7 178.5l3.6 3.6m0 -3.6l-3.6 3.6M350.1 191.6l3.6 3.6m0 -3.6l-3.6 3.6M371.2 177.6l3.6 3.6m0 -3.6l-3.6 3.6M367 193.7l3.6 3.6m0 -3.6l-3.6 3.6M363.2 192.5l3.6 3.6m0 -3.6l-3.6 3.6M361.3 188.5l3.6 3.6m0 -3.6l-3.6 3.6M377.8 180.1l3.6 3.6m0 -3.6l-3.6 3.6M350.9 190.2l3.6 3.6m0 -3.6l-3.6 3.6M380.4 176.8l3.6 3.6m0 -3.6l-3.6 3.6M376.6 179.6l3.6 3.6m0 -3.6l-3.6 3.6M357.4 188.4l3.6 3.6m0 -3.6l-3.6 3.6M391.2 179.7l3.6 3.6m0 -3.6l-3.6 3.6M366.2 176.5l3.6 3.6m0 -3.6l-3.6 3.6M372.5 191.9l3.6 3.6m0 -3.6l-3.6 3.6M361.6 192.3l3.6 3.6m0 -3.6l-3.6 3.6M360 183.8l3.6 3.6m0 -3.6l-3.6 3.6M366.5 189.8l3.6 3.6m0 -3.6l-3.6 3.6M360.1 191.9l3.6 3.6m0 -3.6l-3.6 3.6M385.9 186.3l3.6 3.6m0 -3.6l-3.6 3.6M363.6 189l3.6 3.6m0 -3.6l-3.6 3.6M349.8 189.4l3.6 3.6m0 -3.6l-3.6 3.6M368 189.8l3.6 3.6m0 -3.6l-3.6 3.6M376.8 181.5l3.6 3.6m0 -3.6l-3.6 3.6M362.7 184.5l3.6 3.6m0 -3.6l-3.6 3.6M379.4 178.2l3.6 3.6m0 -3.6l-3.6 3.6M362.9 177.8l3.6 3.6m0 -3.6l-3.6 3.6M360.6 182.3l3.6 3.6m0 -3.6l-3.6 3.6M379.5 182.6l3.6 3.6m0 -3.6l-3.6 3.6M355 187.6l3.6 3.6m0 -3.6l-3.6 3.6M391.6 181.4l3.6 3.6m0 -3.6l-3.6 3.6M389.1 183.1l3.6 3.6m0 -3.6l-3.6 3.6M357.4 191.2l3.6 3.6m0 -3.6l-3.6 3.6M370.7 179.6l3.6 3.6m0 -3.6l-3.6 3.6M347.6 190.5l3.6 3.6m0 -3.6l-3.6 3.6M390.6 177.1l3.6 3.6m0 -3.6l-3.6 3.6M348.7 191.9l3.6 3.6m0 -3.6l-3.6 3.6M359.8 185.2l3.6 3.6m0 -3.6l-3.6 3.6M394.6 178.2l3.6 3.6m0 -3.6l-3.6 3.6M371.9 175.4l3.6 3.6m0 -3.6l-3.6 3.6M368.9 190.5l3.6 3.6m0 -3.6l-3.6 3.6M354 190.7l3.6 3.6m0 -3.6l-3.6 3.6M371.8 188.3l3.6 3.6m0 -3.6l-3.6 3.6M369.9 186.1l3.6 3.6m0 -3.6l-3.6 3.6M361 178.3l3.6 3.6m0 -3.6l-3.6 3.6M362.9 180.3l3.6 3.6m0 -3.6l-3.6 3.6M363.7 184.8l3.6 3.6m0 -3.6l-3.6 3.6M364.4 182.1l3.6 3.6m0 -3.6l-3.6 3.6M392.2 180.4l3.6 3.6m0 -3.6l-3.6 3.6M366 181.3l3.6 3.6m0 -3.6l-3.6 3.6M373.9 187.5l3.6 3.6m0 -3.6l-3.6 3.6M369.8 187.6l3.6 3.6m0 -3.6l-3.6 3.6M366 189.3l3.6 3.6m0 -3.6l-3.6 3.6M389.8 179.3l3.6 3.6m0 -3.6l-3.6 3.6M373.6 176.3l3.6 3.6m0 -3.6l-3.6 3.6M362.9 186l3.6 3.6m0 -3.6l-3.6 3.6M389.3 178.2l3.6 3.6m0 -3.6l-3.6 3.6M389 175.6l3.6 3.6m0 -3.6l-3.6 3.6M373.1 177.2l3.6 3.6m0 -3.6l-3.6 3.6M392.8 182.2l3.6 3.6m0 -3.6l-3.6 3.6M357.5 190.1l3.6 3.6m0 -3.6l-3.6 3.6M363.8 191.9l3.6 3.6m0 -3.6l-3.6 3.6M360.6 191.7l3.6 3.6m0 -3.6l-3.6 3.6M364.6 186.3l3.6 3.6m0 -3.6l-3.6 3.6M362.6 186.9l3.6 3.6m0 -3.6l-3.6 3.6M364.6 186.3l3.6 3.6m0 -3.6l-3.6 3.6M387.9 184.3l3.6 3.6m0 -3.6l-3.6 3.6M395.7 177.4l3.6 3.6m0 -3.6l-3.6 3.6M384.3 182.3l3.6 3.6m0 -3.6l-3.6 3.6M365.7 184.2l3.6 3.6m0 -3.6l-3.6 3.6M371.7 190.4l3.6 3.6m0 -3.6l-3.6 3.6M387.4 182.4l3.6 3.6m0 -3.6l-3.6 3.6M386.2 186.4l3.6 3.6m0 -3.6l-3.6 3.6M348 191.2l3.6 3.6m0 -3.6l-3.6 3.6M372.5 192.8l3.6 3.6m0 -3.6l-3.6 3.6M356.7 183.8l3.6 3.6m0 -3.6l-3.6 3.6M377.5 178.7l3.6 3.6m0 -3.6l-3.6 3.6M381.6 185l3.6 3.6m0 -3.6l-3.6 3.6M369.6 186l3.6 3.6m0 -3.6l-3.6 3.6M357.6 193.5l3.6 3.6m0 -3.6l-3.6 3.6M366.3 184.5l3.6 3.6m0 -3.6l-3.6 3.6M373.3 176.3l3.6 3.6m0 -3.6l-3.6 3.6M359.6 187.7l3.6 3.6m0 -3.6l-3.6 3.6M363.6 184.6l3.6 3.6m0 -3.6l-3.6 3.6M367.5 179.6l3.6 3.6m0 -3.6l-3.6 3.6M349.5 192.2l3.6 3.6m0 -3.6l-3.6 3.6M379.8 184.4l3.6 3.6m0 -3.6l-3.6 3.6M363 188.1l3.6 3.6m0 -3.6l-3.6 3.6M364 191.4l3.6 3.6m0 -3.6l-3.6 3.6M390.2 179l3.6 3.6m0 -3.6l-3.6 3.6M373.1 181.6l3.6 3.6m0 -3.6l-3.6 3.6M384.3 184.2l3.6 3.6m0 -3.6l-3.6 3.6M382.9 183l3.6 3.6m0 -3.6l-3.6 3.6M373.5 187.5l3.6 3.6m0 -3.6l-3.6 3.6M393.7 175.5l3.6 3.6m0 -3.6l-3.6 3.6M370.1 179.2l3.6 3.6m0 -3.6l-3.6 3.6M374.5 180.4l3.6 3.6m0 -3.6l-3.6 3.6M393.3 176.3l3.6 3.6m0 -3.6l-3.6 3.6M367.3 190.7l3.6 3.6m0 -3.6l-3.6 3.6M378.3 178.8l3.6 3.6m0 -3.6l-3.6 3.6M373.2 176.8l3.6 3.6m0 -3.6l-3.6 3.6M355.6 192.3l3.6 3.6m0 -3.6l-3.6 3.6M372.7 191.9l3.6 3.6m0 -3.6l-3.6 3.6M370.1 180.5l3.6 3.6m0 -3.6l-3.6 3.6M371.6 181.6l3.6 3.6m0 -3.6l-3.6 3.6M372.6 182.2l3.6 3.6m0 -3.6l-3.6 3.6M352.5 186.7l3.6 3.6m0 -3.6l-3.6 3.6M363.8 184.4l3.6 3.6m0 -3.6l-3.6 3.6M362 182l3.6 3.6m0 -3.6l-3.6 3.6M386.6 182.6l3.6 3.6m0 -3.6l-3.6 3.6M391.6 176.6l3.6 3.6m0 -3.6l-3.6 3.6M362.5 177.8l3.6 3.6m0 -3.6l-3.6 3.6M387.2 177.6l3.6 3.6m0 -3.6l-3.6 3.6M375.5 184.6l3.6 3.6m0 -3.6l-3.6 3.6M384.4 185l3.6 3.6m0 -3.6l-3.6 3.6M361.2 193.6l3.6 3.6m0 -3.6l-3.6 3.6M371.3 177.6l3.6 3.6m0 -3.6l-3.6 3.6M374.5 184.7l3.6 3.6m0 -3.6l-3.6 3.6M372 188.9l3.6 3.6m0 -3.6l-3.6 3.6M364.9 187.4l3.6 3.6m0 -3.6l-3.6 3.6M359.7 189.1l3.6 3.6m0 -3.6l-3.6 3.6M387.5 185.1l3.6 3.6m0 -3.6l-3.6 3.6M365.8 189.9l3.6 3.6m0 -3.6l-3.6 3.6M386.3 183l3.6 3.6m0 -3.6l-3.6 3.6M369.3 186.6l3.6 3.6m0 -3.6l-3.6 3.6M390.2 176.8l3.6 3.6m0 -3.6l-3.6 3.6M377.9 182l3.6 3.6m0 -3.6l-3.6 3.6M367.9 193.4l3.6 3.6m0 -3.6l-3.6 3.6M360 192.8l3.6 3.6m0 -3.6l-3.6 3.6M378.3 185.6l3.6 3.6m0 -3.6l-3.6 3.6M350.7 190.5l3.6 3.6m0 -3.6l-3.6 3.6M397 178.9l3.6 3.6m0 -3.6l-3.6 3.6M390 179l3.6 3.6m0 -3.6l-3.6 3.6M355 192.1l3.6 3.6m0 -3.6l-3.6 3.6M381.3 183.3l3.6 3.6m0 -3.6l-3.6 3.6M358.8 193.8l3.6 3.6m0 -3.6l-3.6 3.6M364 189.3l3.6 3.6m0 -3.6l-3.6 3.6M379.5 182.2l3.6 3.6m0 -3.6l-3.6 3.6M364.2 180.4l3.6 3.6m0 -3.6l-3.6 3.6M362.4 179.3l3.6 3.6m0 -3.6l-3.6 3.6" fill="none" stroke="#ababab" stroke-width="0.75" clip-path="url(#p3b)"/>
<path d="M338.2 183.1a2 2 0 1 0 4 0a2 2 0 1 0 -4 0M359.7 183.2a2 2 0 1 0 4 0a2 2 0 1 0 -4 0M346.6 183.1a2 2 0 1 0 4 0a2 2 0 1 0 -4 0M354.3 183.3a2 2 0 1 0 4 0a2 2 0 1 0 -4 0M354.4 183.3a2 2 0 1 0 4 0a2 2 0 1 0 -4 0M359.2 182.9a2 2 0 1 0 4 0a2 2 0 1 0 -4 0M349.1 182.9a2 2 0 1 0 4 0a2 2 0 1 0 -4 0M329 182.8a2 2 0 1 0 4 0a2 2 0 1 0 -4 0M353.8 183a2 2 0 1 0 4 0a2 2 0 1 0 -4 0M337.4 182.8a2 2 0 1 0 4 0a2 2 0 1 0 -4 0M361.3 183a2 2 0 1 0 4 0a2 2 0 1 0 -4 0M350.8 182.9a2 2 0 1 0 4 0a2 2 0 1 0 -4 0M354.8 183.1a2 2 0 1 0 4 0a2 2 0 1 0 -4 0M354.8 183a2 2 0 1 0 4 0a2 2 0 1 0 -4 0M361.2 183.4a2 2 0 1 0 4 0a2 2 0 1 0 -4 0M359.9 183.3a2 2 0 1 0 4 0a2 2 0 1 0 -4 0M363.8 183a2 2 0 1 0 4 0a2 2 0 1 0 -4 0M360.2 183.1a2 2 0 1 0 4 0a2 2 0 1 0 -4 0M337.9 182.9a2 2 0 1 0 4 0a2 2 0 1 0 -4 0M357.1 182.8a2 2 0 1 0 4 0a2 2 0 1 0 -4 0M341.7 183.3a2 2 0 1 0 4 0a2 2 0 1 0 -4 0M357.4 182.9a2 2 0 1 0 4 0a2 2 0 1 0 -4 0M349.7 183a2 2 0 1 0 4 0a2 2 0 1 0 -4 0M350.4 182.9a2 2 0 1 0 4 0a2 2 0 1 0 -4 0M331.6 182.9a2 2 0 1 0 4 0a2 2 0 1 0 -4 0M335.1 182.9a2 2 0 1 0 4 0a2 2 0 1 0 -4 0M333 182.9a2 2 0 1 0 4 0a2 2 0 1 0 -4 0M331.8 183.4a2 2 0 1 0 4 0a2 2 0 1 0 -4 0M361.8 182.9a2 2 0 1 0 4 0a2 2 0 1 0 -4 0M363.5 183.2a2 2 0 1 0 4 0a2 2 0 1 0 -4 0M341.6 182.9a2 2 0 1 0 4 0a2 2 0 1 0 -4 0M345.7 183.4a2 2 0 1 0 4 0a2 2 0 1 0 -4 0M350.4 183.3a2 2 0 1 0 4 0a2 2 0 1 0 -4 0M355.1 183.1a2 2 0 1 0 4 0a2 2 0 1 0 -4 0M331.3 183.4a2 2 0 1 0 4 0a2 2 0 1 0 -4 0M365.9 183.2a2 2 0 1 0 4 0a2 2 0 1 0 -4 0M329.2 183.3a2 2 0 1 0 4 0a2 2 0 1 0 -4 0M332.4 183.1a2 2 0 1 0 4 0a2 2 0 1 0 -4 0M356.2 182.8a2 2 0 1 0 4 0a2 2 0 1 0 -4 0M340.8 182.8a2 2 0 1 0 4 0a2 2 0 1 0 -4 0M352.9 183.3a2 2 0 1 0 4 0a2 2 0 1 0 -4 0M349.8 183.4a2 2 0 1 0 4 0a2 2 0 1 0 -4 0M346.7 183.1a2 2 0 1 0 4 0a2 2 0 1 0 -4 0M348.2 183.3a2 2 0 1 0 4 0a2 2 0 1 0 -4 0M359.8 183.3a2 2 0 1 0 4 0a2 2 0 1 0 -4 0M343.8 183a2 2 0 1 0 4 0a2 2 0 1 0 -4 0M357.9 183.3a2 2 0 1 0 4 0a2 2 0 1 0 -4 0M351 183.3a2 2 0 1 0 4 0a2 2 0 1 0 -4 0M362.5 183.2a2 2 0 1 0 4 0a2 2 0 1 0 -4 0M332.1 182.9a2 2 0 1 0 4 0a2 2 0 1 0 -4 0M339.6 182.8a2 2 0 1 0 4 0a2 2 0 1 0 -4 0M328.9 183a2 2 0 1 0 4 0a2 2 0 1 0 -4 0M329.1 183a2 2 0 1 0 4 0a2 2 0 1 0 -4 0M349.2 183.1a2 2 0 1 0 4 0a2 2 0 1 0 -4 0M345.8 183a2 2 0 1 0 4 0a2 2 0 1 0 -4 0M335.1 183a2 2 0 1 0 4 0a2 2 0 1 0 -4 0M334.1 183a2 2 0 1 0 4 0a2 2 0 1 0 -4 0M335.8 182.9a2 2 0 1 0 4 0a2 2 0 1 0 -4 0M362.7 183a2 2 0 1 0 4 0a2 2 0 1 0 -4 0M349.9 183.2a2 2 0 1 0 4 0a2 2 0 1 0 -4 0M344.3 183a2 2 0 1 0 4 0a2 2 0 1 0 -4 0M350.2 183.3a2 2 0 1 0 4 0a2 2 0 1 0 -4 0M344.9 183.3a2 2 0 1 0 4 0a2 2 0 1 0 -4 0M347.2 183.1a2 2 0 1 0 4 0a2 2 0 1 0 -4 0M330.9 183a2 2 0 1 0 4 0a2 2 0 1 0 -4 0M366.4 183.2a2 2 0 1 0 4 0a2 2 0 1 0 -4 0M350.8 183.3a2 2 0 1 0 4 0a2 2 0 1 0 -4 0M356.3 183.3a2 2 0 1 0 4 0a2 2 0 1 0 -4 0M363.1 182.9a2 2 0 1 0 4 0a2 2 0 1 0 -4 0M331.9 182.9a2 2 0 1 0 4 0a2 2 0 1 0 -4 0M330.3 182.8a2 2 0 1 0 4 0a2 2 0 1 0 -4 0M336.7 183.4a2 2 0 1 0 4 0a2 2 0 1 0 -4 0M334.6 183a2 2 0 1 0 4 0a2 2 0 1 0 -4 0M335.6 183a2 2 0 1 0 4 0a2 2 0 1 0 -4 0M343.3 183.3a2 2 0 1 0 4 0a2 2 0 1 0 -4 0M360.4 183a2 2 0 1 0 4 0a2 2 0 1 0 -4 0M351.1 183.2a2 2 0 1 0 4 0a2 2 0 1 0 -4 0M356.1 182.8a2 2 0 1 0 4 0a2 2 0 1 0 -4 0M347.4 183a2 2 0 1 0 4 0a2 2 0 1 0 -4 0M364.1 182.8a2 2 0 1 0 4 0a2 2 0 1 0 -4 0M362.3 183.3a2 2 0 1 0 4 0a2 2 0 1 0 -4 0M333.1 183a2 2 0 1 0 4 0a2 2 0 1 0 -4 0M354.3 183.3a2 2 0 1 0 4 0a2 2 0 1 0 -4 0M365.1 183.3a2 2 0 1 0 4 0a2 2 0 1 0 -4 0M359.9 182.9a2 2 0 1 0 4 0a2 2 0 1 0 -4 0M349.5 183a2 2 0 1 0 4 0a2 2 0 1 0 -4 0M343.5 183.3a2 2 0 1 0 4 0a2 2 0 1 0 -4 0M331.5 183.2a2 2 0 1 0 4 0a2 2 0 1 0 -4 0M338.6 183.1a2 2 0 1 0 4 0a2 2 0 1 0 -4 0M331.5 182.9a2 2 0 1 0 4 0a2 2 0 1 0 -4 0M330.7 182.9a2 2 0 1 0 4 0a2 2 0 1 0 -4 0M358.3 183a2 2 0 1 0 4 0a2 2 0 1 0 -4 0M347.7 183.1a2 2 0 1 0 4 0a2 2 0 1 0 -4 0M342.3 183.2a2 2 0 1 0 4 0a2 2 0 1 0 -4 0M355.7 183.3a2 2 0 1 0 4 0a2 2 0 1 0 -4 0M340.4 183.2a2 2 0 1 0 4 0a2 2 0 1 0 -4 0M363.7 183.1a2 2 0 1 0 4 0a2 2 0 1 0 -4 0M337 183.1a2 2 0 1 0 4 0a2 2 0 1 0 -4 0M335.7 183.2a2 2 0 1 0 4 0a2 2 0 1 0 -4 0M336.6 182.8a2 2 0 1 0 4 0a2 2 0 1 0 -4 0M365.2 182.8a2 2 0 1 0 4 0a2 2 0 1 0 -4 0M362.5 183.1a2 2 0 1 0 4 0a2 2 0 1 0 -4 0M335.9 183.1a2 2 0 1 0 4 0a2 2 0 1 0 -4 0M364.2 183.3a2 2 0 1 0 4 0a2 2 0 1 0 -4 0M329.3 182.9a2 2 0 1 0 4 0a2 2 0 1 0 -4 0M355.2 183a2 2 0 1 0 4 0a2 2 0 1 0 -4 0M345.9 183a2 2 0 1 0 4 0a2 2 0 1 0 -4 0M336.9 183.2a2 2 0 1 0 4 0a2 2 0 1 0 -4 0M351.2 183.3a2 2 0 1 0 4 0a2 2 0 1 0 -4 0M336.7 182.9a2 2 0 1 0 4 0a2 2 0 1 0 -4 0" fill="none" stroke="#222" stroke-width="0.8"/>
<path d="M338.2 188.7a2 2 0 1 0 4 0a2 2 0 1 0 -4 0M353.7 188.6a2 2 0 1 0 4 0a2 2 0 1 0 -4 0M356.8 188.9a2 2 0 1 0 4 0a2 2 0 1 0 -4 0M358.4 188.5a2 2 0 1 0 4 0a2 2 0 1 0 -4 0M326.6 188.9a2 2 0 1 0 4 0a2 2 0 1 0 -4 0M355.8 188.4a2 2 0 1 0 4 0a2 2 0 1 0 -4 0M341.7 188.8a2 2 0 1 0 4 0a2 2 0 1 0 -4 0M364.6 189a2 2 0 1 0 4 0a2 2 0 1 0 -4 0M328.3 188.8a2 2 0 1 0 4 0a2 2 0 1 0 -4 0M362 188.5a2 2 0 1 0 4 0a2 2 0 1 0 -4 0M366.1 188.5a2 2 0 1 0 4 0a2 2 0 1 0 -4 0M349.9 188.9a2 2 0 1 0 4 0a2 2 0 1 0 -4 0M326.9 188.6a2 2 0 1 0 4 0a2 2 0 1 0 -4 0M336.2 189a2 2 0 1 0 4 0a2 2 0 1 0 -4 0M337.3 188.7a2 2 0 1 0 4 0a2 2 0 1 0 -4 0M364.3 188.5a2 2 0 1 0 4 0a2 2 0 1 0 -4 0M327 188.8a2 2 0 1 0 4 0a2 2 0 1 0 -4 0M339.7 188.8a2 2 0 1 0 4 0a2 2 0 1 0 -4 0M337.4 188.8a2 2 0 1 0 4 0a2 2 0 1 0 -4 0M345.9 188.4a2 2 0 1 0 4 0a2 2 0 1 0 -4 0M356.2 188.6a2 2 0 1 0 4 0a2 2 0 1 0 -4 0M319.6 188.7a2 2 0 1 0 4 0a2 2 0 1 0 -4 0M330.2 188.9a2 2 0 1 0 4 0a2 2 0 1 0 -4 0M322.3 188.5a2 2 0 1 0 4 0a2 2 0 1 0 -4 0M343.9 188.7a2 2 0 1 0 4 0a2 2 0 1 0 -4 0M352 188.6a2 2 0 1 0 4 0a2 2 0 1 0 -4 0M359.3 188.8a2 2 0 1 0 4 0a2 2 0 1 0 -4 0M356.1 188.7a2 2 0 1 0 4 0a2 2 0 1 0 -4 0M326.5 188.6a2 2 0 1 0 4 0a2 2 0 1 0 -4 0M370.1 188.7a2 2 0 1 0 4 0a2 2 0 1 0 -4 0M318.8 188.7a2 2 0 1 0 4 0a2 2 0 1 0 -4 0M328.2 188.4a2 2 0 1 0 4 0a2 2 0 1 0 -4 0M351.1 188.6a2 2 0 1 0 4 0a2 2 0 1 0 -4 0M351.9 188.6a2 2 0 1 0 4 0a2 2 0 1 0 -4 0M338.5 188.6a2 2 0 1 0 4 0a2 2 0 1 0 -4 0M353.7 188.6a2 2 0 1 0 4 0a2 2 0 1 0 -4 0M341.7 188.6a2 2 0 1 0 4 0a2 2 0 1 0 -4 0M334.4 188.6a2 2 0 1 0 4 0a2 2 0 1 0 -4 0M334.5 188.8a2 2 0 1 0 4 0a2 2 0 1 0 -4 0M340.5 188.5a2 2 0 1 0 4 0a2 2 0 1 0 -4 0M323.7 189a2 2 0 1 0 4 0a2 2 0 1 0 -4 0M355.5 188.4a2 2 0 1 0 4 0a2 2 0 1 0 -4 0M326.9 188.6a2 2 0 1 0 4 0a2 2 0 1 0 -4 0M348.4 188.8a2 2 0 1 0 4 0a2 2 0 1 0 -4 0M366.7 188.8a2 2 0 1 0 4 0a2 2 0 1 0 -4 0M360.7 188.6a2 2 0 1 0 4 0a2 2 0 1 0 -4 0M360.9 188.6a2 2 0 1 0 4 0a2 2 0 1 0 -4 0M327.7 188.8a2 2 0 1 0 4 0a2 2 0 1 0 -4 0M360.3 188.6a2 2 0 1 0 4 0a2 2 0 1 0 -4 0M318.7 188.9a2 2 0 1 0 4 0a2 2 0 1 0 -4 0M329.9 188.9a2 2 0 1 0 4 0a2 2 0 1 0 -4 0M332.4 188.5a2 2 0 1 0 4 0a2 2 0 1 0 -4 0M353.6 188.8a2 2 0 1 0 4 0a2 2 0 1 0 -4 0M369.6 188.5a2 2 0 1 0 4 0a2 2 0 1 0 -4 0M329.2 188.7a2 2 0 1 0 4 0a2 2 0 1 0 -4 0M344.2 188.9a2 2 0 1 0 4 0a2 2 0 1 0 -4 0M333.1 188.8a2 2 0 1 0 4 0a2 2 0 1 0 -4 0M356 188.9a2 2 0 1 0 4 0a2 2 0 1 0 -4 0M318.6 188.6a2 2 0 1 0 4 0a2 2 0 1 0 -4 0M365.6 188.6a2 2 0 1 0 4 0a2 2 0 1 0 -4 0M333.8 188.7a2 2 0 1 0 4 0a2 2 0 1 0 -4 0M327.4 188.6a2 2 0 1 0 4 0a2 2 0 1 0 -4 0M361.4 188.7a2 2 0 1 0 4 0a2 2 0 1 0 -4 0M356.3 188.6a2 2 0 1 0 4 0a2 2 0 1 0 -4 0M359.4 188.5a2 2 0 1 0 4 0a2 2 0 1 0 -4 0M364.1 188.8a2 2 0 1 0 4 0a2 2 0 1 0 -4 0M341.8 188.5a2 2 0 1 0 4 0a2 2 0 1 0 -4 0M340.6 188.5a2 2 0 1 0 4 0a2 2 0 1 0 -4 0M359.6 188.5a2 2 0 1 0 4 0a2 2 0 1 0 -4 0M344 188.8a2 2 0 1 0 4 0a2 2 0 1 0 -4 0M330.8 188.5a2 2 0 1 0 4 0a2 2 0 1 0 -4 0M350.2 188.6a2 2 0 1 0 4 0a2 2 0 1 0 -4 0M341 188.9a2 2 0 1 0 4 0a2 2 0 1 0 -4 0M358 188.7a2 2 0 1 0 4 0a2 2 0 1 0 -4 0M363.8 188.7a2 2 0 1 0 4 0a2 2 0 1 0 -4 0M359.6 188.6a2 2 0 1 0 4 0a2 2 0 1 0 -4 0M321.6 188.7a2 2 0 1 0 4 0a2 2 0 1 0 -4 0M347 188.9a2 2 0 1 0 4 0a2 2 0 1 0 -4 0M341.5 188.6a2 2 0 1 0 4 0a2 2 0 1 0 -4 0M320.4 188.5a2 2 0 1 0 4 0a2 2 0 1 0 -4 0M333.1 188.5a2 2 0 1 0 4 0a2 2 0 1 0 -4 0M318.4 188.8a2 2 0 1 0 4 0a2 2 0 1 0 -4 0M355.1 188.7a2 2 0 1 0 4 0a2 2 0 1 0 -4 0M329.2 189a2 2 0 1 0 4 0a2 2 0 1 0 -4 0M327.3 188.5a2 2 0 1 0 4 0a2 2 0 1 0 -4 0M363.4 188.8a2 2 0 1 0 4 0a2 2 0 1 0 -4 0M332.1 188.6a2 2 0 1 0 4 0a2 2 0 1 0 -4 0M354 188.6a2 2 0 1 0 4 0a2 2 0 1 0 -4 0M352.8 188.8a2 2 0 1 0 4 0a2 2 0 1 0 -4 0M351.3 188.6a2 2 0 1 0 4 0a2 2 0 1 0 -4 0M322 188.5a2 2 0 1 0 4 0a2 2 0 1 0 -4 0M329.4 188.7a2 2 0 1 0 4 0a2 2 0 1 0 -4 0M361.2 188.7a2 2 0 1 0 4 0a2 2 0 1 0 -4 0M338.4 188.5a2 2 0 1 0 4 0a2 2 0 1 0 -4 0M333.8 189a2 2 0 1 0 4 0a2 2 0 1 0 -4 0M344 188.6a2 2 0 1 0 4 0a2 2 0 1 0 -4 0M319.8 188.6a2 2 0 1 0 4 0a2 2 0 1 0 -4 0M355.3 188.5a2 2 0 1 0 4 0a2 2 0 1 0 -4 0M358.6 188.5a2 2 0 1 0 4 0a2 2 0 1 0 -4 0M368.8 188.5a2 2 0 1 0 4 0a2 2 0 1 0 -4 0M334.6 188.4a2 2 0 1 0 4 0a2 2 0 1 0 -4 0M354.2 188.7a2 2 0 1 0 4 0a2 2 0 1 0 -4 0M367.2 188.8a2 2 0 1 0 4 0a2 2 0 1 0 -4 0M363.2 188.9a2 2 0 1 0 4 0a2 2 0 1 0 -4 0M342.2 188.6a2 2 0 1 0 4 0a2 2 0 1 0 -4 0M368.2 188.9a2 2 0 1 0 4 0a2 2 0 1 0 -4 0M346.5 188.8a2 2 0 1 0 4 0a2 2 0 1 0 -4 0M347.6 188.4a2 2 0 1 0 4 0a2 2 0 1 0 -4 0M348.2 188.5a2 2 0 1 0 4 0a2 2 0 1 0 -4 0M327.8 188.5a2 2 0 1 0 4 0a2 2 0 1 0 -4 0M338.6 188.9a2 2 0 1 0 4 0a2 2 0 1 0 -4 0M344.4 188.8a2 2 0 1 0 4 0a2 2 0 1 0 -4 0M359.3 188.4a2 2 0 1 0 4 0a2 2 0 1 0 -4 0M347.5 188.5a2 2 0 1 0 4 0a2 2 0 1 0 -4 0M336.2 188.5a2 2 0 1 0 4 0a2 2 0 1 0 -4 0M369 188.8a2 2 0 1 0 4 0a2 2 0 1 0 -4 0M322.1 188.7a2 2 0 1 0 4 0a2 2 0 1 0 -4 0M327.3 189a2 2 0 1 0 4 0a2 2 0 1 0 -4 0M336.3 188.9a2 2 0 1 0 4 0a2 2 0 1 0 -4 0M369.4 188.6a2 2 0 1 0 4 0a2 2 0 1 0 -4 0" fill="none" stroke="#222" stroke-width="0.8"/>
<path d="M338.9 185.9a2 2 0 1 0 4 0a2 2 0 1 0 -4 0M344.2 187a2 2 0 1 0 4 0a2 2 0 1 0 -4 0M335.7 187.3a2 2 0 1 0 4 0a2 2 0 1 0 -4 0M351.6 185.5a2 2 0 1 0 4 0a2 2 0 1 0 -4 0M366.7 185.3a2 2 0 1 0 4 0a2 2 0 1 0 -4 0M358.8 187.7a2 2 0 1 0 4 0a2 2 0 1 0 -4 0M363.7 187.7a2 2 0 1 0 4 0a2 2 0 1 0 -4 0M345.7 186.9a2 2 0 1 0 4 0a2 2 0 1 0 -4 0M361.4 185.1a2 2 0 1 0 4 0a2 2 0 1 0 -4 0M346.1 187.5a2 2 0 1 0 4 0a2 2 0 1 0 -4 0M359.3 185.2a2 2 0 1 0 4 0a2 2 0 1 0 -4 0M359 184.4a2 2 0 1 0 4 0a2 2 0 1 0 -4 0M343.7 186.2a2 2 0 1 0 4 0a2 2 0 1 0 -4 0M340.3 184a2 2 0 1 0 4 0a2 2 0 1 0 -4 0M351 186.3a2 2 0 1 0 4 0a2 2 0 1 0 -4 0M354.5 184.6a2 2 0 1 0 4 0a2 2 0 1 0 -4 0M330.8 184.2a2 2 0 1 0 4 0a2 2 0 1 0 -4 0M349.8 184.1a2 2 0 1 0 4 0a2 2 0 1 0 -4 0M336.2 185.9a2 2 0 1 0 4 0a2 2 0 1 0 -4 0M343 186.6a2 2 0 1 0 4 0a2 2 0 1 0 -4 0M333.4 186a2 2 0 1 0 4 0a2 2 0 1 0 -4 0M344.9 184.7a2 2 0 1 0 4 0a2 2 0 1 0 -4 0M364.4 187.5a2 2 0 1 0 4 0a2 2 0 1 0 -4 0M366.6 185a2 2 0 1 0 4 0a2 2 0 1 0 -4 0M329 186.6a2 2 0 1 0 4 0a2 2 0 1 0 -4 0M364 185.3a2 2 0 1 0 4 0a2 2 0 1 0 -4 0M339.9 187.1a2 2 0 1 0 4 0a2 2 0 1 0 -4 0M350.1 186.2a2 2 0 1 0 4 0a2 2 0 1 0 -4 0M356.4 186a2 2 0 1 0 4 0a2 2 0 1 0 -4 0M360.8 186.1a2 2 0 1 0 4 0a2 2 0 1 0 -4 0" fill="none" stroke="#222" stroke-width="0.8"/>
<path d="M318.6 183.3a2 2 0 1 0 4 0a2 2 0 1 0 -4 0M322.4 183.3a2 2 0 1 0 4 0a2 2 0 1 0 -4 0M326.2 183.3a2 2 0 1 0 4 0a2 2 0 1 0 -4 0" fill="none" stroke="#444" stroke-width="0.75"/>
<path d="M312 188.8a2 2 0 1 0 4 0a2 2 0 1 0 -4 0M315.3 188.8a2 2 0 1 0 4 0a2 2 0 1 0 -4 0" fill="none" stroke="#777" stroke-width="0.75"/>
<path d="M367.7 182.8a2 2 0 1 0 4 0a2 2 0 1 0 -4 0" fill="none" stroke="#333" stroke-width="0.8"/>
<path d="M374.1 182.8a2 2 0 1 0 4 0a2 2 0 1 0 -4 0" fill="none" stroke="#888" stroke-width="0.8"/>
<path d="M374.1 188.6a2 2 0 1 0 4 0a2 2 0 1 0 -4 0" fill="none" stroke="#333" stroke-width="0.8"/>
<path d="M381.1 188.6a2 2 0 1 0 4 0a2 2 0 1 0 -4 0M384.9 188.6a2 2 0 1 0 4 0a2 2 0 1 0 -4 0" fill="none" stroke="#555" stroke-width="0.8"/>
<path d="M501.4 202.6l3.6 3.6m0 -3.6l-3.6 3.6M480.9 215.1l3.6 3.6m0 -3.6l-3.6 3.6M532.6 167.6l3.6 3.6m0 -3.6l-3.6 3.6M486.6 212.1l3.6 3.6m0 -3.6l-3.6 3.6M499.1 189l3.6 3.6m0 -3.6l-3.6 3.6M493.6 186.1l3.6 3.6m0 -3.6l-3.6 3.6M525.9 182.2l3.6 3.6m0 -3.6l-3.6 3.6M511.7 175.1l3.6 3.6m0 -3.6l-3.6 3.6M506.8 201.8l3.6 3.6m0 -3.6l-3.6 3.6M498.2 213.1l3.6 3.6m0 -3.6l-3.6 3.6M484.5 208.7l3.6 3.6m0 -3.6l-3.6 3.6M521.9 169.6l3.6 3.6m0 -3.6l-3.6 3.6M493.3 219.1l3.6 3.6m0 -3.6l-3.6 3.6M487.3 185.9l3.6 3.6m0 -3.6l-3.6 3.6M514.2 190.3l3.6 3.6m0 -3.6l-3.6 3.6M518.9 173.9l3.6 3.6m0 -3.6l-3.6 3.6M505.3 181.1l3.6 3.6m0 -3.6l-3.6 3.6M505.6 197.1l3.6 3.6m0 -3.6l-3.6 3.6M482.8 221.5l3.6 3.6m0 -3.6l-3.6 3.6M488.4 184.6l3.6 3.6m0 -3.6l-3.6 3.6M504.2 187.8l3.6 3.6m0 -3.6l-3.6 3.6M495.9 175.2l3.6 3.6m0 -3.6l-3.6 3.6M492.6 218.2l3.6 3.6m0 -3.6l-3.6 3.6M519.2 188.6l3.6 3.6m0 -3.6l-3.6 3.6M504.1 202.8l3.6 3.6m0 -3.6l-3.6 3.6M482.3 213.3l3.6 3.6m0 -3.6l-3.6 3.6M507 173.4l3.6 3.6m0 -3.6l-3.6 3.6M519.4 176.3l3.6 3.6m0 -3.6l-3.6 3.6M492.2 219.3l3.6 3.6m0 -3.6l-3.6 3.6M487.1 203.3l3.6 3.6m0 -3.6l-3.6 3.6M528.8 175.5l3.6 3.6m0 -3.6l-3.6 3.6M520.4 176.4l3.6 3.6m0 -3.6l-3.6 3.6M532.9 164.3l3.6 3.6m0 -3.6l-3.6 3.6M481.4 202.9l3.6 3.6m0 -3.6l-3.6 3.6M492.3 186.2l3.6 3.6m0 -3.6l-3.6 3.6M525 165.4l3.6 3.6m0 -3.6l-3.6 3.6M484.6 197.4l3.6 3.6m0 -3.6l-3.6 3.6M484.2 198.7l3.6 3.6m0 -3.6l-3.6 3.6M489.4 209.3l3.6 3.6m0 -3.6l-3.6 3.6M489.9 217.2l3.6 3.6m0 -3.6l-3.6 3.6M496.5 178.4l3.6 3.6m0 -3.6l-3.6 3.6M482 215.9l3.6 3.6m0 -3.6l-3.6 3.6M528.9 177.6l3.6 3.6m0 -3.6l-3.6 3.6M496.5 188.3l3.6 3.6m0 -3.6l-3.6 3.6M490.9 199.3l3.6 3.6m0 -3.6l-3.6 3.6M527.9 159.5l3.6 3.6m0 -3.6l-3.6 3.6M532.6 166.3l3.6 3.6m0 -3.6l-3.6 3.6M496.1 205.9l3.6 3.6m0 -3.6l-3.6 3.6M485.6 220.2l3.6 3.6m0 -3.6l-3.6 3.6M519.2 163.9l3.6 3.6m0 -3.6l-3.6 3.6M520.2 169.1l3.6 3.6m0 -3.6l-3.6 3.6M521.4 178.6l3.6 3.6m0 -3.6l-3.6 3.6M502.2 181.2l3.6 3.6m0 -3.6l-3.6 3.6M532.4 156.7l3.6 3.6m0 -3.6l-3.6 3.6M507.5 197.4l3.6 3.6m0 -3.6l-3.6 3.6M479.2 220.9l3.6 3.6m0 -3.6l-3.6 3.6M517.8 166.5l3.6 3.6m0 -3.6l-3.6 3.6M527.1 157l3.6 3.6m0 -3.6l-3.6 3.6M532.7 161.8l3.6 3.6m0 -3.6l-3.6 3.6M499.4 196.5l3.6 3.6m0 -3.6l-3.6 3.6M493.9 203.9l3.6 3.6m0 -3.6l-3.6 3.6M491.1 209.2l3.6 3.6m0 -3.6l-3.6 3.6M507.7 186.5l3.6 3.6m0 -3.6l-3.6 3.6M485.8 200.3l3.6 3.6m0 -3.6l-3.6 3.6M506 187.7l3.6 3.6m0 -3.6l-3.6 3.6M485 188.8l3.6 3.6m0 -3.6l-3.6 3.6M506.6 176.9l3.6 3.6m0 -3.6l-3.6 3.6M508 195l3.6 3.6m0 -3.6l-3.6 3.6M496.3 192.7l3.6 3.6m0 -3.6l-3.6 3.6M486.8 197.2l3.6 3.6m0 -3.6l-3.6 3.6M503.8 201.6l3.6 3.6m0 -3.6l-3.6 3.6M478 219.1l3.6 3.6m0 -3.6l-3.6 3.6M489.3 210.2l3.6 3.6m0 -3.6l-3.6 3.6M486.4 210.1l3.6 3.6m0 -3.6l-3.6 3.6M472.7 216l3.6 3.6m0 -3.6l-3.6 3.6M510.3 181.5l3.6 3.6m0 -3.6l-3.6 3.6M504.5 169.3l3.6 3.6m0 -3.6l-3.6 3.6M501.9 192.9l3.6 3.6m0 -3.6l-3.6 3.6M504.6 174.3l3.6 3.6m0 -3.6l-3.6 3.6M486 221.6l3.6 3.6m0 -3.6l-3.6 3.6M533.1 163.2l3.6 3.6m0 -3.6l-3.6 3.6M505.8 200.2l3.6 3.6m0 -3.6l-3.6 3.6M484.2 196.9l3.6 3.6m0 -3.6l-3.6 3.6M522.9 162.7l3.6 3.6m0 -3.6l-3.6 3.6M496.4 199l3.6 3.6m0 -3.6l-3.6 3.6M519.3 179.7l3.6 3.6m0 -3.6l-3.6 3.6M471.6 219.1l3.6 3.6m0 -3.6l-3.6 3.6M501 193l3.6 3.6m0 -3.6l-3.6 3.6M498.4 199.9l3.6 3.6m0 -3.6l-3.6 3.6M504.9 208.3l3.6 3.6m0 -3.6l-3.6 3.6M523.7 179.4l3.6 3.6m0 -3.6l-3.6 3.6M486.6 189.8l3.6 3.6m0 -3.6l-3.6 3.6M481.6 197.4l3.6 3.6m0 -3.6l-3.6 3.6M504.6 169.1l3.6 3.6m0 -3.6l-3.6 3.6M525 163.8l3.6 3.6m0 -3.6l-3.6 3.6M520.1 159.3l3.6 3.6m0 -3.6l-3.6 3.6M527.2 173.3l3.6 3.6m0 -3.6l-3.6 3.6M487.6 185l3.6 3.6m0 -3.6l-3.6 3.6M508.1 204.1l3.6 3.6m0 -3.6l-3.6 3.6M496.4 179l3.6 3.6m0 -3.6l-3.6 3.6M504.8 182.3l3.6 3.6m0 -3.6l-3.6 3.6M514 177.1l3.6 3.6m0 -3.6l-3.6 3.6M473 220.7l3.6 3.6m0 -3.6l-3.6 3.6M504.9 189.7l3.6 3.6m0 -3.6l-3.6 3.6M495.1 214.8l3.6 3.6m0 -3.6l-3.6 3.6M479.5 211.6l3.6 3.6m0 -3.6l-3.6 3.6M484.9 195.9l3.6 3.6m0 -3.6l-3.6 3.6M493.7 197.6l3.6 3.6m0 -3.6l-3.6 3.6M493.3 177.7l3.6 3.6m0 -3.6l-3.6 3.6M493.2 213.7l3.6 3.6m0 -3.6l-3.6 3.6M518.9 180.8l3.6 3.6m0 -3.6l-3.6 3.6M515.5 176.4l3.6 3.6m0 -3.6l-3.6 3.6M532.4 168.1l3.6 3.6m0 -3.6l-3.6 3.6M516.9 164.2l3.6 3.6m0 -3.6l-3.6 3.6M473.9 222.4l3.6 3.6m0 -3.6l-3.6 3.6M498.3 201.8l3.6 3.6m0 -3.6l-3.6 3.6M505.9 191.2l3.6 3.6m0 -3.6l-3.6 3.6M509.5 181.4l3.6 3.6m0 -3.6l-3.6 3.6M492.8 203.3l3.6 3.6m0 -3.6l-3.6 3.6M482.5 209.7l3.6 3.6m0 -3.6l-3.6 3.6M489.6 202.7l3.6 3.6m0 -3.6l-3.6 3.6M497.5 173.3l3.6 3.6m0 -3.6l-3.6 3.6M519.5 162.1l3.6 3.6m0 -3.6l-3.6 3.6M506.8 172.5l3.6 3.6m0 -3.6l-3.6 3.6M488.5 190.4l3.6 3.6m0 -3.6l-3.6 3.6M522 181.5l3.6 3.6m0 -3.6l-3.6 3.6M513.5 193.6l3.6 3.6m0 -3.6l-3.6 3.6M498.7 190.5l3.6 3.6m0 -3.6l-3.6 3.6M513.3 192.2l3.6 3.6m0 -3.6l-3.6 3.6M522.5 177l3.6 3.6m0 -3.6l-3.6 3.6M479.7 210.7l3.6 3.6m0 -3.6l-3.6 3.6M515.4 194.1l3.6 3.6m0 -3.6l-3.6 3.6M504.1 179.1l3.6 3.6m0 -3.6l-3.6 3.6M520.3 163.7l3.6 3.6m0 -3.6l-3.6 3.6M496.4 187.2l3.6 3.6m0 -3.6l-3.6 3.6M519.3 160.6l3.6 3.6m0 -3.6l-3.6 3.6M514.2 184.4l3.6 3.6m0 -3.6l-3.6 3.6M509.5 177.9l3.6 3.6m0 -3.6l-3.6 3.6M484.3 189.6l3.6 3.6m0 -3.6l-3.6 3.6M486.1 204.9l3.6 3.6m0 -3.6l-3.6 3.6M518.3 182.2l3.6 3.6m0 -3.6l-3.6 3.6M532.7 162.6l3.6 3.6m0 -3.6l-3.6 3.6M490 181.7l3.6 3.6m0 -3.6l-3.6 3.6M523.4 175.6l3.6 3.6m0 -3.6l-3.6 3.6M496.5 177.4l3.6 3.6m0 -3.6l-3.6 3.6M483.3 212.6l3.6 3.6m0 -3.6l-3.6 3.6M512.7 193.5l3.6 3.6m0 -3.6l-3.6 3.6M527.7 179.4l3.6 3.6m0 -3.6l-3.6 3.6M511.8 171.7l3.6 3.6m0 -3.6l-3.6 3.6M511.3 191.5l3.6 3.6m0 -3.6l-3.6 3.6M503.4 176l3.6 3.6m0 -3.6l-3.6 3.6M494.2 188.9l3.6 3.6m0 -3.6l-3.6 3.6M506.3 179.3l3.6 3.6m0 -3.6l-3.6 3.6M492.3 194.3l3.6 3.6m0 -3.6l-3.6 3.6M492.9 198.9l3.6 3.6m0 -3.6l-3.6 3.6M509.3 173l3.6 3.6m0 -3.6l-3.6 3.6M507 179.8l3.6 3.6m0 -3.6l-3.6 3.6M489.8 190.2l3.6 3.6m0 -3.6l-3.6 3.6M474.5 212.2l3.6 3.6m0 -3.6l-3.6 3.6M487.3 213.8l3.6 3.6m0 -3.6l-3.6 3.6M485.2 190.1l3.6 3.6m0 -3.6l-3.6 3.6M514.4 195.9l3.6 3.6m0 -3.6l-3.6 3.6M500.9 181.5l3.6 3.6m0 -3.6l-3.6 3.6M495.6 186l3.6 3.6m0 -3.6l-3.6 3.6M523.1 156.3l3.6 3.6m0 -3.6l-3.6 3.6M489.6 203.1l3.6 3.6m0 -3.6l-3.6 3.6M477.2 210.2l3.6 3.6m0 -3.6l-3.6 3.6M492.8 216.1l3.6 3.6m0 -3.6l-3.6 3.6M485.4 208.3l3.6 3.6m0 -3.6l-3.6 3.6M525.1 177l3.6 3.6m0 -3.6l-3.6 3.6" fill="none" stroke="#b8b8b8" stroke-width="0.75" clip-path="url(#p4b)"/>
<path d="M504.5 197.5l3.6 3.6m0 -3.6l-3.6 3.6M495.7 194.8l3.6 3.6m0 -3.6l-3.6 3.6M505.9 200.7l3.6 3.6m0 -3.6l-3.6 3.6M509.8 183.4l3.6 3.6m0 -3.6l-3.6 3.6M524.6 170l3.6 3.6m0 -3.6l-3.6 3.6M508.2 176l3.6 3.6m0 -3.6l-3.6 3.6M509.7 191.4l3.6 3.6m0 -3.6l-3.6 3.6M485.1 220.3l3.6 3.6m0 -3.6l-3.6 3.6M489.8 209l3.6 3.6m0 -3.6l-3.6 3.6M487.9 217.9l3.6 3.6m0 -3.6l-3.6 3.6M499.8 188.5l3.6 3.6m0 -3.6l-3.6 3.6M512.4 190.2l3.6 3.6m0 -3.6l-3.6 3.6M523.4 163.8l3.6 3.6m0 -3.6l-3.6 3.6M497.8 201.6l3.6 3.6m0 -3.6l-3.6 3.6M525.5 169.6l3.6 3.6m0 -3.6l-3.6 3.6M518.5 176.2l3.6 3.6m0 -3.6l-3.6 3.6M502 195.1l3.6 3.6m0 -3.6l-3.6 3.6M520.5 184.7l3.6 3.6m0 -3.6l-3.6 3.6M495.3 212.3l3.6 3.6m0 -3.6l-3.6 3.6M511.8 171.6l3.6 3.6m0 -3.6l-3.6 3.6M510.6 196.6l3.6 3.6m0 -3.6l-3.6 3.6M511.7 170.2l3.6 3.6m0 -3.6l-3.6 3.6M509.8 178.5l3.6 3.6m0 -3.6l-3.6 3.6M500.7 188.1l3.6 3.6m0 -3.6l-3.6 3.6M528.9 167.5l3.6 3.6m0 -3.6l-3.6 3.6M504.8 204.5l3.6 3.6m0 -3.6l-3.6 3.6M484.5 215.7l3.6 3.6m0 -3.6l-3.6 3.6M509.9 190.1l3.6 3.6m0 -3.6l-3.6 3.6M520.5 163.7l3.6 3.6m0 -3.6l-3.6 3.6M504.8 181.2l3.6 3.6m0 -3.6l-3.6 3.6M496.6 194.8l3.6 3.6m0 -3.6l-3.6 3.6M495.5 190.2l3.6 3.6m0 -3.6l-3.6 3.6M510.9 196.4l3.6 3.6m0 -3.6l-3.6 3.6M496 196.2l3.6 3.6m0 -3.6l-3.6 3.6M516.2 188.4l3.6 3.6m0 -3.6l-3.6 3.6M507.9 186.9l3.6 3.6m0 -3.6l-3.6 3.6M510.4 188.6l3.6 3.6m0 -3.6l-3.6 3.6M498.4 203.3l3.6 3.6m0 -3.6l-3.6 3.6M516.8 179.6l3.6 3.6m0 -3.6l-3.6 3.6M496.2 207.2l3.6 3.6m0 -3.6l-3.6 3.6M528.9 168l3.6 3.6m0 -3.6l-3.6 3.6M520.9 162.4l3.6 3.6m0 -3.6l-3.6 3.6M518 189.6l3.6 3.6m0 -3.6l-3.6 3.6M504.4 183.3l3.6 3.6m0 -3.6l-3.6 3.6M505.2 196l3.6 3.6m0 -3.6l-3.6 3.6M513.4 194.9l3.6 3.6m0 -3.6l-3.6 3.6M506.2 191.5l3.6 3.6m0 -3.6l-3.6 3.6M496.4 192.2l3.6 3.6m0 -3.6l-3.6 3.6M496.4 196.7l3.6 3.6m0 -3.6l-3.6 3.6M504.3 197.6l3.6 3.6m0 -3.6l-3.6 3.6M520.6 161.4l3.6 3.6m0 -3.6l-3.6 3.6M512.7 166.8l3.6 3.6m0 -3.6l-3.6 3.6M518.1 175.2l3.6 3.6m0 -3.6l-3.6 3.6M509.5 173l3.6 3.6m0 -3.6l-3.6 3.6M507.3 183.5l3.6 3.6m0 -3.6l-3.6 3.6M520.3 174.7l3.6 3.6m0 -3.6l-3.6 3.6M506.9 192l3.6 3.6m0 -3.6l-3.6 3.6M498.1 201.7l3.6 3.6m0 -3.6l-3.6 3.6M528.5 166.9l3.6 3.6m0 -3.6l-3.6 3.6M504.1 186.6l3.6 3.6m0 -3.6l-3.6 3.6M519.3 169.2l3.6 3.6m0 -3.6l-3.6 3.6M527 167.4l3.6 3.6m0 -3.6l-3.6 3.6M520 180.4l3.6 3.6m0 -3.6l-3.6 3.6M520.2 182.4l3.6 3.6m0 -3.6l-3.6 3.6M504.5 202.1l3.6 3.6m0 -3.6l-3.6 3.6M513.3 196.2l3.6 3.6m0 -3.6l-3.6 3.6M505.3 176.7l3.6 3.6m0 -3.6l-3.6 3.6M493.2 217.2l3.6 3.6m0 -3.6l-3.6 3.6M501.6 209.9l3.6 3.6m0 -3.6l-3.6 3.6M523.7 179.3l3.6 3.6m0 -3.6l-3.6 3.6M509.5 198l3.6 3.6m0 -3.6l-3.6 3.6M499 185.8l3.6 3.6m0 -3.6l-3.6 3.6M529.2 166.3l3.6 3.6m0 -3.6l-3.6 3.6M517.3 165.7l3.6 3.6m0 -3.6l-3.6 3.6M507.7 195.2l3.6 3.6m0 -3.6l-3.6 3.6M488.3 211.4l3.6 3.6m0 -3.6l-3.6 3.6M531.7 161.6l3.6 3.6m0 -3.6l-3.6 3.6M519.3 162.8l3.6 3.6m0 -3.6l-3.6 3.6M515.4 182.6l3.6 3.6m0 -3.6l-3.6 3.6M492.6 213.6l3.6 3.6m0 -3.6l-3.6 3.6M519.2 181.2l3.6 3.6m0 -3.6l-3.6 3.6M486.6 217.9l3.6 3.6m0 -3.6l-3.6 3.6M495 193.9l3.6 3.6m0 -3.6l-3.6 3.6M518.2 186.5l3.6 3.6m0 -3.6l-3.6 3.6M497.4 208.2l3.6 3.6m0 -3.6l-3.6 3.6M527.3 170.1l3.6 3.6m0 -3.6l-3.6 3.6M484.8 210.5l3.6 3.6m0 -3.6l-3.6 3.6M512.1 174l3.6 3.6m0 -3.6l-3.6 3.6M494.6 203.4l3.6 3.6m0 -3.6l-3.6 3.6M498.1 212.4l3.6 3.6m0 -3.6l-3.6 3.6M495.4 215.4l3.6 3.6m0 -3.6l-3.6 3.6M524.9 166.8l3.6 3.6m0 -3.6l-3.6 3.6M518.3 164.1l3.6 3.6m0 -3.6l-3.6 3.6M523 179.1l3.6 3.6m0 -3.6l-3.6 3.6M512.2 183.6l3.6 3.6m0 -3.6l-3.6 3.6M525.6 167.3l3.6 3.6m0 -3.6l-3.6 3.6M491.4 197.7l3.6 3.6m0 -3.6l-3.6 3.6M506.3 202l3.6 3.6m0 -3.6l-3.6 3.6M490.1 204.5l3.6 3.6m0 -3.6l-3.6 3.6M513.5 182.6l3.6 3.6m0 -3.6l-3.6 3.6M485.6 216.4l3.6 3.6m0 -3.6l-3.6 3.6M498.3 211.7l3.6 3.6m0 -3.6l-3.6 3.6M525.2 174.4l3.6 3.6m0 -3.6l-3.6 3.6M494.5 191.3l3.6 3.6m0 -3.6l-3.6 3.6M519.8 167.6l3.6 3.6m0 -3.6l-3.6 3.6M530.6 164.5l3.6 3.6m0 -3.6l-3.6 3.6M510.7 192.8l3.6 3.6m0 -3.6l-3.6 3.6M514.8 172.6l3.6 3.6m0 -3.6l-3.6 3.6M508.3 175.2l3.6 3.6m0 -3.6l-3.6 3.6M522.3 174.1l3.6 3.6m0 -3.6l-3.6 3.6M524.1 179.6l3.6 3.6m0 -3.6l-3.6 3.6M508.9 176.4l3.6 3.6m0 -3.6l-3.6 3.6M521.1 163.4l3.6 3.6m0 -3.6l-3.6 3.6M482.1 220.5l3.6 3.6m0 -3.6l-3.6 3.6M531.1 160.4l3.6 3.6m0 -3.6l-3.6 3.6M495.2 189.6l3.6 3.6m0 -3.6l-3.6 3.6M496.4 203.7l3.6 3.6m0 -3.6l-3.6 3.6M499.7 188.8l3.6 3.6m0 -3.6l-3.6 3.6M502.2 208l3.6 3.6m0 -3.6l-3.6 3.6M508.8 182.9l3.6 3.6m0 -3.6l-3.6 3.6M526.5 161.4l3.6 3.6m0 -3.6l-3.6 3.6M498.6 204.8l3.6 3.6m0 -3.6l-3.6 3.6M510.7 182.4l3.6 3.6m0 -3.6l-3.6 3.6M531.1 161.7l3.6 3.6m0 -3.6l-3.6 3.6M501 184.3l3.6 3.6m0 -3.6l-3.6 3.6M520.2 170.5l3.6 3.6m0 -3.6l-3.6 3.6M485.1 209.9l3.6 3.6m0 -3.6l-3.6 3.6M505 193.9l3.6 3.6m0 -3.6l-3.6 3.6M482.6 218l3.6 3.6m0 -3.6l-3.6 3.6M497.2 199.3l3.6 3.6m0 -3.6l-3.6 3.6M498.8 207.1l3.6 3.6m0 -3.6l-3.6 3.6M506.9 196.3l3.6 3.6m0 -3.6l-3.6 3.6M513.3 174.3l3.6 3.6m0 -3.6l-3.6 3.6M523.9 164.6l3.6 3.6m0 -3.6l-3.6 3.6M504.5 205.3l3.6 3.6m0 -3.6l-3.6 3.6M509.9 176.4l3.6 3.6m0 -3.6l-3.6 3.6M505.8 176.7l3.6 3.6m0 -3.6l-3.6 3.6M524.2 170.8l3.6 3.6m0 -3.6l-3.6 3.6M531.1 159.7l3.6 3.6m0 -3.6l-3.6 3.6M482.8 219.8l3.6 3.6m0 -3.6l-3.6 3.6M520.3 176.3l3.6 3.6m0 -3.6l-3.6 3.6M513.3 188.8l3.6 3.6m0 -3.6l-3.6 3.6M522 173.6l3.6 3.6m0 -3.6l-3.6 3.6M513.1 194.5l3.6 3.6m0 -3.6l-3.6 3.6M519.6 179.9l3.6 3.6m0 -3.6l-3.6 3.6M485 220.2l3.6 3.6m0 -3.6l-3.6 3.6M501.3 205.5l3.6 3.6m0 -3.6l-3.6 3.6M493.7 203.1l3.6 3.6m0 -3.6l-3.6 3.6M524.7 172.4l3.6 3.6m0 -3.6l-3.6 3.6M511.4 181.7l3.6 3.6m0 -3.6l-3.6 3.6M531.2 159.8l3.6 3.6m0 -3.6l-3.6 3.6M524.1 166.1l3.6 3.6m0 -3.6l-3.6 3.6M509.8 177.2l3.6 3.6m0 -3.6l-3.6 3.6M493.1 217.8l3.6 3.6m0 -3.6l-3.6 3.6M525.9 169.3l3.6 3.6m0 -3.6l-3.6 3.6M484.9 216.1l3.6 3.6m0 -3.6l-3.6 3.6M500.9 188.8l3.6 3.6m0 -3.6l-3.6 3.6M528.4 163.2l3.6 3.6m0 -3.6l-3.6 3.6M499.2 192.9l3.6 3.6m0 -3.6l-3.6 3.6M508.8 200.9l3.6 3.6m0 -3.6l-3.6 3.6M515.3 182.1l3.6 3.6m0 -3.6l-3.6 3.6M487 219.7l3.6 3.6m0 -3.6l-3.6 3.6M515.6 165.7l3.6 3.6m0 -3.6l-3.6 3.6M502.3 208.7l3.6 3.6m0 -3.6l-3.6 3.6M496.3 201.9l3.6 3.6m0 -3.6l-3.6 3.6M490.6 211.3l3.6 3.6m0 -3.6l-3.6 3.6M497.5 195.8l3.6 3.6m0 -3.6l-3.6 3.6M498.6 208.7l3.6 3.6m0 -3.6l-3.6 3.6M504.1 178.6l3.6 3.6m0 -3.6l-3.6 3.6M512.3 178.8l3.6 3.6m0 -3.6l-3.6 3.6M512.3 192.1l3.6 3.6m0 -3.6l-3.6 3.6M503.6 180.3l3.6 3.6m0 -3.6l-3.6 3.6M519 176.5l3.6 3.6m0 -3.6l-3.6 3.6M486.6 218.8l3.6 3.6m0 -3.6l-3.6 3.6M517.9 178.8l3.6 3.6m0 -3.6l-3.6 3.6M491.9 204.1l3.6 3.6m0 -3.6l-3.6 3.6M519.6 177.1l3.6 3.6m0 -3.6l-3.6 3.6M509 177.7l3.6 3.6m0 -3.6l-3.6 3.6M488.2 203.6l3.6 3.6m0 -3.6l-3.6 3.6M515.9 190.5l3.6 3.6m0 -3.6l-3.6 3.6M492.6 216.3l3.6 3.6m0 -3.6l-3.6 3.6M521.3 174.6l3.6 3.6m0 -3.6l-3.6 3.6M511.1 185.7l3.6 3.6m0 -3.6l-3.6 3.6M505.6 179.9l3.6 3.6m0 -3.6l-3.6 3.6M512.6 167.9l3.6 3.6m0 -3.6l-3.6 3.6M481.3 220.2l3.6 3.6m0 -3.6l-3.6 3.6M490.4 210.6l3.6 3.6m0 -3.6l-3.6 3.6M489.9 213.2l3.6 3.6m0 -3.6l-3.6 3.6M520.8 179.1l3.6 3.6m0 -3.6l-3.6 3.6M502.3 209.5l3.6 3.6m0 -3.6l-3.6 3.6M510.3 199.3l3.6 3.6m0 -3.6l-3.6 3.6M527.4 161.8l3.6 3.6m0 -3.6l-3.6 3.6M513.7 195l3.6 3.6m0 -3.6l-3.6 3.6M496.9 198.5l3.6 3.6m0 -3.6l-3.6 3.6M504.9 180.1l3.6 3.6m0 -3.6l-3.6 3.6M493.1 215.3l3.6 3.6m0 -3.6l-3.6 3.6M525 165.3l3.6 3.6m0 -3.6l-3.6 3.6M489.5 210.8l3.6 3.6m0 -3.6l-3.6 3.6M506.2 199l3.6 3.6m0 -3.6l-3.6 3.6M515.5 185l3.6 3.6m0 -3.6l-3.6 3.6M487.2 221.4l3.6 3.6m0 -3.6l-3.6 3.6M497.8 204.9l3.6 3.6m0 -3.6l-3.6 3.6M510 193.8l3.6 3.6m0 -3.6l-3.6 3.6M497.2 188.1l3.6 3.6m0 -3.6l-3.6 3.6M517.2 179.8l3.6 3.6m0 -3.6l-3.6 3.6M492.7 195.8l3.6 3.6m0 -3.6l-3.6 3.6M490.8 217.4l3.6 3.6m0 -3.6l-3.6 3.6M491.6 217.4l3.6 3.6m0 -3.6l-3.6 3.6M524.2 166l3.6 3.6m0 -3.6l-3.6 3.6M525.3 167l3.6 3.6m0 -3.6l-3.6 3.6M515.6 166.2l3.6 3.6m0 -3.6l-3.6 3.6M502.8 201.2l3.6 3.6m0 -3.6l-3.6 3.6M519.6 171.4l3.6 3.6m0 -3.6l-3.6 3.6M498.4 187.7l3.6 3.6m0 -3.6l-3.6 3.6M516.1 166l3.6 3.6m0 -3.6l-3.6 3.6M517.6 164.4l3.6 3.6m0 -3.6l-3.6 3.6M508.1 190.1l3.6 3.6m0 -3.6l-3.6 3.6M518 187l3.6 3.6m0 -3.6l-3.6 3.6M503.1 200l3.6 3.6m0 -3.6l-3.6 3.6M519.6 166.9l3.6 3.6m0 -3.6l-3.6 3.6M507.3 189.6l3.6 3.6m0 -3.6l-3.6 3.6M521.4 170.3l3.6 3.6m0 -3.6l-3.6 3.6M519.4 163.2l3.6 3.6m0 -3.6l-3.6 3.6M507.6 185.2l3.6 3.6m0 -3.6l-3.6 3.6M500.2 189.1l3.6 3.6m0 -3.6l-3.6 3.6M498.3 203.3l3.6 3.6m0 -3.6l-3.6 3.6M502.7 182.3l3.6 3.6m0 -3.6l-3.6 3.6M522.8 178.8l3.6 3.6m0 -3.6l-3.6 3.6M504.3 206.7l3.6 3.6m0 -3.6l-3.6 3.6M516.8 167.9l3.6 3.6m0 -3.6l-3.6 3.6M529.7 163.2l3.6 3.6m0 -3.6l-3.6 3.6M514.4 183l3.6 3.6m0 -3.6l-3.6 3.6M502 201.6l3.6 3.6m0 -3.6l-3.6 3.6M504.2 207.5l3.6 3.6m0 -3.6l-3.6 3.6M525.7 159.8l3.6 3.6m0 -3.6l-3.6 3.6M484.3 220.6l3.6 3.6m0 -3.6l-3.6 3.6M513.4 188.7l3.6 3.6m0 -3.6l-3.6 3.6M505.9 177.3l3.6 3.6m0 -3.6l-3.6 3.6M505.5 201.7l3.6 3.6m0 -3.6l-3.6 3.6M483.5 218.4l3.6 3.6m0 -3.6l-3.6 3.6M513.2 193.4l3.6 3.6m0 -3.6l-3.6 3.6M483.1 219.3l3.6 3.6m0 -3.6l-3.6 3.6M516.9 188.9l3.6 3.6m0 -3.6l-3.6 3.6M509.9 184.9l3.6 3.6m0 -3.6l-3.6 3.6M498.8 209.5l3.6 3.6m0 -3.6l-3.6 3.6M511.5 189.3l3.6 3.6m0 -3.6l-3.6 3.6M507.2 177.8l3.6 3.6m0 -3.6l-3.6 3.6M511.2 179.6l3.6 3.6m0 -3.6l-3.6 3.6M493.7 204.8l3.6 3.6m0 -3.6l-3.6 3.6M520.7 167.6l3.6 3.6m0 -3.6l-3.6 3.6M495.5 207l3.6 3.6m0 -3.6l-3.6 3.6M521.7 162.7l3.6 3.6m0 -3.6l-3.6 3.6M531.4 161.7l3.6 3.6m0 -3.6l-3.6 3.6M490.1 201.3l3.6 3.6m0 -3.6l-3.6 3.6M506.7 202l3.6 3.6m0 -3.6l-3.6 3.6M505.9 194.8l3.6 3.6m0 -3.6l-3.6 3.6M509.9 199.4l3.6 3.6m0 -3.6l-3.6 3.6M495 198.7l3.6 3.6m0 -3.6l-3.6 3.6M494 192.8l3.6 3.6m0 -3.6l-3.6 3.6M497.6 203.1l3.6 3.6m0 -3.6l-3.6 3.6M516.5 168.4l3.6 3.6m0 -3.6l-3.6 3.6M522.7 178.3l3.6 3.6m0 -3.6l-3.6 3.6M498.3 202.4l3.6 3.6m0 -3.6l-3.6 3.6M509.9 197.3l3.6 3.6m0 -3.6l-3.6 3.6M498.8 194.7l3.6 3.6m0 -3.6l-3.6 3.6M492.3 203l3.6 3.6m0 -3.6l-3.6 3.6M517.4 189.7l3.6 3.6m0 -3.6l-3.6 3.6M489 216.1l3.6 3.6m0 -3.6l-3.6 3.6M530.1 161.2l3.6 3.6m0 -3.6l-3.6 3.6M520.1 167.4l3.6 3.6m0 -3.6l-3.6 3.6M496.8 194.3l3.6 3.6m0 -3.6l-3.6 3.6M525.8 174.5l3.6 3.6m0 -3.6l-3.6 3.6M531.9 160.3l3.6 3.6m0 -3.6l-3.6 3.6M519.9 178.4l3.6 3.6m0 -3.6l-3.6 3.6M497.7 193l3.6 3.6m0 -3.6l-3.6 3.6M518.8 163.6l3.6 3.6m0 -3.6l-3.6 3.6M528.6 169.8l3.6 3.6m0 -3.6l-3.6 3.6M506.4 186.6l3.6 3.6m0 -3.6l-3.6 3.6M512.2 170.7l3.6 3.6m0 -3.6l-3.6 3.6M514.2 169.3l3.6 3.6m0 -3.6l-3.6 3.6M512.5 175.2l3.6 3.6m0 -3.6l-3.6 3.6M493.2 205l3.6 3.6m0 -3.6l-3.6 3.6M520.3 168.4l3.6 3.6m0 -3.6l-3.6 3.6M518.3 183.1l3.6 3.6m0 -3.6l-3.6 3.6M504 205.6l3.6 3.6m0 -3.6l-3.6 3.6M496.3 188.9l3.6 3.6m0 -3.6l-3.6 3.6M508.3 179.8l3.6 3.6m0 -3.6l-3.6 3.6M504.9 187.4l3.6 3.6m0 -3.6l-3.6 3.6M506.1 205.2l3.6 3.6m0 -3.6l-3.6 3.6M523.6 177.6l3.6 3.6m0 -3.6l-3.6 3.6M500.5 203.2l3.6 3.6m0 -3.6l-3.6 3.6M528 158.9l3.6 3.6m0 -3.6l-3.6 3.6M518.8 176.8l3.6 3.6m0 -3.6l-3.6 3.6M529.2 162.4l3.6 3.6m0 -3.6l-3.6 3.6M515.9 177.3l3.6 3.6m0 -3.6l-3.6 3.6M507.2 177.1l3.6 3.6m0 -3.6l-3.6 3.6M504.1 191.4l3.6 3.6m0 -3.6l-3.6 3.6M512.5 169l3.6 3.6m0 -3.6l-3.6 3.6M517 187l3.6 3.6m0 -3.6l-3.6 3.6M485.5 217.1l3.6 3.6m0 -3.6l-3.6 3.6M515 180.5l3.6 3.6m0 -3.6l-3.6 3.6M525.9 166.9l3.6 3.6m0 -3.6l-3.6 3.6M507.5 175.9l3.6 3.6m0 -3.6l-3.6 3.6M495.5 200.3l3.6 3.6m0 -3.6l-3.6 3.6M508 185.5l3.6 3.6m0 -3.6l-3.6 3.6M510.2 179.3l3.6 3.6m0 -3.6l-3.6 3.6M529.8 159.3l3.6 3.6m0 -3.6l-3.6 3.6M490.9 217.2l3.6 3.6m0 -3.6l-3.6 3.6M515.9 176.8l3.6 3.6m0 -3.6l-3.6 3.6M506.7 180.8l3.6 3.6m0 -3.6l-3.6 3.6M513.1 187.2l3.6 3.6m0 -3.6l-3.6 3.6M500 188l3.6 3.6m0 -3.6l-3.6 3.6M529.8 161.9l3.6 3.6m0 -3.6l-3.6 3.6M497.9 197.1l3.6 3.6m0 -3.6l-3.6 3.6M514.8 180.8l3.6 3.6m0 -3.6l-3.6 3.6M498.2 209l3.6 3.6m0 -3.6l-3.6 3.6M496.4 191.9l3.6 3.6m0 -3.6l-3.6 3.6M522.2 183l3.6 3.6m0 -3.6l-3.6 3.6M522.9 170.9l3.6 3.6m0 -3.6l-3.6 3.6M494.1 207.8l3.6 3.6m0 -3.6l-3.6 3.6M488.6 207.2l3.6 3.6m0 -3.6l-3.6 3.6M510.5 175.4l3.6 3.6m0 -3.6l-3.6 3.6M503.3 194.3l3.6 3.6m0 -3.6l-3.6 3.6M492.1 201.7l3.6 3.6m0 -3.6l-3.6 3.6M506.9 201l3.6 3.6m0 -3.6l-3.6 3.6M497.4 207l3.6 3.6m0 -3.6l-3.6 3.6M492.5 211.4l3.6 3.6m0 -3.6l-3.6 3.6M516.6 169.9l3.6 3.6m0 -3.6l-3.6 3.6M503.4 208.4l3.6 3.6m0 -3.6l-3.6 3.6M508.2 182.9l3.6 3.6m0 -3.6l-3.6 3.6M502.3 185.4l3.6 3.6m0 -3.6l-3.6 3.6M512.6 169.2l3.6 3.6m0 -3.6l-3.6 3.6M483.8 215.6l3.6 3.6m0 -3.6l-3.6 3.6M486.9 216.2l3.6 3.6m0 -3.6l-3.6 3.6M504.8 183.6l3.6 3.6m0 -3.6l-3.6 3.6M506.5 197.5l3.6 3.6m0 -3.6l-3.6 3.6M487.5 220.7l3.6 3.6m0 -3.6l-3.6 3.6M495.9 212.3l3.6 3.6m0 -3.6l-3.6 3.6M495.7 190.9l3.6 3.6m0 -3.6l-3.6 3.6M510.2 175.7l3.6 3.6m0 -3.6l-3.6 3.6M511 196.7l3.6 3.6m0 -3.6l-3.6 3.6M524.5 164l3.6 3.6m0 -3.6l-3.6 3.6M505.3 197.6l3.6 3.6m0 -3.6l-3.6 3.6M488.3 214.4l3.6 3.6m0 -3.6l-3.6 3.6M524.9 167.1l3.6 3.6m0 -3.6l-3.6 3.6M498.6 197.7l3.6 3.6m0 -3.6l-3.6 3.6M525.4 172.2l3.6 3.6m0 -3.6l-3.6 3.6M510.3 199.4l3.6 3.6m0 -3.6l-3.6 3.6M504.9 198.4l3.6 3.6m0 -3.6l-3.6 3.6M483.6 214.7l3.6 3.6m0 -3.6l-3.6 3.6M509.4 197.8l3.6 3.6m0 -3.6l-3.6 3.6M513.9 182.3l3.6 3.6m0 -3.6l-3.6 3.6M511.6 183.2l3.6 3.6m0 -3.6l-3.6 3.6M484.4 215.2l3.6 3.6m0 -3.6l-3.6 3.6M518.6 184.9l3.6 3.6m0 -3.6l-3.6 3.6M523.4 172.1l3.6 3.6m0 -3.6l-3.6 3.6M527.3 167.2l3.6 3.6m0 -3.6l-3.6 3.6M515.9 190.7l3.6 3.6m0 -3.6l-3.6 3.6M524.1 163.8l3.6 3.6m0 -3.6l-3.6 3.6M497.4 207.3l3.6 3.6m0 -3.6l-3.6 3.6M514.1 168.5l3.6 3.6m0 -3.6l-3.6 3.6M500.9 189.5l3.6 3.6m0 -3.6l-3.6 3.6M523.2 165.2l3.6 3.6m0 -3.6l-3.6 3.6M499.1 200.5l3.6 3.6m0 -3.6l-3.6 3.6M495.1 199.8l3.6 3.6m0 -3.6l-3.6 3.6M484.9 219.7l3.6 3.6m0 -3.6l-3.6 3.6M515.7 187.5l3.6 3.6m0 -3.6l-3.6 3.6M496.1 203.3l3.6 3.6m0 -3.6l-3.6 3.6M493 197.6l3.6 3.6m0 -3.6l-3.6 3.6M505.2 190.3l3.6 3.6m0 -3.6l-3.6 3.6M513.6 185l3.6 3.6m0 -3.6l-3.6 3.6M514.4 193.4l3.6 3.6m0 -3.6l-3.6 3.6M496.3 198l3.6 3.6m0 -3.6l-3.6 3.6M528 160.5l3.6 3.6m0 -3.6l-3.6 3.6M507.4 197.3l3.6 3.6m0 -3.6l-3.6 3.6M509.1 198.6l3.6 3.6m0 -3.6l-3.6 3.6M493.4 198.6l3.6 3.6m0 -3.6l-3.6 3.6M499.6 206.8l3.6 3.6m0 -3.6l-3.6 3.6M502.2 197.7l3.6 3.6m0 -3.6l-3.6 3.6M516 186l3.6 3.6m0 -3.6l-3.6 3.6M492.3 206.1l3.6 3.6m0 -3.6l-3.6 3.6M505.1 191.6l3.6 3.6m0 -3.6l-3.6 3.6M498.6 193.1l3.6 3.6m0 -3.6l-3.6 3.6M520.7 164.4l3.6 3.6m0 -3.6l-3.6 3.6M494.9 206l3.6 3.6m0 -3.6l-3.6 3.6M509.6 176.1l3.6 3.6m0 -3.6l-3.6 3.6M497.5 204.9l3.6 3.6m0 -3.6l-3.6 3.6M523.4 174.4l3.6 3.6m0 -3.6l-3.6 3.6M529.4 164.8l3.6 3.6m0 -3.6l-3.6 3.6M517 172.2l3.6 3.6m0 -3.6l-3.6 3.6M501.2 190.4l3.6 3.6m0 -3.6l-3.6 3.6M527.9 161.3l3.6 3.6m0 -3.6l-3.6 3.6M506.5 199.3l3.6 3.6m0 -3.6l-3.6 3.6M517.2 174.4l3.6 3.6m0 -3.6l-3.6 3.6M522.8 166.5l3.6 3.6m0 -3.6l-3.6 3.6M506.3 184.3l3.6 3.6m0 -3.6l-3.6 3.6M503 182.4l3.6 3.6m0 -3.6l-3.6 3.6M501.9 205.1l3.6 3.6m0 -3.6l-3.6 3.6M498.9 192.1l3.6 3.6m0 -3.6l-3.6 3.6M502.5 202.1l3.6 3.6m0 -3.6l-3.6 3.6M503.9 207.9l3.6 3.6m0 -3.6l-3.6 3.6M510.8 196.9l3.6 3.6m0 -3.6l-3.6 3.6M512.5 176l3.6 3.6m0 -3.6l-3.6 3.6M511.5 177.2l3.6 3.6m0 -3.6l-3.6 3.6M492.6 204.7l3.6 3.6m0 -3.6l-3.6 3.6M526.8 166.3l3.6 3.6m0 -3.6l-3.6 3.6M503 201.6l3.6 3.6m0 -3.6l-3.6 3.6M522.9 170.5l3.6 3.6m0 -3.6l-3.6 3.6M486.4 219.5l3.6 3.6m0 -3.6l-3.6 3.6M491 200.1l3.6 3.6m0 -3.6l-3.6 3.6M520.1 164.6l3.6 3.6m0 -3.6l-3.6 3.6M501.6 202.6l3.6 3.6m0 -3.6l-3.6 3.6M519.1 180.3l3.6 3.6m0 -3.6l-3.6 3.6M495.4 206.5l3.6 3.6m0 -3.6l-3.6 3.6M495.9 200l3.6 3.6m0 -3.6l-3.6 3.6M527 164.4l3.6 3.6m0 -3.6l-3.6 3.6M505.7 186.7l3.6 3.6m0 -3.6l-3.6 3.6M498.2 198.2l3.6 3.6m0 -3.6l-3.6 3.6M498.8 202.6l3.6 3.6m0 -3.6l-3.6 3.6M508.6 197l3.6 3.6m0 -3.6l-3.6 3.6M520 178l3.6 3.6m0 -3.6l-3.6 3.6M492.2 203.7l3.6 3.6m0 -3.6l-3.6 3.6M518.6 184.2l3.6 3.6m0 -3.6l-3.6 3.6M511.6 177.1l3.6 3.6m0 -3.6l-3.6 3.6M515.1 190.4l3.6 3.6m0 -3.6l-3.6 3.6M525.8 167.6l3.6 3.6m0 -3.6l-3.6 3.6M516.8 185.4l3.6 3.6m0 -3.6l-3.6 3.6M515.1 176.4l3.6 3.6m0 -3.6l-3.6 3.6M523 163.4l3.6 3.6m0 -3.6l-3.6 3.6M508.3 178.1l3.6 3.6m0 -3.6l-3.6 3.6M500.6 189.7l3.6 3.6m0 -3.6l-3.6 3.6M511.8 191.8l3.6 3.6m0 -3.6l-3.6 3.6M494.9 211.2l3.6 3.6m0 -3.6l-3.6 3.6M497.1 195.9l3.6 3.6m0 -3.6l-3.6 3.6M527.1 170.5l3.6 3.6m0 -3.6l-3.6 3.6M516.5 176.1l3.6 3.6m0 -3.6l-3.6 3.6M501.3 189.7l3.6 3.6m0 -3.6l-3.6 3.6M495.6 214.6l3.6 3.6m0 -3.6l-3.6 3.6M497.8 206.3l3.6 3.6m0 -3.6l-3.6 3.6M527.1 162.2l3.6 3.6m0 -3.6l-3.6 3.6M493.8 212.7l3.6 3.6m0 -3.6l-3.6 3.6M526.4 159.5l3.6 3.6m0 -3.6l-3.6 3.6M526.1 168.7l3.6 3.6m0 -3.6l-3.6 3.6M510.1 192.2l3.6 3.6m0 -3.6l-3.6 3.6M509.6 179.7l3.6 3.6m0 -3.6l-3.6 3.6M499.6 201.2l3.6 3.6m0 -3.6l-3.6 3.6M490.9 211.7l3.6 3.6m0 -3.6l-3.6 3.6M518.3 180.7l3.6 3.6m0 -3.6l-3.6 3.6M484.8 217.3l3.6 3.6m0 -3.6l-3.6 3.6M484.5 212.6l3.6 3.6m0 -3.6l-3.6 3.6M515.2 177.8l3.6 3.6m0 -3.6l-3.6 3.6M496.8 190.9l3.6 3.6m0 -3.6l-3.6 3.6M517.5 167.5l3.6 3.6m0 -3.6l-3.6 3.6M501.8 199.6l3.6 3.6m0 -3.6l-3.6 3.6M486.3 207.8l3.6 3.6m0 -3.6l-3.6 3.6M512.9 169.9l3.6 3.6m0 -3.6l-3.6 3.6M526.1 167.8l3.6 3.6m0 -3.6l-3.6 3.6M507.3 197.4l3.6 3.6m0 -3.6l-3.6 3.6M506.1 180.4l3.6 3.6m0 -3.6l-3.6 3.6M501 184.9l3.6 3.6m0 -3.6l-3.6 3.6M502.6 193.9l3.6 3.6m0 -3.6l-3.6 3.6M483.3 219l3.6 3.6m0 -3.6l-3.6 3.6M523.9 169.3l3.6 3.6m0 -3.6l-3.6 3.6M504.1 204.5l3.6 3.6m0 -3.6l-3.6 3.6M510.4 196.3l3.6 3.6m0 -3.6l-3.6 3.6M503.6 188.4l3.6 3.6m0 -3.6l-3.6 3.6M502.1 182.1l3.6 3.6m0 -3.6l-3.6 3.6M522.5 178.7l3.6 3.6m0 -3.6l-3.6 3.6M526.1 166.9l3.6 3.6m0 -3.6l-3.6 3.6M501.6 184l3.6 3.6m0 -3.6l-3.6 3.6M495.1 208.7l3.6 3.6m0 -3.6l-3.6 3.6M507.3 189.2l3.6 3.6m0 -3.6l-3.6 3.6M525.1 168.5l3.6 3.6m0 -3.6l-3.6 3.6M517.4 167.1l3.6 3.6m0 -3.6l-3.6 3.6M511.8 184.1l3.6 3.6m0 -3.6l-3.6 3.6M509 198.9l3.6 3.6m0 -3.6l-3.6 3.6M489.2 206.5l3.6 3.6m0 -3.6l-3.6 3.6M502.2 190.8l3.6 3.6m0 -3.6l-3.6 3.6M498.3 191.2l3.6 3.6m0 -3.6l-3.6 3.6M495 191.5l3.6 3.6m0 -3.6l-3.6 3.6M500.8 201.7l3.6 3.6m0 -3.6l-3.6 3.6M526.3 165.9l3.6 3.6m0 -3.6l-3.6 3.6M527.8 170.3l3.6 3.6m0 -3.6l-3.6 3.6M496.9 212.7l3.6 3.6m0 -3.6l-3.6 3.6M512.6 196.7l3.6 3.6m0 -3.6l-3.6 3.6M495.6 194.8l3.6 3.6m0 -3.6l-3.6 3.6M492.9 203.5l3.6 3.6m0 -3.6l-3.6 3.6M492 203.6l3.6 3.6m0 -3.6l-3.6 3.6M504.9 184.8l3.6 3.6m0 -3.6l-3.6 3.6M511.5 171.6l3.6 3.6m0 -3.6l-3.6 3.6M523.9 167.9l3.6 3.6m0 -3.6l-3.6 3.6M508.6 196.7l3.6 3.6m0 -3.6l-3.6 3.6M510.6 196.2l3.6 3.6m0 -3.6l-3.6 3.6M506.8 174.8l3.6 3.6m0 -3.6l-3.6 3.6M509.4 178.2l3.6 3.6m0 -3.6l-3.6 3.6M492.4 211.2l3.6 3.6m0 -3.6l-3.6 3.6M503.6 180.4l3.6 3.6m0 -3.6l-3.6 3.6M501.1 191l3.6 3.6m0 -3.6l-3.6 3.6M497.6 197.3l3.6 3.6m0 -3.6l-3.6 3.6M502.6 195.5l3.6 3.6m0 -3.6l-3.6 3.6M526.2 170.3l3.6 3.6m0 -3.6l-3.6 3.6M509.1 183.2l3.6 3.6m0 -3.6l-3.6 3.6M525.9 173.2l3.6 3.6m0 -3.6l-3.6 3.6M493.7 192.7l3.6 3.6m0 -3.6l-3.6 3.6M497.4 203.9l3.6 3.6m0 -3.6l-3.6 3.6M491.5 218.3l3.6 3.6m0 -3.6l-3.6 3.6M509.8 185.2l3.6 3.6m0 -3.6l-3.6 3.6M497.5 208l3.6 3.6m0 -3.6l-3.6 3.6M499.5 191.9l3.6 3.6m0 -3.6l-3.6 3.6M524.1 176.5l3.6 3.6m0 -3.6l-3.6 3.6M508.5 193.8l3.6 3.6m0 -3.6l-3.6 3.6M522.7 160.7l3.6 3.6m0 -3.6l-3.6 3.6M520.9 181l3.6 3.6m0 -3.6l-3.6 3.6M490.3 206.9l3.6 3.6m0 -3.6l-3.6 3.6M514.3 179.6l3.6 3.6m0 -3.6l-3.6 3.6M511.8 171l3.6 3.6m0 -3.6l-3.6 3.6M501 185l3.6 3.6m0 -3.6l-3.6 3.6M518.1 180.2l3.6 3.6m0 -3.6l-3.6 3.6M499.2 185.4l3.6 3.6m0 -3.6l-3.6 3.6M511.9 194l3.6 3.6m0 -3.6l-3.6 3.6M497.7 193.1l3.6 3.6m0 -3.6l-3.6 3.6M512.4 180l3.6 3.6m0 -3.6l-3.6 3.6M505 202.5l3.6 3.6m0 -3.6l-3.6 3.6M499.8 211.2l3.6 3.6m0 -3.6l-3.6 3.6M492.3 200.7l3.6 3.6m0 -3.6l-3.6 3.6M495.9 204.7l3.6 3.6m0 -3.6l-3.6 3.6M508.5 185.1l3.6 3.6m0 -3.6l-3.6 3.6M497.3 195.7l3.6 3.6m0 -3.6l-3.6 3.6M503.1 198l3.6 3.6m0 -3.6l-3.6 3.6M515.8 165.1l3.6 3.6m0 -3.6l-3.6 3.6M495.1 194.9l3.6 3.6m0 -3.6l-3.6 3.6M524 171.2l3.6 3.6m0 -3.6l-3.6 3.6M521 171.5l3.6 3.6m0 -3.6l-3.6 3.6M503.6 182.1l3.6 3.6m0 -3.6l-3.6 3.6M527.5 164.1l3.6 3.6m0 -3.6l-3.6 3.6M499 212.1l3.6 3.6m0 -3.6l-3.6 3.6M512.2 185.4l3.6 3.6m0 -3.6l-3.6 3.6M501.3 197.3l3.6 3.6m0 -3.6l-3.6 3.6M504.8 183.3l3.6 3.6m0 -3.6l-3.6 3.6M499.8 197.8l3.6 3.6m0 -3.6l-3.6 3.6M497.2 197.3l3.6 3.6m0 -3.6l-3.6 3.6M507.3 177.9l3.6 3.6m0 -3.6l-3.6 3.6M514.6 194.5l3.6 3.6m0 -3.6l-3.6 3.6M526.7 160.8l3.6 3.6m0 -3.6l-3.6 3.6M494.4 203.1l3.6 3.6m0 -3.6l-3.6 3.6M513.7 178l3.6 3.6m0 -3.6l-3.6 3.6M508.5 200.6l3.6 3.6m0 -3.6l-3.6 3.6M495.8 203.2l3.6 3.6m0 -3.6l-3.6 3.6M490.2 217.6l3.6 3.6m0 -3.6l-3.6 3.6M505.1 196.4l3.6 3.6m0 -3.6l-3.6 3.6M504.4 200.5l3.6 3.6m0 -3.6l-3.6 3.6M485.5 213.6l3.6 3.6m0 -3.6l-3.6 3.6M489.1 209l3.6 3.6m0 -3.6l-3.6 3.6M517.5 172.7l3.6 3.6m0 -3.6l-3.6 3.6M517 174.2l3.6 3.6m0 -3.6l-3.6 3.6M521.2 162.1l3.6 3.6m0 -3.6l-3.6 3.6M487.5 207.5l3.6 3.6m0 -3.6l-3.6 3.6M502 193.3l3.6 3.6m0 -3.6l-3.6 3.6M505.5 192.9l3.6 3.6m0 -3.6l-3.6 3.6M504.9 196.8l3.6 3.6m0 -3.6l-3.6 3.6" fill="none" stroke="#a8a8a8" stroke-width="0.75" clip-path="url(#p4b)"/>
<path d="M475.5 198.6a2 2 0 1 0 4 0a2 2 0 1 0 -4 0M452.3 222.9a2 2 0 1 0 4 0a2 2 0 1 0 -4 0M486.4 184.3a2 2 0 1 0 4 0a2 2 0 1 0 -4 0M488.9 191.9a2 2 0 1 0 4 0a2 2 0 1 0 -4 0M476 211.4a2 2 0 1 0 4 0a2 2 0 1 0 -4 0M467.9 210.6a2 2 0 1 0 4 0a2 2 0 1 0 -4 0M488.6 208.8a2 2 0 1 0 4 0a2 2 0 1 0 -4 0M472.5 206.4a2 2 0 1 0 4 0a2 2 0 1 0 -4 0M479 193.8a2 2 0 1 0 4 0a2 2 0 1 0 -4 0M483.3 190.5a2 2 0 1 0 4 0a2 2 0 1 0 -4 0M490.4 211a2 2 0 1 0 4 0a2 2 0 1 0 -4 0M475.6 201.1a2 2 0 1 0 4 0a2 2 0 1 0 -4 0M495.5 187.5a2 2 0 1 0 4 0a2 2 0 1 0 -4 0M490.4 193.8a2 2 0 1 0 4 0a2 2 0 1 0 -4 0M453.1 220.7a2 2 0 1 0 4 0a2 2 0 1 0 -4 0M496.2 174.4a2 2 0 1 0 4 0a2 2 0 1 0 -4 0M483.7 210.4a2 2 0 1 0 4 0a2 2 0 1 0 -4 0M460.5 212.3a2 2 0 1 0 4 0a2 2 0 1 0 -4 0M489.6 196.8a2 2 0 1 0 4 0a2 2 0 1 0 -4 0M478 194.3a2 2 0 1 0 4 0a2 2 0 1 0 -4 0M496.1 210.5a2 2 0 1 0 4 0a2 2 0 1 0 -4 0M489.9 206.9a2 2 0 1 0 4 0a2 2 0 1 0 -4 0M467.6 203.4a2 2 0 1 0 4 0a2 2 0 1 0 -4 0M460.9 219.7a2 2 0 1 0 4 0a2 2 0 1 0 -4 0M470.4 204.5a2 2 0 1 0 4 0a2 2 0 1 0 -4 0M490.6 210.1a2 2 0 1 0 4 0a2 2 0 1 0 -4 0M491.6 179.7a2 2 0 1 0 4 0a2 2 0 1 0 -4 0M454.3 215.6a2 2 0 1 0 4 0a2 2 0 1 0 -4 0M483.1 219.5a2 2 0 1 0 4 0a2 2 0 1 0 -4 0M476.3 216.2a2 2 0 1 0 4 0a2 2 0 1 0 -4 0M471.7 205.8a2 2 0 1 0 4 0a2 2 0 1 0 -4 0M503.6 195.8a2 2 0 1 0 4 0a2 2 0 1 0 -4 0M463.4 206.4a2 2 0 1 0 4 0a2 2 0 1 0 -4 0M501.9 190.9a2 2 0 1 0 4 0a2 2 0 1 0 -4 0M463.3 203.1a2 2 0 1 0 4 0a2 2 0 1 0 -4 0M461 213a2 2 0 1 0 4 0a2 2 0 1 0 -4 0M503.1 185.6a2 2 0 1 0 4 0a2 2 0 1 0 -4 0M456.9 217.2a2 2 0 1 0 4 0a2 2 0 1 0 -4 0M459.5 209.9a2 2 0 1 0 4 0a2 2 0 1 0 -4 0M480.9 202.6a2 2 0 1 0 4 0a2 2 0 1 0 -4 0M499.2 179.2a2 2 0 1 0 4 0a2 2 0 1 0 -4 0M457.8 221.4a2 2 0 1 0 4 0a2 2 0 1 0 -4 0M493.4 185a2 2 0 1 0 4 0a2 2 0 1 0 -4 0M494.8 182.5a2 2 0 1 0 4 0a2 2 0 1 0 -4 0M490.3 187.6a2 2 0 1 0 4 0a2 2 0 1 0 -4 0M499.6 206.3a2 2 0 1 0 4 0a2 2 0 1 0 -4 0M456.7 220.3a2 2 0 1 0 4 0a2 2 0 1 0 -4 0M471.7 217.7a2 2 0 1 0 4 0a2 2 0 1 0 -4 0M448.5 221.1a2 2 0 1 0 4 0a2 2 0 1 0 -4 0M462.6 218a2 2 0 1 0 4 0a2 2 0 1 0 -4 0M471 196.6a2 2 0 1 0 4 0a2 2 0 1 0 -4 0M501.8 180.3a2 2 0 1 0 4 0a2 2 0 1 0 -4 0M471.2 197.1a2 2 0 1 0 4 0a2 2 0 1 0 -4 0M482.8 216.4a2 2 0 1 0 4 0a2 2 0 1 0 -4 0M490.9 203.1a2 2 0 1 0 4 0a2 2 0 1 0 -4 0M494.5 211.7a2 2 0 1 0 4 0a2 2 0 1 0 -4 0M455.1 210.8a2 2 0 1 0 4 0a2 2 0 1 0 -4 0M498.5 183.5a2 2 0 1 0 4 0a2 2 0 1 0 -4 0M450.5 222.4a2 2 0 1 0 4 0a2 2 0 1 0 -4 0M495.9 197.6a2 2 0 1 0 4 0a2 2 0 1 0 -4 0M470.3 198.4a2 2 0 1 0 4 0a2 2 0 1 0 -4 0M504 196.5a2 2 0 1 0 4 0a2 2 0 1 0 -4 0M482.9 214.6a2 2 0 1 0 4 0a2 2 0 1 0 -4 0M487.9 190.7a2 2 0 1 0 4 0a2 2 0 1 0 -4 0M478.2 213.2a2 2 0 1 0 4 0a2 2 0 1 0 -4 0M460.5 224a2 2 0 1 0 4 0a2 2 0 1 0 -4 0M481.3 201.9a2 2 0 1 0 4 0a2 2 0 1 0 -4 0M488.8 183.4a2 2 0 1 0 4 0a2 2 0 1 0 -4 0M500.5 177.5a2 2 0 1 0 4 0a2 2 0 1 0 -4 0M479.1 216.5a2 2 0 1 0 4 0a2 2 0 1 0 -4 0M479.4 221a2 2 0 1 0 4 0a2 2 0 1 0 -4 0M500.9 178a2 2 0 1 0 4 0a2 2 0 1 0 -4 0M461.9 210.4a2 2 0 1 0 4 0a2 2 0 1 0 -4 0M469.4 218a2 2 0 1 0 4 0a2 2 0 1 0 -4 0M490.9 194.2a2 2 0 1 0 4 0a2 2 0 1 0 -4 0M459 213.5a2 2 0 1 0 4 0a2 2 0 1 0 -4 0M477.5 221.2a2 2 0 1 0 4 0a2 2 0 1 0 -4 0M489.5 213.6a2 2 0 1 0 4 0a2 2 0 1 0 -4 0M488.1 197a2 2 0 1 0 4 0a2 2 0 1 0 -4 0M468 221.8a2 2 0 1 0 4 0a2 2 0 1 0 -4 0M478.8 208.5a2 2 0 1 0 4 0a2 2 0 1 0 -4 0M476.9 217.9a2 2 0 1 0 4 0a2 2 0 1 0 -4 0M462.6 204a2 2 0 1 0 4 0a2 2 0 1 0 -4 0M487 212.9a2 2 0 1 0 4 0a2 2 0 1 0 -4 0M488.4 198.5a2 2 0 1 0 4 0a2 2 0 1 0 -4 0M484.8 215.1a2 2 0 1 0 4 0a2 2 0 1 0 -4 0M460.5 206.5a2 2 0 1 0 4 0a2 2 0 1 0 -4 0M459.5 222.6a2 2 0 1 0 4 0a2 2 0 1 0 -4 0M487.6 218.4a2 2 0 1 0 4 0a2 2 0 1 0 -4 0M503.7 192.8a2 2 0 1 0 4 0a2 2 0 1 0 -4 0M457.8 208.7a2 2 0 1 0 4 0a2 2 0 1 0 -4 0M491.4 213.1a2 2 0 1 0 4 0a2 2 0 1 0 -4 0M495.2 176.6a2 2 0 1 0 4 0a2 2 0 1 0 -4 0M467.3 208.3a2 2 0 1 0 4 0a2 2 0 1 0 -4 0M481.7 218.5a2 2 0 1 0 4 0a2 2 0 1 0 -4 0M492.5 212.6a2 2 0 1 0 4 0a2 2 0 1 0 -4 0M461.3 205.4a2 2 0 1 0 4 0a2 2 0 1 0 -4 0M485 183.3a2 2 0 1 0 4 0a2 2 0 1 0 -4 0M485 187.3a2 2 0 1 0 4 0a2 2 0 1 0 -4 0M483.2 201.8a2 2 0 1 0 4 0a2 2 0 1 0 -4 0M495.6 192.2a2 2 0 1 0 4 0a2 2 0 1 0 -4 0M471.9 216.7a2 2 0 1 0 4 0a2 2 0 1 0 -4 0M498.7 201a2 2 0 1 0 4 0a2 2 0 1 0 -4 0M480.5 192.3a2 2 0 1 0 4 0a2 2 0 1 0 -4 0M482.6 218.3a2 2 0 1 0 4 0a2 2 0 1 0 -4 0M500.4 192.2a2 2 0 1 0 4 0a2 2 0 1 0 -4 0M505.2 187a2 2 0 1 0 4 0a2 2 0 1 0 -4 0M503.7 199.9a2 2 0 1 0 4 0a2 2 0 1 0 -4 0M461.4 217.8a2 2 0 1 0 4 0a2 2 0 1 0 -4 0M499.3 187.7a2 2 0 1 0 4 0a2 2 0 1 0 -4 0M481.6 192.2a2 2 0 1 0 4 0a2 2 0 1 0 -4 0M500.6 186.2a2 2 0 1 0 4 0a2 2 0 1 0 -4 0M479.7 211.9a2 2 0 1 0 4 0a2 2 0 1 0 -4 0M477.7 217.9a2 2 0 1 0 4 0a2 2 0 1 0 -4 0M469 199.5a2 2 0 1 0 4 0a2 2 0 1 0 -4 0M475.6 215.7a2 2 0 1 0 4 0a2 2 0 1 0 -4 0M481.3 196.8a2 2 0 1 0 4 0a2 2 0 1 0 -4 0M469.4 222.4a2 2 0 1 0 4 0a2 2 0 1 0 -4 0M490.5 191.4a2 2 0 1 0 4 0a2 2 0 1 0 -4 0M489.2 203.2a2 2 0 1 0 4 0a2 2 0 1 0 -4 0M472.8 216.5a2 2 0 1 0 4 0a2 2 0 1 0 -4 0M497.7 198.4a2 2 0 1 0 4 0a2 2 0 1 0 -4 0M451.7 214.7a2 2 0 1 0 4 0a2 2 0 1 0 -4 0M472.7 202.5a2 2 0 1 0 4 0a2 2 0 1 0 -4 0M492.3 206.4a2 2 0 1 0 4 0a2 2 0 1 0 -4 0M503.4 191a2 2 0 1 0 4 0a2 2 0 1 0 -4 0M460.2 212.4a2 2 0 1 0 4 0a2 2 0 1 0 -4 0M500 185.3a2 2 0 1 0 4 0a2 2 0 1 0 -4 0M472.1 219a2 2 0 1 0 4 0a2 2 0 1 0 -4 0M488.7 193.2a2 2 0 1 0 4 0a2 2 0 1 0 -4 0M492.7 202a2 2 0 1 0 4 0a2 2 0 1 0 -4 0M479.5 189a2 2 0 1 0 4 0a2 2 0 1 0 -4 0M501 196.2a2 2 0 1 0 4 0a2 2 0 1 0 -4 0M467.1 205.3a2 2 0 1 0 4 0a2 2 0 1 0 -4 0M497.8 205.6a2 2 0 1 0 4 0a2 2 0 1 0 -4 0M498.3 204a2 2 0 1 0 4 0a2 2 0 1 0 -4 0M481.3 196.1a2 2 0 1 0 4 0a2 2 0 1 0 -4 0M466.9 198.9a2 2 0 1 0 4 0a2 2 0 1 0 -4 0M457.7 222a2 2 0 1 0 4 0a2 2 0 1 0 -4 0M458.7 218.4a2 2 0 1 0 4 0a2 2 0 1 0 -4 0M500.1 200.7a2 2 0 1 0 4 0a2 2 0 1 0 -4 0M486.1 200.8a2 2 0 1 0 4 0a2 2 0 1 0 -4 0M500.1 207a2 2 0 1 0 4 0a2 2 0 1 0 -4 0M498.8 208.6a2 2 0 1 0 4 0a2 2 0 1 0 -4 0M496.5 212.2a2 2 0 1 0 4 0a2 2 0 1 0 -4 0M457.8 212.4a2 2 0 1 0 4 0a2 2 0 1 0 -4 0M490.7 208.5a2 2 0 1 0 4 0a2 2 0 1 0 -4 0M479.7 196.2a2 2 0 1 0 4 0a2 2 0 1 0 -4 0M462.6 220a2 2 0 1 0 4 0a2 2 0 1 0 -4 0M485 194.4a2 2 0 1 0 4 0a2 2 0 1 0 -4 0M488.8 183.3a2 2 0 1 0 4 0a2 2 0 1 0 -4 0M492.4 179.6a2 2 0 1 0 4 0a2 2 0 1 0 -4 0M481.7 206.3a2 2 0 1 0 4 0a2 2 0 1 0 -4 0M470.4 222.7a2 2 0 1 0 4 0a2 2 0 1 0 -4 0M494.8 191.9a2 2 0 1 0 4 0a2 2 0 1 0 -4 0M470.2 199.6a2 2 0 1 0 4 0a2 2 0 1 0 -4 0M456.9 210.9a2 2 0 1 0 4 0a2 2 0 1 0 -4 0M488.9 212.5a2 2 0 1 0 4 0a2 2 0 1 0 -4 0M495.4 192.5a2 2 0 1 0 4 0a2 2 0 1 0 -4 0M467.7 215.5a2 2 0 1 0 4 0a2 2 0 1 0 -4 0M490.6 196.1a2 2 0 1 0 4 0a2 2 0 1 0 -4 0M474.3 204.3a2 2 0 1 0 4 0a2 2 0 1 0 -4 0M482 203.6a2 2 0 1 0 4 0a2 2 0 1 0 -4 0M493.5 176a2 2 0 1 0 4 0a2 2 0 1 0 -4 0M458.2 206.7a2 2 0 1 0 4 0a2 2 0 1 0 -4 0M458.4 207.3a2 2 0 1 0 4 0a2 2 0 1 0 -4 0M462.4 220.2a2 2 0 1 0 4 0a2 2 0 1 0 -4 0M494.4 213.2a2 2 0 1 0 4 0a2 2 0 1 0 -4 0M502.2 187.4a2 2 0 1 0 4 0a2 2 0 1 0 -4 0M500.7 202.8a2 2 0 1 0 4 0a2 2 0 1 0 -4 0M496.9 209.3a2 2 0 1 0 4 0a2 2 0 1 0 -4 0M500.4 205.8a2 2 0 1 0 4 0a2 2 0 1 0 -4 0M470.5 221.6a2 2 0 1 0 4 0a2 2 0 1 0 -4 0M457.6 207.1a2 2 0 1 0 4 0a2 2 0 1 0 -4 0M454.4 216.7a2 2 0 1 0 4 0a2 2 0 1 0 -4 0M483.5 216.2a2 2 0 1 0 4 0a2 2 0 1 0 -4 0M485.7 192a2 2 0 1 0 4 0a2 2 0 1 0 -4 0M495.2 204.8a2 2 0 1 0 4 0a2 2 0 1 0 -4 0M494.9 190.7a2 2 0 1 0 4 0a2 2 0 1 0 -4 0M455.5 213a2 2 0 1 0 4 0a2 2 0 1 0 -4 0M493.5 210.4a2 2 0 1 0 4 0a2 2 0 1 0 -4 0M460.5 224.1a2 2 0 1 0 4 0a2 2 0 1 0 -4 0M489.1 213.1a2 2 0 1 0 4 0a2 2 0 1 0 -4 0M464.1 214.1a2 2 0 1 0 4 0a2 2 0 1 0 -4 0M499.2 189.2a2 2 0 1 0 4 0a2 2 0 1 0 -4 0M496 179.4a2 2 0 1 0 4 0a2 2 0 1 0 -4 0M466.9 213.1a2 2 0 1 0 4 0a2 2 0 1 0 -4 0M488.8 181.8a2 2 0 1 0 4 0a2 2 0 1 0 -4 0M496.6 203.7a2 2 0 1 0 4 0a2 2 0 1 0 -4 0M489.5 181.3a2 2 0 1 0 4 0a2 2 0 1 0 -4 0M466.5 199.8a2 2 0 1 0 4 0a2 2 0 1 0 -4 0M479.8 203.7a2 2 0 1 0 4 0a2 2 0 1 0 -4 0M503.9 189.2a2 2 0 1 0 4 0a2 2 0 1 0 -4 0M473.4 196.2a2 2 0 1 0 4 0a2 2 0 1 0 -4 0M454.9 220.6a2 2 0 1 0 4 0a2 2 0 1 0 -4 0M491.3 193.4a2 2 0 1 0 4 0a2 2 0 1 0 -4 0M487.3 213a2 2 0 1 0 4 0a2 2 0 1 0 -4 0M473.3 194.2a2 2 0 1 0 4 0a2 2 0 1 0 -4 0M491 207.4a2 2 0 1 0 4 0a2 2 0 1 0 -4 0M499.9 200a2 2 0 1 0 4 0a2 2 0 1 0 -4 0M486.6 187.5a2 2 0 1 0 4 0a2 2 0 1 0 -4 0M474.5 210.2a2 2 0 1 0 4 0a2 2 0 1 0 -4 0M485.7 200.2a2 2 0 1 0 4 0a2 2 0 1 0 -4 0M486.4 190.2a2 2 0 1 0 4 0a2 2 0 1 0 -4 0M496.4 208.3a2 2 0 1 0 4 0a2 2 0 1 0 -4 0M464.1 220.9a2 2 0 1 0 4 0a2 2 0 1 0 -4 0M484.9 207.2a2 2 0 1 0 4 0a2 2 0 1 0 -4 0M504.9 186.7a2 2 0 1 0 4 0a2 2 0 1 0 -4 0M485.3 201.6a2 2 0 1 0 4 0a2 2 0 1 0 -4 0M485.4 219.1a2 2 0 1 0 4 0a2 2 0 1 0 -4 0M479.7 212.1a2 2 0 1 0 4 0a2 2 0 1 0 -4 0M489.6 208.7a2 2 0 1 0 4 0a2 2 0 1 0 -4 0M467.8 221a2 2 0 1 0 4 0a2 2 0 1 0 -4 0M494.9 209.9a2 2 0 1 0 4 0a2 2 0 1 0 -4 0M474.4 202.2a2 2 0 1 0 4 0a2 2 0 1 0 -4 0M485.2 186.4a2 2 0 1 0 4 0a2 2 0 1 0 -4 0M497.1 203.8a2 2 0 1 0 4 0a2 2 0 1 0 -4 0M474.1 204.4a2 2 0 1 0 4 0a2 2 0 1 0 -4 0M475.7 193.2a2 2 0 1 0 4 0a2 2 0 1 0 -4 0M478.9 217a2 2 0 1 0 4 0a2 2 0 1 0 -4 0M497.4 174.1a2 2 0 1 0 4 0a2 2 0 1 0 -4 0M498.9 193.7a2 2 0 1 0 4 0a2 2 0 1 0 -4 0M475.3 192.5a2 2 0 1 0 4 0a2 2 0 1 0 -4 0M501.4 188.3a2 2 0 1 0 4 0a2 2 0 1 0 -4 0M479.8 203.2a2 2 0 1 0 4 0a2 2 0 1 0 -4 0M485.5 210.3a2 2 0 1 0 4 0a2 2 0 1 0 -4 0M466.7 216.4a2 2 0 1 0 4 0a2 2 0 1 0 -4 0M462.7 218.8a2 2 0 1 0 4 0a2 2 0 1 0 -4 0M475.4 216.6a2 2 0 1 0 4 0a2 2 0 1 0 -4 0M474.4 193.3a2 2 0 1 0 4 0a2 2 0 1 0 -4 0M465 216.1a2 2 0 1 0 4 0a2 2 0 1 0 -4 0M491.3 190.5a2 2 0 1 0 4 0a2 2 0 1 0 -4 0M502.8 199.8a2 2 0 1 0 4 0a2 2 0 1 0 -4 0M457.4 214.5a2 2 0 1 0 4 0a2 2 0 1 0 -4 0M491.2 210a2 2 0 1 0 4 0a2 2 0 1 0 -4 0M477.5 194.1a2 2 0 1 0 4 0a2 2 0 1 0 -4 0M490.1 185.4a2 2 0 1 0 4 0a2 2 0 1 0 -4 0M480.2 199.8a2 2 0 1 0 4 0a2 2 0 1 0 -4 0M491.2 194.1a2 2 0 1 0 4 0a2 2 0 1 0 -4 0M472.7 194.5a2 2 0 1 0 4 0a2 2 0 1 0 -4 0M465.3 212.4a2 2 0 1 0 4 0a2 2 0 1 0 -4 0M464.4 208.4a2 2 0 1 0 4 0a2 2 0 1 0 -4 0M503.1 194.7a2 2 0 1 0 4 0a2 2 0 1 0 -4 0M483.6 205.8a2 2 0 1 0 4 0a2 2 0 1 0 -4 0M473.5 210a2 2 0 1 0 4 0a2 2 0 1 0 -4 0M493 193.6a2 2 0 1 0 4 0a2 2 0 1 0 -4 0M498.7 182.8a2 2 0 1 0 4 0a2 2 0 1 0 -4 0M494.3 186.7a2 2 0 1 0 4 0a2 2 0 1 0 -4 0M458 218.6a2 2 0 1 0 4 0a2 2 0 1 0 -4 0M450.6 220.3a2 2 0 1 0 4 0a2 2 0 1 0 -4 0M475.6 200a2 2 0 1 0 4 0a2 2 0 1 0 -4 0M454.2 213.8a2 2 0 1 0 4 0a2 2 0 1 0 -4 0M493.5 180.1a2 2 0 1 0 4 0a2 2 0 1 0 -4 0M479.6 220a2 2 0 1 0 4 0a2 2 0 1 0 -4 0M481.7 216.8a2 2 0 1 0 4 0a2 2 0 1 0 -4 0M466.9 199.8a2 2 0 1 0 4 0a2 2 0 1 0 -4 0M470.5 205.7a2 2 0 1 0 4 0a2 2 0 1 0 -4 0M487 188.8a2 2 0 1 0 4 0a2 2 0 1 0 -4 0M476 212.1a2 2 0 1 0 4 0a2 2 0 1 0 -4 0M458.9 207.7a2 2 0 1 0 4 0a2 2 0 1 0 -4 0M494.4 214a2 2 0 1 0 4 0a2 2 0 1 0 -4 0M500.1 179.3a2 2 0 1 0 4 0a2 2 0 1 0 -4 0M469.8 204.8a2 2 0 1 0 4 0a2 2 0 1 0 -4 0M468.7 200.9a2 2 0 1 0 4 0a2 2 0 1 0 -4 0M468.7 205.5a2 2 0 1 0 4 0a2 2 0 1 0 -4 0M495.4 192.3a2 2 0 1 0 4 0a2 2 0 1 0 -4 0M466 207.3a2 2 0 1 0 4 0a2 2 0 1 0 -4 0M459.5 206.9a2 2 0 1 0 4 0a2 2 0 1 0 -4 0M482 204.8a2 2 0 1 0 4 0a2 2 0 1 0 -4 0M486.1 201.5a2 2 0 1 0 4 0a2 2 0 1 0 -4 0M456.9 223a2 2 0 1 0 4 0a2 2 0 1 0 -4 0M495.2 204.4a2 2 0 1 0 4 0a2 2 0 1 0 -4 0M494 187.9a2 2 0 1 0 4 0a2 2 0 1 0 -4 0M498.1 192.3a2 2 0 1 0 4 0a2 2 0 1 0 -4 0M495.4 186.2a2 2 0 1 0 4 0a2 2 0 1 0 -4 0M495.9 208.2a2 2 0 1 0 4 0a2 2 0 1 0 -4 0M486 191.7a2 2 0 1 0 4 0a2 2 0 1 0 -4 0M475.4 212.4a2 2 0 1 0 4 0a2 2 0 1 0 -4 0M466.3 217.6a2 2 0 1 0 4 0a2 2 0 1 0 -4 0M477.8 195.4a2 2 0 1 0 4 0a2 2 0 1 0 -4 0M477.9 220.8a2 2 0 1 0 4 0a2 2 0 1 0 -4 0M492.2 190.5a2 2 0 1 0 4 0a2 2 0 1 0 -4 0M484 207.8a2 2 0 1 0 4 0a2 2 0 1 0 -4 0M466.6 199.9a2 2 0 1 0 4 0a2 2 0 1 0 -4 0M493.1 181.5a2 2 0 1 0 4 0a2 2 0 1 0 -4 0M485.4 196.1a2 2 0 1 0 4 0a2 2 0 1 0 -4 0M482.5 197.5a2 2 0 1 0 4 0a2 2 0 1 0 -4 0M482.1 189.9a2 2 0 1 0 4 0a2 2 0 1 0 -4 0M471.5 215.5a2 2 0 1 0 4 0a2 2 0 1 0 -4 0M496.6 185.3a2 2 0 1 0 4 0a2 2 0 1 0 -4 0M485.6 194.5a2 2 0 1 0 4 0a2 2 0 1 0 -4 0M484.6 197.5a2 2 0 1 0 4 0a2 2 0 1 0 -4 0M481.4 209.5a2 2 0 1 0 4 0a2 2 0 1 0 -4 0M477.2 201.8a2 2 0 1 0 4 0a2 2 0 1 0 -4 0M478.4 207.3a2 2 0 1 0 4 0a2 2 0 1 0 -4 0M492.3 205.8a2 2 0 1 0 4 0a2 2 0 1 0 -4 0M489.7 207.3a2 2 0 1 0 4 0a2 2 0 1 0 -4 0M452.6 222.5a2 2 0 1 0 4 0a2 2 0 1 0 -4 0M479.6 194.2a2 2 0 1 0 4 0a2 2 0 1 0 -4 0M482.9 216.3a2 2 0 1 0 4 0a2 2 0 1 0 -4 0" fill="none" stroke="#2a2a2a" stroke-width="0.75"/>
<path d="M492.2 207.9a2 2 0 1 0 4 0a2 2 0 1 0 -4 0M485.9 211.5a2 2 0 1 0 4 0a2 2 0 1 0 -4 0M464.8 217.4a2 2 0 1 0 4 0a2 2 0 1 0 -4 0M481.5 217.4a2 2 0 1 0 4 0a2 2 0 1 0 -4 0M491.5 211.7a2 2 0 1 0 4 0a2 2 0 1 0 -4 0M497.1 206a2 2 0 1 0 4 0a2 2 0 1 0 -4 0M470.1 219a2 2 0 1 0 4 0a2 2 0 1 0 -4 0M461.5 221.5a2 2 0 1 0 4 0a2 2 0 1 0 -4 0M461.5 220.7a2 2 0 1 0 4 0a2 2 0 1 0 -4 0M492.2 208.7a2 2 0 1 0 4 0a2 2 0 1 0 -4 0M480 218.8a2 2 0 1 0 4 0a2 2 0 1 0 -4 0M468.6 217.9a2 2 0 1 0 4 0a2 2 0 1 0 -4 0M460.9 220.6a2 2 0 1 0 4 0a2 2 0 1 0 -4 0M466.4 220.7a2 2 0 1 0 4 0a2 2 0 1 0 -4 0M462.4 218.4a2 2 0 1 0 4 0a2 2 0 1 0 -4 0M463.4 216.1a2 2 0 1 0 4 0a2 2 0 1 0 -4 0M456.7 218.1a2 2 0 1 0 4 0a2 2 0 1 0 -4 0M470.9 220.3a2 2 0 1 0 4 0a2 2 0 1 0 -4 0M489.7 210.2a2 2 0 1 0 4 0a2 2 0 1 0 -4 0M453.1 219a2 2 0 1 0 4 0a2 2 0 1 0 -4 0M469.1 219.5a2 2 0 1 0 4 0a2 2 0 1 0 -4 0M468.9 213.4a2 2 0 1 0 4 0a2 2 0 1 0 -4 0M493.7 201.1a2 2 0 1 0 4 0a2 2 0 1 0 -4 0M486.9 211.3a2 2 0 1 0 4 0a2 2 0 1 0 -4 0M493.3 206.5a2 2 0 1 0 4 0a2 2 0 1 0 -4 0M460.9 217.2a2 2 0 1 0 4 0a2 2 0 1 0 -4 0M469.6 212.4a2 2 0 1 0 4 0a2 2 0 1 0 -4 0M475.3 222.6a2 2 0 1 0 4 0a2 2 0 1 0 -4 0M465.5 218.6a2 2 0 1 0 4 0a2 2 0 1 0 -4 0M483.6 216.2a2 2 0 1 0 4 0a2 2 0 1 0 -4 0M454.1 218.7a2 2 0 1 0 4 0a2 2 0 1 0 -4 0M458.1 222.7a2 2 0 1 0 4 0a2 2 0 1 0 -4 0M491.1 205.1a2 2 0 1 0 4 0a2 2 0 1 0 -4 0M480.8 218.2a2 2 0 1 0 4 0a2 2 0 1 0 -4 0M454.1 220.2a2 2 0 1 0 4 0a2 2 0 1 0 -4 0M458.6 218.1a2 2 0 1 0 4 0a2 2 0 1 0 -4 0M472.7 219.4a2 2 0 1 0 4 0a2 2 0 1 0 -4 0M490.2 208.6a2 2 0 1 0 4 0a2 2 0 1 0 -4 0M469.2 217.4a2 2 0 1 0 4 0a2 2 0 1 0 -4 0M464.2 219.1a2 2 0 1 0 4 0a2 2 0 1 0 -4 0M492.8 201.1a2 2 0 1 0 4 0a2 2 0 1 0 -4 0M456.8 220.5a2 2 0 1 0 4 0a2 2 0 1 0 -4 0M484.6 211.5a2 2 0 1 0 4 0a2 2 0 1 0 -4 0M491.1 208.8a2 2 0 1 0 4 0a2 2 0 1 0 -4 0M481.1 213.3a2 2 0 1 0 4 0a2 2 0 1 0 -4 0M466.9 219.9a2 2 0 1 0 4 0a2 2 0 1 0 -4 0M477.8 218.5a2 2 0 1 0 4 0a2 2 0 1 0 -4 0M479.3 212.7a2 2 0 1 0 4 0a2 2 0 1 0 -4 0M458.7 220.1a2 2 0 1 0 4 0a2 2 0 1 0 -4 0M481.1 215.8a2 2 0 1 0 4 0a2 2 0 1 0 -4 0M472.7 217.6a2 2 0 1 0 4 0a2 2 0 1 0 -4 0M494.9 202a2 2 0 1 0 4 0a2 2 0 1 0 -4 0M455.9 217.7a2 2 0 1 0 4 0a2 2 0 1 0 -4 0M491.1 206.1a2 2 0 1 0 4 0a2 2 0 1 0 -4 0M457.1 219.6a2 2 0 1 0 4 0a2 2 0 1 0 -4 0M478.9 211.4a2 2 0 1 0 4 0a2 2 0 1 0 -4 0M488.7 209.1a2 2 0 1 0 4 0a2 2 0 1 0 -4 0M468.6 215a2 2 0 1 0 4 0a2 2 0 1 0 -4 0M492.8 207.7a2 2 0 1 0 4 0a2 2 0 1 0 -4 0M453.2 221a2 2 0 1 0 4 0a2 2 0 1 0 -4 0M462.4 219.6a2 2 0 1 0 4 0a2 2 0 1 0 -4 0M460.6 223.4a2 2 0 1 0 4 0a2 2 0 1 0 -4 0M491.7 210.5a2 2 0 1 0 4 0a2 2 0 1 0 -4 0M484.1 217.4a2 2 0 1 0 4 0a2 2 0 1 0 -4 0M489.6 211.2a2 2 0 1 0 4 0a2 2 0 1 0 -4 0M468.7 217.2a2 2 0 1 0 4 0a2 2 0 1 0 -4 0M483.5 216.3a2 2 0 1 0 4 0a2 2 0 1 0 -4 0M493.5 201.6a2 2 0 1 0 4 0a2 2 0 1 0 -4 0M476.2 217a2 2 0 1 0 4 0a2 2 0 1 0 -4 0M495.4 200.6a2 2 0 1 0 4 0a2 2 0 1 0 -4 0M459.9 219.7a2 2 0 1 0 4 0a2 2 0 1 0 -4 0M481.2 214.1a2 2 0 1 0 4 0a2 2 0 1 0 -4 0M494.2 205.3a2 2 0 1 0 4 0a2 2 0 1 0 -4 0M488.4 204.8a2 2 0 1 0 4 0a2 2 0 1 0 -4 0M490.4 214.5a2 2 0 1 0 4 0a2 2 0 1 0 -4 0M490.8 209a2 2 0 1 0 4 0a2 2 0 1 0 -4 0M454.6 222.7a2 2 0 1 0 4 0a2 2 0 1 0 -4 0M473.1 214.5a2 2 0 1 0 4 0a2 2 0 1 0 -4 0M457.2 216.8a2 2 0 1 0 4 0a2 2 0 1 0 -4 0M463.4 218.9a2 2 0 1 0 4 0a2 2 0 1 0 -4 0M485.8 209.7a2 2 0 1 0 4 0a2 2 0 1 0 -4 0M494.7 201.4a2 2 0 1 0 4 0a2 2 0 1 0 -4 0M463.4 221a2 2 0 1 0 4 0a2 2 0 1 0 -4 0M466 215.9a2 2 0 1 0 4 0a2 2 0 1 0 -4 0M496.3 201.7a2 2 0 1 0 4 0a2 2 0 1 0 -4 0M455.9 218.6a2 2 0 1 0 4 0a2 2 0 1 0 -4 0M482.2 215.8a2 2 0 1 0 4 0a2 2 0 1 0 -4 0M455.8 218.7a2 2 0 1 0 4 0a2 2 0 1 0 -4 0M486.2 208.6a2 2 0 1 0 4 0a2 2 0 1 0 -4 0M455.4 216.3a2 2 0 1 0 4 0a2 2 0 1 0 -4 0M479.4 213.9a2 2 0 1 0 4 0a2 2 0 1 0 -4 0M495.4 205a2 2 0 1 0 4 0a2 2 0 1 0 -4 0M492.1 204.5a2 2 0 1 0 4 0a2 2 0 1 0 -4 0M489.6 206.2a2 2 0 1 0 4 0a2 2 0 1 0 -4 0M480.7 216.2a2 2 0 1 0 4 0a2 2 0 1 0 -4 0M493.9 205.6a2 2 0 1 0 4 0a2 2 0 1 0 -4 0M473.6 216a2 2 0 1 0 4 0a2 2 0 1 0 -4 0M496.4 206.8a2 2 0 1 0 4 0a2 2 0 1 0 -4 0M484.6 213a2 2 0 1 0 4 0a2 2 0 1 0 -4 0M469.4 213.8a2 2 0 1 0 4 0a2 2 0 1 0 -4 0M490.4 208.7a2 2 0 1 0 4 0a2 2 0 1 0 -4 0M461.5 217.7a2 2 0 1 0 4 0a2 2 0 1 0 -4 0M458.3 217.5a2 2 0 1 0 4 0a2 2 0 1 0 -4 0M481.6 215.7a2 2 0 1 0 4 0a2 2 0 1 0 -4 0M458.7 219a2 2 0 1 0 4 0a2 2 0 1 0 -4 0M489.4 205.1a2 2 0 1 0 4 0a2 2 0 1 0 -4 0M466.9 217.3a2 2 0 1 0 4 0a2 2 0 1 0 -4 0M471.7 214.9a2 2 0 1 0 4 0a2 2 0 1 0 -4 0M460.3 219.1a2 2 0 1 0 4 0a2 2 0 1 0 -4 0M462.8 215.9a2 2 0 1 0 4 0a2 2 0 1 0 -4 0M467.1 218.8a2 2 0 1 0 4 0a2 2 0 1 0 -4 0M495.2 208.8a2 2 0 1 0 4 0a2 2 0 1 0 -4 0M496.2 200.6a2 2 0 1 0 4 0a2 2 0 1 0 -4 0M491.6 209.1a2 2 0 1 0 4 0a2 2 0 1 0 -4 0M493.2 211.7a2 2 0 1 0 4 0a2 2 0 1 0 -4 0M484.2 216.4a2 2 0 1 0 4 0a2 2 0 1 0 -4 0M482.1 219.4a2 2 0 1 0 4 0a2 2 0 1 0 -4 0M479.8 219.1a2 2 0 1 0 4 0a2 2 0 1 0 -4 0M478.7 216.1a2 2 0 1 0 4 0a2 2 0 1 0 -4 0M483.5 216.5a2 2 0 1 0 4 0a2 2 0 1 0 -4 0M465.3 216.1a2 2 0 1 0 4 0a2 2 0 1 0 -4 0M494.1 200.7a2 2 0 1 0 4 0a2 2 0 1 0 -4 0M486.1 207.7a2 2 0 1 0 4 0a2 2 0 1 0 -4 0M471.5 217.5a2 2 0 1 0 4 0a2 2 0 1 0 -4 0M494.7 202.4a2 2 0 1 0 4 0a2 2 0 1 0 -4 0M495.6 205.4a2 2 0 1 0 4 0a2 2 0 1 0 -4 0M485.9 214.1a2 2 0 1 0 4 0a2 2 0 1 0 -4 0M468.1 219.8a2 2 0 1 0 4 0a2 2 0 1 0 -4 0M454.5 223a2 2 0 1 0 4 0a2 2 0 1 0 -4 0M483.5 215.6a2 2 0 1 0 4 0a2 2 0 1 0 -4 0M459.5 214.3a2 2 0 1 0 4 0a2 2 0 1 0 -4 0M461.5 218.9a2 2 0 1 0 4 0a2 2 0 1 0 -4 0M466.3 215.5a2 2 0 1 0 4 0a2 2 0 1 0 -4 0M496.9 201.3a2 2 0 1 0 4 0a2 2 0 1 0 -4 0M471.4 216.3a2 2 0 1 0 4 0a2 2 0 1 0 -4 0M464.2 217.5a2 2 0 1 0 4 0a2 2 0 1 0 -4 0M493.9 206a2 2 0 1 0 4 0a2 2 0 1 0 -4 0M489.5 210.8a2 2 0 1 0 4 0a2 2 0 1 0 -4 0M495.4 202.2a2 2 0 1 0 4 0a2 2 0 1 0 -4 0M478.4 217.8a2 2 0 1 0 4 0a2 2 0 1 0 -4 0M477.6 213a2 2 0 1 0 4 0a2 2 0 1 0 -4 0M494.2 209.9a2 2 0 1 0 4 0a2 2 0 1 0 -4 0M453.1 217.4a2 2 0 1 0 4 0a2 2 0 1 0 -4 0M493.6 209.3a2 2 0 1 0 4 0a2 2 0 1 0 -4 0M456.6 220.6a2 2 0 1 0 4 0a2 2 0 1 0 -4 0M457.6 218.3a2 2 0 1 0 4 0a2 2 0 1 0 -4 0M472.6 219.2a2 2 0 1 0 4 0a2 2 0 1 0 -4 0M454.5 219.6a2 2 0 1 0 4 0a2 2 0 1 0 -4 0M468.7 214.8a2 2 0 1 0 4 0a2 2 0 1 0 -4 0M495.9 206.3a2 2 0 1 0 4 0a2 2 0 1 0 -4 0M481.2 215.9a2 2 0 1 0 4 0a2 2 0 1 0 -4 0M461.4 217a2 2 0 1 0 4 0a2 2 0 1 0 -4 0M493 208.9a2 2 0 1 0 4 0a2 2 0 1 0 -4 0M488.9 207.9a2 2 0 1 0 4 0a2 2 0 1 0 -4 0M455.8 219.7a2 2 0 1 0 4 0a2 2 0 1 0 -4 0M475 214.8a2 2 0 1 0 4 0a2 2 0 1 0 -4 0M457.6 221.4a2 2 0 1 0 4 0a2 2 0 1 0 -4 0M456.3 215.7a2 2 0 1 0 4 0a2 2 0 1 0 -4 0M483.4 214.7a2 2 0 1 0 4 0a2 2 0 1 0 -4 0M481.3 218a2 2 0 1 0 4 0a2 2 0 1 0 -4 0M495.1 202.3a2 2 0 1 0 4 0a2 2 0 1 0 -4 0M475 216.8a2 2 0 1 0 4 0a2 2 0 1 0 -4 0M482.3 221a2 2 0 1 0 4 0a2 2 0 1 0 -4 0M490.4 210.3a2 2 0 1 0 4 0a2 2 0 1 0 -4 0M482 214.5a2 2 0 1 0 4 0a2 2 0 1 0 -4 0M472.2 219.7a2 2 0 1 0 4 0a2 2 0 1 0 -4 0M496 204.3a2 2 0 1 0 4 0a2 2 0 1 0 -4 0M496.5 209.3a2 2 0 1 0 4 0a2 2 0 1 0 -4 0M465.5 222.9a2 2 0 1 0 4 0a2 2 0 1 0 -4 0M484.3 211.9a2 2 0 1 0 4 0a2 2 0 1 0 -4 0M493.3 204.7a2 2 0 1 0 4 0a2 2 0 1 0 -4 0M471.8 217.4a2 2 0 1 0 4 0a2 2 0 1 0 -4 0M471.3 220.4a2 2 0 1 0 4 0a2 2 0 1 0 -4 0M484.7 212.1a2 2 0 1 0 4 0a2 2 0 1 0 -4 0M458.7 215.5a2 2 0 1 0 4 0a2 2 0 1 0 -4 0M457.1 221.6a2 2 0 1 0 4 0a2 2 0 1 0 -4 0M456.5 217.8a2 2 0 1 0 4 0a2 2 0 1 0 -4 0M479.6 217.3a2 2 0 1 0 4 0a2 2 0 1 0 -4 0M495.9 203.7a2 2 0 1 0 4 0a2 2 0 1 0 -4 0M476.2 212.2a2 2 0 1 0 4 0a2 2 0 1 0 -4 0M475.6 211.3a2 2 0 1 0 4 0a2 2 0 1 0 -4 0M490.9 208.8a2 2 0 1 0 4 0a2 2 0 1 0 -4 0M470.3 219.5a2 2 0 1 0 4 0a2 2 0 1 0 -4 0M475.5 217.6a2 2 0 1 0 4 0a2 2 0 1 0 -4 0M496.9 201.5a2 2 0 1 0 4 0a2 2 0 1 0 -4 0M481.1 216a2 2 0 1 0 4 0a2 2 0 1 0 -4 0M457.1 217.3a2 2 0 1 0 4 0a2 2 0 1 0 -4 0M487.7 210.4a2 2 0 1 0 4 0a2 2 0 1 0 -4 0M473.5 216.4a2 2 0 1 0 4 0a2 2 0 1 0 -4 0M470.3 221.5a2 2 0 1 0 4 0a2 2 0 1 0 -4 0M472 217.5a2 2 0 1 0 4 0a2 2 0 1 0 -4 0M491.4 208.1a2 2 0 1 0 4 0a2 2 0 1 0 -4 0M475.6 217.8a2 2 0 1 0 4 0a2 2 0 1 0 -4 0M463 217.3a2 2 0 1 0 4 0a2 2 0 1 0 -4 0M462.1 218.6a2 2 0 1 0 4 0a2 2 0 1 0 -4 0M480.7 217a2 2 0 1 0 4 0a2 2 0 1 0 -4 0M492.5 210.6a2 2 0 1 0 4 0a2 2 0 1 0 -4 0M496.4 205.5a2 2 0 1 0 4 0a2 2 0 1 0 -4 0M480.8 219a2 2 0 1 0 4 0a2 2 0 1 0 -4 0M453.2 217.5a2 2 0 1 0 4 0a2 2 0 1 0 -4 0M468.9 219.4a2 2 0 1 0 4 0a2 2 0 1 0 -4 0M491.2 207a2 2 0 1 0 4 0a2 2 0 1 0 -4 0M481.3 217a2 2 0 1 0 4 0a2 2 0 1 0 -4 0M459.4 219a2 2 0 1 0 4 0a2 2 0 1 0 -4 0M475.8 217.5a2 2 0 1 0 4 0a2 2 0 1 0 -4 0M453.4 217.1a2 2 0 1 0 4 0a2 2 0 1 0 -4 0M496.4 211.3a2 2 0 1 0 4 0a2 2 0 1 0 -4 0M485 213.4a2 2 0 1 0 4 0a2 2 0 1 0 -4 0M472.8 215.7a2 2 0 1 0 4 0a2 2 0 1 0 -4 0M472.9 218.7a2 2 0 1 0 4 0a2 2 0 1 0 -4 0M479 217.6a2 2 0 1 0 4 0a2 2 0 1 0 -4 0M492.2 208.3a2 2 0 1 0 4 0a2 2 0 1 0 -4 0M491.3 204.3a2 2 0 1 0 4 0a2 2 0 1 0 -4 0M481.8 210.4a2 2 0 1 0 4 0a2 2 0 1 0 -4 0M495 207.4a2 2 0 1 0 4 0a2 2 0 1 0 -4 0M489.7 212.4a2 2 0 1 0 4 0a2 2 0 1 0 -4 0M495.7 204.6a2 2 0 1 0 4 0a2 2 0 1 0 -4 0M477.7 219.5a2 2 0 1 0 4 0a2 2 0 1 0 -4 0M466.2 215.1a2 2 0 1 0 4 0a2 2 0 1 0 -4 0M457.5 218.7a2 2 0 1 0 4 0a2 2 0 1 0 -4 0M485.5 209.1a2 2 0 1 0 4 0a2 2 0 1 0 -4 0M464.7 216.5a2 2 0 1 0 4 0a2 2 0 1 0 -4 0M453.9 213.3a2 2 0 1 0 4 0a2 2 0 1 0 -4 0M481.1 213.2a2 2 0 1 0 4 0a2 2 0 1 0 -4 0M464.5 217.9a2 2 0 1 0 4 0a2 2 0 1 0 -4 0M458.9 218.1a2 2 0 1 0 4 0a2 2 0 1 0 -4 0M458.2 220.6a2 2 0 1 0 4 0a2 2 0 1 0 -4 0M484.9 219.5a2 2 0 1 0 4 0a2 2 0 1 0 -4 0M485.7 211.8a2 2 0 1 0 4 0a2 2 0 1 0 -4 0M484.8 214a2 2 0 1 0 4 0a2 2 0 1 0 -4 0" fill="none" stroke="#222" stroke-width="0.8"/>
<path d="M480 143a2 2 0 1 0 4 0a2 2 0 1 0 -4 0M476 147.3a2 2 0 1 0 4 0a2 2 0 1 0 -4 0M497.4 141.2a2 2 0 1 0 4 0a2 2 0 1 0 -4 0M501 158.2a2 2 0 1 0 4 0a2 2 0 1 0 -4 0M495.7 162.2a2 2 0 1 0 4 0a2 2 0 1 0 -4 0M505.3 166a2 2 0 1 0 4 0a2 2 0 1 0 -4 0M491.3 167.8a2 2 0 1 0 4 0a2 2 0 1 0 -4 0M494 167.4a2 2 0 1 0 4 0a2 2 0 1 0 -4 0M490.5 173a2 2 0 1 0 4 0a2 2 0 1 0 -4 0M496.6 172.3a2 2 0 1 0 4 0a2 2 0 1 0 -4 0M500.4 173.5a2 2 0 1 0 4 0a2 2 0 1 0 -4 0M476.5 174.7a2 2 0 1 0 4 0a2 2 0 1 0 -4 0M492.2 177.5a2 2 0 1 0 4 0a2 2 0 1 0 -4 0M513 170a2 2 0 1 0 4 0a2 2 0 1 0 -4 0M516.6 169.2a2 2 0 1 0 4 0a2 2 0 1 0 -4 0M472.5 183a2 2 0 1 0 4 0a2 2 0 1 0 -4 0M489.8 173.1a2 2 0 1 0 4 0a2 2 0 1 0 -4 0M476 174.5a2 2 0 1 0 4 0a2 2 0 1 0 -4 0M473.1 183.3a2 2 0 1 0 4 0a2 2 0 1 0 -4 0M476.7 186.9a2 2 0 1 0 4 0a2 2 0 1 0 -4 0M514.5 190.5a2 2 0 1 0 4 0a2 2 0 1 0 -4 0M505.8 182.5a2 2 0 1 0 4 0a2 2 0 1 0 -4 0M486.9 181.8a2 2 0 1 0 4 0a2 2 0 1 0 -4 0M443.7 221.1a2 2 0 1 0 4 0a2 2 0 1 0 -4 0M447.6 214.1a2 2 0 1 0 4 0a2 2 0 1 0 -4 0M449.5 209a2 2 0 1 0 4 0a2 2 0 1 0 -4 0M461.6 200.1a2 2 0 1 0 4 0a2 2 0 1 0 -4 0M465.4 202a2 2 0 1 0 4 0a2 2 0 1 0 -4 0M457.1 210.3a2 2 0 1 0 4 0a2 2 0 1 0 -4 0M450.7 217.9a2 2 0 1 0 4 0a2 2 0 1 0 -4 0M454.6 220.5a2 2 0 1 0 4 0a2 2 0 1 0 -4 0M468 195a2 2 0 1 0 4 0a2 2 0 1 0 -4 0M482 188a2 2 0 1 0 4 0a2 2 0 1 0 -4 0M470 200a2 2 0 1 0 4 0a2 2 0 1 0 -4 0" fill="none" stroke="#3a3a3a" stroke-width="0.7"/>
<rect x="37.0" y="28.2" width="102.4" height="96.2" fill="none" stroke="#9a9a9a" stroke-width="1.45"/>
<line x1="37.0" y1="52.5" x2="40.5" y2="52.5" stroke="#8a8a8a" stroke-width="1.1"/>
<text x="35.8" y="56.9" font-size="13" text-anchor="end" fill="#1e1e1e" >0.2</text>
<line x1="37.0" y1="76.5" x2="40.5" y2="76.5" stroke="#8a8a8a" stroke-width="1.1"/>
<text x="35.8" y="81.2" font-size="13" text-anchor="end" fill="#1e1e1e" >0.1</text>
<line x1="37.0" y1="100.5" x2="40.5" y2="100.5" stroke="#8a8a8a" stroke-width="1.1"/>
<text x="35.8" y="105.5" font-size="13" text-anchor="end" fill="#1e1e1e" >0</text>
<line x1="57.5" y1="124.4" x2="57.5" y2="120.9" stroke="#8a8a8a" stroke-width="1.1"/>
<line x1="78.5" y1="124.4" x2="78.5" y2="120.9" stroke="#8a8a8a" stroke-width="1.1"/>
<line x1="98.5" y1="124.4" x2="98.5" y2="120.9" stroke="#8a8a8a" stroke-width="1.1"/>
<line x1="119.5" y1="124.4" x2="119.5" y2="120.9" stroke="#8a8a8a" stroke-width="1.1"/>
<rect x="169.3" y="29.8" width="103.1" height="96.4" fill="none" stroke="#9a9a9a" stroke-width="1.45"/>
<line x1="169.3" y1="53.5" x2="172.8" y2="53.5" stroke="#8a8a8a" stroke-width="1.1"/>
<text x="168.1" y="58.6" font-size="13" text-anchor="end" fill="#1e1e1e" >0.2</text>
<line x1="169.3" y1="78.5" x2="172.8" y2="78.5" stroke="#8a8a8a" stroke-width="1.1"/>
<text x="168.1" y="82.9" font-size="13" text-anchor="end" fill="#1e1e1e" >0.1</text>
<line x1="169.3" y1="102.5" x2="172.8" y2="102.5" stroke="#8a8a8a" stroke-width="1.1"/>
<text x="168.1" y="107.2" font-size="13" text-anchor="end" fill="#1e1e1e" >0</text>
<line x1="189.5" y1="126.2" x2="189.5" y2="122.7" stroke="#8a8a8a" stroke-width="1.1"/>
<line x1="210.5" y1="126.2" x2="210.5" y2="122.7" stroke="#8a8a8a" stroke-width="1.1"/>
<line x1="230.5" y1="126.2" x2="230.5" y2="122.7" stroke="#8a8a8a" stroke-width="1.1"/>
<line x1="251.5" y1="126.2" x2="251.5" y2="122.7" stroke="#8a8a8a" stroke-width="1.1"/>
<rect x="302.1" y="29.9" width="102.8" height="96.3" fill="none" stroke="#9a9a9a" stroke-width="1.45"/>
<line x1="302.1" y1="54.5" x2="305.6" y2="54.5" stroke="#8a8a8a" stroke-width="1.1"/>
<text x="300.9" y="59.0" font-size="13" text-anchor="end" fill="#1e1e1e" >0.2</text>
<line x1="302.1" y1="78.5" x2="305.6" y2="78.5" stroke="#8a8a8a" stroke-width="1.1"/>
<text x="300.9" y="82.9" font-size="13" text-anchor="end" fill="#1e1e1e" >0.1</text>
<line x1="302.1" y1="101.5" x2="305.6" y2="101.5" stroke="#8a8a8a" stroke-width="1.1"/>
<text x="300.9" y="106.8" font-size="13" text-anchor="end" fill="#1e1e1e" >0</text>
<line x1="322.5" y1="126.2" x2="322.5" y2="122.7" stroke="#8a8a8a" stroke-width="1.1"/>
<line x1="343.5" y1="126.2" x2="343.5" y2="122.7" stroke="#8a8a8a" stroke-width="1.1"/>
<line x1="363.5" y1="126.2" x2="363.5" y2="122.7" stroke="#8a8a8a" stroke-width="1.1"/>
<line x1="384.5" y1="126.2" x2="384.5" y2="122.7" stroke="#8a8a8a" stroke-width="1.1"/>
<rect x="434.7" y="30.4" width="102.8" height="96.5" fill="none" stroke="#9a9a9a" stroke-width="1.45"/>
<line x1="434.7" y1="54.5" x2="438.2" y2="54.5" stroke="#8a8a8a" stroke-width="1.1"/>
<text x="433.5" y="59.6" font-size="13" text-anchor="end" fill="#1e1e1e" >0.4</text>
<line x1="434.7" y1="78.5" x2="438.2" y2="78.5" stroke="#8a8a8a" stroke-width="1.1"/>
<text x="433.5" y="83.7" font-size="13" text-anchor="end" fill="#1e1e1e" >0.3</text>
<line x1="434.7" y1="102.5" x2="438.2" y2="102.5" stroke="#8a8a8a" stroke-width="1.1"/>
<text x="433.5" y="107.8" font-size="13" text-anchor="end" fill="#1e1e1e" >0.2</text>
<line x1="455.5" y1="126.9" x2="455.5" y2="123.4" stroke="#8a8a8a" stroke-width="1.1"/>
<line x1="475.5" y1="126.9" x2="475.5" y2="123.4" stroke="#8a8a8a" stroke-width="1.1"/>
<line x1="496.5" y1="126.9" x2="496.5" y2="123.4" stroke="#8a8a8a" stroke-width="1.1"/>
<line x1="516.5" y1="126.9" x2="516.5" y2="123.4" stroke="#8a8a8a" stroke-width="1.1"/>
<rect x="571.9" y="30.4" width="102.6" height="96.6" fill="none" stroke="#9a9a9a" stroke-width="1.45"/>
<line x1="571.9" y1="35.5" x2="575.4" y2="35.5" stroke="#8a8a8a" stroke-width="1.1"/>
<text x="570.7" y="40.1" font-size="13" text-anchor="end" fill="#1e1e1e" >0.7</text>
<line x1="571.9" y1="59.5" x2="575.4" y2="59.5" stroke="#8a8a8a" stroke-width="1.1"/>
<text x="570.7" y="64.3" font-size="13" text-anchor="end" fill="#1e1e1e" >0.6</text>
<line x1="571.9" y1="83.5" x2="575.4" y2="83.5" stroke="#8a8a8a" stroke-width="1.1"/>
<text x="570.7" y="88.5" font-size="13" text-anchor="end" fill="#1e1e1e" >0.5</text>
<line x1="571.9" y1="107.5" x2="575.4" y2="107.5" stroke="#8a8a8a" stroke-width="1.1"/>
<text x="570.7" y="112.7" font-size="13" text-anchor="end" fill="#1e1e1e" >0.4</text>
<line x1="592.5" y1="127.0" x2="592.5" y2="123.5" stroke="#8a8a8a" stroke-width="1.1"/>
<line x1="612.5" y1="127.0" x2="612.5" y2="123.5" stroke="#8a8a8a" stroke-width="1.1"/>
<line x1="633.5" y1="127.0" x2="633.5" y2="123.5" stroke="#8a8a8a" stroke-width="1.1"/>
<line x1="653.5" y1="127.0" x2="653.5" y2="123.5" stroke="#8a8a8a" stroke-width="1.1"/>
<rect x="37.5" y="135.9" width="102.5" height="96.2" fill="none" stroke="#9a9a9a" stroke-width="1.45"/>
<line x1="37.5" y1="167.5" x2="41.0" y2="167.5" stroke="#8a8a8a" stroke-width="1.1"/>
<text x="36.3" y="172.4" font-size="13" text-anchor="end" fill="#1e1e1e" >20</text>
<line x1="37.5" y1="199.5" x2="41.0" y2="199.5" stroke="#8a8a8a" stroke-width="1.1"/>
<text x="36.3" y="204.7" font-size="13" text-anchor="end" fill="#1e1e1e" >10</text>
<line x1="57.5" y1="232.1" x2="57.5" y2="228.6" stroke="#8a8a8a" stroke-width="1.1"/>
<text x="57.9" y="247.6" font-size="13" text-anchor="middle" fill="#1e1e1e" >-10</text>
<line x1="78.5" y1="232.1" x2="78.5" y2="228.6" stroke="#8a8a8a" stroke-width="1.1"/>
<text x="78.4" y="247.6" font-size="13" text-anchor="middle" fill="#1e1e1e" >0</text>
<line x1="98.5" y1="232.1" x2="98.5" y2="228.6" stroke="#8a8a8a" stroke-width="1.1"/>
<text x="98.9" y="247.6" font-size="13" text-anchor="middle" fill="#1e1e1e" >10</text>
<line x1="119.5" y1="232.1" x2="119.5" y2="228.6" stroke="#8a8a8a" stroke-width="1.1"/>
<text x="119.4" y="247.6" font-size="13" text-anchor="middle" fill="#1e1e1e" >20</text>
<rect x="168.9" y="135.8" width="102.5" height="96.4" fill="none" stroke="#9a9a9a" stroke-width="1.45"/>
<line x1="168.9" y1="152.5" x2="172.4" y2="152.5" stroke="#8a8a8a" stroke-width="1.1"/>
<text x="167.7" y="157.6" font-size="13" text-anchor="end" fill="#1e1e1e" >-10</text>
<line x1="168.9" y1="184.5" x2="172.4" y2="184.5" stroke="#8a8a8a" stroke-width="1.1"/>
<text x="167.7" y="189.3" font-size="13" text-anchor="end" fill="#1e1e1e" >-20</text>
<line x1="168.9" y1="216.5" x2="172.4" y2="216.5" stroke="#8a8a8a" stroke-width="1.1"/>
<text x="167.7" y="221.3" font-size="13" text-anchor="end" fill="#1e1e1e" >-30</text>
<line x1="189.5" y1="232.2" x2="189.5" y2="228.7" stroke="#8a8a8a" stroke-width="1.1"/>
<text x="189.7" y="247.7" font-size="13" text-anchor="middle" fill="#1e1e1e" >-10</text>
<line x1="210.5" y1="232.2" x2="210.5" y2="228.7" stroke="#8a8a8a" stroke-width="1.1"/>
<text x="210.2" y="247.7" font-size="13" text-anchor="middle" fill="#1e1e1e" >0</text>
<line x1="230.5" y1="232.2" x2="230.5" y2="228.7" stroke="#8a8a8a" stroke-width="1.1"/>
<text x="230.7" y="247.7" font-size="13" text-anchor="middle" fill="#1e1e1e" >10</text>
<line x1="251.5" y1="232.2" x2="251.5" y2="228.7" stroke="#8a8a8a" stroke-width="1.1"/>
<text x="251.2" y="247.7" font-size="13" text-anchor="middle" fill="#1e1e1e" >20</text>
<rect x="302.1" y="135.2" width="102.8" height="96.0" fill="none" stroke="#9a9a9a" stroke-width="1.45"/>
<line x1="302.1" y1="167.5" x2="305.6" y2="167.5" stroke="#8a8a8a" stroke-width="1.1"/>
<text x="300.9" y="172.3" font-size="13" text-anchor="end" fill="#1e1e1e" >30</text>
<line x1="302.1" y1="199.5" x2="305.6" y2="199.5" stroke="#8a8a8a" stroke-width="1.1"/>
<text x="300.9" y="203.9" font-size="13" text-anchor="end" fill="#1e1e1e" >20</text>
<line x1="322.5" y1="231.2" x2="322.5" y2="227.7" stroke="#8a8a8a" stroke-width="1.1"/>
<text x="322.5" y="246.7" font-size="13" text-anchor="middle" fill="#1e1e1e" >-10</text>
<line x1="343.5" y1="231.2" x2="343.5" y2="227.7" stroke="#8a8a8a" stroke-width="1.1"/>
<text x="343.0" y="246.7" font-size="13" text-anchor="middle" fill="#1e1e1e" >0</text>
<line x1="363.5" y1="231.2" x2="363.5" y2="227.7" stroke="#8a8a8a" stroke-width="1.1"/>
<text x="363.5" y="246.7" font-size="13" text-anchor="middle" fill="#1e1e1e" >10</text>
<line x1="384.5" y1="231.2" x2="384.5" y2="227.7" stroke="#8a8a8a" stroke-width="1.1"/>
<text x="384.0" y="246.7" font-size="13" text-anchor="middle" fill="#1e1e1e" >20</text>
<rect x="433.9" y="136.6" width="102.5" height="96.3" fill="none" stroke="#9a9a9a" stroke-width="1.45"/>
<line x1="433.9" y1="153.5" x2="437.4" y2="153.5" stroke="#8a8a8a" stroke-width="1.1"/>
<text x="432.7" y="158.7" font-size="13" text-anchor="end" fill="#1e1e1e" >10</text>
<line x1="433.9" y1="184.5" x2="437.4" y2="184.5" stroke="#8a8a8a" stroke-width="1.1"/>
<text x="432.7" y="189.8" font-size="13" text-anchor="end" fill="#1e1e1e" >0</text>
<line x1="433.9" y1="217.5" x2="437.4" y2="217.5" stroke="#8a8a8a" stroke-width="1.1"/>
<text x="432.7" y="221.9" font-size="13" text-anchor="end" fill="#1e1e1e" >-10</text>
<line x1="454.5" y1="232.9" x2="454.5" y2="229.4" stroke="#8a8a8a" stroke-width="1.1"/>
<text x="454.8" y="248.4" font-size="13" text-anchor="middle" fill="#1e1e1e" >-10</text>
<line x1="475.5" y1="232.9" x2="475.5" y2="229.4" stroke="#8a8a8a" stroke-width="1.1"/>
<text x="475.3" y="248.4" font-size="13" text-anchor="middle" fill="#1e1e1e" >0</text>
<line x1="495.5" y1="232.9" x2="495.5" y2="229.4" stroke="#8a8a8a" stroke-width="1.1"/>
<text x="495.8" y="248.4" font-size="13" text-anchor="middle" fill="#1e1e1e" >10</text>
<line x1="516.5" y1="232.9" x2="516.5" y2="229.4" stroke="#8a8a8a" stroke-width="1.1"/>
<text x="516.3" y="248.4" font-size="13" text-anchor="middle" fill="#1e1e1e" >20</text>
<rect x="572.1" y="136.0" width="102.4" height="96.2" fill="none" stroke="#9a9a9a" stroke-width="1.45"/>
<line x1="572.1" y1="168.5" x2="575.6" y2="168.5" stroke="#8a8a8a" stroke-width="1.1"/>
<text x="570.9" y="173.8" font-size="13" text-anchor="end" fill="#1e1e1e" >0</text>
<line x1="572.1" y1="200.5" x2="575.6" y2="200.5" stroke="#8a8a8a" stroke-width="1.1"/>
<text x="570.9" y="204.9" font-size="13" text-anchor="end" fill="#1e1e1e" >-10</text>
<line x1="592.5" y1="232.2" x2="592.5" y2="228.7" stroke="#8a8a8a" stroke-width="1.1"/>
<text x="592.5" y="247.7" font-size="13" text-anchor="middle" fill="#1e1e1e" >-10</text>
<line x1="613.5" y1="232.2" x2="613.5" y2="228.7" stroke="#8a8a8a" stroke-width="1.1"/>
<text x="613.0" y="247.7" font-size="13" text-anchor="middle" fill="#1e1e1e" >0</text>
<line x1="633.5" y1="232.2" x2="633.5" y2="228.7" stroke="#8a8a8a" stroke-width="1.1"/>
<text x="633.5" y="247.7" font-size="13" text-anchor="middle" fill="#1e1e1e" >10</text>
<line x1="654.5" y1="232.2" x2="654.5" y2="228.7" stroke="#8a8a8a" stroke-width="1.1"/>
<text x="654.0" y="247.7" font-size="13" text-anchor="middle" fill="#1e1e1e" >20</text>
<rect x="67.5" y="1.5" width="38" height="18" fill="#fff" stroke="#909090" stroke-width="1.2"/>
<text x="72.1" y="15.0" font-size="13.3" text-anchor="start" fill="#1e1e1e" >Air O</text>
<rect x="188.5" y="0.5" width="61" height="17" fill="#fff" stroke="#909090" stroke-width="1.2"/>
<text x="193.1" y="13.3" font-size="13.3" text-anchor="start" fill="#1e1e1e" >Air vapor</text>
<rect x="291.5" y="0.5" width="127" height="18" fill="#fff" stroke="#909090" stroke-width="1.2"/>
<text x="295.2" y="14.3" font-size="13.3" text-anchor="start" fill="#1e1e1e" >Chemically bound O</text>
<rect x="439.5" y="1.5" width="92" height="18" fill="#fff" stroke="#909090" stroke-width="1.2"/>
<text x="442.7" y="15.1" font-size="13.3" text-anchor="start" fill="#1e1e1e" >Feed moisture</text>
<rect x="575.5" y="1.5" width="92" height="18" fill="#fff" stroke="#909090" stroke-width="1.2"/>
<text x="578.5" y="15.1" font-size="13.3" text-anchor="start" fill="#1e1e1e" >Drinking water</text>
<text transform="translate(11.3,99.3) rotate(-90)" font-size="13" fill="#1e1e1e">Fraction</text>
<text transform="translate(16.6,213) rotate(-90)" font-size="15.5" fill="#1e1e1e">&#948;</text>
<text transform="translate(10.9,204.8) rotate(-90)" font-size="9" fill="#1e1e1e">18</text>
<text transform="translate(16.3,195.4) rotate(-90)" font-size="13.3" fill="#1e1e1e">O</text>
<text transform="translate(16.5,181.5) rotate(-90)" font-size="13.3" fill="#1e1e1e">(</text>
<text transform="translate(10.6,177.6) rotate(-90)" font-size="8.8" fill="#1e1e1e">0</text>
<text transform="translate(14,172.2) rotate(-90)" font-size="9" fill="#1e1e1e">/</text>
<text transform="translate(16.3,170) rotate(-90)" font-size="8.3" fill="#1e1e1e">00</text>
<text transform="translate(16.5,160) rotate(-90)" font-size="13.3" fill="#1e1e1e">)</text>
<text x="287" y="270.8" font-size="17.8" fill="#1e1e1e">Temperature (<tspan font-size="10.8" dy="-7.6">o</tspan><tspan dy="7.6">C)</tspan></text>
</svg></body></html>
